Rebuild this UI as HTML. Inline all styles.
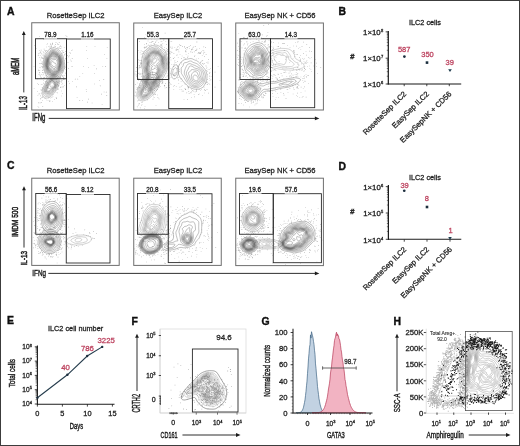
<!DOCTYPE html><html><head><meta charset="utf-8"><style>html,body{margin:0;padding:0;background:#fff;overflow:hidden;width:520px;height:446px;}svg{display:block;}</style></head><body><svg width="520" height="446" viewBox="0 0 520 446" font-family='"Liberation Sans", sans-serif'>
<rect x="0" y="0" width="520" height="446" fill="#fff"/>
<defs><filter id="soft" x="0" y="0" width="100%" height="100%"><feGaussianBlur stdDeviation="0.35"/></filter></defs>
<g filter="url(#soft)">
<text x="7.10" y="15.10" font-size="10.4" text-anchor="start" fill="#111" font-weight="bold" stroke="#111" stroke-width="0.4">A</text>
<line x1="23.80" y1="34.50" x2="23.80" y2="92.40" stroke="#1a1a1a" stroke-width="0.9"/>
<path d="M23.80,31.00 L21.90,35.00 L25.70,35.00Z" fill="#1a1a1a"/>
<text x="18.80" y="66.40" font-size="10.2" text-anchor="middle" fill="#1a1a1a" textLength="17.2" lengthAdjust="spacingAndGlyphs" transform="rotate(-90 18.80 66.40)" stroke="#1a1a1a" stroke-width="0.5">aMEM</text>
<text x="26.90" y="103.15" font-size="10.2" text-anchor="middle" fill="#1a1a1a" textLength="13.9" lengthAdjust="spacingAndGlyphs" transform="rotate(-90 26.90 103.15)" stroke="#1a1a1a" stroke-width="0.5">IL-13</text>
<text x="32.30" y="120.70" font-size="10.4" text-anchor="start" fill="#1a1a1a" textLength="13.0" lengthAdjust="spacingAndGlyphs" stroke="#1a1a1a" stroke-width="0.5">IFNg</text>
<line x1="48.75" y1="118.40" x2="315.40" y2="118.40" stroke="#1a1a1a" stroke-width="0.9"/>
<path d="M319.40,118.40 L314.90,116.50 L314.90,120.30Z" fill="#1a1a1a"/>
<rect x="31.75" y="22.75" width="87.55" height="87.25" stroke="#6e6e6e" stroke-width="1.0" fill="none"/>
<text x="75.60" y="17.70" font-size="7.6" text-anchor="middle" fill="#222" stroke="#222" stroke-width="0.28">RosetteSep ILC2</text>
<defs><clipPath id="cA1"><rect x="32.35" y="23.35" width="86.35" height="86.05000000000001"/></clipPath></defs>
<g fill="none" stroke="#444" stroke-width="0.45" stroke-opacity="0.75" stroke-linejoin="round" clip-path="url(#cA1)"><path d="M56.0,79.2 54.0,79.2 52.4,78.9 48.8,77.5 48.0,77.0 47.2,76.3 46.2,75.0 45.2,72.8 43.7,67.6 43.4,66.0 43.3,63.2 43.4,61.2 44.3,56.8 44.7,55.4 45.2,54.4 45.8,53.5 48.2,50.6 49.5,49.1 50.4,48.6 51.2,48.3 53.4,47.8 54.2,47.8 55.0,47.9 56.5,48.5 57.8,49.1 58.9,50.0 60.9,52.4 62.9,55.8 63.3,56.8 64.7,64.6 64.7,66.0 64.4,67.8 63.2,71.6 62.6,72.8 61.4,74.4 60.4,76.2 59.7,77.0 57.5,78.5 56.8,78.9 56.0,79.2Z"/><path d="M56.0,77.8 53.5,77.7 52.2,77.5 49.4,76.4 48.5,75.9 47.9,75.3 47.0,74.0 46.1,72.2 44.6,67.3 44.3,65.8 44.3,63.8 44.4,62.0 45.2,57.1 45.8,55.4 46.5,54.3 50.0,50.6 51.4,49.8 52.4,49.4 53.2,49.3 54.0,49.3 54.8,49.5 56.2,49.9 57.0,50.3 59.8,53.0 60.6,54.0 61.9,56.1 62.4,57.4 63.5,63.8 63.6,65.8 63.4,67.3 62.7,70.0 62.0,71.8 60.2,74.0 59.2,75.6 58.6,76.3 57.2,77.4 56.0,77.8Z"/><path d="M56.2,76.6 53.8,76.7 52.4,76.5 50.0,75.6 48.5,74.7 47.6,73.6 46.8,71.8 45.3,67.3 45.0,66.0 44.9,64.2 45.0,62.6 45.5,60.0 45.8,57.6 46.3,56.1 47.0,55.2 48.4,53.8 50.2,51.7 51.5,50.8 53.0,50.4 54.4,50.5 56.0,51.2 59.0,53.4 60.0,54.4 61.0,56.0 61.7,57.6 62.6,62.4 62.6,64.0 62.5,67.3 62.1,69.2 61.6,70.8 61.0,71.8 59.4,73.5 58.0,75.5 57.2,76.2 56.2,76.6Z"/><path d="M55.8,75.8 53.8,75.9 52.2,75.7 50.2,75.0 49.0,74.1 48.1,73.0 47.0,70.8 45.9,67.3 45.5,65.8 45.4,64.2 45.5,62.8 46.4,58.0 46.8,56.8 47.3,56.0 48.8,54.4 50.5,52.3 51.8,51.5 53.0,51.2 54.2,51.3 55.4,51.8 58.4,53.7 59.5,54.8 60.3,56.0 61.1,57.8 61.4,59.0 61.9,62.0 62.0,63.8 61.6,67.8 61.4,69.2 61.0,70.3 60.4,71.4 58.7,73.2 57.4,74.9 56.5,75.5 55.8,75.8Z"/><path d="M55.4,75.2 53.5,75.3 52.2,75.1 50.5,74.5 49.3,73.6 48.5,72.5 47.2,69.8 46.2,67.2 45.9,65.6 45.9,64.2 46.0,62.8 46.8,58.4 47.3,57.1 47.8,56.4 50.8,52.9 51.8,52.2 53.0,51.9 54.0,51.9 55.0,52.3 58.2,54.2 59.2,55.0 59.9,56.1 60.7,58.0 61.0,59.4 61.4,62.0 61.5,63.2 61.4,64.6 60.8,69.0 60.3,70.3 59.7,71.3 58.2,72.9 56.9,74.3 56.2,74.9 55.4,75.2Z"/><path d="M54.8,74.8 53.2,74.8 52.0,74.6 50.8,74.0 49.8,73.2 49.1,72.3 47.4,69.3 46.6,67.2 46.3,65.6 46.2,64.2 46.4,62.8 47.2,58.8 47.5,57.6 48.1,56.8 51.0,53.4 52.0,52.7 53.0,52.4 53.8,52.4 54.8,52.8 58.0,54.5 58.9,55.4 59.6,56.6 60.4,58.4 60.7,59.8 61.1,62.2 61.1,63.4 60.9,64.8 60.2,69.2 59.8,70.3 59.3,71.2 57.8,72.6 56.5,74.0 55.8,74.5 54.8,74.8Z"/><path d="M54.4,74.4 53.2,74.4 52.0,74.2 51.2,73.7 50.2,73.0 48.3,70.2 47.7,69.2 46.8,67.0 46.6,65.3 46.6,64.0 46.7,62.6 47.4,59.1 47.8,58.0 48.4,57.1 51.2,53.8 52.2,53.1 53.2,52.9 54.0,53.0 54.8,53.3 57.8,54.9 58.7,55.8 59.5,57.0 60.1,58.6 60.5,60.1 60.8,62.4 60.8,63.6 60.6,65.0 59.8,69.3 59.4,70.3 58.8,71.2 56.2,73.7 55.4,74.2 54.4,74.4Z"/><path d="M54.4,74.0 53.2,74.0 52.2,73.8 51.4,73.4 50.7,72.8 48.0,69.0 47.2,67.2 46.8,65.6 46.9,64.2 47.0,62.6 47.6,59.4 48.1,58.1 48.6,57.4 51.2,54.3 52.2,53.6 53.2,53.4 54.0,53.5 54.8,53.8 57.5,55.2 58.5,56.0 59.2,57.1 59.8,58.8 60.3,60.6 60.5,62.4 60.5,63.6 60.3,65.0 59.4,69.3 59.1,70.2 58.5,71.0 56.0,73.3 55.2,73.8 54.4,74.0Z"/><path d="M53.8,73.6 52.5,73.4 51.6,73.0 51.0,72.3 50.0,71.0 48.8,69.6 48.1,68.8 47.6,67.6 47.2,66.3 47.1,65.3 47.2,63.6 47.4,61.8 47.9,59.6 48.3,58.4 49.0,57.4 51.2,54.9 52.2,54.2 53.2,53.9 54.4,54.1 57.0,55.3 57.8,55.8 58.4,56.4 59.1,57.6 59.6,59.0 60.0,61.0 60.2,62.8 60.0,65.2 59.3,67.8 59.0,69.3 58.7,70.2 58.1,71.0 55.5,73.1 54.8,73.4 53.8,73.6Z"/><path d="M54.5,73.0 53.8,73.1 53.0,73.0 52.2,72.8 51.7,72.3 50.5,70.9 49.2,69.5 48.5,68.8 47.8,67.2 47.4,65.8 47.7,61.8 48.1,59.8 48.5,58.6 49.2,57.6 51.2,55.4 52.2,54.7 53.2,54.5 54.2,54.6 56.8,55.7 57.5,56.1 58.0,56.6 58.7,57.6 59.2,58.8 59.7,60.8 59.9,62.4 60.0,63.8 59.8,65.2 58.5,70.0 58.1,70.6 57.4,71.2 55.5,72.5 54.5,73.0Z"/><path d="M54.5,72.4 53.8,72.5 53.2,72.4 52.5,72.2 52.1,72.0 51.0,70.5 49.4,69.2 48.8,68.6 48.2,67.3 47.8,66.0 48.0,61.8 48.3,60.1 48.7,59.0 49.5,57.8 51.2,56.0 52.0,55.5 53.0,55.2 54.0,55.3 56.4,56.1 57.2,56.4 57.8,56.9 58.4,57.7 58.8,58.8 59.4,60.8 59.6,62.4 59.7,64.0 59.5,65.3 58.1,69.8 57.7,70.3 57.0,71.0 55.5,71.9 54.5,72.4Z"/><path d="M54.4,71.8 53.5,71.8 52.7,71.6 51.2,69.9 49.5,68.6 48.7,67.3 48.3,66.0 48.4,61.8 48.6,60.4 48.9,59.4 49.5,58.3 50.8,57.0 51.8,56.3 52.5,56.0 53.4,56.1 56.2,56.6 57.0,56.9 57.5,57.4 58.0,58.0 58.5,59.0 59.0,61.0 59.3,62.4 59.3,64.0 59.2,65.3 57.5,69.7 57.0,70.3 56.4,70.9 55.4,71.4 54.4,71.8Z"/><path d="M54.8,71.0 54.2,71.1 53.5,71.1 52.8,70.6 51.5,69.3 49.8,67.8 49.2,67.0 48.9,66.2 48.8,62.2 48.9,61.0 49.2,60.0 49.6,59.0 50.4,58.1 51.4,57.3 52.2,56.9 52.8,56.9 55.8,57.2 56.4,57.4 57.0,57.6 57.5,58.1 57.8,58.8 58.7,61.8 58.9,64.3 58.8,65.3 58.5,66.2 56.8,69.8 56.0,70.5 54.8,71.0Z"/><path d="M55.0,70.0 54.4,70.1 54.0,70.1 53.2,69.7 52.0,68.3 50.4,66.8 50.0,66.2 49.7,65.6 49.4,62.6 49.4,61.6 49.6,60.8 50.0,59.9 50.5,59.1 51.2,58.6 52.0,58.3 55.5,58.2 56.4,58.4 56.9,58.8 57.2,59.1 58.0,61.4 58.2,62.6 58.3,64.2 58.3,65.0 58.1,65.8 56.0,69.2 55.5,69.7 55.0,70.0Z"/><path d="M54.8,68.6 54.2,68.7 53.5,68.4 50.9,65.8 50.6,65.2 50.3,64.3 50.1,63.4 50.1,62.4 50.3,61.6 50.5,61.0 51.0,60.5 51.4,60.2 52.5,59.8 55.5,59.5 56.0,59.6 56.4,59.9 57.0,61.1 57.3,62.6 57.5,64.8 57.3,65.6 57.0,66.2 55.4,68.1 54.8,68.6Z"/><path d="M54.5,66.8 54.0,66.8 53.4,66.5 52.0,65.4 51.4,64.7 51.0,64.0 50.9,63.0 51.2,62.2 51.5,61.8 52.2,61.6 53.0,61.7 54.2,62.8 55.5,63.4 56.0,63.8 56.2,64.6 56.2,65.4 55.5,66.2 54.5,66.8Z"/></g>
<path fill="#999" d="M61.5 81.4h.60v.60h-.60zM61.9 76.2h.60v.60h-.60zM62.1 80.2h.60v.60h-.60zM39.5 69.9h.60v.60h-.60zM42.0 70.3h.60v.60h-.60zM53.4 90.7h.60v.60h-.60zM37.0 78.7h.60v.60h-.60zM43.9 77.3h.60v.60h-.60zM58.7 80.4h.60v.60h-.60zM67.1 55.3h.60v.60h-.60zM50.2 44.4h.60v.60h-.60zM41.5 63.0h.60v.60h-.60zM46.1 46.7h.60v.60h-.60zM57.1 82.4h.60v.60h-.60zM51.1 78.9h.60v.60h-.60zM61.3 50.4h.60v.60h-.60zM62.5 51.0h.60v.60h-.60zM41.1 74.5h.60v.60h-.60zM50.3 79.3h.60v.60h-.60zM43.7 56.4h.60v.60h-.60zM39.8 75.5h.60v.60h-.60zM40.9 77.6h.60v.60h-.60zM49.8 45.7h.60v.60h-.60zM51.6 85.7h.60v.60h-.60zM50.5 48.0h.60v.60h-.60zM43.2 80.5h.60v.60h-.60zM64.4 68.3h.60v.60h-.60zM72.2 66.0h.60v.60h-.60zM39.9 55.2h.60v.60h-.60zM62.8 52.5h.60v.60h-.60zM45.3 50.4h.60v.60h-.60zM45.9 91.2h.60v.60h-.60zM59.8 77.6h.60v.60h-.60zM65.0 51.1h.60v.60h-.60zM53.9 45.8h.60v.60h-.60zM44.9 81.1h.60v.60h-.60zM39.5 63.3h.60v.60h-.60zM50.7 38.5h.60v.60h-.60zM55.0 46.3h.60v.60h-.60zM54.7 82.1h.60v.60h-.60zM68.5 56.6h.60v.60h-.60zM63.9 54.8h.60v.60h-.60zM72.1 81.4h.60v.60h-.60zM50.3 81.6h.60v.60h-.60zM62.2 93.0h.60v.60h-.60zM49.0 83.9h.60v.60h-.60zM47.4 87.6h.60v.60h-.60zM45.6 52.7h.60v.60h-.60zM42.3 67.7h.60v.60h-.60zM34.4 44.9h.60v.60h-.60zM33.7 66.2h.60v.60h-.60zM43.5 69.4h.60v.60h-.60zM64.2 60.5h.60v.60h-.60zM51.0 44.8h.60v.60h-.60zM42.6 66.8h.60v.60h-.60zM69.3 52.0h.60v.60h-.60zM39.3 72.6h.60v.60h-.60zM38.7 74.1h.60v.60h-.60zM58.5 44.1h.60v.60h-.60zM65.4 58.4h.60v.60h-.60zM57.0 47.0h.60v.60h-.60zM39.1 57.4h.60v.60h-.60zM63.3 77.4h.60v.60h-.60zM43.4 78.2h.60v.60h-.60zM62.4 83.5h.60v.60h-.60zM42.8 51.2h.60v.60h-.60zM47.3 43.4h.60v.60h-.60zM51.7 79.6h.60v.60h-.60zM67.7 62.1h.60v.60h-.60zM40.5 52.6h.60v.60h-.60zM61.5 74.9h.60v.60h-.60zM42.2 57.5h.60v.60h-.60zM68.9 55.2h.60v.60h-.60zM57.0 44.4h.60v.60h-.60zM39.5 72.0h.60v.60h-.60zM42.0 66.6h.60v.60h-.60zM44.3 52.7h.60v.60h-.60zM47.7 77.5h.60v.60h-.60zM51.5 79.8h.60v.60h-.60zM46.2 85.5h.60v.60h-.60zM41.4 56.8h.60v.60h-.60zM40.5 63.2h.60v.60h-.60zM41.9 63.6h.60v.60h-.60zM59.2 46.4h.60v.60h-.60zM55.5 90.4h.60v.60h-.60zM39.3 50.2h.60v.60h-.60zM38.5 53.6h.60v.60h-.60zM62.7 75.9h.60v.60h-.60zM35.4 52.5h.60v.60h-.60zM37.2 83.4h.60v.60h-.60zM46.2 80.6h.60v.60h-.60zM49.0 80.7h.60v.60h-.60zM68.2 81.5h.60v.60h-.60zM72.2 49.7h.60v.60h-.60zM52.3 44.3h.60v.60h-.60zM57.4 84.1h.60v.60h-.60zM43.7 73.4h.60v.60h-.60zM42.6 74.7h.60v.60h-.60zM43.3 58.3h.60v.60h-.60zM45.2 51.3h.60v.60h-.60zM65.7 58.5h.60v.60h-.60zM64.0 66.0h.60v.60h-.60zM61.9 52.8h.60v.60h-.60zM56.5 81.3h.60v.60h-.60zM43.2 52.2h.60v.60h-.60zM40.8 49.8h.60v.60h-.60zM35.9 48.4h.60v.60h-.60zM42.9 72.5h.60v.60h-.60zM59.6 77.0h.60v.60h-.60zM41.8 58.4h.60v.60h-.60zM39.7 67.3h.60v.60h-.60zM68.5 56.7h.60v.60h-.60zM52.1 85.7h.60v.60h-.60zM71.5 66.4h.60v.60h-.60zM55.7 42.3h.60v.60h-.60zM60.4 76.6h.60v.60h-.60zM68.3 68.3h.60v.60h-.60zM66.0 77.2h.60v.60h-.60zM42.8 55.3h.60v.60h-.60zM39.4 36.4h.60v.60h-.60zM63.5 52.3h.60v.60h-.60zM65.9 67.2h.60v.60h-.60zM43.0 74.5h.60v.60h-.60zM39.8 52.5h.60v.60h-.60zM65.3 58.7h.60v.60h-.60zM42.1 72.1h.60v.60h-.60zM46.2 75.0h.60v.60h-.60zM60.9 47.7h.60v.60h-.60zM52.1 43.3h.60v.60h-.60zM45.8 76.8h.60v.60h-.60zM40.5 51.5h.60v.60h-.60zM65.6 34.9h.60v.60h-.60zM51.4 46.9h.60v.60h-.60zM60.1 48.3h.60v.60h-.60zM55.0 87.6h.60v.60h-.60zM51.1 46.3h.60v.60h-.60zM43.6 70.2h.60v.60h-.60zM52.2 42.8h.60v.60h-.60zM41.8 61.8h.60v.60h-.60zM43.8 48.8h.60v.60h-.60zM50.2 78.5h.60v.60h-.60zM62.6 75.3h.60v.60h-.60zM44.9 74.9h.60v.60h-.60zM63.7 79.1h.60v.60h-.60zM55.4 44.3h.60v.60h-.60zM46.7 43.9h.60v.60h-.60zM40.1 76.5h.60v.60h-.60zM60.0 86.8h.60v.60h-.60zM42.2 96.8h.60v.60h-.60zM64.2 53.9h.60v.60h-.60zM43.6 56.7h.60v.60h-.60zM65.6 69.5h.60v.60h-.60zM44.8 91.0h.60v.60h-.60zM45.9 50.0h.60v.60h-.60zM60.0 45.0h.60v.60h-.60zM63.9 47.4h.60v.60h-.60zM38.1 69.8h.60v.60h-.60zM58.7 47.1h.60v.60h-.60zM46.9 86.9h.60v.60h-.60zM65.6 58.0h.60v.60h-.60zM52.1 80.0h.60v.60h-.60zM63.7 78.2h.60v.60h-.60zM41.6 66.1h.60v.60h-.60zM60.6 81.2h.60v.60h-.60zM39.8 74.7h.60v.60h-.60zM60.8 46.5h.60v.60h-.60zM37.9 55.3h.60v.60h-.60zM58.1 85.2h.60v.60h-.60zM40.8 57.7h.60v.60h-.60zM66.3 71.6h.60v.60h-.60zM50.4 46.8h.60v.60h-.60zM65.4 66.8h.60v.60h-.60zM50.3 78.4h.60v.60h-.60zM57.0 43.5h.60v.60h-.60zM66.6 36.3h.60v.60h-.60zM65.1 72.8h.60v.60h-.60zM49.9 31.9h.60v.60h-.60zM48.6 46.3h.60v.60h-.60zM44.0 49.9h.60v.60h-.60zM57.8 48.1h.60v.60h-.60zM60.1 87.3h.60v.60h-.60zM58.4 81.8h.60v.60h-.60zM51.3 46.2h.60v.60h-.60zM59.1 80.9h.60v.60h-.60zM42.8 53.8h.60v.60h-.60zM41.8 61.6h.60v.60h-.60zM46.7 77.3h.60v.60h-.60zM57.7 78.1h.60v.60h-.60zM56.6 79.0h.60v.60h-.60zM40.9 83.9h.60v.60h-.60zM60.3 45.9h.60v.60h-.60zM42.7 69.7h.60v.60h-.60zM40.2 59.7h.60v.60h-.60zM64.9 53.6h.60v.60h-.60zM52.9 47.5h.60v.60h-.60zM60.1 48.2h.60v.60h-.60zM66.0 48.1h.60v.60h-.60zM50.2 43.6h.60v.60h-.60zM63.4 86.6h.60v.60h-.60zM53.3 81.1h.60v.60h-.60zM70.9 60.8h.60v.60h-.60zM44.4 71.8h.60v.60h-.60zM42.4 64.5h.60v.60h-.60zM40.8 63.2h.60v.60h-.60zM46.6 50.5h.60v.60h-.60zM44.6 71.6h.60v.60h-.60zM61.1 79.9h.60v.60h-.60zM44.1 77.0h.60v.60h-.60zM38.6 70.2h.60v.60h-.60zM47.0 81.9h.60v.60h-.60zM58.9 42.3h.60v.60h-.60zM43.5 39.3h.60v.60h-.60zM59.0 48.4h.60v.60h-.60zM49.2 47.7h.60v.60h-.60zM53.8 80.5h.60v.60h-.60zM41.2 53.6h.60v.60h-.60zM38.7 53.3h.60v.60h-.60zM42.4 58.4h.60v.60h-.60zM62.6 50.3h.60v.60h-.60zM40.7 77.3h.60v.60h-.60z"/>
<g fill="none" stroke="#444" stroke-width="0.45" stroke-opacity="0.5625" stroke-linejoin="round" clip-path="url(#cA1)"><path d="M47.4,98.0 46.0,98.1 45.1,98.0 44.5,97.8 44.0,97.4 43.4,97.0 42.7,95.8 42.2,94.0 42.3,90.8 42.5,89.2 43.0,87.5 44.7,84.0 45.9,81.8 47.5,79.8 49.8,77.4 51.5,76.0 53.8,75.0 54.8,74.7 55.5,74.7 56.4,74.8 57.0,75.0 57.9,75.6 58.5,76.3 59.0,77.2 59.2,78.2 59.3,80.3 59.2,83.0 59.0,84.6 58.5,86.2 57.0,89.0 56.2,90.4 54.5,92.5 53.0,94.3 51.5,95.7 50.0,96.9 48.8,97.5 47.4,98.0Z"/><path d="M47.5,96.6 46.1,96.7 45.1,96.4 44.4,95.8 43.7,94.8 43.3,93.4 43.1,90.5 43.2,89.4 43.7,88.0 46.3,82.3 47.5,80.8 49.4,78.9 51.2,77.4 53.2,76.4 54.5,76.0 55.4,76.1 56.0,76.2 56.8,76.7 57.4,77.3 57.8,78.2 58.2,79.3 58.3,81.2 58.3,83.3 58.1,84.8 57.7,86.0 55.8,89.5 52.5,93.5 51.4,94.6 50.2,95.5 48.8,96.2 47.5,96.6Z"/><path d="M47.1,95.4 46.4,95.3 45.8,95.1 45.1,94.6 44.8,94.1 44.2,93.0 43.9,90.5 43.9,89.5 44.2,88.5 46.4,83.6 47.0,82.3 48.0,81.2 49.5,79.6 50.8,78.6 52.0,77.9 53.5,77.3 54.5,77.1 55.4,77.3 56.0,77.8 56.6,78.6 57.1,79.6 57.4,80.8 57.5,82.3 57.5,84.0 57.3,85.2 56.9,86.3 55.3,89.2 51.7,93.4 50.8,94.1 49.8,94.6 48.4,95.1 47.1,95.4Z"/><path d="M48.0,94.2 47.0,94.2 46.1,94.0 45.5,93.5 45.0,92.8 44.7,91.5 44.5,90.2 44.6,89.2 45.0,88.2 47.1,83.2 47.8,82.2 48.8,81.1 50.4,79.6 51.8,78.8 53.5,78.2 54.2,78.1 54.8,78.2 55.4,78.6 55.9,79.3 56.4,80.3 56.6,81.3 56.9,82.8 56.9,84.2 56.8,85.2 56.5,86.2 55.8,87.4 55.0,88.7 53.0,90.8 51.4,92.8 50.8,93.3 50.0,93.7 48.0,94.2Z"/><path d="M48.5,93.4 47.5,93.5 46.8,93.4 46.1,93.1 45.6,92.5 45.2,91.8 45.0,90.5 45.0,89.5 45.3,88.5 47.4,83.6 47.9,82.6 48.8,81.6 50.4,80.1 51.5,79.4 53.2,78.9 53.8,78.9 54.4,79.1 55.0,79.5 55.4,80.0 55.8,80.8 56.1,81.8 56.4,83.2 56.4,84.3 56.3,85.3 56.1,86.2 55.4,87.4 54.7,88.4 52.5,90.5 51.2,92.2 50.2,92.9 48.5,93.4Z"/><path d="M47.8,92.8 46.8,92.6 46.1,92.2 45.7,91.4 45.5,90.2 45.7,89.0 47.8,83.7 48.3,82.8 49.0,81.9 50.0,81.0 51.0,80.2 51.8,79.8 52.5,79.6 53.4,79.7 54.0,79.8 54.5,80.3 55.0,80.8 55.4,81.6 55.7,82.6 55.9,83.8 56.0,84.8 55.9,85.6 55.6,86.3 55.0,87.4 54.4,88.2 52.1,90.2 50.5,91.9 49.5,92.4 47.8,92.8Z"/><path d="M48.5,92.0 47.5,92.1 46.8,91.8 46.2,91.2 46.0,90.4 46.2,89.4 48.0,84.2 49.0,82.5 49.7,81.8 50.5,81.0 51.4,80.5 52.0,80.3 52.8,80.3 53.4,80.4 53.9,80.8 54.4,81.2 54.8,82.0 55.1,82.8 55.5,84.0 55.5,84.8 55.5,85.6 55.3,86.2 54.7,87.2 53.8,88.2 51.6,89.8 50.0,91.4 49.4,91.7 48.5,92.0Z"/><path d="M48.0,91.6 47.4,91.5 46.8,91.2 46.5,90.5 46.5,90.0 48.0,85.2 48.5,83.8 49.5,82.3 51.0,81.1 51.5,80.8 52.2,80.6 53.2,80.8 53.8,81.2 54.2,81.8 55.0,83.3 55.3,85.0 55.2,85.8 54.9,86.3 54.4,87.2 53.8,87.9 53.0,88.5 51.4,89.4 49.8,90.9 49.0,91.3 48.0,91.6Z"/><path d="M48.2,91.0 47.7,91.0 47.3,90.8 47.1,90.4 47.0,90.0 48.0,86.3 48.8,84.0 49.7,82.6 50.8,81.6 51.4,81.2 52.0,81.0 52.5,81.1 53.0,81.2 53.5,81.6 54.0,82.1 54.7,83.8 55.0,85.2 54.7,86.3 54.1,87.2 53.4,87.9 51.0,89.1 49.4,90.5 48.8,90.8 48.2,91.0Z"/><path d="M49.2,88.8 48.8,88.9 48.6,88.5 48.5,87.2 48.9,85.3 49.5,83.8 50.4,82.6 51.2,81.9 52.0,81.6 52.8,81.8 53.6,82.6 54.4,84.0 54.6,85.2 54.4,86.2 53.8,87.0 53.0,87.6 52.2,87.9 50.2,88.3 49.2,88.8Z"/><path d="M52.5,87.2 51.8,87.2 51.1,87.0 50.2,86.3 50.0,85.8 50.1,84.8 50.6,83.6 51.3,82.8 52.0,82.5 52.5,82.6 53.2,83.2 53.8,84.1 54.0,85.0 54.0,85.6 53.8,86.3 53.2,86.9 52.5,87.2Z"/></g>
<path fill="#999" d="M61.2 90.7h.60v.60h-.60zM40.9 90.1h.60v.60h-.60zM47.7 100.5h.60v.60h-.60zM49.1 70.5h.60v.60h-.60zM41.9 87.1h.60v.60h-.60zM61.9 72.0h.60v.60h-.60zM45.9 76.6h.60v.60h-.60zM40.8 89.1h.60v.60h-.60zM49.6 100.2h.60v.60h-.60zM63.4 78.9h.60v.60h-.60zM48.2 97.6h.60v.60h-.60zM64.0 85.0h.60v.60h-.60zM54.1 68.4h.60v.60h-.60zM55.8 97.2h.60v.60h-.60zM44.1 97.7h.60v.60h-.60zM57.1 89.1h.60v.60h-.60zM45.0 72.0h.60v.60h-.60zM61.8 86.6h.60v.60h-.60zM61.5 82.0h.60v.60h-.60zM41.6 97.1h.60v.60h-.60zM58.3 89.5h.60v.60h-.60zM52.5 72.7h.60v.60h-.60zM40.9 92.8h.60v.60h-.60zM49.2 97.5h.60v.60h-.60zM66.1 66.2h.60v.60h-.60zM40.5 98.3h.60v.60h-.60zM61.6 84.0h.60v.60h-.60zM37.9 93.7h.60v.60h-.60zM53.9 73.9h.60v.60h-.60zM40.2 98.7h.60v.60h-.60zM45.9 80.9h.60v.60h-.60zM37.6 94.9h.60v.60h-.60zM38.5 107.4h.60v.60h-.60zM55.5 91.7h.60v.60h-.60zM37.0 90.9h.60v.60h-.60zM59.6 81.7h.60v.60h-.60zM59.6 71.4h.60v.60h-.60zM39.8 102.6h.60v.60h-.60zM37.7 105.9h.60v.60h-.60zM51.6 97.1h.60v.60h-.60zM41.2 102.3h.60v.60h-.60zM54.8 71.4h.60v.60h-.60zM39.0 93.6h.60v.60h-.60zM60.7 63.0h.60v.60h-.60zM40.1 95.6h.60v.60h-.60zM51.9 70.5h.60v.60h-.60zM55.0 74.5h.60v.60h-.60zM45.9 99.7h.60v.60h-.60zM54.4 71.3h.60v.60h-.60zM38.5 102.7h.60v.60h-.60zM50.4 97.7h.60v.60h-.60zM58.5 85.2h.60v.60h-.60zM71.9 58.1h.60v.60h-.60zM49.4 72.0h.60v.60h-.60zM58.3 86.4h.60v.60h-.60zM38.0 84.1h.60v.60h-.60zM55.0 74.3h.60v.60h-.60zM43.1 77.0h.60v.60h-.60zM56.7 92.4h.60v.60h-.60zM57.7 88.3h.60v.60h-.60zM55.1 67.5h.60v.60h-.60zM33.8 88.0h.60v.60h-.60zM51.4 73.3h.60v.60h-.60zM53.1 94.0h.60v.60h-.60zM49.6 100.6h.60v.60h-.60zM42.3 88.6h.60v.60h-.60zM60.8 70.6h.60v.60h-.60zM64.1 75.5h.60v.60h-.60zM47.5 72.6h.60v.60h-.60zM61.7 86.9h.60v.60h-.60zM60.8 79.7h.60v.60h-.60zM52.5 73.8h.60v.60h-.60zM59.3 83.0h.60v.60h-.60zM63.5 77.6h.60v.60h-.60zM52.0 101.2h.60v.60h-.60zM56.0 97.8h.60v.60h-.60zM54.4 68.8h.60v.60h-.60zM38.2 102.4h.60v.60h-.60zM60.3 77.1h.60v.60h-.60zM63.3 78.0h.60v.60h-.60zM54.8 74.3h.60v.60h-.60zM42.8 96.7h.60v.60h-.60zM62.7 67.0h.60v.60h-.60zM54.0 99.0h.60v.60h-.60zM52.6 96.5h.60v.60h-.60zM57.5 92.7h.60v.60h-.60zM45.9 81.0h.60v.60h-.60zM42.5 106.3h.60v.60h-.60zM46.8 78.8h.60v.60h-.60zM45.0 98.2h.60v.60h-.60zM49.5 71.4h.60v.60h-.60zM42.2 100.2h.60v.60h-.60zM60.6 78.4h.60v.60h-.60zM43.3 82.8h.60v.60h-.60zM52.3 94.7h.60v.60h-.60zM56.3 98.5h.60v.60h-.60zM49.5 101.3h.60v.60h-.60zM41.8 84.0h.60v.60h-.60zM53.6 72.7h.60v.60h-.60zM61.0 95.7h.60v.60h-.60z"/>
<rect x="35.50" y="38.75" width="31.00" height="40.00" stroke="#2a2a2a" stroke-width="0.9" fill="none"/>
<rect x="66.50" y="39.00" width="43.75" height="69.60" stroke="#2a2a2a" stroke-width="0.9" fill="none"/>
<rect x="44.00" y="38.05" width="13" height="1.4" fill="#fff" fill-opacity="0.72"/>
<text x="50.50" y="37.20" font-size="6.3" text-anchor="middle" fill="#222" stroke="#222" stroke-width="0.28">78.9</text>
<rect x="81.00" y="38.30" width="13" height="1.4" fill="#fff" fill-opacity="0.72"/>
<text x="87.50" y="37.20" font-size="6.3" text-anchor="middle" fill="#222" stroke="#222" stroke-width="0.28">1.16</text>
<path fill="#8a8a8a" d="M105.4 66.3h.60v.60h-.60zM99.1 80.2h.60v.60h-.60zM79.5 100.1h.60v.60h-.60zM102.5 66.5h.60v.60h-.60zM106.6 58.2h.60v.60h-.60zM99.9 85.6h.60v.60h-.60zM86.5 46.5h.60v.60h-.60zM103.5 79.1h.60v.60h-.60zM83.3 66.0h.60v.60h-.60zM93.8 65.5h.60v.60h-.60zM88.0 67.0h.60v.60h-.60zM69.9 59.7h.60v.60h-.60zM101.3 93.8h.60v.60h-.60zM94.4 72.9h.60v.60h-.60zM106.5 95.1h.60v.60h-.60zM77.5 78.8h.60v.60h-.60zM105.9 91.8h.60v.60h-.60zM82.5 72.9h.60v.60h-.60zM88.4 98.8h.60v.60h-.60zM96.3 68.6h.60v.60h-.60zM86.2 50.2h.60v.60h-.60zM87.4 58.4h.60v.60h-.60zM71.4 50.2h.60v.60h-.60zM76.3 86.6h.60v.60h-.60zM74.9 78.8h.60v.60h-.60zM91.8 102.7h.60v.60h-.60zM86.0 91.2h.60v.60h-.60zM69.1 83.4h.60v.60h-.60zM106.9 47.5h.60v.60h-.60zM104.0 54.0h.60v.60h-.60zM94.7 46.2h.60v.60h-.60zM70.2 52.8h.60v.60h-.60zM103.8 91.7h.60v.60h-.60zM94.2 83.7h.60v.60h-.60zM79.5 76.4h.60v.60h-.60zM87.0 101.8h.60v.60h-.60zM85.9 89.5h.60v.60h-.60zM82.0 100.2h.60v.60h-.60zM101.8 104.2h.60v.60h-.60zM76.8 96.9h.60v.60h-.60z"/>
<rect x="133.75" y="23.00" width="87.50" height="87.00" stroke="#6e6e6e" stroke-width="1.0" fill="none"/>
<text x="178.00" y="17.70" font-size="7.6" text-anchor="middle" fill="#222" stroke="#222" stroke-width="0.28">EasySep ILC2</text>
<defs><clipPath id="cA2"><rect x="134.35" y="23.6" width="86.30000000000001" height="85.80000000000001"/></clipPath></defs>
<g fill="none" stroke="#444" stroke-width="0.45" stroke-opacity="0.675" stroke-linejoin="round" clip-path="url(#cA2)"><path d="M150.3,90.2 149.3,90.3 148.3,90.1 146.3,89.4 145.3,88.9 144.7,88.4 144.2,87.8 143.6,86.8 143.2,85.6 142.8,84.0 142.7,82.4 142.7,79.6 142.4,76.4 142.5,69.6 141.6,66.4 141.4,65.0 141.6,60.6 142.6,55.8 143.0,54.2 144.0,52.2 145.5,50.4 147.8,48.2 149.3,47.1 150.6,46.4 151.9,45.8 153.8,45.3 155.2,45.1 156.3,45.1 157.9,45.5 159.6,46.4 161.2,47.8 163.2,49.2 165.6,51.8 166.2,53.0 166.8,56.2 168.6,61.2 168.9,62.6 168.8,63.8 168.2,66.6 167.2,69.8 166.2,72.4 164.9,74.6 163.6,77.4 161.6,79.8 159.4,83.6 157.1,86.4 155.3,88.1 153.9,88.9 150.3,90.2Z"/><path d="M150.8,88.8 149.8,88.9 148.8,88.8 147.6,88.3 146.6,87.7 145.9,87.0 144.8,85.4 144.3,84.6 144.0,83.6 143.7,82.4 143.6,81.4 143.6,77.0 143.9,74.4 143.7,72.2 143.8,70.0 143.6,69.0 142.9,66.8 142.7,65.8 142.7,64.6 142.9,61.2 143.7,58.2 144.0,55.8 144.3,54.8 144.9,53.8 147.3,50.1 148.6,49.1 151.2,47.8 154.9,46.8 156.3,46.7 157.3,46.9 158.3,47.4 159.9,49.2 162.3,50.6 163.9,52.0 164.6,52.7 165.0,53.6 165.9,56.9 167.5,61.6 167.7,62.8 167.6,64.0 167.2,66.0 166.1,69.6 165.5,71.0 163.6,74.0 162.5,76.6 160.8,78.8 159.2,81.5 156.7,85.0 155.2,86.7 153.6,87.7 150.8,88.8Z"/><path d="M150.6,87.8 149.8,87.8 148.9,87.7 148.2,87.2 147.6,86.8 145.3,84.2 144.9,83.4 144.5,82.4 144.4,81.0 144.6,77.6 145.1,74.8 144.6,72.2 144.5,69.4 143.7,66.2 143.8,61.0 144.1,60.0 145.5,55.4 146.9,53.0 147.8,51.4 148.3,50.6 149.3,49.9 151.3,49.0 153.9,48.6 155.8,48.2 156.6,48.2 157.6,48.5 159.2,49.9 161.2,51.2 163.3,53.4 163.9,54.1 164.9,56.3 166.6,61.6 166.8,62.8 166.7,64.2 166.4,65.8 165.3,69.4 164.9,70.4 164.3,71.4 162.7,73.6 161.5,76.4 160.1,78.2 158.9,80.2 157.5,82.0 156.0,84.4 154.9,85.5 153.9,86.3 152.9,86.9 151.6,87.5 150.6,87.8Z"/><path d="M150.9,86.8 150.2,86.9 149.6,86.8 148.8,86.4 147.9,85.9 146.9,85.0 146.0,83.8 145.3,82.8 145.1,82.0 145.0,81.2 145.0,80.2 145.4,77.6 146.0,75.8 146.0,75.0 145.3,72.2 145.2,69.6 144.6,66.8 144.7,64.4 144.6,61.4 144.7,60.4 145.2,58.4 145.9,56.6 148.5,52.2 149.2,51.4 150.2,50.8 151.9,50.0 155.3,49.4 156.3,49.4 157.3,49.8 160.3,51.6 163.8,55.4 164.5,57.0 165.8,61.8 166.0,63.0 165.9,64.2 165.6,65.4 164.4,69.6 163.6,71.0 161.8,73.6 161.2,75.6 160.8,76.4 159.5,78.0 158.3,79.9 156.8,81.6 155.8,83.3 155.2,84.1 154.2,85.0 152.9,85.9 151.9,86.5 150.9,86.8Z"/><path d="M150.9,86.0 150.3,86.0 149.6,85.9 148.8,85.5 147.8,84.8 146.9,84.1 146.2,83.2 145.8,82.4 145.6,81.8 145.6,80.4 146.8,75.2 146.7,74.4 145.9,72.0 145.7,69.6 145.3,67.4 145.6,64.6 145.6,62.4 145.4,60.6 145.4,59.6 145.7,58.4 146.3,57.2 148.7,53.4 149.8,52.2 151.2,51.3 152.8,50.7 154.8,50.4 156.2,50.4 157.9,51.0 159.6,51.9 160.1,52.4 161.3,54.0 162.8,55.4 163.5,56.2 164.1,57.6 165.0,61.8 165.1,63.2 165.0,64.4 163.8,69.2 162.8,71.0 161.0,73.4 160.8,74.0 160.5,75.6 160.1,76.4 158.0,79.4 156.4,81.2 155.3,82.8 154.8,83.5 152.4,85.4 151.8,85.8 150.9,86.0Z"/><path d="M151.3,85.2 150.8,85.4 149.9,85.3 149.2,85.0 148.2,84.5 147.3,83.8 146.8,83.2 146.2,82.4 146.0,81.8 146.0,80.6 146.7,77.6 147.2,76.0 147.3,75.2 147.2,74.2 146.4,72.0 146.2,69.8 145.8,67.8 145.9,67.0 146.2,65.6 146.3,64.6 146.3,62.0 146.0,60.2 146.0,59.2 146.3,58.2 146.7,57.4 147.8,55.8 148.9,54.0 149.9,52.8 151.2,52.0 152.8,51.4 154.3,51.0 155.8,51.0 157.9,51.6 159.2,52.2 159.8,52.8 160.9,54.4 162.3,55.6 163.0,56.4 163.4,57.2 163.7,58.2 164.4,62.4 164.4,64.2 163.3,68.6 162.0,71.0 160.4,73.2 160.1,74.0 160.0,75.4 159.6,76.4 157.8,79.1 156.1,80.8 154.6,83.0 152.3,84.7 151.3,85.2Z"/><path d="M151.2,84.6 150.6,84.7 149.8,84.6 148.9,84.4 148.2,83.9 147.6,83.4 147.0,82.8 146.6,82.2 146.4,81.6 146.5,80.6 147.2,77.6 147.7,76.0 147.8,75.2 147.6,74.0 146.8,71.8 146.3,68.0 146.3,67.2 146.8,65.4 146.9,62.0 146.9,61.2 146.5,59.8 146.5,59.0 146.7,58.2 147.0,57.6 148.2,56.1 149.3,54.2 150.3,53.2 151.3,52.5 152.9,51.8 154.3,51.5 155.6,51.6 157.8,52.0 158.8,52.4 159.4,53.0 160.6,54.6 162.1,56.0 162.6,56.6 163.0,57.4 163.2,58.2 163.4,60.0 163.9,62.4 163.9,64.0 162.8,68.1 161.5,69.8 160.8,71.4 159.6,73.2 159.4,73.8 159.5,75.4 159.1,76.4 157.6,78.7 155.8,80.6 154.3,82.6 152.3,84.0 151.2,84.6Z"/><path d="M151.2,84.1 150.6,84.2 149.9,84.2 148.6,83.7 147.5,82.8 147.1,82.2 146.9,81.6 146.9,80.8 147.5,78.0 148.1,76.0 148.2,75.2 148.0,73.8 147.2,71.4 146.6,68.0 146.7,67.2 147.2,65.6 147.2,63.4 147.4,61.6 147.4,60.8 147.0,59.4 147.0,58.8 147.4,57.8 148.5,56.2 149.6,54.6 150.2,53.8 151.2,53.1 152.8,52.3 154.2,52.0 155.2,52.0 157.3,52.3 158.3,52.7 158.9,53.1 160.2,54.6 161.9,56.2 162.5,57.0 162.8,58.0 163.0,60.2 163.4,62.4 163.4,64.0 162.3,67.4 161.9,68.0 160.9,68.9 160.6,69.4 160.1,71.2 158.9,73.2 158.8,74.0 159.0,75.6 158.5,76.8 157.3,78.6 155.7,80.2 154.2,82.3 153.2,83.0 151.2,84.1Z"/><path d="M151.2,83.4 149.9,83.6 148.8,83.2 148.2,82.8 147.8,82.4 147.4,81.6 147.4,81.0 147.9,78.0 148.5,76.0 148.6,75.0 148.4,73.6 147.6,71.2 147.0,68.2 147.1,67.4 147.6,65.6 147.6,63.4 147.9,61.2 147.8,60.4 147.5,59.2 147.5,58.6 147.9,57.8 149.9,54.7 150.6,54.0 151.4,53.4 152.9,52.7 154.2,52.4 154.9,52.5 157.6,52.8 158.2,53.0 158.8,53.4 160.1,55.0 161.6,56.4 162.2,57.2 162.5,58.2 162.6,60.2 163.0,62.4 163.0,63.8 161.7,67.0 161.3,67.5 160.2,68.4 159.9,69.0 159.4,71.2 158.2,73.6 158.1,74.2 158.4,75.4 158.4,75.8 158.2,76.6 157.6,77.6 156.9,78.6 155.3,80.2 153.9,82.0 152.9,82.7 151.2,83.4Z"/><path d="M150.9,82.8 149.9,82.9 148.9,82.7 148.3,82.2 148.0,81.4 148.2,78.2 148.9,76.0 149.0,75.0 148.8,73.0 147.9,70.6 147.4,68.2 147.5,67.4 147.9,65.8 147.9,63.4 148.3,61.0 148.3,60.2 148.1,59.0 148.1,58.4 148.5,57.6 150.2,55.0 150.9,54.3 151.9,53.6 153.2,53.1 154.2,52.9 157.6,53.2 158.2,53.4 158.7,53.8 159.8,55.0 161.2,56.4 161.8,57.2 162.1,58.2 162.3,60.2 162.6,62.2 162.6,63.6 162.2,64.6 161.3,66.2 160.9,66.8 159.8,67.8 159.3,68.6 158.9,71.2 157.6,73.8 157.5,74.6 157.8,76.0 157.6,76.8 157.2,77.6 156.6,78.4 155.3,79.8 153.8,81.7 152.8,82.3 150.9,82.8Z"/><path d="M151.3,82.0 150.2,82.0 149.3,81.7 148.9,81.2 148.7,80.2 148.6,78.2 148.9,77.4 149.5,76.0 149.6,75.0 149.4,72.6 148.3,70.2 147.9,68.4 148.0,67.6 148.4,66.0 148.2,63.6 148.8,60.6 148.7,58.4 149.2,57.4 150.3,55.7 151.2,54.9 152.2,54.2 153.2,53.7 154.2,53.5 157.3,53.6 157.9,53.8 158.6,54.2 161.0,56.6 161.5,57.4 161.8,58.4 161.9,60.2 162.2,62.2 162.2,63.2 161.9,64.0 161.3,65.0 160.8,65.7 159.4,67.0 158.9,68.0 158.7,68.8 158.4,71.0 157.1,73.4 156.8,74.4 156.8,75.0 157.1,76.4 157.0,77.0 156.7,77.6 156.3,78.2 154.9,79.6 153.6,81.3 152.8,81.7 151.3,82.0Z"/><path d="M152.2,81.2 150.9,81.2 150.0,80.8 149.4,80.0 149.2,79.0 149.2,78.4 149.3,77.8 150.4,76.2 150.6,75.6 150.4,72.4 149.0,70.0 148.7,69.2 148.5,68.4 149.0,66.2 148.7,64.2 148.7,63.4 149.3,60.6 149.4,58.4 149.8,57.4 150.8,56.2 151.3,55.7 153.2,54.5 153.8,54.2 154.6,54.1 156.6,54.0 157.3,54.1 157.9,54.3 158.3,54.6 160.5,56.6 161.1,57.4 161.3,58.4 161.4,60.0 161.8,62.2 161.7,63.0 161.5,63.6 161.2,64.3 160.6,65.0 159.1,66.2 158.3,67.6 158.1,68.6 157.9,71.0 157.5,71.8 156.2,74.0 155.9,74.8 155.9,75.4 156.3,76.6 156.2,77.5 155.8,78.0 154.6,79.2 153.4,80.6 152.9,81.0 152.2,81.2Z"/><path d="M154.2,75.1 153.8,75.1 153.2,74.9 152.4,74.4 152.2,73.8 152.5,72.2 152.3,71.6 151.9,71.2 150.3,70.3 149.7,69.4 149.5,68.4 149.9,67.0 149.9,66.4 149.2,64.4 149.2,63.2 149.9,60.6 150.3,58.4 150.9,57.4 154.2,55.0 155.3,54.7 156.9,54.6 157.6,54.8 158.2,55.2 159.9,56.8 160.5,57.4 160.7,58.2 160.9,60.0 161.2,61.8 161.2,62.6 161.0,63.4 160.6,64.0 158.8,65.4 158.2,66.2 157.3,68.4 157.2,70.6 156.9,71.5 156.3,72.6 155.3,74.0 154.8,74.6 154.2,75.1Z"/><path d="M152.3,80.3 151.3,80.3 150.8,80.1 150.4,79.8 150.0,79.0 150.0,78.6 150.2,78.1 150.6,77.7 151.2,77.5 154.3,77.4 154.4,77.6 154.3,77.8 153.4,79.4 152.9,79.9 152.3,80.3Z"/><path d="M153.2,69.4 152.8,69.5 152.2,69.5 151.6,69.2 151.3,68.8 151.3,68.4 151.3,68.0 152.2,66.6 152.2,66.2 152.0,65.8 150.8,65.0 150.2,64.4 149.9,63.6 150.0,62.8 151.1,59.6 151.4,59.0 151.9,58.4 153.2,57.3 154.2,56.2 154.8,55.8 155.8,55.5 156.9,55.6 157.8,56.0 158.7,56.8 159.6,57.8 160.4,61.4 160.4,62.6 160.2,63.1 159.8,63.6 158.3,64.5 157.9,64.9 156.8,67.0 156.2,67.7 155.6,68.1 154.3,68.6 153.2,69.4Z"/><path d="M155.3,66.2 154.8,66.1 153.5,64.8 151.7,63.8 151.4,63.4 151.3,62.8 151.7,60.8 152.3,59.6 154.8,57.1 155.3,56.8 155.9,56.7 156.5,56.8 156.9,57.1 158.0,58.2 159.0,60.4 159.3,61.2 159.3,61.8 159.2,62.2 158.9,62.6 157.6,63.3 157.2,63.6 156.2,65.7 155.8,66.1 155.3,66.2Z"/><path d="M154.6,63.2 154.2,63.3 153.8,63.3 153.3,63.1 152.9,62.8 152.6,62.0 152.7,61.0 153.0,60.2 153.8,59.4 154.9,58.5 155.3,58.3 155.8,58.3 156.2,58.5 156.7,59.0 157.0,59.6 157.1,60.2 156.9,60.6 155.8,61.5 154.9,62.8 154.6,63.2Z"/></g>
<path fill="#999" d="M169.6 51.8h.60v.60h-.60zM167.0 53.8h.60v.60h-.60zM165.8 50.1h.60v.60h-.60zM161.5 43.9h.60v.60h-.60zM139.0 66.6h.60v.60h-.60zM140.1 67.3h.60v.60h-.60zM142.7 53.0h.60v.60h-.60zM171.5 64.4h.60v.60h-.60zM164.0 85.6h.60v.60h-.60zM166.3 48.4h.60v.60h-.60zM169.0 58.7h.60v.60h-.60zM179.7 54.2h.60v.60h-.60zM142.0 78.2h.60v.60h-.60zM142.7 89.6h.60v.60h-.60zM162.5 43.4h.60v.60h-.60zM173.5 63.9h.60v.60h-.60zM137.7 62.4h.60v.60h-.60zM153.5 43.0h.60v.60h-.60zM158.2 42.4h.60v.60h-.60zM139.2 67.5h.60v.60h-.60zM173.9 85.1h.60v.60h-.60zM139.8 60.3h.60v.60h-.60zM138.9 65.3h.60v.60h-.60zM162.6 80.8h.60v.60h-.60zM154.1 44.1h.60v.60h-.60zM152.5 90.0h.60v.60h-.60zM138.5 73.3h.60v.60h-.60zM166.6 51.6h.60v.60h-.60zM138.6 68.7h.60v.60h-.60zM167.2 50.8h.60v.60h-.60zM161.9 82.4h.60v.60h-.60zM148.3 91.2h.60v.60h-.60zM143.7 51.9h.60v.60h-.60zM137.2 38.5h.60v.60h-.60zM149.1 46.4h.60v.60h-.60zM162.0 78.9h.60v.60h-.60zM167.9 65.6h.60v.60h-.60zM149.9 44.8h.60v.60h-.60zM147.7 40.7h.60v.60h-.60zM174.2 75.2h.60v.60h-.60zM139.6 65.2h.60v.60h-.60zM148.2 44.8h.60v.60h-.60zM140.5 63.5h.60v.60h-.60zM135.7 71.1h.60v.60h-.60zM164.1 85.1h.60v.60h-.60zM170.7 59.7h.60v.60h-.60zM139.8 52.5h.60v.60h-.60zM162.5 83.0h.60v.60h-.60zM161.1 47.0h.60v.60h-.60zM173.1 86.5h.60v.60h-.60zM151.2 39.2h.60v.60h-.60zM168.1 51.3h.60v.60h-.60zM169.1 62.5h.60v.60h-.60zM139.2 41.1h.60v.60h-.60zM156.6 39.8h.60v.60h-.60zM138.8 67.6h.60v.60h-.60zM166.3 48.3h.60v.60h-.60zM157.9 85.1h.60v.60h-.60zM157.0 86.2h.60v.60h-.60zM167.8 49.2h.60v.60h-.60zM149.7 42.1h.60v.60h-.60zM151.6 41.6h.60v.60h-.60zM140.3 74.2h.60v.60h-.60zM145.5 89.7h.60v.60h-.60zM145.6 34.4h.60v.60h-.60zM159.0 86.7h.60v.60h-.60zM168.0 74.7h.60v.60h-.60zM161.6 83.3h.60v.60h-.60zM142.2 73.2h.60v.60h-.60zM147.8 91.4h.60v.60h-.60zM141.1 63.3h.60v.60h-.60zM170.3 46.8h.60v.60h-.60zM163.6 38.6h.60v.60h-.60zM167.9 67.7h.60v.60h-.60zM166.7 73.5h.60v.60h-.60zM173.7 66.0h.60v.60h-.60zM180.9 63.7h.60v.60h-.60zM142.9 85.4h.60v.60h-.60zM160.2 44.4h.60v.60h-.60zM145.2 47.1h.60v.60h-.60zM147.9 38.9h.60v.60h-.60zM139.8 87.4h.60v.60h-.60zM164.8 32.8h.60v.60h-.60zM164.7 87.7h.60v.60h-.60zM157.2 97.0h.60v.60h-.60zM147.2 45.7h.60v.60h-.60zM175.6 62.1h.60v.60h-.60zM139.1 87.3h.60v.60h-.60zM142.2 51.2h.60v.60h-.60zM136.4 67.3h.60v.60h-.60zM157.6 85.7h.60v.60h-.60zM152.4 92.3h.60v.60h-.60zM151.2 42.5h.60v.60h-.60zM141.7 56.8h.60v.60h-.60zM145.9 46.3h.60v.60h-.60zM160.8 45.7h.60v.60h-.60zM146.1 43.5h.60v.60h-.60zM146.3 43.6h.60v.60h-.60zM154.4 43.4h.60v.60h-.60zM145.4 92.2h.60v.60h-.60zM169.9 57.1h.60v.60h-.60zM157.4 89.3h.60v.60h-.60zM142.3 27.0h.60v.60h-.60zM153.1 95.7h.60v.60h-.60zM138.8 78.6h.60v.60h-.60zM139.6 79.4h.60v.60h-.60zM150.5 38.1h.60v.60h-.60zM174.3 63.8h.60v.60h-.60zM137.1 65.7h.60v.60h-.60zM168.9 53.3h.60v.60h-.60zM154.6 39.2h.60v.60h-.60zM144.4 46.8h.60v.60h-.60zM163.5 39.8h.60v.60h-.60zM171.6 73.8h.60v.60h-.60zM174.1 61.7h.60v.60h-.60zM170.0 51.5h.60v.60h-.60zM172.6 69.3h.60v.60h-.60zM171.7 48.3h.60v.60h-.60zM138.8 72.8h.60v.60h-.60zM139.0 74.0h.60v.60h-.60zM169.9 53.6h.60v.60h-.60zM175.0 73.6h.60v.60h-.60zM140.6 65.9h.60v.60h-.60zM134.6 95.5h.60v.60h-.60zM141.2 60.3h.60v.60h-.60zM161.6 41.2h.60v.60h-.60zM144.5 47.8h.60v.60h-.60zM167.1 49.0h.60v.60h-.60zM140.7 62.8h.60v.60h-.60zM169.0 87.3h.60v.60h-.60zM137.8 59.3h.60v.60h-.60zM136.7 74.4h.60v.60h-.60zM160.3 45.4h.60v.60h-.60zM161.9 46.7h.60v.60h-.60zM168.6 57.9h.60v.60h-.60zM174.5 74.5h.60v.60h-.60zM158.4 97.7h.60v.60h-.60zM141.3 80.1h.60v.60h-.60zM156.7 86.2h.60v.60h-.60zM169.1 82.3h.60v.60h-.60zM170.6 41.0h.60v.60h-.60zM138.7 60.0h.60v.60h-.60zM144.4 44.0h.60v.60h-.60zM165.5 41.4h.60v.60h-.60zM170.5 68.0h.60v.60h-.60zM162.4 79.9h.60v.60h-.60zM140.3 81.5h.60v.60h-.60zM142.3 52.9h.60v.60h-.60zM158.5 87.4h.60v.60h-.60zM136.1 76.0h.60v.60h-.60zM160.3 86.4h.60v.60h-.60zM161.7 45.7h.60v.60h-.60zM164.5 85.6h.60v.60h-.60zM149.1 45.0h.60v.60h-.60zM143.6 53.0h.60v.60h-.60zM141.7 73.6h.60v.60h-.60zM141.9 80.8h.60v.60h-.60zM137.8 50.3h.60v.60h-.60zM135.8 74.8h.60v.60h-.60zM169.0 66.7h.60v.60h-.60zM146.4 43.2h.60v.60h-.60zM152.5 92.8h.60v.60h-.60zM154.6 94.0h.60v.60h-.60zM144.0 37.4h.60v.60h-.60zM134.7 73.7h.60v.60h-.60zM140.8 53.8h.60v.60h-.60zM146.0 95.2h.60v.60h-.60zM166.9 75.4h.60v.60h-.60zM160.4 38.7h.60v.60h-.60zM140.8 85.4h.60v.60h-.60zM140.8 50.6h.60v.60h-.60zM172.9 74.9h.60v.60h-.60zM173.5 89.0h.60v.60h-.60zM164.5 49.1h.60v.60h-.60zM160.7 40.9h.60v.60h-.60zM143.3 90.8h.60v.60h-.60zM161.0 44.8h.60v.60h-.60zM166.2 44.1h.60v.60h-.60zM155.6 41.2h.60v.60h-.60zM155.4 42.3h.60v.60h-.60zM144.7 50.0h.60v.60h-.60zM169.8 82.9h.60v.60h-.60zM160.7 81.1h.60v.60h-.60zM180.7 78.1h.60v.60h-.60zM164.1 47.4h.60v.60h-.60zM146.2 46.8h.60v.60h-.60zM159.1 85.2h.60v.60h-.60zM143.4 51.4h.60v.60h-.60zM171.5 41.5h.60v.60h-.60zM156.5 34.8h.60v.60h-.60zM162.5 82.3h.60v.60h-.60zM151.5 44.8h.60v.60h-.60zM152.5 41.5h.60v.60h-.60zM143.8 46.9h.60v.60h-.60zM154.2 89.9h.60v.60h-.60zM166.1 87.1h.60v.60h-.60zM140.3 64.4h.60v.60h-.60zM165.4 51.8h.60v.60h-.60zM152.7 40.9h.60v.60h-.60zM156.0 90.5h.60v.60h-.60z"/>
<g fill="none" stroke="#444" stroke-width="0.45" stroke-opacity="0.6" stroke-linejoin="round" clip-path="url(#cA2)"><path d="M143.3,100.8 142.2,100.9 140.9,100.7 140.2,100.5 139.3,100.0 138.6,99.3 137.9,98.4 137.4,97.4 137.1,96.2 136.9,95.2 136.9,94.0 137.4,91.0 137.8,89.6 139.8,84.2 142.5,79.6 144.3,77.0 145.3,75.8 146.8,74.7 148.9,73.4 151.6,72.5 152.6,72.4 153.8,72.4 154.8,72.6 155.8,72.9 156.8,73.6 157.7,74.8 158.6,76.8 159.4,79.4 159.5,81.2 159.1,84.4 158.8,85.8 158.2,87.4 157.2,89.4 156.1,91.0 154.0,93.6 150.6,97.2 149.2,98.3 147.2,99.5 144.8,100.5 143.3,100.8Z"/><path d="M142.9,99.6 142.2,99.6 141.3,99.4 140.6,99.0 139.9,98.6 139.3,98.0 138.8,97.2 138.4,96.4 138.2,95.4 138.1,93.4 138.6,90.8 139.0,89.4 140.8,85.2 142.4,82.6 143.6,80.4 144.2,79.6 146.2,77.4 147.6,76.2 149.3,75.1 150.8,74.6 153.8,74.5 154.6,74.6 155.2,74.8 155.9,75.4 156.4,76.2 157.7,79.2 158.0,80.2 158.0,81.6 157.7,84.8 157.4,86.0 157.0,87.0 156.3,88.2 152.8,93.0 149.4,96.6 148.2,97.6 146.8,98.3 144.3,99.3 142.9,99.6Z"/><path d="M142.9,98.6 142.2,98.5 141.6,98.4 140.5,97.6 139.6,96.4 139.2,94.8 139.2,92.8 139.5,90.8 140.0,89.6 141.6,86.0 143.6,83.3 144.6,81.0 145.1,80.2 145.9,79.3 147.6,78.0 149.6,76.7 150.8,76.1 151.6,76.0 153.2,76.0 153.8,76.1 154.3,76.3 154.9,76.8 155.3,77.4 156.3,79.8 156.6,80.8 156.7,82.2 156.6,84.4 156.3,85.6 155.9,86.6 153.9,89.4 151.8,92.8 148.8,96.0 147.8,96.8 146.6,97.4 144.2,98.4 142.9,98.6Z"/><path d="M143.2,97.8 142.2,97.7 141.3,97.3 140.7,96.6 140.2,95.6 140.0,94.2 140.1,92.2 140.4,90.8 140.9,89.6 142.5,86.4 144.3,84.0 145.5,81.4 145.8,80.8 146.3,80.2 148.3,78.7 150.2,77.8 151.6,77.6 152.3,77.7 153.2,78.0 153.8,78.4 154.3,79.1 154.9,80.2 155.3,81.5 155.6,82.8 155.6,84.0 155.4,85.0 155.1,86.0 153.2,88.6 151.4,92.2 150.2,93.6 148.2,95.6 147.2,96.3 144.9,97.3 143.2,97.8Z"/><path d="M143.2,97.2 142.3,97.1 141.7,96.8 141.1,96.2 140.8,95.4 140.7,94.2 140.7,92.2 140.9,91.0 141.4,89.8 143.1,86.8 145.0,84.6 146.1,81.8 146.9,80.8 148.6,79.6 149.9,78.9 151.2,78.8 152.3,79.2 153.0,79.6 153.6,80.3 154.6,82.4 154.8,83.2 154.8,84.0 154.7,84.8 154.4,85.4 154.1,86.0 152.6,87.8 151.2,91.4 150.7,92.2 150.1,93.0 147.9,95.1 146.9,95.8 144.6,96.8 143.2,97.2Z"/><path d="M143.6,96.6 142.8,96.7 142.2,96.5 141.7,96.0 141.3,95.2 141.1,94.0 141.2,92.2 141.4,91.0 141.8,90.0 143.4,87.2 145.1,85.4 145.6,84.8 146.6,82.4 147.3,81.4 148.3,80.6 149.6,80.0 150.6,79.8 151.6,80.0 152.6,80.8 153.8,82.6 154.1,83.8 154.1,84.4 153.9,85.0 153.5,85.6 152.3,86.8 151.9,87.4 150.9,91.0 150.5,91.8 149.9,92.6 147.8,94.7 146.9,95.3 145.8,95.9 143.6,96.6Z"/><path d="M143.8,96.0 143.2,96.1 142.6,96.0 142.1,95.6 141.7,94.8 141.6,93.4 141.6,92.0 141.8,91.0 142.3,89.8 143.8,87.4 146.0,85.2 147.3,82.8 147.9,82.0 148.8,81.4 149.6,81.2 150.3,81.1 151.2,81.4 152.2,82.1 152.9,82.8 153.3,83.6 153.3,84.2 153.0,85.0 151.8,86.3 151.3,87.0 151.1,87.8 150.7,90.0 150.2,91.4 149.3,92.6 146.9,94.8 145.9,95.3 143.8,96.0Z"/><path d="M143.8,95.4 143.0,95.4 142.6,95.1 142.2,94.4 142.1,93.2 142.1,92.0 142.3,91.0 142.7,90.0 143.5,88.6 144.4,87.4 146.6,85.4 147.9,83.5 148.6,82.9 149.2,82.6 149.9,82.5 150.8,82.7 151.6,83.1 152.2,83.8 152.2,84.4 151.0,86.0 150.7,86.6 150.2,89.8 150.0,90.8 149.6,91.7 148.8,92.6 146.8,94.3 145.8,94.9 143.8,95.4Z"/><path d="M144.9,94.4 144.2,94.6 143.6,94.6 143.2,94.3 142.8,93.8 142.7,93.0 142.7,91.8 142.9,90.8 143.2,90.0 144.1,88.4 145.2,87.2 148.2,85.1 148.8,84.8 149.3,84.8 149.6,85.0 149.7,85.4 149.9,88.0 149.7,89.6 149.3,90.9 148.6,92.0 147.2,93.3 146.2,94.0 144.9,94.4Z"/><path d="M145.3,93.0 144.3,93.0 144.1,92.8 143.9,92.4 143.7,91.8 143.7,91.0 144.1,89.6 144.9,88.4 145.9,87.4 147.3,86.6 147.9,86.5 148.3,86.6 148.8,86.9 148.9,87.2 149.2,88.0 149.1,89.2 148.7,90.4 148.2,91.3 147.3,92.1 146.3,92.7 145.3,93.0Z"/><path d="M146.8,91.0 145.9,91.1 145.4,90.8 145.1,90.2 145.1,89.6 145.5,88.8 146.3,88.0 147.2,87.6 147.8,87.6 148.1,87.8 148.3,88.2 148.3,89.2 147.8,90.3 147.3,90.7 146.8,91.0Z"/></g>
<path fill="#999" d="M154.6 92.9h.60v.60h-.60zM139.1 102.9h.60v.60h-.60zM138.1 78.6h.60v.60h-.60zM143.1 75.6h.60v.60h-.60zM141.4 102.4h.60v.60h-.60zM144.2 107.9h.60v.60h-.60zM158.8 98.7h.60v.60h-.60zM158.3 85.9h.60v.60h-.60zM149.8 71.6h.60v.60h-.60zM168.6 78.3h.60v.60h-.60zM161.9 80.8h.60v.60h-.60zM144.5 71.7h.60v.60h-.60zM140.7 79.6h.60v.60h-.60zM137.1 88.6h.60v.60h-.60zM161.6 75.5h.60v.60h-.60zM139.9 107.6h.60v.60h-.60zM159.7 76.6h.60v.60h-.60zM147.0 73.5h.60v.60h-.60zM142.2 101.8h.60v.60h-.60zM156.5 69.3h.60v.60h-.60zM142.9 75.8h.60v.60h-.60zM167.9 72.7h.60v.60h-.60zM159.4 79.6h.60v.60h-.60zM139.3 85.0h.60v.60h-.60zM136.8 87.5h.60v.60h-.60zM159.8 79.5h.60v.60h-.60zM156.9 65.7h.60v.60h-.60zM146.9 67.4h.60v.60h-.60zM136.9 106.6h.60v.60h-.60zM138.8 100.5h.60v.60h-.60zM137.9 99.9h.60v.60h-.60zM137.7 87.1h.60v.60h-.60zM165.0 83.3h.60v.60h-.60zM141.4 76.5h.60v.60h-.60zM147.7 72.7h.60v.60h-.60zM140.1 79.7h.60v.60h-.60zM157.2 94.7h.60v.60h-.60zM144.7 106.5h.60v.60h-.60zM152.2 66.4h.60v.60h-.60zM138.1 79.9h.60v.60h-.60zM145.8 70.5h.60v.60h-.60zM138.3 103.7h.60v.60h-.60zM159.1 84.0h.60v.60h-.60zM137.9 105.5h.60v.60h-.60zM141.7 104.4h.60v.60h-.60zM159.1 76.8h.60v.60h-.60zM138.1 86.4h.60v.60h-.60zM154.0 67.8h.60v.60h-.60zM137.2 89.0h.60v.60h-.60zM155.7 105.4h.60v.60h-.60zM137.0 100.7h.60v.60h-.60zM152.7 98.8h.60v.60h-.60zM137.6 88.2h.60v.60h-.60zM139.5 83.6h.60v.60h-.60zM135.2 84.1h.60v.60h-.60zM162.3 78.5h.60v.60h-.60zM155.2 94.1h.60v.60h-.60zM142.8 76.5h.60v.60h-.60zM153.6 94.3h.60v.60h-.60zM147.3 99.6h.60v.60h-.60zM157.0 67.8h.60v.60h-.60zM135.6 95.8h.60v.60h-.60zM149.3 71.0h.60v.60h-.60zM160.6 75.8h.60v.60h-.60zM149.1 66.3h.60v.60h-.60zM150.9 69.6h.60v.60h-.60zM156.7 89.5h.60v.60h-.60zM135.4 91.8h.60v.60h-.60zM153.8 97.3h.60v.60h-.60zM140.5 62.6h.60v.60h-.60zM144.8 75.5h.60v.60h-.60zM137.5 82.7h.60v.60h-.60zM141.2 105.2h.60v.60h-.60zM140.2 73.2h.60v.60h-.60zM166.7 76.5h.60v.60h-.60zM150.9 68.6h.60v.60h-.60zM136.0 89.4h.60v.60h-.60zM138.9 103.7h.60v.60h-.60zM156.7 73.2h.60v.60h-.60zM162.3 72.7h.60v.60h-.60z"/>
<g fill="none" stroke="#444" stroke-width="0.4" stroke-opacity="0.8" stroke-linejoin="round" clip-path="url(#cA2)"><path d="M197.9,89.2 195.6,89.3 193.3,88.9 190.6,87.7 188.1,86.2 186.8,85.2 185.2,83.4 183.2,81.6 181.8,79.4 180.1,77.4 179.3,76.0 178.6,74.2 178.3,72.8 178.1,68.6 178.4,66.8 179.5,64.4 180.9,62.4 182.3,60.9 184.2,59.8 185.9,59.3 189.9,58.6 190.9,58.5 192.2,58.8 194.2,59.8 196.6,60.7 198.2,61.7 199.6,63.0 204.5,68.8 205.3,69.8 205.8,70.8 206.3,72.0 206.8,74.0 207.0,75.2 207.0,76.4 206.9,78.2 206.7,79.4 205.5,83.0 203.9,86.0 203.4,86.7 202.8,87.3 201.9,87.8 200.6,88.5 199.2,89.0 197.9,89.2Z"/><path d="M197.8,87.6 196.8,87.8 195.6,87.7 194.2,87.4 192.8,87.0 190.9,86.1 188.6,84.2 187.6,83.2 186.5,81.8 184.9,79.2 183.6,76.8 181.8,74.0 181.5,73.4 181.3,72.6 181.3,70.4 181.2,68.2 181.6,67.4 182.8,66.3 183.1,65.8 183.3,65.2 183.5,63.8 183.8,63.3 184.2,63.0 184.8,62.7 186.9,62.4 188.9,61.4 189.8,61.1 190.6,61.0 191.3,61.2 193.2,62.4 196.2,63.4 197.6,64.2 200.8,67.0 203.0,69.6 204.1,71.2 204.8,72.8 205.3,74.6 205.5,75.6 205.2,78.8 204.6,81.0 203.6,83.0 202.5,84.6 201.8,85.4 201.0,86.0 199.6,86.8 197.8,87.6Z"/><path d="M196.9,86.4 195.9,86.5 194.9,86.4 192.9,85.8 191.9,85.2 188.8,82.5 188.1,81.8 187.6,81.0 185.9,77.0 184.6,74.4 184.3,73.2 184.3,72.0 185.3,68.6 186.9,65.2 187.8,64.4 188.9,63.8 189.8,63.6 190.3,63.7 192.6,64.7 194.8,65.4 199.2,67.7 200.2,68.5 201.9,70.4 202.7,71.6 203.2,72.6 203.8,75.0 204.0,76.2 203.9,79.2 203.5,80.8 202.6,82.2 200.1,84.6 198.4,85.9 196.9,86.4Z"/><path d="M196.3,85.2 195.6,85.3 194.8,85.2 193.3,84.7 192.3,83.9 189.8,81.6 189.2,80.8 188.8,80.0 187.4,76.2 186.4,74.2 186.3,73.0 186.6,71.8 187.9,69.6 189.2,66.8 189.6,66.3 189.9,66.0 190.6,65.9 191.6,66.1 192.8,66.7 194.8,68.1 197.6,68.8 198.8,69.3 199.6,69.8 200.5,70.8 201.2,71.6 201.6,72.4 201.8,74.8 202.6,78.6 202.7,79.4 202.5,80.2 202.2,80.8 201.7,81.4 198.2,84.4 197.3,84.9 196.3,85.2Z"/><path d="M195.8,83.8 194.8,83.6 193.3,82.9 192.2,82.1 191.3,81.2 190.7,80.2 189.7,78.0 189.1,75.4 188.5,73.8 188.4,73.0 188.7,72.4 189.2,72.0 190.5,71.2 190.8,70.8 191.3,69.8 191.8,69.5 192.3,69.5 194.3,69.9 196.9,70.2 197.9,70.6 198.8,71.2 199.3,71.8 199.6,72.4 199.9,75.0 201.3,78.4 201.5,79.2 201.4,79.8 201.2,80.3 200.7,80.8 197.3,83.3 196.6,83.7 195.8,83.8Z"/><path d="M196.9,82.1 196.3,82.2 195.6,82.1 193.2,81.1 192.7,80.8 192.3,80.2 191.6,78.4 191.4,77.4 191.3,76.6 191.5,75.0 191.7,74.2 192.2,73.4 192.9,72.5 193.6,72.0 194.2,71.7 195.2,71.6 195.9,71.7 196.6,71.9 197.0,72.4 197.4,73.0 198.1,75.0 199.7,78.0 200.0,78.8 200.0,79.6 199.4,80.4 198.2,81.4 196.9,82.1Z"/><path d="M196.3,80.8 195.3,80.6 194.2,80.0 193.6,79.4 193.2,78.7 193.0,77.6 193.1,76.6 193.7,75.6 194.3,75.1 194.8,75.0 195.3,75.1 196.6,75.7 197.5,76.8 198.1,78.0 198.3,79.0 198.1,79.8 197.3,80.5 196.3,80.8Z"/></g>
<path fill="#999" d="M174.1 57.4h.60v.60h-.60zM187.8 86.8h.60v.60h-.60zM206.4 68.5h.60v.60h-.60zM181.0 58.1h.60v.60h-.60zM203.9 92.7h.60v.60h-.60zM183.6 57.0h.60v.60h-.60zM178.0 79.2h.60v.60h-.60zM191.1 91.6h.60v.60h-.60zM196.0 90.6h.60v.60h-.60zM174.2 73.2h.60v.60h-.60zM196.4 50.2h.60v.60h-.60zM180.9 85.9h.60v.60h-.60zM201.4 88.9h.60v.60h-.60zM206.1 82.1h.60v.60h-.60zM212.5 82.7h.60v.60h-.60zM198.2 94.3h.60v.60h-.60zM207.7 62.8h.60v.60h-.60zM201.5 60.8h.60v.60h-.60zM180.8 81.2h.60v.60h-.60zM199.3 48.5h.60v.60h-.60zM174.4 78.2h.60v.60h-.60zM193.8 94.5h.60v.60h-.60zM180.8 78.8h.60v.60h-.60zM178.3 79.9h.60v.60h-.60zM206.5 62.0h.60v.60h-.60zM170.7 84.1h.60v.60h-.60zM177.2 68.3h.60v.60h-.60zM204.6 90.0h.60v.60h-.60zM181.8 84.9h.60v.60h-.60zM194.8 91.6h.60v.60h-.60zM187.3 85.9h.60v.60h-.60zM198.8 89.3h.60v.60h-.60zM202.5 60.0h.60v.60h-.60zM200.5 61.8h.60v.60h-.60zM209.4 75.8h.60v.60h-.60zM204.2 56.3h.60v.60h-.60zM176.8 77.5h.60v.60h-.60zM182.9 90.8h.60v.60h-.60zM185.1 89.4h.60v.60h-.60zM200.0 62.5h.60v.60h-.60zM204.0 89.1h.60v.60h-.60zM214.7 86.8h.60v.60h-.60zM190.7 92.7h.60v.60h-.60zM173.2 74.3h.60v.60h-.60zM190.2 92.5h.60v.60h-.60zM177.6 49.3h.60v.60h-.60zM174.9 71.9h.60v.60h-.60zM207.2 81.7h.60v.60h-.60zM208.4 59.3h.60v.60h-.60zM177.3 66.6h.60v.60h-.60zM198.9 93.7h.60v.60h-.60zM166.5 59.6h.60v.60h-.60zM188.5 91.3h.60v.60h-.60zM196.0 89.6h.60v.60h-.60zM209.6 72.3h.60v.60h-.60zM185.0 88.9h.60v.60h-.60zM175.9 72.0h.60v.60h-.60zM181.8 90.8h.60v.60h-.60zM210.0 68.5h.60v.60h-.60zM206.9 84.0h.60v.60h-.60zM207.2 71.5h.60v.60h-.60zM209.1 77.9h.60v.60h-.60zM180.6 62.0h.60v.60h-.60zM207.8 68.9h.60v.60h-.60zM187.0 57.1h.60v.60h-.60zM214.7 71.8h.60v.60h-.60zM165.5 77.5h.60v.60h-.60zM198.3 58.4h.60v.60h-.60zM183.7 99.2h.60v.60h-.60zM174.4 75.5h.60v.60h-.60zM217.8 66.5h.60v.60h-.60zM207.4 79.3h.60v.60h-.60zM196.2 91.2h.60v.60h-.60zM184.7 83.6h.60v.60h-.60zM196.6 40.9h.60v.60h-.60zM194.1 96.6h.60v.60h-.60zM192.8 47.3h.60v.60h-.60zM198.2 52.1h.60v.60h-.60zM196.4 58.7h.60v.60h-.60zM210.8 76.4h.60v.60h-.60zM198.9 52.7h.60v.60h-.60zM207.9 83.0h.60v.60h-.60zM196.3 89.4h.60v.60h-.60zM209.5 83.8h.60v.60h-.60zM184.7 88.1h.60v.60h-.60zM170.1 73.4h.60v.60h-.60zM203.7 86.8h.60v.60h-.60zM166.1 63.6h.60v.60h-.60zM208.2 92.8h.60v.60h-.60zM202.3 95.0h.60v.60h-.60zM188.4 87.1h.60v.60h-.60zM203.5 46.6h.60v.60h-.60zM179.6 89.2h.60v.60h-.60zM190.8 88.5h.60v.60h-.60zM219.7 80.2h.60v.60h-.60zM187.8 88.7h.60v.60h-.60zM185.7 84.4h.60v.60h-.60zM188.8 93.3h.60v.60h-.60zM183.8 57.6h.60v.60h-.60zM194.6 55.4h.60v.60h-.60zM185.5 89.0h.60v.60h-.60zM181.5 89.2h.60v.60h-.60zM206.7 89.1h.60v.60h-.60zM212.4 67.1h.60v.60h-.60zM205.7 64.9h.60v.60h-.60zM207.1 74.4h.60v.60h-.60zM167.9 64.2h.60v.60h-.60zM177.9 56.9h.60v.60h-.60zM209.2 73.3h.60v.60h-.60zM172.9 58.2h.60v.60h-.60zM206.3 81.4h.60v.60h-.60zM187.7 55.8h.60v.60h-.60zM205.2 90.1h.60v.60h-.60zM177.8 65.9h.60v.60h-.60zM205.4 83.3h.60v.60h-.60zM174.6 60.2h.60v.60h-.60zM192.9 90.8h.60v.60h-.60zM203.0 64.4h.60v.60h-.60zM206.8 82.2h.60v.60h-.60zM181.8 55.7h.60v.60h-.60zM205.8 65.9h.60v.60h-.60zM209.7 80.4h.60v.60h-.60zM207.7 61.7h.60v.60h-.60zM177.6 65.4h.60v.60h-.60zM206.9 84.3h.60v.60h-.60zM191.2 97.2h.60v.60h-.60zM173.3 58.3h.60v.60h-.60zM206.5 70.3h.60v.60h-.60zM187.0 99.1h.60v.60h-.60zM209.4 69.5h.60v.60h-.60zM178.5 83.2h.60v.60h-.60zM203.9 63.3h.60v.60h-.60zM185.4 58.6h.60v.60h-.60zM179.6 86.8h.60v.60h-.60zM192.2 90.1h.60v.60h-.60zM206.6 67.4h.60v.60h-.60zM188.8 46.1h.60v.60h-.60zM191.4 89.0h.60v.60h-.60zM202.2 62.9h.60v.60h-.60zM186.5 92.6h.60v.60h-.60zM173.3 65.8h.60v.60h-.60zM168.7 84.9h.60v.60h-.60zM175.9 86.2h.60v.60h-.60zM202.6 63.4h.60v.60h-.60zM181.2 61.9h.60v.60h-.60zM175.6 49.7h.60v.60h-.60zM185.1 50.5h.60v.60h-.60zM200.1 90.5h.60v.60h-.60zM188.4 87.6h.60v.60h-.60zM210.6 78.9h.60v.60h-.60z"/>
<g fill="none" stroke="#444" stroke-width="0.4" stroke-opacity="0.7" stroke-linejoin="round" clip-path="url(#cA2)"><path d="M174.3,79.0 173.6,78.9 172.9,78.6 172.4,77.8 171.9,76.8 171.4,75.6 171.2,74.6 171.2,73.4 171.2,72.0 171.5,70.6 171.9,69.2 172.5,68.0 173.2,66.8 173.8,66.0 174.6,65.4 175.3,65.0 176.2,64.9 176.8,65.1 177.3,65.6 177.8,66.2 178.2,67.0 178.7,69.0 178.7,70.4 178.6,71.6 177.9,74.6 177.0,76.8 176.3,77.7 175.8,78.4 175.2,78.8 174.3,79.0Z"/><path d="M174.8,76.0 174.3,76.0 173.9,75.9 173.6,75.6 173.1,75.0 172.7,73.8 172.7,72.2 173.1,70.4 173.8,69.0 174.8,68.0 175.3,67.7 175.8,67.7 176.3,68.1 176.9,69.0 177.2,70.2 177.2,71.6 176.8,73.2 176.3,74.6 175.6,75.6 174.8,76.0Z"/></g>
<path fill="#999" d="M176.2 64.4h.60v.60h-.60zM178.9 69.2h.60v.60h-.60zM177.4 61.3h.60v.60h-.60zM177.4 77.7h.60v.60h-.60zM170.7 77.0h.60v.60h-.60zM178.1 77.2h.60v.60h-.60zM179.0 71.2h.60v.60h-.60zM178.9 71.0h.60v.60h-.60zM179.4 76.7h.60v.60h-.60zM179.4 64.2h.60v.60h-.60z"/>
<rect x="137.50" y="38.75" width="31.25" height="40.75" stroke="#2a2a2a" stroke-width="0.9" fill="none"/>
<rect x="168.75" y="38.75" width="43.75" height="69.85" stroke="#2a2a2a" stroke-width="0.9" fill="none"/>
<rect x="146.50" y="38.05" width="13" height="1.4" fill="#fff" fill-opacity="0.72"/>
<text x="153.00" y="37.20" font-size="6.3" text-anchor="middle" fill="#222" stroke="#222" stroke-width="0.28">55.3</text>
<rect x="183.50" y="38.05" width="13" height="1.4" fill="#fff" fill-opacity="0.72"/>
<text x="190.00" y="37.20" font-size="6.3" text-anchor="middle" fill="#222" stroke="#222" stroke-width="0.28">25.7</text>
<path fill="#999" d="M191.1 49.6h.60v.60h-.60zM195.1 50.1h.60v.60h-.60zM185.8 54.5h.60v.60h-.60zM171.1 51.8h.60v.60h-.60zM200.4 53.2h.60v.60h-.60zM185.3 48.3h.60v.60h-.60zM191.6 51.7h.60v.60h-.60zM177.9 46.5h.60v.60h-.60zM187.4 47.1h.60v.60h-.60zM195.2 46.3h.60v.60h-.60zM191.3 48.9h.60v.60h-.60zM174.5 47.2h.60v.60h-.60zM201.2 51.6h.60v.60h-.60zM188.0 52.9h.60v.60h-.60zM202.7 50.3h.60v.60h-.60zM176.6 55.3h.60v.60h-.60zM203.6 50.7h.60v.60h-.60zM178.5 49.7h.60v.60h-.60zM177.6 46.4h.60v.60h-.60zM186.1 47.0h.60v.60h-.60zM173.6 53.1h.60v.60h-.60zM190.1 45.2h.60v.60h-.60zM194.4 56.1h.60v.60h-.60zM177.4 49.0h.60v.60h-.60zM190.4 51.6h.60v.60h-.60zM203.3 53.6h.60v.60h-.60zM176.8 53.9h.60v.60h-.60zM205.8 54.1h.60v.60h-.60zM185.7 51.6h.60v.60h-.60zM179.5 47.7h.60v.60h-.60zM195.3 50.2h.60v.60h-.60zM175.8 49.7h.60v.60h-.60zM205.3 47.3h.60v.60h-.60zM201.9 55.0h.60v.60h-.60zM199.3 53.1h.60v.60h-.60zM189.1 48.0h.60v.60h-.60zM176.2 48.8h.60v.60h-.60zM179.3 44.6h.60v.60h-.60zM200.2 52.7h.60v.60h-.60zM169.4 55.7h.60v.60h-.60zM171.8 51.9h.60v.60h-.60zM191.9 47.9h.60v.60h-.60zM198.9 52.5h.60v.60h-.60zM193.6 46.4h.60v.60h-.60zM196.1 49.7h.60v.60h-.60zM200.1 53.2h.60v.60h-.60zM185.0 51.2h.60v.60h-.60zM186.5 49.4h.60v.60h-.60zM196.6 48.8h.60v.60h-.60zM187.3 47.7h.60v.60h-.60zM180.2 45.1h.60v.60h-.60zM180.7 45.0h.60v.60h-.60zM202.0 59.9h.60v.60h-.60zM182.4 46.1h.60v.60h-.60zM200.0 52.2h.60v.60h-.60zM192.5 49.1h.60v.60h-.60zM184.4 46.8h.60v.60h-.60zM204.5 52.4h.60v.60h-.60zM184.2 45.9h.60v.60h-.60zM193.9 51.6h.60v.60h-.60zM171.8 46.8h.60v.60h-.60zM178.6 51.6h.60v.60h-.60zM176.5 50.0h.60v.60h-.60zM177.2 47.2h.60v.60h-.60zM196.6 42.5h.60v.60h-.60zM185.6 50.7h.60v.60h-.60zM192.2 51.9h.60v.60h-.60zM190.3 45.2h.60v.60h-.60zM203.6 51.9h.60v.60h-.60zM197.8 53.1h.60v.60h-.60z"/>
<rect x="235.75" y="23.00" width="87.65" height="87.00" stroke="#6e6e6e" stroke-width="1.0" fill="none"/>
<text x="280.00" y="17.70" font-size="7.6" text-anchor="middle" fill="#222" stroke="#222" stroke-width="0.28">EasySep NK + CD56</text>
<defs><clipPath id="cA3"><rect x="236.35" y="23.6" width="86.44999999999996" height="85.80000000000001"/></clipPath></defs>
<g fill="none" stroke="#444" stroke-width="0.45" stroke-opacity="0.75" stroke-linejoin="round" clip-path="url(#cA3)"><path d="M258.6,78.0 255.6,78.1 253.8,77.7 251.1,76.6 249.9,75.8 249.0,75.0 247.7,73.4 246.2,71.6 245.0,69.6 244.7,68.4 244.4,66.2 243.5,63.2 243.3,61.8 243.4,60.4 244.7,53.2 245.6,51.2 247.0,48.8 249.3,46.1 250.3,45.1 251.2,44.6 255.8,42.9 257.6,42.6 258.6,42.6 259.8,42.9 261.1,43.3 262.1,43.8 263.1,44.5 266.3,47.6 267.5,50.0 269.1,52.6 269.6,53.6 269.8,54.6 270.1,57.6 270.7,60.4 270.8,61.4 270.6,63.0 269.5,67.2 269.0,68.2 267.6,70.2 266.7,72.8 266.1,73.8 264.5,75.6 263.1,76.6 262.1,77.1 260.6,77.6 258.6,78.0Z"/><path d="M257.6,75.8 256.4,76.0 255.3,75.9 253.9,75.5 252.8,75.0 251.8,74.2 249.6,71.6 247.6,70.3 246.9,69.8 246.6,69.2 246.3,68.4 246.1,65.2 245.2,62.4 245.1,61.2 245.2,59.8 245.9,56.8 246.2,53.8 246.7,52.6 247.9,50.6 250.4,48.0 251.3,47.2 254.8,45.3 256.6,44.7 257.8,44.6 260.4,45.1 261.1,45.3 261.8,45.7 262.5,46.4 265.9,50.8 266.9,52.6 268.0,55.6 268.5,57.4 269.1,62.0 268.9,63.4 267.9,66.6 267.5,67.4 266.2,69.2 265.5,71.6 264.8,72.8 263.1,74.4 262.1,75.1 261.4,75.3 259.4,75.5 257.6,75.8Z"/><path d="M258.4,74.2 257.1,74.4 256.1,74.3 255.2,74.0 253.9,73.4 252.9,72.7 252.2,72.0 250.3,69.7 249.8,69.3 248.6,68.8 247.9,68.3 247.7,67.8 247.5,67.2 247.2,63.4 246.6,60.6 246.7,59.4 247.3,57.0 247.3,54.6 247.5,54.0 247.8,53.5 248.2,53.0 249.6,51.8 251.3,49.4 252.7,48.2 253.9,47.2 254.8,46.8 255.6,46.5 256.8,46.4 257.8,46.4 259.4,46.6 260.4,46.9 260.9,47.2 261.6,47.7 265.0,51.4 265.6,52.6 266.3,55.2 267.2,57.4 267.8,61.8 267.6,63.0 266.6,66.2 265.1,68.6 264.5,70.8 264.1,71.4 263.4,72.2 261.4,73.6 260.6,73.9 258.4,74.2Z"/><path d="M257.9,73.2 256.9,73.3 255.9,73.1 254.9,72.7 253.9,72.1 252.7,71.0 250.9,68.8 249.2,67.6 248.8,67.2 248.5,66.6 248.3,65.6 248.2,62.4 247.9,60.2 247.9,59.4 248.3,57.2 248.4,55.0 248.7,54.2 250.6,52.7 252.3,50.2 254.1,48.4 255.3,47.6 256.6,47.3 258.1,47.5 260.1,48.3 260.9,48.8 263.1,50.6 264.2,51.6 264.8,52.8 265.1,55.6 266.2,57.8 266.4,58.6 266.5,59.6 266.5,62.0 265.8,65.6 265.5,66.4 264.4,68.1 263.5,70.2 262.9,70.8 260.4,72.5 259.4,72.9 257.9,73.2Z"/><path d="M258.6,72.0 257.4,72.2 256.4,72.0 255.3,71.6 253.9,70.8 253.2,70.0 251.6,68.2 249.8,66.5 249.3,65.8 249.1,64.8 249.1,62.2 248.9,59.4 249.3,55.8 249.5,55.2 249.9,54.6 251.4,53.4 252.8,51.3 253.5,50.4 255.6,48.7 256.1,48.4 256.8,48.3 257.9,48.4 259.6,49.1 262.6,51.0 263.6,52.0 263.9,52.6 264.1,53.2 264.0,55.4 264.1,56.2 264.4,56.8 265.4,58.2 265.7,59.4 265.7,60.8 265.1,63.0 264.9,65.4 264.7,66.0 263.6,67.6 262.9,69.1 262.6,69.6 262.1,69.9 259.5,71.6 258.6,72.0Z"/><path d="M258.1,71.2 257.6,71.3 256.8,71.3 255.9,71.0 255.3,70.6 254.3,69.8 253.0,68.4 251.2,66.8 250.6,66.0 250.1,65.2 249.9,64.4 249.6,59.8 249.6,58.8 249.9,57.0 250.1,56.2 250.4,55.6 252.0,54.0 253.4,52.0 254.1,51.2 256.1,49.7 257.1,49.3 257.9,49.4 259.0,49.8 261.9,51.4 262.9,52.2 263.2,52.6 263.4,53.2 263.3,55.6 263.5,56.6 263.8,57.2 264.8,58.6 265.1,59.6 265.0,60.6 264.4,62.8 264.2,65.2 263.9,65.8 263.1,67.0 262.4,68.4 262.1,68.8 261.6,69.3 259.1,70.8 258.1,71.2Z"/><path d="M258.1,70.4 257.6,70.5 256.9,70.5 255.9,70.1 255.3,69.4 254.2,67.7 252.3,66.7 251.4,65.8 250.9,64.8 250.6,63.7 250.2,59.8 250.2,58.8 250.4,57.6 250.7,56.6 251.1,56.0 252.9,54.2 254.4,52.2 254.9,51.6 256.1,50.8 257.4,50.5 258.4,50.7 261.1,51.8 261.9,52.2 262.3,52.6 262.6,53.0 262.7,53.6 262.8,55.8 263.0,56.8 263.3,57.6 264.3,59.0 264.5,59.8 264.4,60.6 263.9,62.4 263.7,64.6 263.4,65.4 261.3,68.4 259.1,69.9 258.1,70.4Z"/><path d="M257.9,69.6 257.1,69.7 256.4,69.4 255.9,68.9 255.2,67.4 254.8,66.8 254.2,66.4 252.8,66.0 251.9,65.3 251.4,64.4 251.0,63.2 250.8,62.2 250.7,60.4 250.8,58.4 251.0,57.4 251.4,56.6 253.8,54.2 255.3,52.3 256.1,51.8 256.9,51.6 257.6,51.7 258.9,52.2 260.8,52.4 261.4,52.7 261.8,53.0 262.0,53.4 262.2,54.0 262.4,56.2 262.6,57.2 262.9,57.9 263.7,59.2 263.9,60.0 263.5,62.2 263.3,64.2 262.9,65.1 260.6,68.0 258.9,69.1 257.9,69.6Z"/><path d="M257.8,68.6 257.1,68.5 256.8,68.2 255.7,66.6 255.1,66.0 254.6,65.7 253.2,65.3 252.4,64.8 251.9,64.2 251.5,63.2 251.1,61.4 251.2,58.8 251.5,57.8 251.8,57.0 252.5,56.2 254.2,54.6 255.8,53.0 256.1,52.8 256.8,52.6 258.6,53.0 260.6,53.1 260.9,53.2 261.4,53.5 261.6,54.0 261.8,54.6 262.2,57.4 263.2,59.4 263.4,60.0 263.0,62.2 262.9,64.0 262.6,64.9 261.9,65.5 259.9,67.3 258.6,68.3 257.8,68.6Z"/><path d="M258.6,67.1 257.9,67.2 257.4,67.1 255.5,65.4 254.8,65.1 253.6,64.7 252.9,64.4 252.5,64.0 252.0,63.2 251.6,61.8 251.6,60.6 251.7,59.4 252.1,58.0 252.5,57.2 253.2,56.4 255.8,54.1 256.4,53.7 256.8,53.6 258.4,53.9 260.1,53.7 260.6,53.8 260.9,54.1 261.4,55.0 261.8,57.8 262.7,60.0 262.5,63.6 262.2,64.4 261.8,65.0 260.9,65.7 259.8,66.5 258.6,67.1Z"/><path d="M258.1,66.2 257.4,66.0 255.7,64.8 253.8,64.2 252.9,63.6 252.4,63.0 252.1,62.2 252.0,61.4 252.0,60.6 252.3,59.5 253.3,57.4 253.9,56.8 255.9,55.2 256.8,54.8 258.1,54.9 259.9,54.6 260.4,54.7 260.8,55.2 261.2,58.0 262.0,60.0 262.0,63.4 261.7,64.2 260.9,65.0 259.4,65.9 258.1,66.2Z"/><path d="M259.1,65.2 258.4,65.3 257.8,65.2 256.1,64.2 253.8,63.5 253.2,63.1 252.8,62.6 252.5,61.6 252.5,61.0 252.7,60.4 253.0,59.8 253.9,58.6 254.8,57.9 255.6,57.6 257.6,57.7 259.4,57.1 259.8,57.3 261.1,60.2 261.4,63.0 261.2,63.6 260.9,64.2 260.1,64.8 259.1,65.2Z"/><path d="M259.1,64.4 258.4,64.4 256.6,63.4 254.6,63.2 253.8,62.9 253.3,62.4 253.0,61.8 253.0,61.2 253.3,60.5 254.6,59.3 255.6,58.8 258.6,58.9 259.4,59.2 259.8,59.6 260.2,60.4 260.5,61.6 260.6,62.8 260.5,63.4 260.2,63.8 259.8,64.2 259.1,64.4Z"/><path d="M258.8,63.2 258.4,63.1 257.4,62.3 256.9,62.1 255.2,62.6 254.3,62.5 254.0,62.2 253.8,61.9 253.7,61.6 253.8,61.1 254.3,60.4 255.3,59.9 255.9,59.9 257.1,60.2 258.1,60.2 258.8,60.4 259.3,61.0 259.5,62.2 259.4,62.9 259.1,63.1 258.8,63.2Z"/></g>
<path fill="#999" d="M271.0 41.5h.60v.60h-.60zM253.8 88.6h.60v.60h-.60zM244.2 48.0h.60v.60h-.60zM270.9 50.0h.60v.60h-.60zM270.2 52.1h.60v.60h-.60zM240.2 73.8h.60v.60h-.60zM243.2 37.1h.60v.60h-.60zM268.7 46.1h.60v.60h-.60zM266.9 47.2h.60v.60h-.60zM237.0 50.3h.60v.60h-.60zM241.8 68.8h.60v.60h-.60zM268.7 40.5h.60v.60h-.60zM238.3 55.0h.60v.60h-.60zM240.5 87.1h.60v.60h-.60zM252.8 41.0h.60v.60h-.60zM240.3 76.9h.60v.60h-.60zM268.9 46.9h.60v.60h-.60zM245.0 48.4h.60v.60h-.60zM240.9 41.0h.60v.60h-.60zM274.2 73.9h.60v.60h-.60zM274.8 75.1h.60v.60h-.60zM260.3 77.6h.60v.60h-.60zM244.1 37.2h.60v.60h-.60zM244.3 82.1h.60v.60h-.60zM242.5 75.9h.60v.60h-.60zM266.1 35.8h.60v.60h-.60zM267.7 72.4h.60v.60h-.60zM250.7 80.9h.60v.60h-.60zM274.2 59.5h.60v.60h-.60zM236.8 54.7h.60v.60h-.60zM262.2 43.2h.60v.60h-.60zM250.0 78.5h.60v.60h-.60zM271.0 62.7h.60v.60h-.60zM238.1 65.1h.60v.60h-.60zM255.6 90.2h.60v.60h-.60zM271.8 78.4h.60v.60h-.60zM237.2 64.2h.60v.60h-.60zM244.1 43.6h.60v.60h-.60zM241.2 63.4h.60v.60h-.60zM272.9 53.4h.60v.60h-.60zM245.2 72.1h.60v.60h-.60zM246.7 41.6h.60v.60h-.60zM256.8 41.9h.60v.60h-.60zM241.7 47.6h.60v.60h-.60zM275.4 64.6h.60v.60h-.60zM260.9 80.7h.60v.60h-.60zM244.0 66.3h.60v.60h-.60zM265.4 39.8h.60v.60h-.60zM238.9 77.0h.60v.60h-.60zM255.7 79.4h.60v.60h-.60zM274.7 69.0h.60v.60h-.60zM252.6 82.2h.60v.60h-.60zM253.1 36.4h.60v.60h-.60zM265.8 74.5h.60v.60h-.60zM257.7 78.2h.60v.60h-.60zM238.5 61.9h.60v.60h-.60zM240.2 56.8h.60v.60h-.60zM249.7 94.3h.60v.60h-.60zM248.0 95.7h.60v.60h-.60zM276.6 53.3h.60v.60h-.60zM267.5 76.0h.60v.60h-.60zM243.9 73.6h.60v.60h-.60zM277.0 79.1h.60v.60h-.60zM259.9 80.1h.60v.60h-.60zM273.5 52.7h.60v.60h-.60zM241.5 66.0h.60v.60h-.60zM257.7 78.4h.60v.60h-.60zM268.0 86.2h.60v.60h-.60zM249.8 83.3h.60v.60h-.60zM261.9 34.6h.60v.60h-.60zM271.1 58.0h.60v.60h-.60zM263.8 42.3h.60v.60h-.60zM261.2 42.7h.60v.60h-.60zM252.3 80.7h.60v.60h-.60zM267.0 80.7h.60v.60h-.60zM266.8 48.1h.60v.60h-.60zM237.1 42.8h.60v.60h-.60zM243.5 53.7h.60v.60h-.60zM258.5 40.0h.60v.60h-.60zM247.6 43.4h.60v.60h-.60zM270.3 67.8h.60v.60h-.60zM265.6 73.9h.60v.60h-.60zM246.2 73.2h.60v.60h-.60zM253.3 78.5h.60v.60h-.60zM272.0 59.9h.60v.60h-.60zM272.2 49.0h.60v.60h-.60zM270.5 60.1h.60v.60h-.60zM247.2 44.6h.60v.60h-.60zM271.0 70.8h.60v.60h-.60zM270.6 43.2h.60v.60h-.60zM246.2 73.3h.60v.60h-.60zM273.2 64.0h.60v.60h-.60zM273.6 56.5h.60v.60h-.60zM255.7 32.8h.60v.60h-.60zM270.1 52.0h.60v.60h-.60zM242.8 72.1h.60v.60h-.60zM237.9 59.3h.60v.60h-.60zM256.8 80.4h.60v.60h-.60zM268.8 77.6h.60v.60h-.60zM258.2 90.7h.60v.60h-.60zM239.9 61.4h.60v.60h-.60zM280.8 73.3h.60v.60h-.60zM264.8 40.7h.60v.60h-.60zM238.5 33.4h.60v.60h-.60zM268.0 24.3h.60v.60h-.60zM261.8 41.3h.60v.60h-.60zM267.3 35.5h.60v.60h-.60zM270.2 76.2h.60v.60h-.60zM267.9 44.1h.60v.60h-.60zM258.3 83.9h.60v.60h-.60zM242.5 65.1h.60v.60h-.60zM249.8 39.0h.60v.60h-.60zM263.1 78.8h.60v.60h-.60zM241.8 56.9h.60v.60h-.60zM247.3 37.3h.60v.60h-.60zM243.6 73.9h.60v.60h-.60zM266.6 76.3h.60v.60h-.60zM250.6 38.7h.60v.60h-.60zM262.1 78.6h.60v.60h-.60zM267.7 45.0h.60v.60h-.60zM256.3 39.3h.60v.60h-.60zM244.8 47.7h.60v.60h-.60zM241.5 59.4h.60v.60h-.60zM271.0 42.5h.60v.60h-.60zM260.0 82.7h.60v.60h-.60zM283.9 50.1h.60v.60h-.60zM264.8 44.3h.60v.60h-.60zM241.8 74.4h.60v.60h-.60zM270.2 65.4h.60v.60h-.60zM269.7 52.7h.60v.60h-.60zM275.8 63.2h.60v.60h-.60zM270.0 63.6h.60v.60h-.60zM263.5 25.1h.60v.60h-.60zM273.3 50.4h.60v.60h-.60zM263.0 38.4h.60v.60h-.60zM268.0 77.3h.60v.60h-.60zM264.1 41.1h.60v.60h-.60zM270.0 43.4h.60v.60h-.60zM260.7 87.8h.60v.60h-.60zM248.0 74.5h.60v.60h-.60zM273.9 59.9h.60v.60h-.60zM257.2 80.5h.60v.60h-.60zM246.4 41.6h.60v.60h-.60zM271.0 67.3h.60v.60h-.60zM271.7 69.8h.60v.60h-.60zM239.5 48.7h.60v.60h-.60zM243.7 50.5h.60v.60h-.60zM252.9 35.7h.60v.60h-.60zM245.0 47.6h.60v.60h-.60zM255.5 78.5h.60v.60h-.60zM262.4 76.7h.60v.60h-.60zM239.3 51.5h.60v.60h-.60zM242.3 69.6h.60v.60h-.60zM257.0 81.1h.60v.60h-.60zM237.1 57.0h.60v.60h-.60zM243.5 70.1h.60v.60h-.60zM267.9 83.2h.60v.60h-.60zM267.6 31.9h.60v.60h-.60zM248.9 87.1h.60v.60h-.60zM243.4 44.7h.60v.60h-.60zM258.8 40.8h.60v.60h-.60zM273.3 64.2h.60v.60h-.60zM271.9 52.6h.60v.60h-.60zM250.0 41.9h.60v.60h-.60zM272.8 55.4h.60v.60h-.60zM238.0 46.2h.60v.60h-.60zM270.2 81.0h.60v.60h-.60zM261.0 37.5h.60v.60h-.60zM280.7 55.0h.60v.60h-.60zM270.6 71.4h.60v.60h-.60zM249.5 92.9h.60v.60h-.60zM270.8 45.9h.60v.60h-.60zM265.1 41.6h.60v.60h-.60zM270.2 46.9h.60v.60h-.60zM268.6 46.9h.60v.60h-.60zM270.8 75.1h.60v.60h-.60zM254.0 36.1h.60v.60h-.60zM241.0 66.1h.60v.60h-.60zM271.6 55.3h.60v.60h-.60zM270.1 98.3h.60v.60h-.60z"/>
<g fill="none" stroke="#444" stroke-width="0.45" stroke-opacity="0.75" stroke-linejoin="round" clip-path="url(#cA3)"><path d="M251.9,99.8 247.6,100.0 246.3,99.8 245.2,99.3 243.3,98.2 241.7,96.8 239.5,94.4 238.6,93.0 238.4,91.8 238.5,90.2 238.9,88.4 239.5,87.0 240.7,85.0 241.7,83.8 243.2,82.6 244.6,81.8 246.6,81.2 249.3,80.8 250.9,80.8 254.6,81.1 256.1,81.6 259.8,83.5 260.8,83.8 261.8,83.8 262.8,83.7 264.8,83.1 267.4,82.5 270.1,81.8 271.4,81.6 274.4,81.6 275.8,81.5 279.1,80.4 281.8,79.7 291.9,77.9 293.9,77.7 295.6,77.8 299.4,78.5 299.9,78.8 300.3,79.2 300.4,79.8 300.1,80.6 299.5,81.4 297.8,83.0 296.8,83.7 291.9,85.9 290.1,86.6 288.6,87.1 284.6,87.7 278.6,88.9 274.4,90.1 271.1,90.6 266.4,91.1 264.8,91.5 263.4,92.1 262.1,93.0 261.4,93.9 259.2,96.8 258.6,97.5 257.8,98.1 256.4,98.8 254.9,99.3 253.6,99.6 251.9,99.8Z"/><path d="M251.9,98.6 247.6,98.7 246.3,98.4 245.2,98.0 243.9,97.2 242.8,96.2 240.7,93.8 240.0,92.6 239.8,91.6 239.8,90.2 240.1,89.0 240.6,87.8 242.4,85.4 243.1,84.6 244.3,83.6 245.9,82.8 247.8,82.3 249.8,82.0 254.8,82.6 256.1,83.1 260.4,85.6 261.6,85.9 262.9,86.0 263.9,85.8 266.1,84.6 269.9,83.6 271.1,83.4 273.8,83.3 276.6,82.9 279.8,81.8 284.4,80.6 287.9,80.0 290.8,79.4 292.8,79.3 294.1,79.5 295.2,80.0 295.8,80.8 295.9,81.2 295.7,81.8 295.3,82.4 294.8,82.8 290.5,85.2 289.1,85.7 287.6,86.0 284.4,86.3 280.6,87.1 276.9,87.4 272.8,88.4 269.8,88.7 267.4,89.3 264.6,89.3 263.4,89.6 262.4,90.2 260.8,92.0 259.9,93.0 258.5,95.4 257.1,96.8 256.1,97.4 254.9,97.9 253.6,98.3 251.9,98.6Z"/><path d="M280.6,85.2 279.9,85.2 279.4,85.1 279.0,84.8 279.0,84.4 279.3,84.0 279.9,83.7 280.8,83.5 282.6,83.5 284.2,82.6 285.4,82.2 290.8,81.2 291.8,81.1 292.1,81.2 292.4,81.4 292.4,81.6 292.2,81.8 290.9,82.5 289.6,83.9 288.8,84.3 287.6,84.5 285.4,84.1 283.8,84.2 282.8,84.3 281.3,85.0 280.6,85.2Z"/><path d="M252.2,97.6 250.8,97.8 247.8,97.6 246.3,97.3 245.2,96.9 244.2,96.2 243.0,95.0 241.7,93.4 241.1,92.2 240.9,91.2 240.9,90.0 241.2,89.0 241.8,88.0 243.4,86.0 244.2,85.3 246.2,84.0 247.8,83.3 248.9,83.1 250.2,83.0 253.6,83.6 254.6,83.9 256.9,85.1 258.1,85.9 260.0,87.4 260.5,88.2 260.6,89.0 260.3,90.0 258.6,92.4 257.5,94.4 256.9,95.2 256.1,95.9 255.2,96.5 253.3,97.3 252.2,97.6Z"/><path d="M250.9,97.0 249.2,96.9 247.8,96.7 245.9,96.2 244.9,95.8 243.9,94.9 242.7,93.4 242.1,92.4 241.8,91.4 241.8,90.2 242.2,89.2 242.6,88.4 244.1,86.6 244.9,85.9 247.2,84.5 247.9,84.1 248.9,83.9 249.9,83.8 250.9,83.9 252.8,84.3 253.9,84.8 256.8,86.2 257.6,86.8 258.7,87.8 259.0,88.4 259.1,88.8 259.1,89.4 258.8,90.0 257.6,91.8 256.5,94.0 255.9,94.8 254.9,95.5 253.2,96.4 251.9,96.9 250.9,97.0Z"/><path d="M251.2,96.4 249.9,96.4 248.5,96.2 246.3,95.5 245.3,95.1 244.6,94.5 243.5,93.4 242.9,92.4 242.6,91.6 242.5,90.6 242.8,89.6 243.2,88.8 244.3,87.3 245.3,86.5 247.6,85.0 248.9,84.5 249.8,84.4 250.8,84.5 252.3,84.9 253.3,85.2 256.8,87.2 257.6,88.0 258.0,88.8 257.9,89.4 257.7,90.0 256.2,93.2 255.6,94.1 254.7,94.8 253.2,95.7 252.2,96.2 251.2,96.4Z"/><path d="M251.6,95.8 250.3,96.0 249.2,95.8 248.2,95.5 245.8,94.5 244.9,94.0 244.2,93.2 243.5,92.4 243.2,91.6 243.1,90.8 243.3,89.8 243.7,89.0 244.7,87.8 245.8,86.8 248.0,85.4 248.9,85.0 249.8,84.9 250.8,85.0 251.9,85.2 252.9,85.6 256.1,87.5 256.8,88.0 257.1,88.8 257.1,89.6 256.8,90.4 255.9,92.6 255.2,93.6 254.6,94.2 253.8,94.8 252.6,95.5 251.6,95.8Z"/><path d="M251.2,95.4 250.2,95.5 249.2,95.3 245.9,93.8 245.2,93.2 244.5,92.6 244.1,92.0 243.8,91.2 243.8,90.4 244.1,89.6 244.6,88.8 245.2,88.0 245.9,87.4 248.2,85.9 249.3,85.4 250.9,85.5 252.1,85.8 252.9,86.2 255.6,87.8 256.2,88.4 256.4,89.0 256.4,89.8 256.1,90.8 255.5,92.2 254.9,93.2 254.3,93.8 253.3,94.5 252.2,95.1 251.2,95.4Z"/><path d="M250.6,95.0 249.8,94.9 248.9,94.7 246.3,93.2 245.0,92.0 244.7,91.4 244.6,90.8 244.6,90.2 244.8,89.6 245.2,89.0 245.8,88.3 248.6,86.3 249.6,86.0 250.3,86.0 251.3,86.2 253.2,86.8 255.2,88.1 255.6,88.6 255.8,89.2 255.8,90.0 255.5,91.0 254.9,92.2 254.3,93.0 253.6,93.7 252.3,94.5 251.3,94.9 250.6,95.0Z"/><path d="M250.8,94.4 250.2,94.4 249.3,94.2 247.4,93.0 246.1,91.8 245.7,91.2 245.5,90.6 245.7,89.6 246.3,88.7 248.8,87.1 249.8,86.7 251.6,86.9 253.2,87.5 254.6,88.4 254.9,88.8 255.1,89.4 255.1,90.2 254.8,91.0 254.3,92.0 253.8,92.8 253.2,93.3 252.3,93.9 251.6,94.2 250.8,94.4Z"/><path d="M251.3,93.4 250.3,93.6 249.8,93.5 249.2,93.2 247.9,92.2 247.1,91.0 246.9,90.2 247.3,89.4 248.2,88.6 249.3,88.0 250.6,87.8 252.3,88.0 253.5,88.6 253.9,89.0 254.1,89.4 254.2,89.8 254.1,90.4 253.5,91.8 252.6,92.8 251.3,93.4Z"/><path d="M251.2,92.4 250.6,92.5 249.8,92.4 249.2,92.0 248.6,91.4 248.3,90.8 248.3,90.4 248.6,89.8 248.9,89.4 249.8,89.1 250.9,89.0 252.2,89.1 252.8,89.6 252.9,90.2 252.6,91.2 251.9,92.0 251.2,92.4Z"/></g>
<path fill="#999" d="M263.1 95.7h.60v.60h-.60zM277.2 79.5h.60v.60h-.60zM272.7 96.4h.60v.60h-.60zM246.3 75.6h.60v.60h-.60zM240.3 82.6h.60v.60h-.60zM298.6 85.3h.60v.60h-.60zM297.2 84.1h.60v.60h-.60zM265.9 80.6h.60v.60h-.60zM263.1 94.1h.60v.60h-.60zM253.3 80.6h.60v.60h-.60zM241.2 103.4h.60v.60h-.60zM247.3 101.3h.60v.60h-.60zM237.8 91.9h.60v.60h-.60zM259.1 96.1h.60v.60h-.60zM240.5 82.4h.60v.60h-.60zM263.4 97.5h.60v.60h-.60zM261.1 95.7h.60v.60h-.60zM253.1 101.8h.60v.60h-.60zM244.9 75.8h.60v.60h-.60zM261.9 81.4h.60v.60h-.60zM270.0 91.1h.60v.60h-.60zM253.3 101.6h.60v.60h-.60zM245.0 102.1h.60v.60h-.60zM305.9 76.5h.60v.60h-.60zM262.7 80.3h.60v.60h-.60zM261.7 96.6h.60v.60h-.60zM250.9 103.5h.60v.60h-.60zM297.9 88.2h.60v.60h-.60zM260.5 82.6h.60v.60h-.60zM254.8 99.6h.60v.60h-.60zM261.5 96.9h.60v.60h-.60zM239.4 98.0h.60v.60h-.60zM296.8 74.6h.60v.60h-.60zM266.4 81.7h.60v.60h-.60zM265.8 92.9h.60v.60h-.60zM268.6 90.8h.60v.60h-.60zM258.5 99.4h.60v.60h-.60zM273.3 80.8h.60v.60h-.60zM245.7 80.1h.60v.60h-.60zM308.2 75.1h.60v.60h-.60zM261.1 93.9h.60v.60h-.60zM237.6 91.8h.60v.60h-.60zM275.5 91.4h.60v.60h-.60zM294.8 74.4h.60v.60h-.60zM252.5 78.5h.60v.60h-.60zM254.5 74.3h.60v.60h-.60zM263.8 95.5h.60v.60h-.60zM252.7 101.9h.60v.60h-.60zM241.3 81.4h.60v.60h-.60zM270.4 90.5h.60v.60h-.60zM255.7 103.6h.60v.60h-.60zM259.6 99.9h.60v.60h-.60zM304.4 86.6h.60v.60h-.60zM254.6 104.7h.60v.60h-.60zM244.8 100.0h.60v.60h-.60zM255.9 76.7h.60v.60h-.60zM257.3 100.6h.60v.60h-.60zM265.1 93.1h.60v.60h-.60zM262.7 97.6h.60v.60h-.60zM243.2 75.4h.60v.60h-.60zM261.6 83.0h.60v.60h-.60zM255.6 99.2h.60v.60h-.60zM237.3 91.5h.60v.60h-.60zM297.9 84.4h.60v.60h-.60zM246.1 100.1h.60v.60h-.60zM257.0 99.6h.60v.60h-.60zM293.0 85.0h.60v.60h-.60zM286.5 76.5h.60v.60h-.60zM293.4 87.6h.60v.60h-.60zM259.8 76.9h.60v.60h-.60zM240.3 83.7h.60v.60h-.60zM258.8 97.4h.60v.60h-.60zM238.2 79.7h.60v.60h-.60zM280.6 91.9h.60v.60h-.60zM264.8 92.5h.60v.60h-.60zM305.7 74.4h.60v.60h-.60zM267.4 90.7h.60v.60h-.60zM287.5 89.1h.60v.60h-.60zM293.8 89.1h.60v.60h-.60zM272.6 75.8h.60v.60h-.60zM243.2 104.7h.60v.60h-.60zM290.5 75.6h.60v.60h-.60zM275.9 78.6h.60v.60h-.60zM256.8 102.8h.60v.60h-.60zM317.4 73.5h.60v.60h-.60zM264.8 80.0h.60v.60h-.60zM257.9 79.9h.60v.60h-.60zM239.7 95.5h.60v.60h-.60zM279.3 77.3h.60v.60h-.60zM249.2 79.1h.60v.60h-.60zM255.0 100.7h.60v.60h-.60zM303.6 76.3h.60v.60h-.60zM240.7 83.9h.60v.60h-.60zM266.9 78.5h.60v.60h-.60zM240.9 99.0h.60v.60h-.60zM293.2 77.1h.60v.60h-.60zM264.6 95.1h.60v.60h-.60zM251.8 76.2h.60v.60h-.60zM240.0 95.5h.60v.60h-.60zM251.0 100.6h.60v.60h-.60zM302.0 78.2h.60v.60h-.60zM246.1 100.1h.60v.60h-.60zM300.6 76.7h.60v.60h-.60zM245.4 79.7h.60v.60h-.60zM243.6 71.8h.60v.60h-.60zM244.4 100.5h.60v.60h-.60zM241.8 81.4h.60v.60h-.60zM295.5 84.6h.60v.60h-.60zM257.8 79.3h.60v.60h-.60zM238.8 79.6h.60v.60h-.60zM251.0 102.5h.60v.60h-.60zM249.3 106.7h.60v.60h-.60zM272.5 90.7h.60v.60h-.60zM237.3 90.8h.60v.60h-.60zM243.1 76.5h.60v.60h-.60zM238.4 92.6h.60v.60h-.60zM303.1 78.2h.60v.60h-.60zM281.8 75.6h.60v.60h-.60zM237.8 86.9h.60v.60h-.60zM247.3 76.9h.60v.60h-.60zM252.8 76.3h.60v.60h-.60zM267.3 80.3h.60v.60h-.60zM263.6 81.4h.60v.60h-.60zM304.6 80.8h.60v.60h-.60zM239.6 98.2h.60v.60h-.60zM239.4 79.7h.60v.60h-.60zM269.1 91.1h.60v.60h-.60zM243.3 75.9h.60v.60h-.60zM250.7 101.2h.60v.60h-.60zM249.4 75.8h.60v.60h-.60zM239.8 84.6h.60v.60h-.60zM238.6 103.1h.60v.60h-.60zM252.5 74.2h.60v.60h-.60zM292.4 85.2h.60v.60h-.60zM302.5 80.2h.60v.60h-.60zM289.6 88.3h.60v.60h-.60zM269.7 80.6h.60v.60h-.60zM256.9 81.7h.60v.60h-.60zM239.6 96.0h.60v.60h-.60zM248.4 101.1h.60v.60h-.60z"/>
<g fill="none" stroke="#444" stroke-width="0.4" stroke-opacity="0.55" stroke-linejoin="round" clip-path="url(#cA3)"><path d="M293.4,70.0 290.9,70.2 284.9,69.8 282.9,69.6 279.1,69.1 275.9,68.4 272.6,67.8 271.6,67.5 268.6,66.1 267.1,65.3 266.2,64.4 265.5,63.2 264.5,61.0 264.3,60.0 264.3,59.2 264.7,57.8 265.2,56.4 266.4,54.8 268.1,53.2 271.9,50.7 273.1,50.1 274.4,49.7 279.8,48.5 281.4,48.4 285.8,48.5 288.4,49.0 290.0,49.6 291.4,50.6 293.1,52.2 293.8,53.0 294.3,54.2 294.7,57.0 295.1,57.8 295.5,58.4 296.6,59.3 299.1,60.6 300.9,61.8 303.5,64.2 303.9,64.8 304.1,65.4 304.1,66.2 303.8,67.0 303.1,67.6 302.4,68.0 298.8,69.3 295.8,69.6 293.4,70.0Z"/><path d="M291.9,68.4 290.6,68.5 288.6,68.2 285.4,68.1 281.1,67.6 279.1,67.3 276.8,66.6 274.1,66.2 273.1,65.8 272.1,65.3 270.5,64.0 269.5,63.0 267.8,59.8 267.7,59.0 268.0,58.0 269.1,56.2 270.9,53.9 272.4,52.8 274.4,51.9 275.6,51.5 278.6,51.0 280.6,50.7 284.8,50.5 285.9,50.7 286.9,51.0 287.6,51.4 288.1,52.0 290.1,55.0 290.6,56.0 290.9,57.8 291.4,58.6 293.1,60.0 295.0,61.8 297.8,63.2 298.3,63.8 298.7,64.6 298.8,65.2 298.7,65.8 298.3,66.4 297.8,66.8 296.9,67.1 294.8,67.4 291.9,68.4Z"/><path d="M291.4,66.6 288.8,66.5 285.9,66.7 283.9,66.5 281.6,66.1 277.6,64.9 274.9,64.5 274.1,64.2 273.3,63.6 272.7,62.8 272.0,60.2 271.1,58.4 271.1,57.6 271.4,56.6 271.8,56.0 272.4,55.4 274.1,54.1 275.4,53.5 277.1,52.9 278.9,52.6 279.8,52.6 281.9,53.1 282.6,53.1 284.4,52.6 284.9,52.6 285.6,52.8 286.4,53.4 288.0,55.8 288.4,56.8 288.7,59.0 289.2,60.0 289.9,60.7 291.6,61.6 292.4,62.2 293.4,63.2 294.0,64.0 294.1,64.6 293.6,65.2 292.4,66.2 291.4,66.6Z"/><path d="M284.4,64.4 283.8,64.6 283.1,64.5 280.9,63.9 278.6,63.5 277.3,63.0 276.4,62.4 276.1,62.0 275.6,60.8 274.6,59.6 274.1,58.7 274.1,58.2 274.2,57.6 274.6,56.8 275.1,56.2 275.8,55.6 276.8,55.0 278.1,54.4 278.9,54.2 279.9,54.4 282.1,55.4 284.6,55.6 285.1,55.9 285.6,56.1 285.9,56.6 286.2,57.4 286.3,61.0 285.1,63.8 284.8,64.2 284.4,64.4Z"/></g>
<path fill="#999" d="M280.2 47.5h.60v.60h-.60zM299.8 59.8h.60v.60h-.60zM262.0 56.0h.60v.60h-.60zM272.8 46.8h.60v.60h-.60zM309.1 65.7h.60v.60h-.60zM266.4 70.6h.60v.60h-.60zM270.6 66.9h.60v.60h-.60zM258.0 50.5h.60v.60h-.60zM269.0 51.8h.60v.60h-.60zM260.1 60.0h.60v.60h-.60zM273.3 42.1h.60v.60h-.60zM257.6 55.4h.60v.60h-.60zM278.3 42.7h.60v.60h-.60zM261.8 49.8h.60v.60h-.60zM303.9 70.6h.60v.60h-.60zM309.5 68.5h.60v.60h-.60zM261.2 58.5h.60v.60h-.60zM313.0 65.7h.60v.60h-.60zM310.8 62.6h.60v.60h-.60zM265.9 66.3h.60v.60h-.60zM292.6 70.5h.60v.60h-.60zM262.0 54.9h.60v.60h-.60zM305.7 62.0h.60v.60h-.60zM297.0 54.3h.60v.60h-.60zM316.0 65.9h.60v.60h-.60zM294.7 54.4h.60v.60h-.60zM258.5 60.9h.60v.60h-.60zM293.8 51.6h.60v.60h-.60zM299.3 69.7h.60v.60h-.60zM320.5 67.1h.60v.60h-.60zM303.5 58.9h.60v.60h-.60zM293.2 51.0h.60v.60h-.60zM261.3 63.0h.60v.60h-.60zM303.5 71.0h.60v.60h-.60zM283.9 72.3h.60v.60h-.60zM299.2 57.1h.60v.60h-.60zM299.6 60.9h.60v.60h-.60zM272.1 49.7h.60v.60h-.60zM309.6 58.5h.60v.60h-.60zM296.4 54.5h.60v.60h-.60zM271.5 67.3h.60v.60h-.60zM265.9 54.5h.60v.60h-.60zM305.1 69.1h.60v.60h-.60zM271.4 67.4h.60v.60h-.60zM306.6 60.4h.60v.60h-.60zM295.9 72.2h.60v.60h-.60zM308.5 57.1h.60v.60h-.60zM283.8 70.4h.60v.60h-.60zM303.4 53.1h.60v.60h-.60zM263.5 72.1h.60v.60h-.60zM300.9 70.0h.60v.60h-.60zM289.8 71.6h.60v.60h-.60zM315.2 59.5h.60v.60h-.60zM303.6 63.2h.60v.60h-.60zM289.7 46.9h.60v.60h-.60zM299.1 69.6h.60v.60h-.60zM302.0 58.5h.60v.60h-.60zM283.2 43.1h.60v.60h-.60zM305.9 61.0h.60v.60h-.60zM295.6 76.1h.60v.60h-.60zM258.4 61.6h.60v.60h-.60zM266.6 53.2h.60v.60h-.60zM296.3 69.8h.60v.60h-.60zM265.3 67.3h.60v.60h-.60zM275.6 70.1h.60v.60h-.60zM300.7 69.2h.60v.60h-.60zM305.3 63.2h.60v.60h-.60zM316.1 62.8h.60v.60h-.60zM268.6 48.7h.60v.60h-.60zM265.8 70.9h.60v.60h-.60zM270.4 46.8h.60v.60h-.60zM274.6 69.1h.60v.60h-.60zM268.3 68.7h.60v.60h-.60zM273.6 69.4h.60v.60h-.60zM300.2 60.6h.60v.60h-.60zM285.3 70.7h.60v.60h-.60zM276.9 46.0h.60v.60h-.60zM294.0 52.5h.60v.60h-.60zM293.9 50.4h.60v.60h-.60zM304.0 68.1h.60v.60h-.60zM284.1 43.3h.60v.60h-.60zM261.3 68.1h.60v.60h-.60zM299.6 47.5h.60v.60h-.60zM269.1 46.7h.60v.60h-.60zM311.0 56.9h.60v.60h-.60zM311.2 70.9h.60v.60h-.60zM300.4 58.8h.60v.60h-.60zM262.3 66.0h.60v.60h-.60zM303.7 60.9h.60v.60h-.60zM298.5 69.3h.60v.60h-.60zM267.5 72.8h.60v.60h-.60zM263.4 62.5h.60v.60h-.60zM296.0 74.5h.60v.60h-.60zM269.2 46.5h.60v.60h-.60zM306.0 54.8h.60v.60h-.60zM306.4 63.4h.60v.60h-.60zM297.7 41.1h.60v.60h-.60zM296.8 70.5h.60v.60h-.60zM272.0 67.6h.60v.60h-.60zM278.0 46.1h.60v.60h-.60z"/>
<rect x="240.00" y="38.75" width="30.50" height="40.75" stroke="#2a2a2a" stroke-width="0.9" fill="none"/>
<rect x="270.50" y="38.75" width="44.20" height="68.95" stroke="#2a2a2a" stroke-width="0.9" fill="none"/>
<rect x="248.00" y="38.05" width="13" height="1.4" fill="#fff" fill-opacity="0.72"/>
<text x="254.50" y="37.20" font-size="6.3" text-anchor="middle" fill="#222" stroke="#222" stroke-width="0.28">63.0</text>
<rect x="284.50" y="38.05" width="13" height="1.4" fill="#fff" fill-opacity="0.72"/>
<text x="291.00" y="37.20" font-size="6.3" text-anchor="middle" fill="#222" stroke="#222" stroke-width="0.28">14.3</text>
<path fill="#9a9a9a" d="M297.6 76.6h.60v.60h-.60zM293.0 50.3h.60v.60h-.60zM275.0 98.9h.60v.60h-.60zM307.4 75.2h.60v.60h-.60zM297.1 92.8h.60v.60h-.60zM303.2 82.2h.60v.60h-.60zM300.5 49.2h.60v.60h-.60zM296.1 45.8h.60v.60h-.60zM309.3 47.3h.60v.60h-.60zM289.3 62.4h.60v.60h-.60zM282.0 43.1h.60v.60h-.60zM297.2 87.4h.60v.60h-.60zM305.1 62.4h.60v.60h-.60zM304.3 77.8h.60v.60h-.60zM302.9 88.0h.60v.60h-.60zM275.7 77.3h.60v.60h-.60zM297.8 82.6h.60v.60h-.60zM272.2 93.1h.60v.60h-.60zM277.1 78.2h.60v.60h-.60zM286.8 56.3h.60v.60h-.60zM300.7 92.5h.60v.60h-.60zM291.2 73.6h.60v.60h-.60zM282.7 54.4h.60v.60h-.60zM277.7 73.8h.60v.60h-.60zM273.1 74.4h.60v.60h-.60zM278.7 64.0h.60v.60h-.60zM289.4 75.8h.60v.60h-.60zM293.2 69.5h.60v.60h-.60zM283.6 78.2h.60v.60h-.60zM278.4 74.0h.60v.60h-.60zM280.3 80.0h.60v.60h-.60zM297.6 62.5h.60v.60h-.60zM301.8 97.4h.60v.60h-.60zM299.5 97.4h.60v.60h-.60zM304.3 62.7h.60v.60h-.60zM295.0 42.2h.60v.60h-.60zM278.8 61.3h.60v.60h-.60zM286.7 89.2h.60v.60h-.60zM285.9 85.9h.60v.60h-.60zM282.7 82.1h.60v.60h-.60zM300.4 55.0h.60v.60h-.60zM303.2 41.8h.60v.60h-.60zM296.8 86.6h.60v.60h-.60zM275.8 97.4h.60v.60h-.60zM288.7 56.6h.60v.60h-.60zM297.5 64.0h.60v.60h-.60zM297.2 96.2h.60v.60h-.60zM286.1 55.7h.60v.60h-.60zM304.6 65.9h.60v.60h-.60zM302.7 96.1h.60v.60h-.60zM303.9 66.8h.60v.60h-.60zM306.5 44.1h.60v.60h-.60zM304.3 68.3h.60v.60h-.60zM302.3 69.6h.60v.60h-.60zM304.8 90.7h.60v.60h-.60zM285.6 72.0h.60v.60h-.60zM283.7 94.8h.60v.60h-.60zM278.2 97.2h.60v.60h-.60zM306.3 76.8h.60v.60h-.60zM296.8 88.2h.60v.60h-.60zM304.4 74.9h.60v.60h-.60zM292.7 74.8h.60v.60h-.60zM280.5 89.1h.60v.60h-.60zM297.5 42.5h.60v.60h-.60zM296.6 87.3h.60v.60h-.60zM273.4 48.3h.60v.60h-.60zM274.9 88.4h.60v.60h-.60zM289.9 60.5h.60v.60h-.60zM311.4 51.1h.60v.60h-.60zM305.8 96.8h.60v.60h-.60zM285.7 98.1h.60v.60h-.60zM288.7 72.8h.60v.60h-.60zM283.4 93.3h.60v.60h-.60zM287.7 92.0h.60v.60h-.60zM277.4 93.2h.60v.60h-.60zM301.7 46.1h.60v.60h-.60zM301.2 63.6h.60v.60h-.60zM282.5 54.2h.60v.60h-.60zM291.3 76.6h.60v.60h-.60zM296.0 76.6h.60v.60h-.60zM307.5 62.4h.60v.60h-.60zM292.7 58.0h.60v.60h-.60zM275.7 57.0h.60v.60h-.60zM290.4 82.2h.60v.60h-.60zM273.6 70.0h.60v.60h-.60zM293.2 53.5h.60v.60h-.60zM309.4 50.8h.60v.60h-.60zM283.5 86.5h.60v.60h-.60zM294.6 56.3h.60v.60h-.60zM293.2 45.7h.60v.60h-.60zM278.0 46.5h.60v.60h-.60zM308.3 83.5h.60v.60h-.60zM297.5 73.1h.60v.60h-.60zM307.4 66.2h.60v.60h-.60zM297.6 67.3h.60v.60h-.60zM285.8 67.5h.60v.60h-.60zM310.6 69.4h.60v.60h-.60zM300.8 86.8h.60v.60h-.60zM287.2 45.2h.60v.60h-.60zM297.4 86.4h.60v.60h-.60zM305.7 51.0h.60v.60h-.60zM303.9 58.4h.60v.60h-.60zM292.8 81.3h.60v.60h-.60zM286.2 57.2h.60v.60h-.60zM282.6 68.0h.60v.60h-.60zM292.8 93.7h.60v.60h-.60zM292.9 67.9h.60v.60h-.60zM292.0 85.7h.60v.60h-.60zM287.2 86.4h.60v.60h-.60zM283.6 72.5h.60v.60h-.60zM275.1 80.9h.60v.60h-.60zM296.2 81.4h.60v.60h-.60zM287.1 57.5h.60v.60h-.60zM285.0 59.0h.60v.60h-.60zM304.8 81.0h.60v.60h-.60zM297.4 67.3h.60v.60h-.60zM296.0 95.0h.60v.60h-.60zM298.2 48.2h.60v.60h-.60zM277.9 80.5h.60v.60h-.60zM286.0 81.4h.60v.60h-.60z"/>
<text x="338.40" y="14.90" font-size="10.4" text-anchor="start" fill="#111" font-weight="bold" stroke="#111" stroke-width="0.4">B</text>
<text x="425.00" y="25.00" font-size="7.3" text-anchor="middle" fill="#222" stroke="#222" stroke-width="0.28">ILC2 cells</text>
<line x1="388.30" y1="31.00" x2="388.30" y2="84.50" stroke="#1a1a1a" stroke-width="1.2"/>
<line x1="387.80" y1="84.00" x2="461.20" y2="84.00" stroke="#1a1a1a" stroke-width="1.1"/>
<line x1="385.70" y1="31.85" x2="388.30" y2="31.85" stroke="#1a1a1a" stroke-width="0.8"/>
<text x="380.70" y="35.05" font-size="7.1" text-anchor="end" fill="#222" stroke="#222" stroke-width="0.28" textLength="17.6" lengthAdjust="spacingAndGlyphs">1×10</text>
<text x="380.90" y="32.05" font-size="4.1" text-anchor="start" fill="#222" stroke="#222" stroke-width="0.28">8</text>
<line x1="385.70" y1="58.20" x2="388.30" y2="58.20" stroke="#1a1a1a" stroke-width="0.8"/>
<text x="380.70" y="61.40" font-size="7.1" text-anchor="end" fill="#222" stroke="#222" stroke-width="0.28" textLength="17.6" lengthAdjust="spacingAndGlyphs">1×10</text>
<text x="380.90" y="58.40" font-size="4.1" text-anchor="start" fill="#222" stroke="#222" stroke-width="0.28">7</text>
<line x1="385.70" y1="84.00" x2="388.30" y2="84.00" stroke="#1a1a1a" stroke-width="0.8"/>
<text x="380.70" y="87.20" font-size="7.1" text-anchor="end" fill="#222" stroke="#222" stroke-width="0.28" textLength="17.6" lengthAdjust="spacingAndGlyphs">1×10</text>
<text x="380.90" y="84.20" font-size="4.1" text-anchor="start" fill="#222" stroke="#222" stroke-width="0.28">6</text>
<line x1="386.80" y1="50.27" x2="388.30" y2="50.27" stroke="#222" stroke-width="0.6"/>
<line x1="386.80" y1="45.63" x2="388.30" y2="45.63" stroke="#222" stroke-width="0.6"/>
<line x1="386.80" y1="42.34" x2="388.30" y2="42.34" stroke="#222" stroke-width="0.6"/>
<line x1="386.80" y1="39.78" x2="388.30" y2="39.78" stroke="#222" stroke-width="0.6"/>
<line x1="386.80" y1="37.70" x2="388.30" y2="37.70" stroke="#222" stroke-width="0.6"/>
<line x1="386.80" y1="35.93" x2="388.30" y2="35.93" stroke="#222" stroke-width="0.6"/>
<line x1="386.80" y1="34.40" x2="388.30" y2="34.40" stroke="#222" stroke-width="0.6"/>
<line x1="386.80" y1="33.06" x2="388.30" y2="33.06" stroke="#222" stroke-width="0.6"/>
<line x1="386.80" y1="76.23" x2="388.30" y2="76.23" stroke="#222" stroke-width="0.6"/>
<line x1="386.80" y1="71.69" x2="388.30" y2="71.69" stroke="#222" stroke-width="0.6"/>
<line x1="386.80" y1="68.47" x2="388.30" y2="68.47" stroke="#222" stroke-width="0.6"/>
<line x1="386.80" y1="65.97" x2="388.30" y2="65.97" stroke="#222" stroke-width="0.6"/>
<line x1="386.80" y1="63.92" x2="388.30" y2="63.92" stroke="#222" stroke-width="0.6"/>
<line x1="386.80" y1="62.20" x2="388.30" y2="62.20" stroke="#222" stroke-width="0.6"/>
<line x1="386.80" y1="60.70" x2="388.30" y2="60.70" stroke="#222" stroke-width="0.6"/>
<line x1="386.80" y1="59.38" x2="388.30" y2="59.38" stroke="#222" stroke-width="0.6"/>
<text x="352.30" y="59.30" font-size="7.6" text-anchor="middle" fill="#222" font-weight="bold" stroke="#222" stroke-width="0.35">#</text>
<line x1="404.20" y1="84.00" x2="404.20" y2="86.20" stroke="#1a1a1a" stroke-width="0.8"/>
<text x="406.80" y="94.40" font-size="7.6" text-anchor="end" fill="#222" stroke="#222" stroke-width="0.28" transform="rotate(-45 406.80 94.40)">RosetteSep ILC2</text>
<line x1="426.80" y1="84.00" x2="426.80" y2="86.20" stroke="#1a1a1a" stroke-width="0.8"/>
<text x="429.40" y="94.40" font-size="7.6" text-anchor="end" fill="#222" stroke="#222" stroke-width="0.28" transform="rotate(-45 429.40 94.40)">EasySep ILC2</text>
<line x1="449.30" y1="84.00" x2="449.30" y2="86.20" stroke="#1a1a1a" stroke-width="0.8"/>
<text x="451.90" y="94.40" font-size="7.6" text-anchor="end" fill="#222" stroke="#222" stroke-width="0.28" transform="rotate(-45 451.90 94.40)">EasySepNK + CD56</text>
<circle cx="404.4" cy="56.6" r="1.35" fill="#1b2d3e"/>
<rect x="425.7" y="61.300000000000004" width="2.6" height="2.6" fill="#1b2d3e"/>
<path d="M448.2,69.2 L451.8,69.2 L450.0,72.1Z" fill="#1c3a4c"/>
<text x="404.20" y="51.60" font-size="7.5" text-anchor="middle" fill="#bd4460" stroke="#bd4460" stroke-width="0.28">587</text>
<text x="427.50" y="57.00" font-size="7.5" text-anchor="middle" fill="#bd4460" stroke="#bd4460" stroke-width="0.28">350</text>
<text x="449.75" y="65.00" font-size="7.5" text-anchor="middle" fill="#bd4460" stroke="#bd4460" stroke-width="0.28">39</text>
<text x="7.10" y="169.35" font-size="10.4" text-anchor="start" fill="#111" font-weight="bold" stroke="#111" stroke-width="0.4">C</text>
<line x1="24.00" y1="189.75" x2="24.00" y2="247.50" stroke="#1a1a1a" stroke-width="0.9"/>
<path d="M24.00,186.25 L22.10,190.25 L25.90,190.25Z" fill="#1a1a1a"/>
<text x="18.40" y="222.00" font-size="9.0" text-anchor="middle" fill="#1a1a1a" textLength="30.1" lengthAdjust="spacingAndGlyphs" transform="rotate(-90 18.40 222.00)" stroke="#1a1a1a" stroke-width="0.5">IMDM 500</text>
<text x="26.70" y="258.10" font-size="9.8" text-anchor="middle" fill="#1a1a1a" textLength="14.6" lengthAdjust="spacingAndGlyphs" transform="rotate(-90 26.70 258.10)" stroke="#1a1a1a" stroke-width="0.5">IL-13</text>
<text x="32.30" y="275.80" font-size="8.8" text-anchor="start" fill="#1a1a1a" textLength="13.7" lengthAdjust="spacingAndGlyphs" stroke="#1a1a1a" stroke-width="0.4">IFNg</text>
<line x1="48.30" y1="273.40" x2="315.40" y2="273.40" stroke="#1a1a1a" stroke-width="0.9"/>
<path d="M319.40,273.40 L314.90,271.50 L314.90,275.30Z" fill="#1a1a1a"/>
<rect x="31.75" y="178.20" width="87.45" height="87.20" stroke="#6e6e6e" stroke-width="1.0" fill="none"/>
<text x="75.60" y="172.60" font-size="7.6" text-anchor="middle" fill="#222" stroke="#222" stroke-width="0.28">RosetteSep ILC2</text>
<defs><clipPath id="cC1"><rect x="32.35" y="178.79999999999998" width="86.25" height="85.99999999999997"/></clipPath></defs>
<g fill="none" stroke="#444" stroke-width="0.45" stroke-opacity="0.75" stroke-linejoin="round" clip-path="url(#cC1)"><path d="M51.4,233.6 50.2,233.5 49.2,233.3 48.2,232.9 47.1,232.3 46.4,231.6 45.4,230.6 43.2,227.6 42.4,226.2 42.0,225.0 41.6,221.4 41.0,218.8 40.9,217.4 41.2,213.8 41.8,211.2 42.6,208.8 43.3,207.4 43.9,206.4 46.8,203.3 48.0,202.4 49.0,202.0 50.4,201.6 51.5,201.5 52.8,201.4 54.0,201.6 55.0,201.9 56.0,202.3 56.8,202.8 57.5,203.5 58.2,204.2 59.8,206.6 61.4,209.4 62.1,211.2 62.9,215.8 63.0,218.8 62.5,222.4 62.0,224.0 60.6,227.4 58.3,231.0 57.4,232.0 56.0,232.7 53.5,233.3 51.4,233.6Z"/><path d="M53.2,231.6 52.2,231.7 51.0,231.5 49.0,231.0 48.0,230.6 46.8,229.6 44.5,226.8 43.7,225.6 43.3,224.4 42.3,218.8 42.2,217.6 42.4,214.8 43.3,210.8 43.9,209.2 45.1,207.2 46.1,206.2 48.4,204.7 51.4,203.7 52.8,203.4 53.5,203.5 54.4,203.7 56.0,204.7 57.8,206.4 59.3,208.4 60.4,210.6 61.0,212.2 61.6,215.8 61.7,218.2 61.6,220.2 61.2,222.6 60.7,223.8 59.4,226.7 57.2,229.5 56.4,230.3 55.0,231.1 53.2,231.6Z"/><path d="M52.5,229.6 51.8,229.7 50.8,229.6 49.8,229.3 48.8,228.9 47.5,227.8 45.2,225.0 44.4,223.6 44.0,222.0 43.7,220.0 43.6,216.8 43.7,215.4 44.4,213.0 44.8,210.8 45.3,209.8 46.0,208.8 47.1,207.7 49.0,206.7 51.8,205.7 53.2,205.5 54.0,205.7 54.5,205.9 56.4,207.1 57.5,208.2 58.5,209.8 59.5,212.0 60.0,213.8 60.3,215.8 60.3,219.0 60.2,220.6 59.8,222.2 59.0,224.0 58.1,225.6 56.5,227.4 55.5,228.3 54.2,229.0 52.5,229.6Z"/><path d="M51.8,228.2 51.2,228.3 50.4,228.1 49.5,227.8 48.8,227.3 47.7,226.2 45.5,223.4 45.0,222.2 44.8,221.0 44.8,216.6 45.0,215.4 45.8,213.2 46.3,211.2 46.7,210.4 47.1,209.8 48.4,208.7 49.8,207.9 51.5,207.3 53.2,207.1 54.4,207.3 55.6,208.0 56.6,209.0 57.5,210.4 58.6,213.0 59.1,214.6 59.2,216.0 59.1,218.8 58.9,220.4 58.3,222.4 57.7,223.8 56.9,225.0 55.8,226.2 55.0,226.9 52.8,227.9 51.8,228.2Z"/><path d="M51.4,226.6 50.8,226.7 50.2,226.6 49.1,226.0 48.3,225.2 46.2,222.4 45.9,221.6 45.7,220.6 45.9,216.6 46.2,215.2 47.4,212.3 47.9,211.2 48.5,210.4 49.5,209.5 50.8,208.9 52.0,208.6 53.4,208.5 54.4,208.8 55.2,209.3 56.0,210.2 56.6,211.4 57.7,214.0 58.1,215.0 58.2,216.4 58.0,218.8 57.7,220.2 56.9,222.4 56.4,223.6 55.8,224.4 55.2,225.0 54.4,225.5 51.4,226.6Z"/><path d="M50.5,225.4 49.8,225.2 49.2,224.7 47.2,222.2 46.8,221.4 46.6,220.6 46.5,219.8 46.8,216.2 47.2,214.8 48.0,213.0 48.8,211.9 49.8,210.8 50.5,210.2 51.4,209.9 52.4,209.7 53.4,209.8 54.4,210.1 55.2,210.9 55.7,211.8 57.0,214.5 57.3,215.4 57.4,216.2 57.2,219.0 56.9,220.0 56.5,221.0 55.5,222.8 55.0,223.5 54.0,224.2 51.4,225.2 50.5,225.4Z"/><path d="M51.0,224.4 50.2,224.4 49.5,224.0 48.0,222.0 47.5,221.2 47.2,220.4 47.2,219.6 47.4,216.4 47.7,215.2 48.1,214.2 48.6,213.2 49.4,212.4 50.4,211.4 51.2,210.9 52.0,210.6 53.0,210.6 53.8,210.9 54.5,211.5 56.4,214.8 56.7,215.6 56.8,216.4 56.7,218.6 56.5,219.6 56.1,220.4 55.4,221.6 54.5,222.5 53.5,223.2 51.0,224.4Z"/><path d="M51.4,223.7 50.5,223.8 50.0,223.6 49.4,223.0 48.0,221.0 47.7,220.4 47.6,219.6 47.7,216.6 48.2,214.8 48.6,214.0 49.2,213.2 50.2,212.3 51.2,211.5 52.0,211.2 52.8,211.2 53.5,211.5 54.2,212.0 56.0,214.9 56.2,215.6 56.4,216.4 56.4,218.2 56.2,219.0 55.9,219.8 54.8,221.4 53.4,222.6 51.4,223.7Z"/><path d="M51.2,223.2 50.5,223.2 50.0,222.9 49.2,221.9 48.3,220.6 48.1,220.0 48.0,219.2 48.1,216.4 48.5,214.8 49.4,213.5 50.2,212.7 51.2,212.0 52.0,211.7 52.5,211.7 53.2,211.8 53.8,212.3 55.7,215.2 56.1,216.4 56.1,218.2 55.7,219.6 54.8,220.8 52.9,222.4 52.0,222.9 51.2,223.2Z"/><path d="M51.0,222.8 50.4,222.6 50.0,222.3 49.0,221.0 48.5,220.2 48.3,219.0 48.3,216.2 48.7,214.8 49.6,213.6 50.4,213.0 51.4,212.3 52.0,212.1 52.5,212.1 53.2,212.4 53.5,212.7 55.5,215.4 55.9,216.6 55.8,218.2 55.4,219.4 54.8,220.3 52.5,222.2 51.8,222.6 51.0,222.8Z"/><path d="M51.8,222.2 51.0,222.4 50.4,222.2 50.0,221.7 49.0,220.4 48.7,219.8 48.6,219.0 48.5,216.6 48.8,215.2 49.5,214.0 50.4,213.3 51.2,212.8 51.8,212.5 52.4,212.5 53.0,212.7 53.4,213.0 55.2,215.3 55.6,216.4 55.7,217.6 55.4,218.8 55.0,219.6 52.5,221.7 51.8,222.2Z"/><path d="M51.8,221.8 51.2,222.0 50.5,221.8 50.0,221.2 49.3,220.2 48.9,219.0 48.8,216.6 49.0,215.2 49.6,214.2 50.2,213.7 51.0,213.2 51.5,212.9 52.2,212.8 52.8,213.0 53.2,213.3 54.8,215.2 55.3,216.2 55.5,217.4 55.2,218.6 54.8,219.4 51.8,221.8Z"/><path d="M51.5,221.4 51.0,221.4 50.6,221.2 49.5,219.8 49.1,218.6 49.0,216.4 49.3,215.2 49.9,214.2 51.2,213.4 52.2,213.2 52.5,213.3 53.0,213.6 54.8,215.6 55.2,216.4 55.2,217.6 55.0,218.6 54.5,219.2 53.1,220.2 52.0,221.2 51.5,221.4Z"/><path d="M51.5,220.7 51.2,220.7 50.8,220.5 50.2,219.9 49.8,219.2 49.4,218.0 49.2,216.4 49.5,215.2 50.1,214.4 51.0,213.8 52.0,213.5 52.8,213.8 54.4,215.6 54.9,216.4 55.0,217.4 54.8,218.2 54.4,218.9 51.5,220.7Z"/><path d="M51.8,219.4 51.4,219.5 51.0,219.4 50.3,218.8 49.8,217.8 49.6,216.4 49.8,215.6 50.2,214.8 51.0,214.2 51.8,214.0 52.5,214.3 53.9,215.6 54.4,216.4 54.6,217.2 54.4,218.0 54.0,218.5 53.4,218.9 51.8,219.4Z"/></g>
<path fill="#999" d="M53.2 238.1h.60v.60h-.60zM64.5 222.2h.60v.60h-.60zM48.7 199.5h.60v.60h-.60zM57.2 232.2h.60v.60h-.60zM44.0 236.3h.60v.60h-.60zM40.9 227.5h.60v.60h-.60zM40.8 227.1h.60v.60h-.60zM43.1 228.3h.60v.60h-.60zM59.3 202.5h.60v.60h-.60zM62.2 204.3h.60v.60h-.60zM47.8 236.2h.60v.60h-.60zM37.5 210.7h.60v.60h-.60zM51.6 237.0h.60v.60h-.60zM64.1 219.5h.60v.60h-.60zM33.0 220.9h.60v.60h-.60zM58.5 236.9h.60v.60h-.60zM53.7 198.4h.60v.60h-.60zM62.8 223.8h.60v.60h-.60zM46.3 235.2h.60v.60h-.60zM61.6 236.8h.60v.60h-.60zM40.7 223.3h.60v.60h-.60zM45.3 234.6h.60v.60h-.60zM39.5 215.8h.60v.60h-.60zM55.3 200.2h.60v.60h-.60zM37.3 218.8h.60v.60h-.60zM48.5 196.0h.60v.60h-.60zM53.6 198.4h.60v.60h-.60zM58.4 233.5h.60v.60h-.60zM44.2 229.3h.60v.60h-.60zM54.4 201.2h.60v.60h-.60zM63.9 220.2h.60v.60h-.60zM56.0 236.3h.60v.60h-.60zM36.8 220.9h.60v.60h-.60zM47.2 200.4h.60v.60h-.60zM62.0 231.9h.60v.60h-.60zM42.1 226.9h.60v.60h-.60zM60.8 228.5h.60v.60h-.60zM37.2 208.5h.60v.60h-.60zM68.2 207.2h.60v.60h-.60zM57.1 234.0h.60v.60h-.60zM42.4 202.4h.60v.60h-.60zM43.3 229.3h.60v.60h-.60zM53.0 235.2h.60v.60h-.60zM54.1 234.3h.60v.60h-.60zM44.8 233.0h.60v.60h-.60zM50.4 235.0h.60v.60h-.60zM57.1 198.5h.60v.60h-.60zM64.4 219.9h.60v.60h-.60zM42.4 204.8h.60v.60h-.60zM40.7 223.3h.60v.60h-.60zM39.9 220.4h.60v.60h-.60zM50.1 192.2h.60v.60h-.60zM44.5 204.5h.60v.60h-.60zM64.1 226.2h.60v.60h-.60zM49.4 233.5h.60v.60h-.60zM44.5 235.4h.60v.60h-.60zM37.6 212.1h.60v.60h-.60zM62.2 198.2h.60v.60h-.60zM43.3 204.6h.60v.60h-.60zM50.8 234.7h.60v.60h-.60zM59.7 229.4h.60v.60h-.60zM41.6 197.8h.60v.60h-.60zM40.7 193.6h.60v.60h-.60zM47.7 236.4h.60v.60h-.60zM42.2 204.2h.60v.60h-.60zM52.8 238.4h.60v.60h-.60zM39.7 220.4h.60v.60h-.60zM66.1 240.5h.60v.60h-.60zM40.1 223.9h.60v.60h-.60zM45.2 239.5h.60v.60h-.60zM60.2 205.5h.60v.60h-.60zM60.2 203.9h.60v.60h-.60zM66.1 211.0h.60v.60h-.60zM59.9 229.1h.60v.60h-.60zM38.8 213.3h.60v.60h-.60zM49.0 236.7h.60v.60h-.60zM43.4 229.8h.60v.60h-.60zM61.4 226.1h.60v.60h-.60zM56.0 232.1h.60v.60h-.60zM61.1 205.6h.60v.60h-.60zM59.8 201.2h.60v.60h-.60zM40.1 203.4h.60v.60h-.60zM62.2 208.5h.60v.60h-.60zM38.8 218.1h.60v.60h-.60zM39.9 236.5h.60v.60h-.60zM56.4 233.4h.60v.60h-.60zM43.3 237.5h.60v.60h-.60zM62.2 211.8h.60v.60h-.60zM43.0 195.2h.60v.60h-.60zM47.3 192.9h.60v.60h-.60zM46.2 199.7h.60v.60h-.60zM61.5 227.5h.60v.60h-.60zM37.2 226.0h.60v.60h-.60zM55.6 232.3h.60v.60h-.60zM62.6 219.6h.60v.60h-.60zM46.8 235.3h.60v.60h-.60zM53.6 200.9h.60v.60h-.60zM41.7 209.9h.60v.60h-.60zM53.7 241.0h.60v.60h-.60zM42.0 239.5h.60v.60h-.60zM40.3 208.0h.60v.60h-.60zM62.8 221.9h.60v.60h-.60zM54.2 238.5h.60v.60h-.60zM55.6 237.5h.60v.60h-.60zM62.3 205.5h.60v.60h-.60zM61.6 233.6h.60v.60h-.60zM57.0 199.6h.60v.60h-.60zM38.7 202.2h.60v.60h-.60zM39.4 229.1h.60v.60h-.60zM62.3 225.8h.60v.60h-.60zM62.2 207.5h.60v.60h-.60zM62.6 223.3h.60v.60h-.60zM64.9 224.5h.60v.60h-.60zM42.8 231.9h.60v.60h-.60zM34.8 219.9h.60v.60h-.60zM48.7 201.7h.60v.60h-.60zM63.9 219.6h.60v.60h-.60zM37.8 203.6h.60v.60h-.60zM48.3 197.2h.60v.60h-.60zM52.2 233.4h.60v.60h-.60zM56.8 232.8h.60v.60h-.60zM64.2 212.3h.60v.60h-.60zM62.7 202.0h.60v.60h-.60zM38.2 208.2h.60v.60h-.60zM44.8 232.9h.60v.60h-.60zM45.8 196.6h.60v.60h-.60zM51.9 191.0h.60v.60h-.60zM47.6 201.7h.60v.60h-.60zM60.3 196.9h.60v.60h-.60zM59.3 245.8h.60v.60h-.60zM50.0 199.2h.60v.60h-.60zM34.3 217.2h.60v.60h-.60zM62.8 213.3h.60v.60h-.60zM40.6 215.5h.60v.60h-.60zM45.6 202.3h.60v.60h-.60zM49.1 200.8h.60v.60h-.60zM64.3 203.6h.60v.60h-.60zM54.7 200.7h.60v.60h-.60zM39.8 215.3h.60v.60h-.60zM38.2 220.1h.60v.60h-.60zM60.4 228.8h.60v.60h-.60zM45.7 201.1h.60v.60h-.60zM37.3 215.4h.60v.60h-.60zM55.0 192.2h.60v.60h-.60zM62.4 209.2h.60v.60h-.60zM38.9 218.3h.60v.60h-.60zM59.0 194.6h.60v.60h-.60zM45.1 199.7h.60v.60h-.60zM57.2 193.7h.60v.60h-.60zM37.6 220.5h.60v.60h-.60zM66.7 197.9h.60v.60h-.60zM62.5 220.7h.60v.60h-.60zM66.5 224.0h.60v.60h-.60zM39.9 229.5h.60v.60h-.60zM34.3 225.1h.60v.60h-.60zM63.8 224.3h.60v.60h-.60zM50.7 193.6h.60v.60h-.60zM36.7 217.3h.60v.60h-.60zM67.9 219.5h.60v.60h-.60zM39.4 215.2h.60v.60h-.60zM64.9 215.6h.60v.60h-.60zM61.7 230.4h.60v.60h-.60zM63.3 220.0h.60v.60h-.60zM46.1 202.2h.60v.60h-.60zM43.6 202.8h.60v.60h-.60zM68.0 226.8h.60v.60h-.60zM62.8 209.7h.60v.60h-.60zM43.8 204.8h.60v.60h-.60zM50.4 198.9h.60v.60h-.60zM65.2 220.4h.60v.60h-.60zM49.6 233.2h.60v.60h-.60zM41.2 210.3h.60v.60h-.60zM48.5 201.2h.60v.60h-.60zM37.7 210.2h.60v.60h-.60zM44.3 229.7h.60v.60h-.60zM36.7 212.9h.60v.60h-.60zM39.6 209.1h.60v.60h-.60zM55.9 236.6h.60v.60h-.60zM58.9 204.9h.60v.60h-.60zM61.6 233.2h.60v.60h-.60z"/>
<g fill="none" stroke="#444" stroke-width="0.45" stroke-opacity="0.75" stroke-linejoin="round" clip-path="url(#cC1)"><path d="M51.2,253.4 49.2,253.5 47.5,253.3 46.4,253.1 44.5,252.3 42.8,251.1 40.8,249.0 39.7,247.4 38.4,244.6 38.1,243.6 38.0,242.4 38.0,241.2 38.2,240.0 39.3,236.4 40.2,235.0 42.4,232.2 43.4,231.4 44.5,230.8 48.5,229.7 50.0,229.5 51.5,229.6 53.4,230.3 56.0,231.7 57.5,233.0 59.0,235.0 60.0,236.8 60.7,239.2 61.0,241.2 60.9,243.0 60.1,245.8 59.2,247.6 58.0,249.4 56.8,250.7 55.5,251.7 52.5,253.0 51.2,253.4Z"/><path d="M51.0,252.0 48.2,252.0 46.8,251.8 45.1,251.2 43.5,250.1 41.9,248.2 40.6,246.2 39.6,244.0 39.4,243.0 39.3,242.0 39.4,240.8 39.6,239.8 40.6,236.8 41.4,235.4 43.4,233.2 44.1,232.5 45.1,232.1 50.5,231.0 51.8,231.1 53.5,231.9 55.5,233.0 56.8,234.1 58.1,235.8 58.8,237.2 59.5,239.4 59.7,241.2 59.6,242.8 59.0,245.0 58.3,246.6 57.1,248.4 56.0,249.6 54.8,250.5 52.4,251.6 51.0,252.0Z"/><path d="M49.0,250.6 47.4,250.5 46.1,250.1 44.5,249.2 43.4,248.0 42.2,246.4 41.0,243.8 40.6,242.4 40.6,240.8 41.1,239.0 42.0,236.8 43.0,235.4 44.4,234.1 45.4,233.5 46.5,233.1 50.0,232.5 51.2,232.5 52.5,232.9 54.5,234.0 55.8,234.9 56.8,236.0 57.5,237.4 58.1,239.2 58.3,240.8 58.3,242.6 57.9,244.4 57.5,245.6 56.7,246.8 55.5,248.0 53.8,249.4 52.4,250.1 51.0,250.5 49.0,250.6Z"/><path d="M48.8,249.4 47.5,249.3 46.4,248.8 44.8,247.9 43.8,246.9 43.1,245.8 41.8,243.0 41.6,241.8 41.6,240.6 42.0,239.2 43.0,237.2 43.8,236.0 44.8,235.2 46.0,234.5 47.5,234.0 50.0,233.6 51.4,233.6 52.5,234.1 54.2,235.1 55.4,236.1 56.2,237.2 56.8,238.6 57.1,240.2 57.2,241.6 57.0,243.6 56.6,245.0 56.0,246.0 55.2,246.8 53.2,248.2 52.4,248.7 51.4,249.1 50.2,249.3 48.8,249.4Z"/><path d="M50.0,248.2 48.8,248.2 47.5,248.0 45.8,247.1 44.8,246.4 44.0,245.4 43.0,243.0 42.6,242.0 42.6,241.2 42.7,240.2 43.2,239.0 44.1,237.3 45.0,236.4 46.0,235.7 47.5,235.0 49.0,234.7 50.4,234.6 51.4,234.8 52.3,235.2 53.8,236.4 54.7,237.4 55.2,238.2 55.7,239.4 56.0,240.8 56.0,242.0 55.9,243.2 55.7,244.2 55.4,244.8 54.9,245.4 52.0,247.6 51.0,248.0 50.0,248.2Z"/><path d="M50.5,247.2 49.4,247.3 48.2,247.1 46.9,246.6 45.8,245.9 45.1,245.4 44.5,244.4 43.7,242.6 43.4,241.6 43.5,240.8 43.8,239.8 44.7,238.2 45.4,237.3 46.1,236.7 47.1,236.2 48.4,235.8 49.5,235.6 50.5,235.6 51.5,235.9 52.4,236.5 53.4,237.4 54.1,238.2 54.6,239.2 55.0,240.4 55.2,241.4 55.0,243.2 54.8,244.0 54.4,244.7 53.5,245.5 52.2,246.5 51.4,247.0 50.5,247.2Z"/><path d="M51.0,246.5 50.0,246.6 49.0,246.5 47.8,246.1 46.5,245.5 45.9,245.0 45.4,244.4 44.6,243.2 44.2,242.2 44.1,241.4 44.2,240.6 44.5,239.7 45.4,238.5 46.0,237.8 46.5,237.4 48.4,236.7 49.4,236.5 50.4,236.5 51.2,236.7 52.0,237.1 52.8,237.8 53.5,238.6 54.1,239.6 54.4,240.6 54.6,241.6 54.6,242.4 54.4,243.2 54.1,244.0 53.5,244.7 52.8,245.4 51.8,246.1 51.0,246.5Z"/><path d="M51.0,246.0 50.2,246.1 49.4,246.0 48.2,245.7 47.1,245.2 46.4,244.7 45.8,244.1 44.8,242.6 44.5,241.4 44.6,240.8 44.8,240.2 45.4,239.3 46.0,238.6 46.5,238.1 47.1,237.7 48.2,237.4 49.4,237.2 50.4,237.1 51.2,237.3 52.0,237.7 52.8,238.3 53.3,239.0 53.8,239.8 54.1,240.8 54.3,241.8 54.2,242.8 53.9,243.6 53.4,244.4 52.8,245.0 51.8,245.7 51.0,246.0Z"/><path d="M51.2,245.6 50.5,245.7 49.8,245.7 47.8,245.0 46.4,244.2 45.4,243.0 44.9,241.8 44.9,241.2 45.0,240.6 45.8,239.4 47.0,238.4 47.8,238.1 48.8,237.8 50.0,237.7 51.0,237.7 51.8,238.0 52.4,238.4 52.9,239.0 53.3,239.6 53.7,240.4 53.9,241.4 54.0,242.4 53.8,243.2 53.3,244.0 52.8,244.7 52.0,245.3 51.2,245.6Z"/><path d="M50.8,245.4 49.5,245.3 47.5,244.5 46.4,243.7 45.6,242.8 45.2,241.8 45.3,240.8 45.9,239.8 47.0,239.0 47.8,238.6 48.5,238.4 50.0,238.2 51.0,238.2 51.5,238.3 52.2,238.7 52.7,239.2 53.2,239.8 53.5,240.7 53.7,241.6 53.7,242.4 53.5,243.2 53.1,244.0 52.4,244.7 51.5,245.2 50.8,245.4Z"/><path d="M51.4,245.0 50.4,245.2 49.4,245.0 47.8,244.3 46.5,243.6 45.8,242.6 45.4,241.8 45.5,241.0 46.0,240.2 46.5,239.6 47.4,239.2 49.2,238.7 50.4,238.5 51.2,238.5 51.8,238.7 52.4,239.2 53.0,239.9 53.4,240.8 53.6,241.8 53.5,242.6 53.2,243.4 52.8,244.1 52.2,244.6 51.4,245.0Z"/><path d="M51.4,244.8 50.5,244.9 49.5,244.8 48.0,244.1 46.8,243.4 46.0,242.6 45.7,241.8 45.8,241.0 46.1,240.4 46.6,240.0 47.4,239.5 49.2,239.0 51.0,238.9 51.5,239.0 52.2,239.3 52.8,240.0 53.2,240.8 53.4,241.6 53.4,242.4 53.1,243.2 52.7,243.8 52.2,244.4 51.4,244.8Z"/><path d="M51.2,244.6 50.4,244.7 49.4,244.4 48.0,243.9 46.9,243.2 46.3,242.6 46.0,241.8 46.0,241.2 46.3,240.6 46.8,240.2 47.5,239.8 49.8,239.3 51.2,239.2 51.8,239.4 52.2,239.7 52.6,240.2 53.0,241.0 53.2,241.8 53.1,242.6 52.8,243.4 52.4,244.0 51.8,244.4 51.2,244.6Z"/><path d="M51.0,244.4 50.2,244.4 49.2,244.1 48.0,243.6 47.1,243.1 46.7,242.6 46.3,242.0 46.3,241.4 46.5,240.9 47.0,240.5 47.5,240.2 49.2,239.8 51.0,239.6 51.5,239.7 52.0,239.9 52.5,240.6 52.8,241.2 53.0,242.0 52.9,242.6 52.7,243.2 52.2,243.8 51.5,244.2 51.0,244.4Z"/><path d="M51.2,244.0 50.5,244.1 49.8,243.9 48.5,243.5 47.7,243.0 47.1,242.5 46.8,242.0 46.8,241.6 46.9,241.2 47.5,240.7 48.8,240.3 50.8,240.0 51.4,240.1 51.8,240.3 52.2,240.6 52.5,241.2 52.7,241.8 52.7,242.4 52.5,243.0 52.2,243.4 51.7,243.8 51.2,244.0Z"/></g>
<path fill="#999" d="M55.5 226.8h.60v.60h-.60zM35.0 245.6h.60v.60h-.60zM55.5 226.8h.60v.60h-.60zM49.2 228.0h.60v.60h-.60zM45.7 227.8h.60v.60h-.60zM52.4 256.8h.60v.60h-.60zM60.8 241.6h.60v.60h-.60zM37.1 243.7h.60v.60h-.60zM60.5 232.2h.60v.60h-.60zM41.9 232.0h.60v.60h-.60zM38.5 253.3h.60v.60h-.60zM49.0 254.7h.60v.60h-.60zM61.4 244.9h.60v.60h-.60zM60.5 249.5h.60v.60h-.60zM57.6 250.1h.60v.60h-.60zM34.2 243.7h.60v.60h-.60zM39.8 248.2h.60v.60h-.60zM48.2 253.6h.60v.60h-.60zM35.6 244.8h.60v.60h-.60zM63.3 236.3h.60v.60h-.60zM40.1 252.1h.60v.60h-.60zM33.1 247.6h.60v.60h-.60zM36.6 235.1h.60v.60h-.60zM39.7 252.8h.60v.60h-.60zM45.5 227.6h.60v.60h-.60zM57.9 252.5h.60v.60h-.60zM57.0 230.6h.60v.60h-.60zM50.2 228.1h.60v.60h-.60zM56.8 225.2h.60v.60h-.60zM55.8 254.0h.60v.60h-.60zM36.5 239.7h.60v.60h-.60zM33.9 243.1h.60v.60h-.60zM40.0 248.2h.60v.60h-.60zM34.3 239.9h.60v.60h-.60zM63.9 236.9h.60v.60h-.60zM58.9 249.3h.60v.60h-.60zM37.6 246.1h.60v.60h-.60zM35.7 243.9h.60v.60h-.60zM55.9 254.4h.60v.60h-.60zM65.7 233.8h.60v.60h-.60zM44.3 252.4h.60v.60h-.60zM42.0 251.9h.60v.60h-.60zM44.8 257.6h.60v.60h-.60zM42.9 253.9h.60v.60h-.60zM51.5 254.1h.60v.60h-.60zM53.2 253.5h.60v.60h-.60zM47.4 227.5h.60v.60h-.60zM36.9 237.3h.60v.60h-.60zM41.4 250.2h.60v.60h-.60zM37.6 237.8h.60v.60h-.60zM61.3 241.5h.60v.60h-.60zM56.8 262.7h.60v.60h-.60zM64.6 241.4h.60v.60h-.60zM58.7 254.0h.60v.60h-.60zM56.3 253.7h.60v.60h-.60zM54.5 252.3h.60v.60h-.60zM39.1 235.7h.60v.60h-.60zM60.9 241.6h.60v.60h-.60zM46.3 226.7h.60v.60h-.60zM39.4 230.1h.60v.60h-.60zM51.7 253.3h.60v.60h-.60zM45.4 228.7h.60v.60h-.60zM50.8 256.7h.60v.60h-.60zM50.1 229.0h.60v.60h-.60zM46.2 258.7h.60v.60h-.60zM40.2 232.0h.60v.60h-.60zM44.6 230.1h.60v.60h-.60zM54.1 226.6h.60v.60h-.60zM58.9 248.7h.60v.60h-.60zM33.8 232.3h.60v.60h-.60zM59.6 247.9h.60v.60h-.60zM61.3 240.4h.60v.60h-.60zM54.4 227.3h.60v.60h-.60zM37.4 237.4h.60v.60h-.60zM42.4 227.7h.60v.60h-.60zM48.9 253.5h.60v.60h-.60zM60.1 232.9h.60v.60h-.60zM42.6 253.6h.60v.60h-.60zM46.3 254.3h.60v.60h-.60zM56.1 252.4h.60v.60h-.60zM60.5 236.2h.60v.60h-.60zM41.8 226.8h.60v.60h-.60zM57.4 232.6h.60v.60h-.60zM61.7 251.7h.60v.60h-.60zM40.0 233.2h.60v.60h-.60zM52.8 256.2h.60v.60h-.60zM48.4 229.3h.60v.60h-.60zM42.8 230.3h.60v.60h-.60zM61.5 233.3h.60v.60h-.60zM56.3 255.1h.60v.60h-.60zM37.0 228.3h.60v.60h-.60zM59.9 247.1h.60v.60h-.60zM43.0 228.1h.60v.60h-.60zM61.4 248.8h.60v.60h-.60zM32.9 236.9h.60v.60h-.60zM40.9 251.4h.60v.60h-.60zM41.9 231.6h.60v.60h-.60zM41.9 254.8h.60v.60h-.60zM60.5 233.0h.60v.60h-.60zM61.2 241.5h.60v.60h-.60zM57.8 227.5h.60v.60h-.60zM59.7 234.8h.60v.60h-.60zM41.3 250.0h.60v.60h-.60zM49.1 254.1h.60v.60h-.60zM48.8 229.1h.60v.60h-.60zM44.7 256.5h.60v.60h-.60zM61.1 248.4h.60v.60h-.60zM39.1 247.3h.60v.60h-.60zM58.0 250.3h.60v.60h-.60zM38.6 253.2h.60v.60h-.60zM39.3 230.0h.60v.60h-.60zM48.3 255.8h.60v.60h-.60zM52.3 221.4h.60v.60h-.60zM61.9 247.6h.60v.60h-.60zM37.0 244.0h.60v.60h-.60zM60.1 253.0h.60v.60h-.60zM53.5 227.7h.60v.60h-.60zM66.5 243.7h.60v.60h-.60zM35.4 246.9h.60v.60h-.60zM36.6 232.2h.60v.60h-.60zM32.8 242.9h.60v.60h-.60zM42.3 252.5h.60v.60h-.60zM54.8 228.1h.60v.60h-.60zM50.4 256.6h.60v.60h-.60zM60.5 244.3h.60v.60h-.60zM50.7 256.1h.60v.60h-.60zM39.4 233.7h.60v.60h-.60zM49.2 254.4h.60v.60h-.60zM57.4 250.3h.60v.60h-.60zM38.2 235.9h.60v.60h-.60zM38.4 251.4h.60v.60h-.60zM47.7 254.5h.60v.60h-.60zM51.7 229.3h.60v.60h-.60zM57.7 256.8h.60v.60h-.60zM34.3 233.1h.60v.60h-.60zM53.0 227.3h.60v.60h-.60zM52.7 229.4h.60v.60h-.60zM50.8 253.2h.60v.60h-.60zM38.7 233.9h.60v.60h-.60zM37.6 248.1h.60v.60h-.60z"/>
<g fill="none" stroke="#444" stroke-width="0.4" stroke-opacity="0.6" stroke-linejoin="round" clip-path="url(#cC1)"><path d="M78.0,245.0 76.2,245.1 74.0,244.9 69.6,243.9 68.3,243.5 67.2,242.8 66.6,242.0 66.3,241.0 66.5,240.0 67.0,239.3 67.8,238.6 69.2,237.7 70.8,237.0 72.6,236.3 75.2,235.7 78.8,235.1 82.6,235.0 84.3,235.1 85.8,235.4 90.0,236.7 90.7,237.2 91.2,237.8 91.4,238.4 91.4,239.0 91.0,240.4 90.2,241.5 89.0,242.4 87.3,243.1 82.6,244.5 81.3,244.7 78.0,245.0Z"/><path d="M77.2,243.4 76.2,243.4 75.2,243.2 74.2,242.9 73.2,242.4 71.8,241.6 71.2,241.1 70.9,240.6 71.0,240.0 71.5,239.4 72.2,238.9 74.8,237.7 77.0,236.9 79.0,236.6 81.3,236.7 85.2,237.2 86.2,237.8 86.8,238.4 87.1,239.0 87.3,239.8 87.2,240.6 86.7,241.2 85.8,241.8 82.6,242.8 77.2,243.4Z"/><path d="M78.3,241.8 76.8,241.9 76.2,241.7 75.6,241.4 75.2,241.0 75.1,240.4 75.2,239.8 75.5,239.4 76.0,239.0 76.8,238.5 77.6,238.3 78.6,238.2 79.6,238.2 80.3,238.3 81.0,238.6 81.5,239.0 81.7,239.4 81.7,239.8 81.6,240.2 81.3,240.6 79.9,241.4 78.3,241.8Z"/></g>
<path fill="#999" d="M66.8 245.0h.60v.60h-.60zM96.4 233.3h.60v.60h-.60zM64.6 237.6h.60v.60h-.60zM83.5 234.4h.60v.60h-.60zM64.8 241.6h.60v.60h-.60zM66.7 239.4h.60v.60h-.60zM93.4 231.3h.60v.60h-.60zM94.3 238.1h.60v.60h-.60zM70.4 244.2h.60v.60h-.60zM91.1 239.5h.60v.60h-.60zM71.1 246.6h.60v.60h-.60zM87.8 235.3h.60v.60h-.60zM67.4 246.3h.60v.60h-.60zM75.6 232.4h.60v.60h-.60zM77.9 246.4h.60v.60h-.60zM63.8 244.5h.60v.60h-.60zM65.6 241.6h.60v.60h-.60zM66.1 240.9h.60v.60h-.60zM63.1 238.6h.60v.60h-.60zM84.5 229.6h.60v.60h-.60zM76.7 234.3h.60v.60h-.60zM73.9 246.3h.60v.60h-.60zM89.6 233.3h.60v.60h-.60zM70.8 248.7h.60v.60h-.60zM68.5 247.6h.60v.60h-.60zM93.0 238.0h.60v.60h-.60zM71.1 247.2h.60v.60h-.60zM90.3 236.1h.60v.60h-.60zM71.6 245.1h.60v.60h-.60zM86.4 235.1h.60v.60h-.60zM82.4 245.0h.60v.60h-.60zM72.7 233.1h.60v.60h-.60zM65.8 242.8h.60v.60h-.60zM65.0 242.7h.60v.60h-.60zM89.4 232.3h.60v.60h-.60zM92.0 237.8h.60v.60h-.60zM76.2 245.1h.60v.60h-.60zM74.4 228.6h.60v.60h-.60zM71.4 235.9h.60v.60h-.60zM67.6 243.9h.60v.60h-.60z"/>
<rect x="35.75" y="193.50" width="30.50" height="40.75" stroke="#2a2a2a" stroke-width="0.9" fill="none"/>
<rect x="66.25" y="194.50" width="43.75" height="68.50" stroke="#2a2a2a" stroke-width="0.9" fill="none"/>
<rect x="44.75" y="192.80" width="13" height="1.4" fill="#fff" fill-opacity="0.72"/>
<text x="51.25" y="191.80" font-size="6.3" text-anchor="middle" fill="#222" stroke="#222" stroke-width="0.28">56.6</text>
<rect x="81.00" y="193.80" width="13" height="1.4" fill="#fff" fill-opacity="0.72"/>
<text x="87.50" y="191.80" font-size="6.3" text-anchor="middle" fill="#222" stroke="#222" stroke-width="0.28">8.12</text>
<rect x="133.75" y="178.20" width="87.50" height="87.20" stroke="#6e6e6e" stroke-width="1.0" fill="none"/>
<text x="178.00" y="172.60" font-size="7.6" text-anchor="middle" fill="#222" stroke="#222" stroke-width="0.28">EasySep ILC2</text>
<defs><clipPath id="cC2"><rect x="134.35" y="178.79999999999998" width="86.30000000000001" height="85.99999999999997"/></clipPath></defs>
<g fill="none" stroke="#444" stroke-width="0.4" stroke-opacity="0.6" stroke-linejoin="round" clip-path="url(#cC2)"><path d="M149.9,238.8 148.8,238.9 147.6,238.7 145.9,238.3 144.8,237.8 143.6,237.1 142.6,236.3 140.1,233.8 138.8,232.2 138.3,231.0 138.4,229.8 139.1,226.8 141.3,220.3 142.1,217.2 143.4,212.8 144.1,211.6 147.3,207.1 148.3,206.2 149.9,205.2 150.9,204.7 151.9,204.3 153.2,204.3 158.2,204.8 159.6,205.4 160.8,206.4 162.6,209.0 164.7,211.4 165.5,212.8 165.7,214.2 165.8,216.6 166.0,219.2 166.1,221.4 166.0,223.4 165.5,226.4 164.9,228.2 163.7,231.2 163.2,232.2 161.8,234.0 159.7,236.2 157.9,237.3 155.3,238.3 154.2,238.5 151.6,238.6 149.9,238.8Z"/><path d="M149.6,237.4 148.2,237.5 146.8,237.1 145.2,236.4 143.8,235.4 142.1,233.6 140.5,231.6 140.1,230.6 140.3,229.2 141.1,226.4 142.8,221.8 143.5,217.8 144.6,214.2 145.2,213.0 146.8,210.4 147.9,209.1 148.9,208.2 150.2,207.4 151.3,206.8 152.3,206.5 154.8,206.3 155.9,206.3 156.9,206.5 158.3,207.0 159.6,208.0 162.8,211.6 163.5,212.6 163.9,213.4 164.1,214.4 164.2,216.8 164.5,219.0 164.6,220.0 164.4,222.4 163.7,227.0 162.9,229.2 161.9,231.2 160.0,233.8 159.2,234.7 158.3,235.3 156.6,236.4 154.8,237.0 153.8,237.2 151.2,237.2 149.6,237.4Z"/><path d="M149.6,236.2 148.3,236.2 146.9,235.9 145.6,235.3 144.6,234.6 143.3,233.2 142.2,231.6 141.8,230.6 141.9,229.4 143.3,225.4 144.1,222.2 144.8,218.0 145.9,214.4 146.8,212.9 147.6,211.8 148.4,210.8 149.8,209.5 150.8,208.8 151.8,208.4 154.3,207.9 155.2,207.8 155.9,207.9 156.8,208.2 157.8,208.7 160.6,211.2 161.8,212.6 162.2,213.4 162.6,214.2 162.8,215.4 163.3,219.6 162.0,227.4 161.4,229.2 160.4,230.8 158.6,233.2 156.9,234.6 155.6,235.5 154.3,235.9 151.3,236.0 149.6,236.2Z"/><path d="M149.3,235.2 148.2,235.2 146.9,234.8 145.8,234.2 144.8,233.4 143.8,232.3 143.1,231.2 142.9,230.2 143.0,229.2 144.3,226.0 145.2,221.6 145.6,219.2 146.5,216.8 147.0,214.8 147.3,214.0 147.9,213.2 150.2,210.9 151.2,210.1 151.9,209.7 154.2,209.1 154.9,209.0 155.8,209.1 156.3,209.3 157.2,209.8 160.0,212.4 161.1,213.8 161.7,215.2 162.1,217.8 162.2,219.2 161.7,221.6 161.4,223.8 160.7,227.6 160.1,229.2 158.6,231.4 157.3,232.8 155.6,234.2 154.8,234.6 153.9,234.8 151.6,234.9 149.3,235.2Z"/><path d="M150.6,234.2 149.2,234.4 148.2,234.3 146.9,233.9 145.8,233.3 144.8,232.4 144.0,231.4 143.7,230.4 143.7,229.4 144.0,228.6 145.1,226.2 145.4,223.8 146.3,219.8 147.3,217.4 147.7,215.4 148.0,214.6 148.4,214.0 150.8,211.6 151.6,211.0 152.3,210.6 153.9,210.1 154.8,209.9 155.6,210.0 156.2,210.2 156.8,210.6 159.4,213.0 160.2,214.0 160.9,215.4 161.3,217.0 161.4,218.6 161.3,219.4 160.8,221.4 160.5,224.6 159.9,227.2 159.5,228.4 158.3,230.4 157.2,231.8 155.3,233.3 154.3,233.8 153.6,234.0 150.6,234.2Z"/><path d="M149.8,233.6 148.8,233.7 147.8,233.5 146.8,233.1 145.7,232.4 144.9,231.6 144.4,230.8 144.2,230.0 144.3,229.2 145.6,226.6 145.9,223.8 146.8,220.4 147.9,217.6 148.4,215.6 148.6,215.0 151.0,212.4 151.9,211.6 152.9,211.1 154.2,210.7 154.9,210.6 155.6,210.7 156.6,211.2 159.1,213.6 159.8,214.6 160.4,216.0 160.7,217.4 160.7,218.6 160.2,221.2 160.1,223.6 159.8,225.2 159.2,227.3 158.3,229.2 157.4,230.6 156.2,231.8 154.9,232.8 153.9,233.2 153.2,233.4 149.8,233.6Z"/><path d="M150.8,232.8 148.3,232.8 147.3,232.6 146.6,232.2 145.8,231.6 145.2,230.9 144.9,230.2 144.9,229.4 145.2,228.7 146.2,226.8 146.5,223.6 147.1,222.0 147.5,220.2 149.2,215.4 151.5,212.8 152.3,212.1 153.9,211.4 155.2,211.3 156.2,211.7 158.3,213.7 159.2,214.7 159.7,216.0 160.0,217.2 160.1,218.2 159.6,221.2 159.4,224.2 158.9,225.6 157.4,229.2 157.0,230.0 156.3,230.8 155.2,231.8 153.9,232.5 152.8,232.8 150.8,232.8Z"/><path d="M153.2,232.0 151.9,232.2 148.9,232.0 147.3,231.8 146.6,231.4 145.9,230.9 145.6,230.2 145.5,229.6 145.7,229.0 146.6,227.7 146.8,227.0 147.1,224.0 148.1,222.0 148.5,219.6 149.2,217.0 149.6,216.0 150.2,215.3 152.6,212.8 153.8,212.1 154.8,211.9 155.3,212.1 156.2,212.5 157.7,213.8 158.4,214.6 158.8,215.4 159.2,216.4 159.4,217.6 159.4,218.6 158.9,221.4 158.9,223.4 158.7,224.2 158.3,225.1 157.1,226.8 156.7,228.8 156.5,229.4 156.0,230.2 155.1,231.0 154.2,231.7 153.2,232.0Z"/><path d="M151.9,231.4 150.8,231.3 147.6,230.8 147.1,230.6 146.8,230.2 146.6,229.6 147.6,227.4 148.0,224.6 148.4,224.0 149.6,223.0 150.0,222.4 150.0,221.6 149.5,220.2 149.4,219.4 149.6,218.0 150.0,216.8 150.6,215.9 153.0,213.4 153.9,212.8 154.8,212.8 155.8,213.1 157.2,214.2 157.9,215.2 158.4,216.2 158.7,217.4 158.7,218.6 158.3,221.4 158.1,223.2 157.8,224.2 156.4,225.4 156.0,226.0 155.8,226.8 155.7,228.8 155.2,229.8 154.6,230.4 153.8,231.0 152.9,231.3 151.9,231.4Z"/><path d="M152.6,230.2 151.8,230.3 150.8,230.3 149.9,230.0 149.2,229.5 148.8,229.0 148.6,228.6 148.7,227.0 148.9,226.0 149.2,225.4 149.7,224.8 151.2,223.8 151.5,223.4 151.7,222.8 151.7,222.0 151.5,221.4 150.6,219.6 150.4,219.0 150.4,218.2 150.6,217.4 151.2,216.6 152.8,215.6 153.9,214.4 154.3,214.2 154.9,214.1 155.6,214.3 156.2,214.7 156.7,215.2 157.1,215.8 157.8,217.8 157.9,218.6 157.9,219.4 157.2,222.3 156.9,223.0 156.3,223.6 155.2,224.4 154.7,225.0 154.6,225.6 154.6,227.8 154.4,228.8 153.8,229.6 152.6,230.2Z"/><path d="M154.9,222.4 154.2,222.5 153.8,222.3 153.6,222.0 153.0,220.4 151.9,219.3 151.7,218.8 151.6,218.2 151.9,217.7 152.3,217.6 152.8,217.7 154.2,218.6 154.6,218.6 155.9,218.2 156.3,218.3 156.6,218.6 156.8,219.4 156.6,220.4 155.8,221.9 154.9,222.4Z"/><path d="M151.8,229.2 150.9,229.1 150.3,228.8 150.0,228.4 149.8,227.8 149.8,227.0 150.2,226.3 150.8,225.9 151.3,225.7 152.2,225.7 152.8,226.0 153.3,226.6 153.5,227.2 153.4,227.8 153.2,228.4 152.6,228.9 151.8,229.2Z"/></g>
<path fill="#999" d="M163.3 230.8h.60v.60h-.60zM163.4 194.7h.60v.60h-.60zM143.3 207.0h.60v.60h-.60zM167.3 228.9h.60v.60h-.60zM169.4 237.1h.60v.60h-.60zM163.3 237.0h.60v.60h-.60zM163.4 207.8h.60v.60h-.60zM166.6 216.6h.60v.60h-.60zM147.1 206.0h.60v.60h-.60zM165.5 210.1h.60v.60h-.60zM159.1 203.4h.60v.60h-.60zM167.6 213.8h.60v.60h-.60zM170.2 227.0h.60v.60h-.60zM160.2 237.4h.60v.60h-.60zM152.5 245.9h.60v.60h-.60zM135.2 218.7h.60v.60h-.60zM165.7 206.1h.60v.60h-.60zM141.0 237.4h.60v.60h-.60zM154.8 239.3h.60v.60h-.60zM170.2 225.3h.60v.60h-.60zM167.3 213.5h.60v.60h-.60zM168.6 232.8h.60v.60h-.60zM158.8 237.3h.60v.60h-.60zM169.1 215.3h.60v.60h-.60zM163.2 233.2h.60v.60h-.60zM165.9 231.8h.60v.60h-.60zM145.2 204.5h.60v.60h-.60zM153.4 194.9h.60v.60h-.60zM143.5 240.8h.60v.60h-.60zM149.4 203.8h.60v.60h-.60zM144.7 241.1h.60v.60h-.60zM167.8 206.9h.60v.60h-.60zM138.7 232.6h.60v.60h-.60zM162.0 206.0h.60v.60h-.60zM162.2 233.3h.60v.60h-.60zM139.0 218.0h.60v.60h-.60zM165.0 227.5h.60v.60h-.60zM137.8 218.6h.60v.60h-.60zM155.7 247.7h.60v.60h-.60zM160.3 202.8h.60v.60h-.60zM153.6 203.1h.60v.60h-.60zM162.5 201.5h.60v.60h-.60zM161.4 198.8h.60v.60h-.60zM142.4 207.6h.60v.60h-.60zM146.4 203.8h.60v.60h-.60zM161.8 238.2h.60v.60h-.60zM138.9 237.4h.60v.60h-.60zM166.9 221.5h.60v.60h-.60zM163.4 231.0h.60v.60h-.60zM145.1 238.0h.60v.60h-.60zM160.3 241.1h.60v.60h-.60zM138.1 232.6h.60v.60h-.60zM168.2 237.9h.60v.60h-.60zM151.0 201.0h.60v.60h-.60zM153.6 202.8h.60v.60h-.60zM166.5 230.4h.60v.60h-.60zM151.9 238.9h.60v.60h-.60zM142.4 205.8h.60v.60h-.60zM165.5 214.4h.60v.60h-.60zM139.1 211.4h.60v.60h-.60zM147.7 241.4h.60v.60h-.60zM141.6 208.1h.60v.60h-.60zM140.0 221.9h.60v.60h-.60zM162.8 238.1h.60v.60h-.60zM147.1 198.0h.60v.60h-.60zM165.2 211.0h.60v.60h-.60zM155.1 200.7h.60v.60h-.60zM160.5 189.7h.60v.60h-.60zM139.0 213.1h.60v.60h-.60zM153.2 239.3h.60v.60h-.60zM150.4 199.9h.60v.60h-.60zM170.3 189.1h.60v.60h-.60zM136.8 209.4h.60v.60h-.60zM142.7 210.6h.60v.60h-.60zM141.0 220.3h.60v.60h-.60zM167.5 240.3h.60v.60h-.60zM158.9 204.7h.60v.60h-.60zM148.5 246.2h.60v.60h-.60zM159.6 205.1h.60v.60h-.60zM147.6 203.1h.60v.60h-.60zM152.3 246.1h.60v.60h-.60zM149.4 241.7h.60v.60h-.60zM159.3 245.2h.60v.60h-.60zM141.0 207.8h.60v.60h-.60zM149.3 238.6h.60v.60h-.60zM156.4 237.3h.60v.60h-.60zM170.6 206.6h.60v.60h-.60zM139.8 239.8h.60v.60h-.60zM150.6 241.7h.60v.60h-.60zM171.6 212.5h.60v.60h-.60zM165.9 237.4h.60v.60h-.60zM141.5 202.2h.60v.60h-.60zM147.6 244.8h.60v.60h-.60zM154.5 240.7h.60v.60h-.60zM139.9 237.3h.60v.60h-.60zM139.7 221.9h.60v.60h-.60zM142.5 247.4h.60v.60h-.60zM159.9 235.8h.60v.60h-.60zM165.8 229.8h.60v.60h-.60zM166.6 224.7h.60v.60h-.60z"/>
<g fill="none" stroke="#444" stroke-width="0.45" stroke-opacity="0.75" stroke-linejoin="round" clip-path="url(#cC2)"><path d="M150.9,254.2 149.6,254.4 148.6,254.3 145.9,253.6 144.9,253.3 143.9,252.7 142.1,251.2 141.5,250.4 140.8,249.4 139.4,246.2 139.2,244.6 139.5,242.6 140.3,241.0 142.5,237.8 143.9,236.5 145.6,235.6 149.6,234.3 150.9,234.0 154.9,234.2 157.2,234.7 158.3,235.2 159.3,236.0 161.2,238.2 161.6,239.0 161.9,239.8 162.1,241.6 162.5,243.6 162.5,244.4 162.2,245.4 161.7,246.8 161.0,248.0 159.5,250.0 158.3,251.1 156.3,252.4 154.6,253.3 152.9,253.8 150.9,254.2Z"/><path d="M150.2,253.8 149.2,253.8 148.2,253.7 145.6,253.0 144.2,252.2 142.7,250.8 141.2,248.8 139.9,246.0 139.7,245.2 139.7,244.2 139.9,243.2 140.1,242.4 140.9,241.0 142.9,238.0 144.2,236.9 145.9,236.0 149.6,234.7 150.9,234.5 155.6,234.9 157.3,235.3 158.3,235.8 159.0,236.4 160.8,238.8 161.2,239.6 161.9,243.8 161.8,244.8 161.3,246.4 160.7,247.6 159.5,249.2 158.6,250.3 157.6,251.1 155.8,252.2 153.9,253.0 152.3,253.5 150.2,253.8Z"/><path d="M150.2,253.4 148.3,253.3 146.2,252.7 144.8,252.1 143.5,251.0 141.6,248.6 140.6,246.6 140.3,245.6 140.2,244.6 140.3,243.6 140.6,242.6 141.5,240.8 143.2,238.2 144.6,237.1 146.2,236.3 149.2,235.2 150.8,234.9 155.6,235.3 157.2,235.7 157.9,236.1 158.7,236.8 160.4,239.0 160.9,240.0 161.4,243.8 161.3,245.0 160.9,246.4 160.2,247.6 159.0,249.2 158.2,250.1 157.2,250.9 155.3,251.9 153.8,252.6 152.2,253.1 150.2,253.4Z"/><path d="M150.6,253.0 148.8,253.0 146.8,252.5 145.2,251.8 144.0,250.8 141.9,248.5 141.1,246.8 140.8,245.6 140.6,244.6 140.7,243.6 141.0,242.6 142.5,239.8 143.6,238.3 144.8,237.4 146.8,236.5 149.2,235.5 150.8,235.2 155.6,235.6 156.9,236.0 157.7,236.4 158.4,237.0 159.9,239.0 160.5,240.0 160.8,241.4 161.0,243.6 160.9,244.8 160.4,246.4 159.9,247.4 158.9,248.8 158.2,249.7 157.2,250.4 155.3,251.5 153.9,252.2 152.3,252.7 150.6,253.0Z"/><path d="M150.6,252.6 149.3,252.7 148.3,252.5 146.9,252.2 145.8,251.7 144.8,251.0 142.6,248.6 142.1,248.0 141.7,247.2 141.2,245.4 141.1,244.0 141.6,242.4 142.9,239.8 143.9,238.4 145.2,237.5 148.2,236.2 149.8,235.7 150.9,235.6 155.3,236.0 156.8,236.3 157.6,236.8 158.4,237.6 159.6,239.2 160.2,240.4 160.5,242.0 160.6,243.6 160.4,245.0 160.0,246.4 159.5,247.4 158.6,248.7 157.8,249.5 156.8,250.3 155.2,251.3 153.8,251.9 152.3,252.3 150.6,252.6Z"/><path d="M151.2,252.2 149.9,252.3 148.9,252.3 147.8,252.0 146.3,251.5 145.1,250.8 143.0,248.6 142.1,247.4 141.6,245.8 141.5,244.2 141.9,242.6 143.1,240.0 144.1,238.6 145.2,237.9 148.2,236.5 149.6,236.1 150.9,235.9 154.9,236.2 156.3,236.5 157.2,236.9 158.0,237.6 159.2,239.0 159.8,240.2 160.1,241.4 160.3,243.2 160.2,244.4 159.8,246.0 159.4,247.0 158.6,248.2 157.8,249.1 156.8,249.9 155.2,250.9 153.9,251.5 152.8,251.9 151.2,252.2Z"/><path d="M151.6,251.8 149.8,252.0 148.2,251.8 146.2,251.0 144.9,250.1 142.9,248.0 142.2,246.8 142.0,245.8 141.9,244.8 141.9,243.8 142.2,242.6 143.3,240.2 144.3,238.8 145.3,238.1 148.3,236.8 149.8,236.3 150.9,236.2 154.6,236.5 155.9,236.8 156.9,237.2 157.8,237.8 158.8,239.0 159.5,240.2 159.8,241.4 159.9,243.0 159.8,244.2 159.5,245.8 159.1,246.8 158.5,247.8 157.6,248.8 156.7,249.6 155.3,250.5 154.2,251.1 152.9,251.5 151.6,251.8Z"/><path d="M150.6,251.6 149.6,251.6 148.6,251.5 147.3,251.2 146.3,250.7 145.3,250.0 143.2,247.8 142.5,246.6 142.3,245.0 142.4,243.4 142.8,241.8 143.9,239.8 144.7,238.8 145.6,238.3 148.9,236.8 150.2,236.5 151.3,236.5 154.6,236.8 156.2,237.2 157.2,237.8 158.1,238.6 158.9,239.6 159.3,240.6 159.6,241.8 159.6,243.2 159.4,244.6 159.0,246.2 158.5,247.2 157.6,248.4 156.7,249.2 155.6,250.1 154.3,250.7 153.3,251.1 150.6,251.6Z"/><path d="M150.9,251.0 149.2,251.0 147.9,250.8 146.9,250.4 145.8,249.6 143.9,247.8 143.3,246.8 142.9,245.4 142.9,243.8 143.2,242.2 144.0,240.4 144.9,239.3 145.8,238.8 148.9,237.4 150.2,237.1 151.3,237.0 153.8,237.2 155.3,237.6 156.6,238.1 157.5,238.8 158.2,239.6 158.8,240.6 159.0,241.6 159.1,242.8 158.8,244.2 158.4,246.0 157.9,247.0 157.2,248.0 156.5,248.8 155.3,249.7 154.6,250.1 153.6,250.6 150.9,251.0Z"/><path d="M150.9,250.2 149.6,250.3 148.2,250.0 146.9,249.5 145.8,248.6 144.7,247.2 144.1,246.0 143.7,244.2 143.8,242.6 144.2,241.6 144.9,240.4 145.6,239.8 146.3,239.3 149.2,238.1 150.2,237.9 151.9,237.8 153.9,238.0 155.2,238.5 156.4,239.2 157.3,240.0 157.8,240.8 158.1,241.6 158.1,242.4 157.6,245.8 157.3,246.6 156.6,247.6 155.9,248.4 154.9,249.2 154.2,249.6 153.3,249.9 150.9,250.2Z"/><path d="M150.6,249.0 149.6,249.1 148.6,249.0 147.8,248.7 147.2,248.2 146.5,247.2 145.4,244.4 145.2,243.6 145.2,242.8 145.4,242.2 145.8,241.6 146.3,241.0 146.9,240.6 149.9,239.2 150.9,239.1 151.9,239.1 152.9,239.4 153.9,239.8 154.8,240.4 155.3,241.0 155.7,242.0 156.2,245.8 155.9,246.6 155.6,247.2 155.0,247.8 154.3,248.3 153.3,248.6 150.6,249.0Z"/><path d="M150.6,247.6 149.3,247.7 148.9,247.6 148.5,247.2 148.1,246.6 147.3,244.8 146.9,243.4 147.2,242.6 147.9,241.8 149.6,240.9 150.8,240.7 151.3,240.8 152.2,241.1 153.2,241.8 153.8,242.4 154.2,243.4 154.4,245.2 154.2,246.0 153.7,246.6 152.9,246.9 150.6,247.6Z"/></g>
<path fill="#999" d="M154.2 232.0h.60v.60h-.60zM152.2 232.3h.60v.60h-.60zM154.7 253.0h.60v.60h-.60zM148.2 223.2h.60v.60h-.60zM164.6 254.2h.60v.60h-.60zM162.6 242.1h.60v.60h-.60zM152.7 255.3h.60v.60h-.60zM156.4 232.8h.60v.60h-.60zM146.2 254.8h.60v.60h-.60zM157.6 254.4h.60v.60h-.60zM165.2 250.6h.60v.60h-.60zM137.8 246.8h.60v.60h-.60zM157.2 231.9h.60v.60h-.60zM149.8 229.6h.60v.60h-.60zM168.5 255.0h.60v.60h-.60zM136.5 246.2h.60v.60h-.60zM155.7 232.2h.60v.60h-.60zM156.1 225.1h.60v.60h-.60zM149.4 228.2h.60v.60h-.60zM165.8 244.0h.60v.60h-.60zM148.4 233.5h.60v.60h-.60zM138.8 254.8h.60v.60h-.60zM140.8 250.8h.60v.60h-.60zM160.6 236.5h.60v.60h-.60zM167.8 240.5h.60v.60h-.60zM159.2 249.9h.60v.60h-.60zM141.4 256.6h.60v.60h-.60zM166.7 245.8h.60v.60h-.60zM160.6 231.9h.60v.60h-.60zM145.9 230.8h.60v.60h-.60zM140.2 250.1h.60v.60h-.60zM144.0 233.4h.60v.60h-.60zM150.7 229.1h.60v.60h-.60zM153.4 224.1h.60v.60h-.60zM160.7 255.8h.60v.60h-.60zM145.1 253.7h.60v.60h-.60zM160.7 228.9h.60v.60h-.60zM149.8 256.8h.60v.60h-.60zM161.3 256.4h.60v.60h-.60zM163.2 250.0h.60v.60h-.60zM163.5 258.5h.60v.60h-.60zM155.9 233.6h.60v.60h-.60zM164.2 247.1h.60v.60h-.60zM134.5 248.6h.60v.60h-.60zM135.8 230.3h.60v.60h-.60zM153.3 233.0h.60v.60h-.60zM135.8 250.1h.60v.60h-.60zM152.0 255.8h.60v.60h-.60zM149.2 255.5h.60v.60h-.60zM151.6 232.9h.60v.60h-.60zM143.6 236.2h.60v.60h-.60zM146.1 253.6h.60v.60h-.60zM160.9 250.3h.60v.60h-.60zM137.7 236.7h.60v.60h-.60zM162.5 229.1h.60v.60h-.60zM170.5 230.7h.60v.60h-.60zM148.8 255.1h.60v.60h-.60zM161.2 247.5h.60v.60h-.60zM137.3 230.9h.60v.60h-.60zM137.2 239.7h.60v.60h-.60zM140.6 234.9h.60v.60h-.60zM135.6 252.6h.60v.60h-.60zM167.3 234.1h.60v.60h-.60zM164.6 251.7h.60v.60h-.60zM151.4 259.7h.60v.60h-.60zM137.2 253.6h.60v.60h-.60zM164.3 244.4h.60v.60h-.60zM138.4 244.2h.60v.60h-.60zM164.2 237.8h.60v.60h-.60zM137.7 245.0h.60v.60h-.60zM143.0 255.4h.60v.60h-.60zM146.0 261.7h.60v.60h-.60zM162.7 242.0h.60v.60h-.60zM161.1 254.4h.60v.60h-.60zM140.2 252.2h.60v.60h-.60zM138.1 246.6h.60v.60h-.60zM150.5 227.7h.60v.60h-.60zM158.1 232.9h.60v.60h-.60zM154.8 255.4h.60v.60h-.60zM163.8 238.8h.60v.60h-.60zM138.8 245.6h.60v.60h-.60zM161.2 229.5h.60v.60h-.60zM156.8 230.6h.60v.60h-.60zM149.3 255.4h.60v.60h-.60zM163.5 250.2h.60v.60h-.60zM165.6 230.7h.60v.60h-.60zM160.8 235.3h.60v.60h-.60zM147.6 233.9h.60v.60h-.60zM154.4 253.8h.60v.60h-.60zM138.9 246.5h.60v.60h-.60zM166.8 248.3h.60v.60h-.60zM135.2 239.1h.60v.60h-.60zM165.3 235.6h.60v.60h-.60zM135.9 244.5h.60v.60h-.60zM155.6 232.9h.60v.60h-.60zM152.7 253.6h.60v.60h-.60zM135.2 251.8h.60v.60h-.60zM164.4 232.9h.60v.60h-.60zM138.9 242.4h.60v.60h-.60zM135.5 253.8h.60v.60h-.60zM138.4 245.4h.60v.60h-.60zM162.4 244.0h.60v.60h-.60zM173.1 251.1h.60v.60h-.60zM153.6 254.4h.60v.60h-.60zM147.9 232.1h.60v.60h-.60zM148.9 230.7h.60v.60h-.60zM169.5 235.9h.60v.60h-.60zM140.0 249.7h.60v.60h-.60zM152.4 232.5h.60v.60h-.60zM139.1 236.8h.60v.60h-.60zM152.2 228.3h.60v.60h-.60zM161.9 246.2h.60v.60h-.60zM162.5 249.5h.60v.60h-.60zM153.9 259.6h.60v.60h-.60zM138.1 233.7h.60v.60h-.60zM145.0 230.3h.60v.60h-.60zM154.0 231.8h.60v.60h-.60zM138.5 245.4h.60v.60h-.60zM139.1 244.2h.60v.60h-.60zM139.4 248.6h.60v.60h-.60z"/>
<g fill="none" stroke="#444" stroke-width="0.45" stroke-opacity="0.75" stroke-linejoin="round" clip-path="url(#cC2)"><path d="M170.9,250.0 166.9,250.2 165.8,250.0 164.8,249.7 163.6,249.1 162.7,248.4 162.3,247.6 162.3,246.6 162.6,245.8 162.9,245.2 163.4,244.6 164.2,244.0 165.3,243.3 167.6,242.3 171.3,240.9 172.1,240.4 172.8,239.6 173.3,238.4 173.6,237.0 173.5,235.6 173.0,232.8 173.1,231.6 174.5,227.6 175.1,224.4 175.8,223.0 176.6,221.4 177.3,220.6 181.8,215.9 182.8,215.3 187.3,213.4 189.6,212.0 190.8,211.9 192.3,212.1 193.3,212.5 195.8,213.8 197.3,215.2 199.2,216.6 199.9,217.5 200.5,218.4 200.9,219.4 201.4,221.2 201.7,222.4 201.7,226.2 201.6,231.4 201.0,233.6 200.0,235.8 199.3,237.8 198.9,238.5 198.5,239.0 196.5,240.8 196.0,241.6 195.1,243.4 194.4,244.2 193.2,245.1 189.9,246.9 187.9,247.4 185.3,247.8 183.6,247.8 181.2,247.4 179.9,247.5 178.6,247.9 175.8,248.9 172.6,249.8 170.9,250.0Z"/><path d="M170.9,248.8 168.2,248.8 167.2,248.7 166.3,248.4 165.4,247.8 164.9,247.2 164.7,246.6 164.8,245.8 165.2,245.2 165.8,244.6 166.9,243.9 168.2,243.4 169.6,242.9 172.8,242.5 175.8,241.1 176.3,241.0 177.3,241.1 177.6,241.0 177.7,240.6 177.6,240.2 176.3,235.5 175.9,233.2 175.9,232.2 176.2,231.4 177.4,229.0 178.1,226.6 179.2,224.6 179.7,222.2 180.3,221.2 182.2,219.7 183.8,218.6 187.4,217.4 188.9,216.6 189.6,216.4 190.3,216.5 191.9,217.6 195.9,219.1 196.9,219.7 198.4,221.3 198.7,221.8 198.8,222.4 198.7,228.8 198.9,230.8 198.8,231.8 198.6,232.8 198.1,233.8 196.9,235.9 195.6,238.0 193.6,242.0 193.0,243.0 191.8,244.0 189.6,245.3 188.2,245.8 186.9,246.1 185.2,246.0 181.8,244.8 179.3,244.3 178.6,244.4 177.9,244.8 176.6,246.2 175.3,247.1 172.9,248.3 171.9,248.6 170.9,248.8Z"/><path d="M187.2,245.0 185.8,245.0 184.3,244.5 181.6,242.8 181.2,242.4 180.9,241.8 180.6,241.0 180.3,238.6 179.7,234.8 179.0,232.2 179.0,231.2 179.7,228.4 180.2,227.2 181.5,225.4 182.0,223.0 182.3,222.6 182.9,222.2 183.6,222.0 185.3,221.9 186.8,221.4 187.3,221.3 187.9,221.4 189.3,222.0 190.2,222.2 190.9,222.1 192.8,221.8 193.3,221.8 193.9,222.2 194.3,222.6 194.9,224.0 195.2,225.2 195.5,229.2 195.4,230.0 195.2,230.4 193.6,231.5 193.1,232.4 193.0,233.6 193.4,236.4 193.3,238.0 193.0,239.4 192.2,241.8 191.9,242.4 191.4,243.0 190.6,243.7 189.3,244.3 188.2,244.8 187.2,245.0Z"/><path d="M171.2,247.6 169.3,247.6 168.6,247.5 167.9,247.3 167.5,247.0 167.2,246.5 167.0,246.0 167.1,245.6 167.4,245.2 167.9,244.7 168.6,244.4 169.3,244.2 172.2,244.2 173.9,244.0 174.6,244.2 174.8,244.6 174.8,245.0 174.3,245.8 172.6,247.1 171.2,247.6Z"/><path d="M187.8,244.2 186.9,244.3 186.2,244.2 184.8,243.6 182.8,242.0 182.3,241.4 181.9,240.6 181.6,238.8 181.7,236.0 181.9,234.8 182.9,232.6 183.2,231.4 183.0,230.4 182.3,229.3 182.2,228.8 182.5,228.4 184.6,226.5 186.6,226.1 188.3,225.0 189.6,224.9 190.6,225.2 191.4,225.6 192.1,226.2 192.4,227.0 192.3,227.8 191.4,229.6 191.2,230.8 191.7,234.0 192.3,236.4 192.4,238.2 192.2,239.2 191.7,241.0 191.4,241.8 191.0,242.4 190.4,243.0 189.6,243.5 188.8,243.9 187.8,244.2Z"/><path d="M188.2,243.6 186.9,243.7 185.9,243.5 185.1,243.0 183.9,242.0 183.0,241.0 182.6,240.2 182.4,239.2 182.3,238.0 182.6,236.4 183.0,235.2 185.3,232.2 186.5,229.8 187.2,229.1 188.9,227.7 189.3,227.5 189.6,227.6 189.8,228.0 189.7,230.2 189.8,231.6 191.6,236.6 191.8,238.2 191.7,239.2 191.3,240.6 190.6,242.0 190.2,242.6 189.6,243.0 188.2,243.6Z"/><path d="M188.2,243.2 187.3,243.3 186.6,243.2 185.9,242.9 185.2,242.4 184.1,241.4 183.4,240.6 183.1,239.8 182.9,238.8 182.9,237.8 183.1,236.8 183.4,236.0 183.9,235.1 184.8,234.3 185.8,233.5 186.8,233.0 187.6,232.8 188.2,232.9 188.6,233.1 189.6,234.0 190.9,236.3 191.2,237.0 191.4,237.8 191.2,239.4 190.4,241.6 190.0,242.2 189.6,242.6 188.9,243.0 188.2,243.2Z"/><path d="M188.2,242.8 187.3,242.9 186.8,242.8 185.6,242.1 184.1,240.6 183.7,240.0 183.4,239.2 183.4,238.4 183.6,237.4 183.8,236.6 184.2,235.8 184.8,235.2 185.3,234.7 185.9,234.3 186.8,234.1 187.9,234.2 188.6,234.4 189.2,234.8 189.8,235.4 190.4,236.4 190.8,237.1 190.9,237.8 190.9,239.2 190.1,241.4 189.3,242.3 188.8,242.7 188.2,242.8Z"/><path d="M188.2,242.4 187.6,242.5 186.9,242.4 185.8,241.7 184.5,240.4 184.1,239.8 183.9,239.2 183.9,238.6 184.0,237.8 184.5,236.4 185.3,235.4 185.9,235.0 186.6,234.8 187.8,234.8 188.8,235.3 189.8,236.4 190.3,237.2 190.5,237.8 190.6,238.4 190.5,239.2 189.8,241.2 189.1,242.0 188.2,242.4Z"/><path d="M187.8,242.0 186.8,241.8 185.7,241.0 184.8,240.0 184.4,239.0 184.5,237.8 185.0,236.6 185.8,235.8 186.8,235.4 187.8,235.5 188.8,236.0 189.6,237.0 189.9,237.6 190.1,238.2 190.0,239.4 189.3,241.1 188.9,241.5 188.6,241.8 187.8,242.0Z"/><path d="M187.9,241.2 187.2,241.2 186.2,240.6 185.4,239.8 185.1,239.0 185.1,238.0 185.5,237.2 186.0,236.6 186.8,236.2 187.6,236.3 188.3,236.6 189.1,237.4 189.4,238.2 189.4,239.2 189.0,240.2 188.6,240.9 187.9,241.2Z"/><path d="M187.8,240.2 187.2,240.2 186.7,240.0 186.2,239.5 185.9,239.0 185.8,238.4 185.9,238.0 186.3,237.4 186.8,237.2 187.3,237.1 187.8,237.3 188.2,237.6 188.5,238.2 188.6,238.8 188.5,239.4 188.2,240.0 187.8,240.2Z"/></g>
<path fill="#999" d="M202.4 223.0h.60v.60h-.60zM184.5 213.5h.60v.60h-.60zM169.4 233.1h.60v.60h-.60zM213.6 203.3h.60v.60h-.60zM199.5 242.0h.60v.60h-.60zM208.7 237.8h.60v.60h-.60zM176.2 218.0h.60v.60h-.60zM191.6 210.8h.60v.60h-.60zM201.5 228.9h.60v.60h-.60zM195.0 250.2h.60v.60h-.60zM182.0 259.0h.60v.60h-.60zM166.0 233.8h.60v.60h-.60zM202.4 223.2h.60v.60h-.60zM175.0 221.5h.60v.60h-.60zM182.4 206.1h.60v.60h-.60zM167.7 240.8h.60v.60h-.60zM179.1 217.3h.60v.60h-.60zM183.4 210.8h.60v.60h-.60zM173.9 250.7h.60v.60h-.60zM175.5 221.4h.60v.60h-.60zM181.9 251.8h.60v.60h-.60zM178.6 209.9h.60v.60h-.60zM187.8 208.3h.60v.60h-.60zM180.9 215.5h.60v.60h-.60zM186.4 210.4h.60v.60h-.60zM187.0 208.9h.60v.60h-.60zM170.3 251.1h.60v.60h-.60zM166.0 234.4h.60v.60h-.60zM203.4 242.5h.60v.60h-.60zM178.0 249.2h.60v.60h-.60zM192.7 206.9h.60v.60h-.60zM174.4 250.9h.60v.60h-.60zM195.9 247.1h.60v.60h-.60zM208.1 218.4h.60v.60h-.60zM202.3 224.7h.60v.60h-.60zM195.8 248.6h.60v.60h-.60zM170.4 227.9h.60v.60h-.60zM200.3 234.5h.60v.60h-.60zM191.7 209.6h.60v.60h-.60zM208.1 228.5h.60v.60h-.60zM159.7 247.7h.60v.60h-.60zM193.4 212.6h.60v.60h-.60zM202.4 197.5h.60v.60h-.60zM201.6 232.0h.60v.60h-.60zM192.0 252.2h.60v.60h-.60zM187.0 257.2h.60v.60h-.60zM178.8 260.8h.60v.60h-.60zM185.4 254.5h.60v.60h-.60zM176.8 210.9h.60v.60h-.60zM207.0 232.8h.60v.60h-.60zM182.1 209.6h.60v.60h-.60zM192.1 248.2h.60v.60h-.60zM172.9 233.1h.60v.60h-.60zM157.6 244.8h.60v.60h-.60zM170.0 228.1h.60v.60h-.60zM179.8 209.5h.60v.60h-.60zM176.8 253.0h.60v.60h-.60zM164.0 262.8h.60v.60h-.60zM209.3 211.2h.60v.60h-.60zM177.2 248.4h.60v.60h-.60zM202.7 221.4h.60v.60h-.60zM162.0 241.5h.60v.60h-.60zM194.5 209.9h.60v.60h-.60zM180.5 250.4h.60v.60h-.60zM209.3 225.2h.60v.60h-.60zM191.0 255.8h.60v.60h-.60zM207.9 224.7h.60v.60h-.60zM193.6 210.3h.60v.60h-.60zM203.8 235.3h.60v.60h-.60zM178.4 213.7h.60v.60h-.60zM189.0 248.6h.60v.60h-.60zM203.4 220.5h.60v.60h-.60zM206.5 215.6h.60v.60h-.60zM207.7 234.7h.60v.60h-.60zM172.9 235.6h.60v.60h-.60zM211.7 205.0h.60v.60h-.60zM195.8 208.7h.60v.60h-.60zM170.9 234.6h.60v.60h-.60zM189.0 199.4h.60v.60h-.60zM197.7 214.9h.60v.60h-.60zM171.1 254.0h.60v.60h-.60zM165.4 263.1h.60v.60h-.60zM196.6 209.4h.60v.60h-.60zM197.6 207.1h.60v.60h-.60zM187.1 248.2h.60v.60h-.60zM166.5 253.3h.60v.60h-.60zM172.2 239.6h.60v.60h-.60zM162.4 236.5h.60v.60h-.60zM208.4 236.1h.60v.60h-.60zM176.7 213.4h.60v.60h-.60zM207.7 234.3h.60v.60h-.60zM217.4 232.5h.60v.60h-.60zM173.6 221.9h.60v.60h-.60zM200.8 250.9h.60v.60h-.60zM170.2 228.5h.60v.60h-.60zM168.8 250.9h.60v.60h-.60zM159.2 241.2h.60v.60h-.60zM200.2 214.3h.60v.60h-.60zM203.0 216.3h.60v.60h-.60zM195.9 256.7h.60v.60h-.60zM201.6 211.8h.60v.60h-.60zM186.8 212.7h.60v.60h-.60zM194.7 244.5h.60v.60h-.60zM184.6 210.0h.60v.60h-.60zM168.5 252.2h.60v.60h-.60zM206.4 248.5h.60v.60h-.60zM161.9 250.0h.60v.60h-.60zM194.1 209.7h.60v.60h-.60zM166.5 224.6h.60v.60h-.60zM157.1 245.3h.60v.60h-.60zM205.4 236.0h.60v.60h-.60zM207.3 221.9h.60v.60h-.60zM168.6 214.4h.60v.60h-.60zM178.4 256.7h.60v.60h-.60zM161.8 248.9h.60v.60h-.60zM185.2 248.4h.60v.60h-.60zM205.1 220.0h.60v.60h-.60zM177.2 206.9h.60v.60h-.60zM179.9 213.4h.60v.60h-.60zM202.8 223.2h.60v.60h-.60zM177.6 248.9h.60v.60h-.60zM208.1 216.1h.60v.60h-.60zM169.0 229.2h.60v.60h-.60zM157.7 252.3h.60v.60h-.60zM202.8 221.9h.60v.60h-.60zM183.9 211.0h.60v.60h-.60zM164.2 243.2h.60v.60h-.60zM188.2 251.5h.60v.60h-.60zM211.7 224.7h.60v.60h-.60zM175.1 223.6h.60v.60h-.60zM175.4 217.7h.60v.60h-.60zM180.8 249.6h.60v.60h-.60zM175.6 249.7h.60v.60h-.60zM210.9 224.5h.60v.60h-.60zM177.0 213.4h.60v.60h-.60zM163.2 252.5h.60v.60h-.60zM161.4 246.3h.60v.60h-.60zM166.3 250.1h.60v.60h-.60zM155.2 214.0h.60v.60h-.60zM159.7 237.6h.60v.60h-.60zM211.2 236.9h.60v.60h-.60zM196.6 253.9h.60v.60h-.60zM202.0 248.0h.60v.60h-.60zM166.4 241.2h.60v.60h-.60zM199.2 242.8h.60v.60h-.60zM183.5 251.8h.60v.60h-.60zM192.9 211.4h.60v.60h-.60zM200.0 194.9h.60v.60h-.60zM203.0 219.8h.60v.60h-.60zM172.5 210.2h.60v.60h-.60zM215.5 247.1h.60v.60h-.60zM174.5 258.0h.60v.60h-.60zM178.8 252.2h.60v.60h-.60zM178.5 218.0h.60v.60h-.60zM196.6 250.2h.60v.60h-.60zM195.0 250.3h.60v.60h-.60zM181.1 253.5h.60v.60h-.60zM206.1 217.0h.60v.60h-.60zM175.7 209.3h.60v.60h-.60zM196.3 211.9h.60v.60h-.60zM207.9 226.5h.60v.60h-.60zM184.3 208.0h.60v.60h-.60zM204.6 216.0h.60v.60h-.60zM163.0 252.4h.60v.60h-.60zM189.3 251.5h.60v.60h-.60zM172.6 231.8h.60v.60h-.60zM206.8 230.5h.60v.60h-.60zM203.7 235.7h.60v.60h-.60zM199.8 246.9h.60v.60h-.60zM200.7 242.4h.60v.60h-.60zM207.2 239.0h.60v.60h-.60zM205.6 208.7h.60v.60h-.60zM163.6 253.9h.60v.60h-.60zM184.2 208.7h.60v.60h-.60zM193.9 245.0h.60v.60h-.60zM191.6 187.0h.60v.60h-.60zM183.6 210.8h.60v.60h-.60zM169.0 234.8h.60v.60h-.60zM209.9 218.1h.60v.60h-.60zM208.0 240.4h.60v.60h-.60z"/>
<rect x="137.50" y="193.50" width="30.75" height="40.75" stroke="#2a2a2a" stroke-width="0.9" fill="none"/>
<rect x="168.25" y="193.75" width="43.75" height="68.85" stroke="#2a2a2a" stroke-width="0.9" fill="none"/>
<rect x="146.00" y="192.80" width="13" height="1.4" fill="#fff" fill-opacity="0.72"/>
<text x="152.50" y="191.80" font-size="6.3" text-anchor="middle" fill="#222" stroke="#222" stroke-width="0.28">20.8</text>
<rect x="183.50" y="193.05" width="13" height="1.4" fill="#fff" fill-opacity="0.72"/>
<text x="190.00" y="191.80" font-size="6.3" text-anchor="middle" fill="#222" stroke="#222" stroke-width="0.28">33.5</text>
<rect x="235.75" y="178.20" width="87.65" height="87.40" stroke="#6e6e6e" stroke-width="1.0" fill="none"/>
<text x="280.00" y="172.60" font-size="7.6" text-anchor="middle" fill="#222" stroke="#222" stroke-width="0.28">EasySep NK + CD56</text>
<defs><clipPath id="cC3"><rect x="236.35" y="178.79999999999998" width="86.44999999999996" height="86.20000000000002"/></clipPath></defs>
<g fill="none" stroke="#444" stroke-width="0.45" stroke-opacity="0.6375" stroke-linejoin="round" clip-path="url(#cC3)"><path d="M253.8,231.6 251.9,231.5 250.2,231.1 246.9,229.5 245.6,228.5 244.5,227.2 242.9,224.0 242.2,222.2 241.9,220.8 242.2,218.5 242.1,215.8 242.3,214.6 242.9,213.4 245.8,209.3 246.9,208.2 248.3,207.4 250.8,206.7 253.3,206.3 254.9,206.5 256.4,207.1 259.6,209.2 260.9,210.3 261.8,211.1 262.3,212.0 262.7,213.0 263.1,215.2 263.8,217.4 263.9,219.2 263.8,221.2 263.0,223.6 261.9,225.8 260.3,228.0 259.0,229.4 257.6,230.4 255.6,231.3 253.8,231.6Z"/><path d="M254.6,230.0 252.9,230.2 251.3,229.9 250.6,229.6 246.6,227.3 245.6,226.2 244.4,224.2 243.8,222.6 243.5,221.2 243.5,216.6 243.7,215.6 244.3,214.2 246.2,211.1 247.2,209.9 248.3,209.1 250.9,208.1 252.8,207.8 253.8,207.8 254.6,207.9 256.4,208.6 258.0,209.8 260.0,211.8 260.6,212.6 261.0,213.4 262.3,217.4 262.6,218.6 262.5,220.4 262.3,222.0 261.7,223.4 260.9,224.7 260.1,225.7 257.4,228.6 256.1,229.4 254.6,230.0Z"/><path d="M253.8,228.8 252.6,228.8 251.3,228.5 247.9,226.5 246.9,225.8 246.0,224.8 245.3,223.6 244.8,222.4 244.7,221.2 244.7,217.2 244.8,216.0 245.4,214.6 246.7,212.2 247.6,211.3 248.6,210.6 251.2,209.5 252.8,209.1 254.3,209.3 256.1,209.9 257.4,210.8 258.7,212.2 259.5,213.2 260.0,214.2 261.2,217.4 261.5,218.8 261.4,220.6 261.2,221.8 260.8,222.8 260.1,224.0 259.1,225.0 255.9,227.9 254.9,228.5 253.8,228.8Z"/><path d="M254.2,227.4 252.9,227.5 251.8,227.2 250.2,226.5 248.3,225.5 247.2,224.6 246.4,223.8 245.8,222.8 245.6,221.8 245.6,216.8 246.0,215.4 246.8,213.8 247.7,212.6 248.6,211.9 250.9,210.8 252.3,210.4 253.8,210.5 255.6,211.0 256.8,211.6 257.9,212.6 258.7,213.6 259.3,214.6 260.2,217.0 260.5,218.4 260.5,220.0 260.4,221.4 260.1,222.4 259.5,223.4 258.4,224.6 256.4,226.3 255.2,227.1 254.2,227.4Z"/><path d="M254.2,226.4 253.2,226.4 251.3,226.1 250.2,225.7 249.2,225.2 247.8,224.2 246.9,223.5 246.4,222.6 246.2,221.8 246.2,217.4 246.4,216.2 246.9,215.0 247.9,213.6 248.8,212.8 250.8,211.7 252.2,211.3 253.3,211.3 254.9,211.6 256.4,212.3 257.4,213.0 258.1,213.8 258.6,214.6 259.5,216.8 259.8,218.0 259.7,221.2 259.5,222.2 259.0,223.0 258.0,224.2 256.6,225.4 255.3,226.1 254.2,226.4Z"/><path d="M255.2,225.6 254.6,225.7 253.8,225.7 250.9,225.3 249.9,225.0 248.9,224.4 247.7,223.4 247.1,222.6 246.8,221.8 246.6,217.8 246.8,216.6 247.2,215.6 248.0,214.4 248.9,213.4 250.6,212.4 251.9,211.9 253.2,211.8 254.3,212.0 255.8,212.6 256.9,213.2 257.6,213.8 258.1,214.6 259.1,217.2 259.2,218.2 259.2,220.8 259.1,221.6 258.9,222.4 258.2,223.4 257.4,224.3 256.1,225.1 255.2,225.6Z"/><path d="M255.3,225.0 254.2,225.2 250.9,224.7 249.9,224.4 249.2,223.9 248.4,223.2 247.7,222.4 247.4,221.6 247.2,220.0 247.1,218.0 247.3,217.0 247.6,216.0 248.3,214.9 249.2,214.0 250.8,212.9 251.9,212.4 252.9,212.3 253.9,212.4 255.3,212.9 256.6,213.6 257.1,214.1 257.6,214.6 257.9,215.4 258.4,216.8 258.6,217.8 258.7,220.8 258.6,221.6 258.4,222.2 258.0,223.0 257.1,223.9 256.1,224.7 255.3,225.0Z"/><path d="M255.2,224.6 254.2,224.6 252.6,224.2 250.8,224.1 250.0,223.8 249.3,223.4 248.7,222.6 248.2,221.8 248.0,221.0 247.7,219.6 247.6,218.2 247.8,217.2 248.2,216.2 248.8,215.2 249.8,214.3 251.2,213.3 252.2,212.9 252.9,212.8 253.9,212.9 255.1,213.4 256.2,214.0 256.8,214.5 257.1,215.0 257.8,216.6 258.0,217.6 258.1,221.0 258.0,222.0 257.6,222.8 256.9,223.6 255.9,224.3 255.2,224.6Z"/><path d="M255.3,224.0 254.3,224.0 252.6,223.4 250.9,223.2 250.3,223.1 249.9,222.8 249.4,222.2 248.8,220.7 248.3,218.4 248.4,217.4 248.7,216.6 249.3,215.6 250.0,214.8 251.2,213.9 252.2,213.5 252.8,213.3 253.6,213.4 255.1,214.2 256.4,215.2 256.8,215.8 257.1,216.6 257.3,217.8 257.5,221.0 257.5,221.8 257.1,222.6 256.7,223.2 255.9,223.8 255.3,224.0Z"/><path d="M255.6,223.1 254.8,223.2 254.0,222.8 252.6,221.2 250.8,220.2 250.2,219.6 249.8,218.8 249.6,217.6 249.8,216.4 250.2,215.8 250.7,215.2 251.9,214.4 252.9,214.2 253.9,214.6 255.5,216.2 256.1,217.2 256.3,218.4 256.6,221.4 256.3,222.4 256.0,222.8 255.6,223.1Z"/><path d="M253.9,219.0 253.2,219.0 252.3,218.9 251.8,218.6 251.1,218.0 250.9,217.4 250.9,216.6 251.2,216.0 251.8,215.5 252.3,215.2 252.9,215.3 253.6,215.7 254.0,216.4 254.5,217.4 254.6,218.2 254.4,218.8 253.9,219.0Z"/></g>
<path fill="#999" d="M268.6 223.4h.60v.60h-.60zM241.9 214.7h.60v.60h-.60zM257.3 205.9h.60v.60h-.60zM264.5 209.6h.60v.60h-.60zM240.5 220.1h.60v.60h-.60zM267.3 227.4h.60v.60h-.60zM273.2 221.4h.60v.60h-.60zM273.4 208.0h.60v.60h-.60zM257.5 206.9h.60v.60h-.60zM260.9 201.3h.60v.60h-.60zM254.5 232.0h.60v.60h-.60zM257.8 232.7h.60v.60h-.60zM263.2 210.5h.60v.60h-.60zM241.6 205.1h.60v.60h-.60zM241.1 221.7h.60v.60h-.60zM260.0 200.6h.60v.60h-.60zM241.8 229.4h.60v.60h-.60zM258.1 204.0h.60v.60h-.60zM262.0 227.0h.60v.60h-.60zM264.4 224.6h.60v.60h-.60zM242.9 203.4h.60v.60h-.60zM262.9 230.7h.60v.60h-.60zM258.5 231.2h.60v.60h-.60zM242.2 223.6h.60v.60h-.60zM241.9 207.4h.60v.60h-.60zM259.5 230.8h.60v.60h-.60zM242.9 227.3h.60v.60h-.60zM257.4 230.8h.60v.60h-.60zM257.7 203.7h.60v.60h-.60zM250.8 202.7h.60v.60h-.60zM264.7 217.8h.60v.60h-.60zM240.5 210.6h.60v.60h-.60zM267.9 227.1h.60v.60h-.60zM269.0 218.8h.60v.60h-.60zM242.8 212.3h.60v.60h-.60zM264.0 214.4h.60v.60h-.60zM247.4 204.3h.60v.60h-.60zM266.3 221.5h.60v.60h-.60zM261.7 205.9h.60v.60h-.60zM249.1 203.0h.60v.60h-.60zM263.7 212.0h.60v.60h-.60zM242.0 195.4h.60v.60h-.60zM245.3 229.3h.60v.60h-.60zM264.3 220.8h.60v.60h-.60zM263.6 227.5h.60v.60h-.60zM251.0 206.0h.60v.60h-.60zM263.7 210.8h.60v.60h-.60zM263.2 204.3h.60v.60h-.60zM239.2 227.6h.60v.60h-.60zM257.6 242.2h.60v.60h-.60zM252.0 231.8h.60v.60h-.60zM259.7 230.4h.60v.60h-.60zM253.5 233.1h.60v.60h-.60zM243.8 227.6h.60v.60h-.60zM251.1 232.8h.60v.60h-.60zM248.2 241.6h.60v.60h-.60zM263.1 213.9h.60v.60h-.60zM261.7 226.2h.60v.60h-.60zM248.5 206.0h.60v.60h-.60zM242.4 208.7h.60v.60h-.60zM263.8 228.4h.60v.60h-.60zM263.5 224.6h.60v.60h-.60zM240.9 216.3h.60v.60h-.60zM254.7 202.3h.60v.60h-.60zM262.7 212.6h.60v.60h-.60zM263.8 230.2h.60v.60h-.60zM241.0 229.2h.60v.60h-.60zM265.0 211.2h.60v.60h-.60zM266.6 209.9h.60v.60h-.60zM246.7 230.4h.60v.60h-.60zM257.5 204.2h.60v.60h-.60zM244.0 232.4h.60v.60h-.60zM268.4 227.4h.60v.60h-.60zM262.3 211.7h.60v.60h-.60zM252.6 204.5h.60v.60h-.60zM267.5 225.0h.60v.60h-.60zM262.5 228.3h.60v.60h-.60zM262.2 203.2h.60v.60h-.60zM237.0 217.6h.60v.60h-.60zM261.3 230.9h.60v.60h-.60zM258.8 201.5h.60v.60h-.60zM241.3 220.0h.60v.60h-.60zM251.0 205.3h.60v.60h-.60zM239.5 220.4h.60v.60h-.60zM260.2 227.9h.60v.60h-.60zM241.6 225.0h.60v.60h-.60zM271.9 209.2h.60v.60h-.60zM260.3 202.5h.60v.60h-.60zM264.2 218.5h.60v.60h-.60zM240.8 227.4h.60v.60h-.60zM248.9 206.7h.60v.60h-.60zM245.8 207.7h.60v.60h-.60zM262.9 227.7h.60v.60h-.60zM252.9 203.5h.60v.60h-.60zM263.7 220.1h.60v.60h-.60zM241.7 216.6h.60v.60h-.60zM259.8 207.2h.60v.60h-.60zM261.0 228.8h.60v.60h-.60zM263.0 225.2h.60v.60h-.60zM244.8 229.0h.60v.60h-.60zM241.5 207.6h.60v.60h-.60zM264.8 226.6h.60v.60h-.60zM244.1 205.2h.60v.60h-.60zM251.9 204.4h.60v.60h-.60zM262.9 231.1h.60v.60h-.60zM269.5 217.5h.60v.60h-.60zM265.9 218.3h.60v.60h-.60zM247.0 204.6h.60v.60h-.60zM250.6 202.2h.60v.60h-.60zM264.4 212.0h.60v.60h-.60zM247.1 230.5h.60v.60h-.60zM267.9 227.1h.60v.60h-.60zM263.4 227.7h.60v.60h-.60zM244.9 237.2h.60v.60h-.60zM269.6 231.0h.60v.60h-.60zM240.8 216.2h.60v.60h-.60zM260.9 227.9h.60v.60h-.60zM248.3 231.0h.60v.60h-.60zM262.4 226.1h.60v.60h-.60zM254.9 233.5h.60v.60h-.60z"/>
<g fill="none" stroke="#444" stroke-width="0.45" stroke-opacity="0.75" stroke-linejoin="round" clip-path="url(#cC3)"><path d="M249.8,253.2 248.3,253.2 246.8,252.9 244.8,252.1 243.2,251.2 242.5,250.6 241.9,249.8 240.5,246.6 240.3,245.4 240.3,244.2 240.5,242.8 241.0,241.6 241.7,240.4 243.2,238.7 243.9,238.1 244.9,237.6 247.8,237.1 249.8,236.9 251.2,237.2 253.3,237.9 254.8,238.6 256.0,239.8 257.0,241.2 257.8,243.0 258.1,244.6 258.0,246.2 257.2,248.0 256.1,249.8 255.2,250.8 253.9,251.5 251.3,252.8 249.8,253.2Z"/><path d="M249.9,252.2 248.6,252.4 247.2,252.1 245.3,251.4 243.9,250.6 243.0,249.6 242.1,248.0 241.3,246.4 241.1,245.0 241.2,243.4 241.7,242.0 242.5,240.8 243.9,239.3 244.8,238.7 245.6,238.4 249.3,237.7 250.8,237.8 252.3,238.3 253.8,238.9 254.8,239.6 255.7,240.6 256.4,241.8 257.0,243.4 257.2,244.6 257.1,245.6 256.8,246.8 256.0,248.4 255.2,249.6 254.3,250.3 253.6,250.8 251.2,251.9 249.9,252.2Z"/><path d="M249.8,251.6 248.6,251.7 247.2,251.5 245.6,250.8 244.3,250.0 243.3,248.8 242.2,247.0 241.8,245.8 241.6,244.6 241.8,243.4 242.3,242.2 243.2,241.0 244.4,239.8 245.2,239.3 246.2,238.9 248.3,238.4 249.6,238.3 250.8,238.4 252.6,239.0 253.8,239.5 254.6,240.1 255.3,241.0 255.9,242.0 256.3,243.4 256.5,244.8 256.3,246.0 255.9,247.2 255.3,248.4 254.6,249.4 253.8,250.0 252.9,250.4 250.8,251.3 249.8,251.6Z"/><path d="M249.9,251.0 248.8,251.2 247.6,251.0 246.2,250.5 244.8,249.6 243.8,248.6 242.9,247.2 242.3,246.0 242.1,244.8 242.2,243.6 242.6,242.6 243.3,241.6 244.6,240.3 245.3,239.8 246.2,239.4 248.2,238.9 249.3,238.8 250.6,238.9 252.2,239.3 253.3,239.8 254.2,240.3 254.8,241.0 255.3,242.0 255.7,243.2 255.9,244.4 255.9,245.4 255.6,246.6 255.1,247.8 254.4,248.8 253.8,249.4 252.9,249.9 249.9,251.0Z"/><path d="M249.8,250.6 248.6,250.7 247.3,250.5 246.2,250.0 244.9,249.3 244.1,248.4 243.3,247.2 242.7,246.0 242.5,244.8 242.6,243.8 243.0,242.8 243.9,241.6 244.9,240.5 245.8,240.0 246.6,239.7 248.2,239.3 249.3,239.2 250.6,239.2 251.9,239.6 253.2,240.1 253.9,240.6 254.6,241.4 255.0,242.2 255.2,243.2 255.4,244.4 255.3,245.6 255.1,246.8 254.6,247.8 254.1,248.6 253.6,249.1 252.8,249.5 249.8,250.6Z"/><path d="M249.9,250.2 248.8,250.4 247.8,250.3 246.6,249.9 245.3,249.2 244.5,248.4 243.7,247.4 243.1,246.0 242.8,245.0 242.9,244.0 243.2,243.2 243.8,242.2 244.9,241.0 245.6,240.5 246.3,240.1 247.6,239.7 248.9,239.5 250.2,239.5 251.3,239.7 252.6,240.1 253.4,240.6 254.0,241.2 254.5,242.0 254.8,243.0 255.0,244.0 255.0,245.2 254.8,246.4 254.4,247.4 253.9,248.2 253.3,248.8 252.7,249.2 249.9,250.2Z"/><path d="M249.3,250.0 248.3,250.1 247.3,249.9 246.2,249.4 245.2,248.7 244.3,247.8 243.6,246.6 243.2,245.6 243.1,244.6 243.2,243.8 243.6,243.0 244.7,241.6 245.6,240.8 246.3,240.4 247.3,240.0 248.8,239.7 249.8,239.7 250.9,239.9 252.1,240.2 252.9,240.6 253.6,241.1 254.0,241.8 254.4,242.6 254.6,243.8 254.7,245.0 254.5,246.0 254.3,247.0 253.8,247.8 253.3,248.4 252.8,248.8 251.8,249.3 249.3,250.0Z"/><path d="M249.9,249.6 248.9,249.8 247.9,249.7 246.9,249.4 245.9,249.0 245.2,248.4 244.6,247.7 244.0,246.8 243.5,245.8 243.4,245.0 243.4,244.4 243.6,243.6 243.9,243.0 245.4,241.2 246.2,240.7 247.2,240.3 248.3,240.0 249.6,239.9 250.8,240.0 251.8,240.3 252.6,240.7 253.3,241.2 253.7,241.8 254.1,242.6 254.3,243.8 254.4,245.2 254.2,246.4 253.8,247.4 253.3,248.0 252.6,248.6 251.3,249.2 249.9,249.6Z"/><path d="M249.6,249.4 248.6,249.5 247.6,249.4 246.6,249.0 245.6,248.4 244.8,247.6 244.2,246.8 243.8,245.8 243.6,244.8 243.7,244.0 244.1,243.2 244.8,242.2 245.6,241.4 246.2,240.9 246.9,240.6 247.9,240.3 249.2,240.1 250.2,240.2 251.3,240.4 252.2,240.7 252.9,241.2 253.4,241.8 253.7,242.4 253.9,243.4 254.1,244.6 254.0,245.6 253.9,246.4 253.5,247.2 253.1,247.8 252.6,248.3 251.8,248.7 249.6,249.4Z"/><path d="M248.8,249.2 247.8,249.1 246.8,248.8 245.9,248.4 245.2,247.7 244.5,246.8 244.0,245.8 243.9,244.8 244.0,244.0 244.4,243.2 245.3,242.0 245.9,241.3 246.8,240.8 247.8,240.5 248.9,240.3 249.9,240.3 251.2,240.6 251.9,240.9 252.5,241.2 252.9,241.6 253.3,242.2 253.6,243.2 253.8,244.4 253.8,245.4 253.6,246.2 253.1,247.4 252.2,248.2 250.6,248.9 248.8,249.2Z"/><path d="M249.3,248.8 248.3,248.8 247.3,248.6 246.6,248.3 245.8,247.8 245.1,247.2 244.6,246.4 244.3,245.6 244.2,244.8 244.3,244.2 244.6,243.4 245.3,242.4 246.0,241.6 246.6,241.2 247.3,240.9 249.2,240.6 250.2,240.6 251.2,240.8 251.9,241.2 252.5,241.6 252.9,242.2 253.1,242.8 253.5,244.8 253.4,245.6 253.2,246.4 252.9,247.0 252.4,247.6 251.9,248.0 251.2,248.4 249.3,248.8Z"/><path d="M249.6,248.4 247.8,248.3 246.9,248.0 246.2,247.6 245.6,247.2 245.2,246.7 244.6,245.4 244.6,244.6 244.7,244.0 245.6,242.4 246.2,241.8 246.7,241.4 248.2,240.9 249.2,240.8 250.2,240.9 250.9,241.0 251.7,241.4 252.5,242.2 253.0,243.8 253.1,244.8 253.1,245.6 252.8,246.4 252.5,247.0 251.9,247.5 251.3,247.9 250.6,248.2 249.6,248.4Z"/><path d="M250.3,247.8 248.9,247.9 246.9,247.4 245.9,246.8 245.3,246.0 245.1,245.0 245.3,243.8 246.1,242.4 246.6,241.9 247.2,241.5 248.6,241.2 250.3,241.2 250.9,241.4 251.6,241.8 252.2,242.6 252.5,243.4 252.7,244.4 252.7,245.2 252.5,246.0 252.2,246.7 251.7,247.2 251.0,247.6 250.3,247.8Z"/><path d="M249.9,247.2 248.8,247.1 247.2,246.6 246.3,246.1 245.9,245.5 245.8,244.6 246.1,243.4 246.8,242.4 247.6,241.9 248.8,241.6 250.2,241.7 251.1,242.2 251.7,243.0 252.0,243.8 252.1,244.6 251.9,245.8 251.6,246.4 251.2,246.8 250.6,247.1 249.9,247.2Z"/><path d="M250.3,246.3 249.6,246.4 248.8,246.3 247.6,245.8 246.9,245.2 246.7,244.6 246.7,243.8 247.0,243.2 247.5,242.6 248.3,242.3 249.3,242.2 250.2,242.5 250.8,243.0 251.2,244.0 251.3,245.0 250.9,245.8 250.3,246.3Z"/><path d="M249.8,245.4 249.3,245.5 248.8,245.4 248.3,245.2 247.8,244.8 247.6,244.4 247.6,244.0 247.8,243.6 248.1,243.2 248.6,243.0 249.2,243.0 249.7,243.2 250.1,243.6 250.4,244.2 250.4,244.8 250.1,245.2 249.8,245.4Z"/></g>
<path fill="#999" d="M265.6 245.5h.60v.60h-.60zM247.9 253.6h.60v.60h-.60zM239.6 252.5h.60v.60h-.60zM251.8 254.2h.60v.60h-.60zM237.6 244.7h.60v.60h-.60zM241.7 239.5h.60v.60h-.60zM244.2 253.2h.60v.60h-.60zM250.1 253.4h.60v.60h-.60zM249.4 235.9h.60v.60h-.60zM246.6 235.9h.60v.60h-.60zM246.3 233.2h.60v.60h-.60zM242.7 254.7h.60v.60h-.60zM244.1 254.0h.60v.60h-.60zM258.9 250.5h.60v.60h-.60zM247.1 255.3h.60v.60h-.60zM251.0 252.7h.60v.60h-.60zM262.0 247.6h.60v.60h-.60zM251.4 253.8h.60v.60h-.60zM241.3 252.7h.60v.60h-.60zM247.2 255.6h.60v.60h-.60zM256.7 240.8h.60v.60h-.60zM248.7 256.7h.60v.60h-.60zM250.5 254.7h.60v.60h-.60zM236.7 245.1h.60v.60h-.60zM258.0 242.7h.60v.60h-.60zM237.6 247.1h.60v.60h-.60zM241.4 238.6h.60v.60h-.60zM239.7 244.6h.60v.60h-.60zM249.1 254.2h.60v.60h-.60zM256.9 249.9h.60v.60h-.60zM241.0 255.5h.60v.60h-.60zM251.5 256.5h.60v.60h-.60zM254.5 251.5h.60v.60h-.60zM242.9 253.0h.60v.60h-.60zM238.8 258.6h.60v.60h-.60zM251.9 232.3h.60v.60h-.60zM255.1 236.2h.60v.60h-.60zM253.3 236.9h.60v.60h-.60zM244.1 254.9h.60v.60h-.60zM249.5 253.3h.60v.60h-.60zM260.1 240.6h.60v.60h-.60zM255.9 236.5h.60v.60h-.60zM257.5 254.3h.60v.60h-.60zM248.3 253.8h.60v.60h-.60zM259.8 251.4h.60v.60h-.60zM250.3 254.8h.60v.60h-.60zM239.7 255.8h.60v.60h-.60zM241.8 233.8h.60v.60h-.60zM259.5 246.5h.60v.60h-.60zM260.2 250.0h.60v.60h-.60zM241.8 237.9h.60v.60h-.60zM245.8 253.8h.60v.60h-.60zM239.7 250.1h.60v.60h-.60zM255.3 254.6h.60v.60h-.60zM247.7 234.9h.60v.60h-.60zM244.9 259.5h.60v.60h-.60zM240.3 252.1h.60v.60h-.60zM239.2 249.8h.60v.60h-.60zM236.6 244.6h.60v.60h-.60zM255.2 254.2h.60v.60h-.60zM239.1 241.4h.60v.60h-.60zM259.5 247.4h.60v.60h-.60zM262.3 237.1h.60v.60h-.60zM257.4 235.9h.60v.60h-.60zM245.5 255.5h.60v.60h-.60zM249.8 232.1h.60v.60h-.60zM251.5 252.8h.60v.60h-.60zM247.8 233.3h.60v.60h-.60zM241.2 236.4h.60v.60h-.60zM258.6 246.9h.60v.60h-.60zM252.0 257.1h.60v.60h-.60zM243.0 236.4h.60v.60h-.60zM240.4 247.9h.60v.60h-.60zM242.0 250.8h.60v.60h-.60zM258.9 240.7h.60v.60h-.60zM239.5 244.3h.60v.60h-.60zM238.2 248.0h.60v.60h-.60zM253.8 237.0h.60v.60h-.60zM251.6 253.0h.60v.60h-.60zM257.3 242.0h.60v.60h-.60zM259.3 241.7h.60v.60h-.60zM246.3 236.6h.60v.60h-.60zM251.2 254.3h.60v.60h-.60zM239.2 251.2h.60v.60h-.60zM249.3 235.7h.60v.60h-.60zM237.2 242.9h.60v.60h-.60zM257.1 248.5h.60v.60h-.60zM259.3 250.6h.60v.60h-.60zM250.1 235.1h.60v.60h-.60zM238.0 247.2h.60v.60h-.60zM240.0 254.4h.60v.60h-.60zM248.9 256.8h.60v.60h-.60zM242.1 254.1h.60v.60h-.60zM264.0 238.9h.60v.60h-.60zM257.0 251.6h.60v.60h-.60zM259.3 242.8h.60v.60h-.60zM258.2 232.1h.60v.60h-.60zM246.0 253.4h.60v.60h-.60zM244.6 236.8h.60v.60h-.60zM245.2 257.9h.60v.60h-.60zM246.8 232.7h.60v.60h-.60zM250.2 230.9h.60v.60h-.60zM238.4 250.3h.60v.60h-.60zM244.4 237.3h.60v.60h-.60zM259.3 244.3h.60v.60h-.60zM242.1 239.0h.60v.60h-.60zM250.3 236.5h.60v.60h-.60zM248.6 258.9h.60v.60h-.60zM241.6 238.8h.60v.60h-.60zM239.2 247.5h.60v.60h-.60zM236.6 250.5h.60v.60h-.60zM239.3 242.9h.60v.60h-.60zM252.8 233.3h.60v.60h-.60zM249.6 256.7h.60v.60h-.60zM253.6 255.2h.60v.60h-.60zM238.2 249.6h.60v.60h-.60zM254.7 236.5h.60v.60h-.60zM238.9 241.8h.60v.60h-.60zM247.6 259.3h.60v.60h-.60zM252.2 257.7h.60v.60h-.60z"/>
<g fill="none" stroke="#444" stroke-width="0.4" stroke-opacity="0.6" stroke-linejoin="round" clip-path="url(#cC3)"><path d="M266.9,249.0 263.8,249.0 261.8,248.9 257.8,248.1 256.4,247.7 253.8,246.5 252.6,245.7 252.0,245.0 251.5,244.2 251.3,243.6 251.4,243.0 251.8,242.4 252.3,242.0 253.8,241.1 254.9,240.7 259.1,239.5 260.6,239.3 262.8,239.0 264.9,238.9 267.8,238.9 274.6,239.9 279.6,241.3 280.6,241.7 281.3,242.2 282.0,243.0 282.5,243.8 282.6,244.6 282.5,245.0 282.1,245.4 279.9,246.9 278.4,247.7 276.4,248.1 271.8,248.8 266.9,249.0Z"/><path d="M267.9,247.8 265.6,248.0 263.8,247.9 257.8,246.7 256.4,246.1 255.2,245.2 254.6,244.4 254.5,243.8 254.5,243.4 254.9,242.7 255.8,242.1 257.9,241.3 259.9,240.7 261.8,240.2 263.4,240.0 267.8,240.0 269.1,240.1 272.9,240.8 273.9,241.1 278.1,243.2 278.7,243.6 279.0,244.0 279.1,244.4 279.0,244.8 278.5,245.4 277.6,246.0 276.4,246.5 274.8,246.9 271.4,247.6 267.9,247.8Z"/><path d="M266.9,246.8 265.6,246.9 264.1,246.8 259.8,245.6 258.8,245.2 258.4,244.9 258.0,244.4 258.0,244.0 258.2,243.6 258.7,243.2 261.4,241.7 262.8,241.2 264.4,241.0 268.1,241.0 269.9,241.3 272.8,242.1 273.5,242.6 274.0,243.4 274.2,244.2 273.9,244.8 273.4,245.3 272.5,245.8 271.6,246.2 270.6,246.5 266.9,246.8Z"/><path d="M266.1,245.8 264.4,245.6 262.4,244.9 262.0,244.6 261.7,244.2 261.7,243.8 261.9,243.4 262.6,242.7 263.6,242.3 268.1,241.9 269.1,242.0 270.4,242.4 271.1,242.8 271.6,243.4 271.6,243.8 271.4,244.4 270.9,244.9 270.4,245.2 269.1,245.6 266.1,245.8Z"/><path d="M268.9,244.6 267.9,244.7 266.5,244.6 265.8,244.4 265.6,244.2 265.5,244.0 265.6,243.8 265.8,243.6 266.9,243.2 268.1,242.9 268.9,242.9 269.6,243.2 269.8,243.4 269.9,243.8 269.7,244.2 268.9,244.6Z"/></g>
<path fill="#999" d="M245.3 244.7h.60v.60h-.60zM291.4 244.5h.60v.60h-.60zM259.7 252.2h.60v.60h-.60zM267.0 233.7h.60v.60h-.60zM280.4 237.8h.60v.60h-.60zM279.5 236.7h.60v.60h-.60zM285.5 239.3h.60v.60h-.60zM243.3 239.9h.60v.60h-.60zM257.9 250.8h.60v.60h-.60zM250.9 243.4h.60v.60h-.60zM259.8 236.9h.60v.60h-.60zM283.8 242.7h.60v.60h-.60zM255.7 239.0h.60v.60h-.60zM237.1 238.2h.60v.60h-.60zM268.7 238.4h.60v.60h-.60zM277.1 250.5h.60v.60h-.60zM278.0 252.1h.60v.60h-.60zM256.3 236.9h.60v.60h-.60zM250.3 245.8h.60v.60h-.60zM283.2 243.2h.60v.60h-.60zM278.8 251.8h.60v.60h-.60zM261.7 249.5h.60v.60h-.60zM255.6 247.6h.60v.60h-.60zM250.9 245.1h.60v.60h-.60zM279.0 235.0h.60v.60h-.60zM269.5 238.2h.60v.60h-.60zM282.3 242.1h.60v.60h-.60zM259.6 248.6h.60v.60h-.60zM267.1 237.2h.60v.60h-.60zM239.1 243.8h.60v.60h-.60z"/>
<g fill="none" stroke="#444" stroke-width="0.45" stroke-opacity="0.75" stroke-linejoin="round" clip-path="url(#cC3)"><path d="M295.6,252.8 294.6,252.9 293.4,252.8 288.6,251.7 284.9,251.1 282.9,250.3 281.8,249.7 280.9,249.1 280.1,248.3 278.9,246.2 278.6,245.4 278.5,244.6 278.7,243.4 280.1,238.4 280.4,235.2 280.7,234.2 281.0,233.4 282.1,231.6 283.0,230.0 283.6,229.2 288.6,224.9 289.9,224.0 292.4,223.2 294.9,222.6 297.4,221.9 299.4,221.5 304.1,221.3 305.1,221.4 306.4,221.7 308.1,222.6 309.9,223.9 311.9,225.2 312.6,225.8 313.1,226.6 314.4,229.8 315.1,232.8 315.1,234.2 314.6,236.8 314.6,239.0 314.4,240.0 314.1,240.6 313.6,241.3 311.8,243.1 310.1,245.0 306.8,248.1 303.9,250.3 302.6,251.0 299.9,251.9 295.6,252.8Z"/><path d="M295.9,251.4 294.1,251.5 290.9,251.2 285.8,250.2 283.9,249.5 282.6,248.9 281.8,248.4 281.0,247.6 279.9,245.8 279.6,245.0 279.6,244.2 280.1,242.4 281.6,238.0 282.2,234.8 284.4,230.6 285.1,229.6 286.1,228.6 288.6,226.6 290.8,225.2 293.1,224.3 295.7,223.8 299.9,222.8 303.6,222.7 304.6,222.8 305.6,223.1 306.9,223.8 308.4,225.0 309.9,225.9 310.6,226.4 311.1,227.2 312.9,230.6 313.5,232.4 313.7,233.8 313.6,234.8 312.9,237.0 312.9,238.8 312.8,239.6 312.3,240.6 309.4,243.8 306.4,246.8 304.1,248.6 302.4,249.7 300.1,250.6 298.6,251.0 295.9,251.4Z"/><path d="M296.1,250.4 293.9,250.5 291.1,250.5 289.9,250.3 285.9,249.5 284.4,248.9 282.9,248.3 282.1,247.7 281.6,247.0 281.0,246.0 280.6,245.2 280.5,244.6 280.5,243.8 281.0,241.8 282.6,238.2 283.4,234.8 284.9,231.6 285.9,230.2 288.8,227.6 289.9,226.9 293.4,225.3 298.4,224.2 299.9,223.9 301.1,223.8 303.6,224.0 304.8,224.2 305.9,224.8 307.5,226.2 309.6,227.6 310.7,229.2 311.9,231.6 312.5,233.0 312.6,234.0 312.5,234.8 311.8,236.8 311.5,239.4 310.9,240.4 307.8,243.8 306.4,245.5 303.8,247.6 301.9,248.7 298.9,249.9 297.8,250.2 296.1,250.4Z"/><path d="M293.1,249.8 291.1,249.9 289.9,249.9 286.8,249.2 285.4,248.7 283.9,248.2 282.9,247.6 282.2,246.8 281.6,245.8 281.3,245.0 281.2,244.2 281.4,242.4 282.0,240.8 283.6,237.8 284.2,234.8 285.0,232.8 285.6,231.9 286.1,231.2 289.4,228.2 290.4,227.6 293.9,226.0 297.6,225.2 299.1,224.9 300.4,225.0 302.4,225.3 304.1,225.3 305.1,225.6 309.0,228.4 309.7,229.4 310.5,231.0 311.3,233.4 311.4,234.4 310.7,238.0 310.2,239.4 309.4,240.6 307.4,242.8 305.9,244.8 302.5,247.4 301.6,247.9 299.6,248.6 297.6,249.4 293.1,249.8Z"/><path d="M292.4,249.4 290.9,249.5 289.8,249.4 286.8,248.8 285.1,248.3 283.9,247.7 283.1,247.1 282.5,246.4 282.1,245.4 281.8,244.6 281.8,243.8 282.0,242.2 282.8,240.4 284.6,237.6 284.8,237.0 284.8,235.4 285.0,234.4 285.4,233.3 285.9,232.3 286.8,231.5 288.2,230.4 289.6,229.0 290.4,228.4 294.1,226.7 297.6,225.9 298.6,225.8 299.4,225.8 302.6,226.7 304.4,226.6 304.9,226.7 305.8,227.1 307.9,228.4 308.8,229.2 309.3,230.2 309.8,232.6 310.3,234.4 310.4,235.2 310.3,236.4 310.0,237.6 309.2,239.2 308.4,240.4 306.9,242.2 305.5,244.2 301.8,247.0 300.9,247.4 299.1,247.9 297.1,248.8 295.1,248.9 292.4,249.4Z"/><path d="M291.1,249.2 289.9,249.2 288.8,248.9 286.4,248.3 284.8,247.8 283.8,247.2 283.2,246.6 282.6,245.8 282.3,245.0 282.1,243.6 282.4,242.0 283.2,240.4 285.0,238.2 285.4,237.6 285.5,237.0 285.3,235.4 285.4,234.6 285.7,233.6 286.2,232.8 286.9,232.1 289.1,230.8 290.5,229.2 291.6,228.5 294.1,227.3 297.4,226.6 298.4,226.5 299.4,226.6 302.9,227.7 305.1,227.7 306.6,228.2 307.8,229.0 308.3,229.6 308.5,230.2 308.6,232.4 309.6,235.0 309.7,235.6 309.7,236.4 309.3,237.6 308.0,239.8 306.4,241.9 305.3,243.4 302.1,246.2 301.1,246.8 298.9,247.4 296.9,248.1 295.4,248.3 292.9,249.0 291.1,249.2Z"/><path d="M292.1,248.8 290.9,248.9 289.8,248.9 287.1,248.3 285.6,247.8 284.6,247.4 283.8,246.8 283.1,246.1 282.7,245.2 282.5,243.8 282.6,242.2 283.1,241.2 283.6,240.4 285.5,238.4 285.9,237.8 286.1,237.0 285.8,234.8 286.0,234.0 286.5,233.2 287.4,232.4 289.3,231.6 289.9,231.2 291.1,229.6 292.1,228.8 293.6,228.0 294.9,227.6 297.6,227.4 299.9,227.5 302.9,228.3 305.6,228.4 306.4,228.7 307.1,229.2 307.5,229.6 307.7,230.0 307.8,230.6 307.7,231.8 307.8,232.6 308.1,233.4 309.0,235.2 309.2,235.8 309.2,236.4 308.8,237.4 307.5,239.6 305.9,241.5 305.0,243.0 301.9,245.8 301.1,246.3 300.4,246.6 298.6,246.9 296.9,247.4 295.4,247.8 293.4,248.5 292.1,248.8Z"/><path d="M291.9,248.6 290.8,248.7 289.8,248.7 287.4,248.1 285.8,247.7 284.7,247.2 283.9,246.6 283.4,246.0 283.0,245.2 282.7,243.6 282.9,242.2 283.2,241.4 283.8,240.6 284.4,239.9 285.8,238.6 286.4,237.8 286.5,237.0 286.2,234.8 286.4,234.2 286.8,233.5 287.1,233.1 287.8,232.7 290.2,231.8 290.8,231.2 291.7,229.8 292.3,229.2 293.4,228.5 294.6,228.1 295.9,228.0 298.4,228.1 300.4,228.0 303.1,228.7 305.4,228.9 306.6,229.4 306.9,229.8 307.1,230.2 307.3,233.0 307.6,233.8 308.5,235.4 308.7,236.4 308.5,237.0 308.2,237.6 306.9,239.6 305.6,241.2 304.6,242.8 301.8,245.4 300.9,246.0 300.1,246.2 298.4,246.5 295.8,247.2 293.4,248.2 291.9,248.6Z"/><path d="M291.6,248.4 290.6,248.5 289.4,248.4 286.9,247.8 285.6,247.4 284.8,246.9 284.1,246.4 283.5,245.6 283.2,244.8 283.0,244.0 283.0,243.0 283.2,242.2 283.5,241.4 284.4,240.3 286.3,238.6 286.8,237.8 286.9,236.8 286.6,234.8 286.8,234.2 287.0,233.8 287.4,233.4 287.9,233.1 289.9,232.5 290.8,232.1 291.4,231.5 292.2,230.0 292.7,229.4 293.6,228.8 294.6,228.5 295.9,228.4 298.4,228.7 299.9,228.5 300.8,228.5 302.9,229.1 305.1,229.4 306.1,229.8 306.5,230.2 306.6,230.6 307.0,233.4 307.3,234.2 308.0,235.6 308.2,236.2 308.2,236.6 307.7,237.6 306.6,239.2 305.3,240.8 304.2,242.6 301.8,245.0 300.9,245.5 300.1,245.8 298.4,246.0 296.1,246.6 295.1,247.0 293.1,248.0 291.6,248.4Z"/><path d="M291.4,248.2 290.4,248.2 289.1,248.1 286.8,247.5 285.6,247.1 284.8,246.7 284.1,246.1 283.6,245.4 283.4,244.6 283.2,243.8 283.2,243.0 283.4,242.2 283.8,241.4 284.6,240.4 286.5,238.8 287.2,237.8 287.3,236.8 287.1,235.0 287.2,234.4 287.5,234.0 288.4,233.4 290.1,232.9 291.1,232.4 291.8,231.8 292.6,230.2 293.1,229.6 293.9,229.1 294.8,228.8 295.9,228.8 298.4,229.2 300.1,228.9 300.9,228.9 304.8,229.7 305.8,230.1 306.1,230.6 306.3,231.0 306.7,234.0 307.5,235.8 307.6,236.6 307.2,237.6 304.9,240.5 303.7,242.6 301.8,244.5 300.9,245.1 300.4,245.3 298.8,245.4 297.8,245.6 295.4,246.5 292.9,247.8 291.4,248.2Z"/><path d="M291.9,247.8 290.9,248.0 289.8,247.9 287.4,247.4 285.9,247.0 285.1,246.6 284.4,246.0 284.0,245.4 283.6,244.6 283.5,243.8 283.5,243.0 283.7,242.2 284.0,241.6 284.8,240.6 286.8,239.0 287.6,237.8 287.8,236.8 287.7,235.0 287.9,234.4 288.6,233.9 290.6,233.3 291.6,232.8 292.3,232.0 293.4,230.0 293.9,229.6 294.8,229.2 295.9,229.2 298.4,229.7 300.4,229.4 301.1,229.4 304.4,230.0 305.3,230.4 305.7,230.8 306.0,231.4 306.3,234.4 306.9,236.0 306.9,236.6 306.5,237.6 304.6,240.2 303.4,242.3 301.9,243.8 300.9,244.5 300.4,244.7 298.9,244.8 297.9,245.1 295.4,246.1 293.1,247.4 291.9,247.8Z"/><path d="M291.1,247.6 290.1,247.6 288.9,247.5 286.9,247.1 285.8,246.6 285.0,246.2 284.4,245.6 284.1,245.0 283.9,244.2 283.9,242.8 284.3,241.6 285.1,240.8 287.1,239.2 288.0,238.0 288.4,237.0 288.5,235.4 288.7,234.8 289.2,234.4 291.4,233.5 292.4,232.8 292.9,232.1 293.8,230.4 294.4,229.9 294.9,229.7 296.1,229.7 297.9,230.2 298.6,230.3 300.6,229.9 301.6,229.9 304.1,230.3 305.1,230.8 305.5,231.4 305.7,232.0 305.6,234.8 306.0,236.2 306.0,236.8 305.6,237.8 304.2,239.8 303.3,241.6 302.8,242.4 301.8,243.3 300.9,243.9 300.4,244.1 298.9,244.2 298.1,244.5 294.9,245.9 292.8,247.2 291.1,247.6Z"/><path d="M291.9,247.0 290.9,247.2 289.8,247.1 287.6,246.8 286.4,246.5 285.6,246.1 284.9,245.6 284.5,245.0 284.2,244.2 284.2,243.0 284.6,242.0 285.2,241.2 287.2,239.8 288.1,238.8 289.0,237.4 289.6,235.6 289.8,235.2 290.4,234.7 292.4,233.6 293.1,233.0 293.6,232.4 294.4,230.9 294.8,230.5 295.1,230.3 296.1,230.2 298.1,230.8 298.8,230.9 300.8,230.5 302.1,230.5 303.8,230.7 304.6,231.0 305.0,231.6 305.2,232.4 305.2,233.2 304.8,234.8 305.0,236.6 304.9,237.2 304.6,238.0 302.4,242.0 301.7,242.6 300.9,243.2 300.4,243.4 298.9,243.6 298.1,243.9 294.7,245.6 292.8,246.7 291.9,247.0Z"/><path d="M290.9,246.4 289.6,246.4 287.4,246.2 286.4,246.0 285.7,245.6 285.0,244.8 284.8,243.9 284.8,242.8 285.3,242.0 285.9,241.4 287.8,240.0 288.7,239.2 290.3,237.4 291.3,235.4 291.9,234.8 294.0,233.6 294.4,233.0 295.1,231.6 295.6,231.2 296.1,231.1 296.8,231.2 298.8,232.2 299.4,232.3 299.8,232.3 301.1,231.7 302.1,231.4 303.1,231.4 303.9,231.7 304.2,232.0 304.3,232.4 304.2,233.0 303.7,234.4 303.9,236.4 303.8,237.2 303.6,238.0 302.0,241.0 301.6,241.6 300.6,242.4 298.1,243.1 295.9,244.4 292.8,245.9 291.9,246.2 290.9,246.4Z"/><path d="M290.8,245.4 287.8,245.5 286.6,245.3 285.9,244.9 285.6,244.4 285.5,243.8 285.5,243.2 285.9,242.4 286.5,241.8 291.6,238.6 291.9,238.0 292.4,236.2 292.8,235.7 294.8,234.7 295.2,234.2 295.9,233.0 296.1,232.8 296.6,232.6 297.1,232.8 297.6,233.2 298.6,234.8 299.1,235.3 299.8,235.4 301.1,234.9 301.6,234.8 301.9,234.9 302.4,235.2 302.8,236.2 302.8,237.2 301.1,240.5 300.6,241.2 299.8,241.7 297.4,242.4 295.6,243.6 294.8,244.1 292.1,245.1 290.8,245.4Z"/><path d="M294.6,240.6 294.9,240.3 295.1,239.8 294.9,239.2 294.6,238.8 294.1,238.6 293.8,238.7 293.1,238.9 292.8,239.2 292.7,239.8 293.0,240.4 293.8,240.7 294.1,240.7 294.6,240.6Z"/><path d="M298.9,240.8 298.4,240.8 297.8,240.6 297.4,240.2 297.1,239.7 296.7,238.6 296.6,237.6 296.7,236.8 296.9,236.5 298.6,237.0 300.6,237.2 300.8,237.4 300.7,238.4 300.2,240.0 299.6,240.6 298.9,240.8Z"/><path d="M288.9,244.4 287.8,244.6 287.1,244.5 286.6,244.2 286.4,243.6 286.5,243.0 286.9,242.5 287.9,241.8 288.9,241.3 289.9,241.1 290.8,241.3 292.3,242.2 292.8,242.8 292.8,243.0 292.6,243.4 291.7,244.0 290.8,244.3 288.9,244.4Z"/></g>
<path fill="#999" d="M317.2 241.4h.60v.60h-.60zM288.1 219.8h.60v.60h-.60zM271.5 241.5h.60v.60h-.60zM296.4 255.1h.60v.60h-.60zM275.3 246.4h.60v.60h-.60zM305.3 219.7h.60v.60h-.60zM305.5 254.9h.60v.60h-.60zM300.0 257.1h.60v.60h-.60zM300.1 252.8h.60v.60h-.60zM282.7 224.5h.60v.60h-.60zM292.5 253.9h.60v.60h-.60zM278.0 239.9h.60v.60h-.60zM273.9 248.6h.60v.60h-.60zM277.0 235.4h.60v.60h-.60zM314.6 250.6h.60v.60h-.60zM272.2 245.5h.60v.60h-.60zM312.8 223.5h.60v.60h-.60zM270.9 253.4h.60v.60h-.60zM280.2 228.5h.60v.60h-.60zM301.4 220.5h.60v.60h-.60zM296.0 218.1h.60v.60h-.60zM283.8 223.0h.60v.60h-.60zM278.9 234.2h.60v.60h-.60zM308.2 219.6h.60v.60h-.60zM321.4 223.5h.60v.60h-.60zM294.8 257.6h.60v.60h-.60zM289.7 255.1h.60v.60h-.60zM304.3 214.6h.60v.60h-.60zM310.1 222.1h.60v.60h-.60zM274.7 241.5h.60v.60h-.60zM289.5 223.0h.60v.60h-.60zM318.7 229.9h.60v.60h-.60zM273.0 253.6h.60v.60h-.60zM274.9 247.6h.60v.60h-.60zM278.5 233.0h.60v.60h-.60zM266.6 240.0h.60v.60h-.60zM284.3 252.3h.60v.60h-.60zM320.9 226.4h.60v.60h-.60zM281.4 224.9h.60v.60h-.60zM319.9 236.9h.60v.60h-.60zM305.7 220.9h.60v.60h-.60zM309.9 250.1h.60v.60h-.60zM291.0 222.7h.60v.60h-.60zM305.5 249.8h.60v.60h-.60zM308.1 257.4h.60v.60h-.60zM290.0 217.5h.60v.60h-.60zM281.7 249.6h.60v.60h-.60zM314.8 238.6h.60v.60h-.60zM314.6 239.7h.60v.60h-.60zM311.4 220.5h.60v.60h-.60zM309.5 249.1h.60v.60h-.60zM291.1 220.7h.60v.60h-.60zM278.5 245.9h.60v.60h-.60zM300.3 263.4h.60v.60h-.60zM307.3 214.6h.60v.60h-.60zM304.1 252.4h.60v.60h-.60zM266.9 249.6h.60v.60h-.60zM308.9 221.1h.60v.60h-.60zM286.8 223.2h.60v.60h-.60zM315.4 238.1h.60v.60h-.60zM317.8 208.4h.60v.60h-.60zM280.9 230.1h.60v.60h-.60zM283.8 220.8h.60v.60h-.60zM267.5 238.9h.60v.60h-.60zM313.6 215.5h.60v.60h-.60zM317.9 249.0h.60v.60h-.60zM274.4 247.5h.60v.60h-.60zM287.4 254.7h.60v.60h-.60zM313.4 213.6h.60v.60h-.60zM279.8 228.0h.60v.60h-.60zM286.0 252.9h.60v.60h-.60zM319.8 231.3h.60v.60h-.60zM291.6 211.8h.60v.60h-.60zM285.0 226.7h.60v.60h-.60zM298.6 256.5h.60v.60h-.60zM299.5 221.0h.60v.60h-.60zM258.6 238.0h.60v.60h-.60zM283.7 227.3h.60v.60h-.60zM315.5 229.8h.60v.60h-.60zM300.8 220.7h.60v.60h-.60zM316.1 220.0h.60v.60h-.60zM306.3 257.4h.60v.60h-.60zM315.4 246.2h.60v.60h-.60zM309.3 252.1h.60v.60h-.60zM297.7 256.1h.60v.60h-.60zM314.2 218.3h.60v.60h-.60zM278.1 249.8h.60v.60h-.60zM318.1 213.9h.60v.60h-.60zM308.0 222.0h.60v.60h-.60zM276.9 243.6h.60v.60h-.60zM316.5 214.7h.60v.60h-.60zM316.2 236.4h.60v.60h-.60zM290.9 221.8h.60v.60h-.60zM277.9 241.3h.60v.60h-.60zM272.0 231.8h.60v.60h-.60zM311.4 209.6h.60v.60h-.60zM315.6 240.3h.60v.60h-.60zM316.6 261.7h.60v.60h-.60zM304.1 252.3h.60v.60h-.60zM290.4 218.0h.60v.60h-.60zM277.0 229.9h.60v.60h-.60zM291.2 222.0h.60v.60h-.60zM307.6 210.0h.60v.60h-.60zM300.3 219.1h.60v.60h-.60zM313.6 219.5h.60v.60h-.60zM319.9 229.6h.60v.60h-.60zM282.3 253.2h.60v.60h-.60zM299.2 259.1h.60v.60h-.60zM278.7 226.0h.60v.60h-.60zM313.1 221.6h.60v.60h-.60zM272.1 255.4h.60v.60h-.60zM293.6 256.3h.60v.60h-.60zM283.2 253.5h.60v.60h-.60zM314.1 240.9h.60v.60h-.60zM281.3 251.7h.60v.60h-.60zM280.3 224.2h.60v.60h-.60zM280.0 251.6h.60v.60h-.60zM272.0 227.5h.60v.60h-.60zM317.0 250.6h.60v.60h-.60zM308.1 212.4h.60v.60h-.60zM285.5 222.9h.60v.60h-.60zM287.8 221.0h.60v.60h-.60zM321.7 239.8h.60v.60h-.60zM294.1 219.0h.60v.60h-.60zM318.3 245.3h.60v.60h-.60zM298.5 219.1h.60v.60h-.60zM297.2 258.3h.60v.60h-.60zM279.7 233.3h.60v.60h-.60zM307.2 219.1h.60v.60h-.60zM311.4 224.7h.60v.60h-.60zM274.6 249.8h.60v.60h-.60zM315.8 233.2h.60v.60h-.60zM315.1 237.6h.60v.60h-.60zM286.9 257.3h.60v.60h-.60zM295.6 252.6h.60v.60h-.60zM314.1 245.8h.60v.60h-.60zM319.5 235.6h.60v.60h-.60zM285.4 264.2h.60v.60h-.60zM307.2 215.8h.60v.60h-.60zM278.1 237.8h.60v.60h-.60zM296.9 215.7h.60v.60h-.60zM291.1 214.5h.60v.60h-.60zM304.1 220.4h.60v.60h-.60zM297.2 220.3h.60v.60h-.60zM316.4 227.8h.60v.60h-.60zM280.8 231.4h.60v.60h-.60zM278.0 235.3h.60v.60h-.60zM315.5 239.0h.60v.60h-.60zM317.3 235.8h.60v.60h-.60zM285.2 255.5h.60v.60h-.60zM291.3 259.5h.60v.60h-.60zM279.0 233.0h.60v.60h-.60zM301.5 256.6h.60v.60h-.60zM294.4 254.7h.60v.60h-.60zM293.7 216.7h.60v.60h-.60zM272.3 262.7h.60v.60h-.60zM305.8 220.9h.60v.60h-.60zM293.5 258.2h.60v.60h-.60zM315.7 238.1h.60v.60h-.60zM274.3 239.6h.60v.60h-.60zM274.7 227.2h.60v.60h-.60zM277.9 235.3h.60v.60h-.60zM298.4 210.4h.60v.60h-.60zM277.7 248.8h.60v.60h-.60zM316.7 241.1h.60v.60h-.60zM320.2 224.1h.60v.60h-.60zM309.6 249.8h.60v.60h-.60zM319.8 237.2h.60v.60h-.60zM315.4 251.7h.60v.60h-.60zM310.6 221.1h.60v.60h-.60zM315.8 225.5h.60v.60h-.60zM279.1 229.9h.60v.60h-.60zM305.4 207.0h.60v.60h-.60zM292.9 253.2h.60v.60h-.60zM278.3 248.2h.60v.60h-.60zM274.0 246.1h.60v.60h-.60zM307.2 211.6h.60v.60h-.60zM309.6 212.2h.60v.60h-.60zM274.0 217.6h.60v.60h-.60zM278.0 244.9h.60v.60h-.60z"/>
<rect x="239.50" y="193.50" width="33.75" height="40.75" stroke="#2a2a2a" stroke-width="0.9" fill="none"/>
<rect x="273.25" y="193.70" width="48.15" height="69.00" stroke="#2a2a2a" stroke-width="0.9" fill="none"/>
<rect x="248.50" y="192.80" width="13" height="1.4" fill="#fff" fill-opacity="0.72"/>
<text x="255.00" y="191.80" font-size="6.3" text-anchor="middle" fill="#222" stroke="#222" stroke-width="0.28">19.6</text>
<rect x="284.75" y="193.00" width="13" height="1.4" fill="#fff" fill-opacity="0.72"/>
<text x="291.25" y="191.80" font-size="6.3" text-anchor="middle" fill="#222" stroke="#222" stroke-width="0.28">57.6</text>
<text x="338.40" y="169.90" font-size="10.4" text-anchor="start" fill="#111" font-weight="bold" stroke="#111" stroke-width="0.4">D</text>
<text x="425.00" y="180.00" font-size="7.3" text-anchor="middle" fill="#222" stroke="#222" stroke-width="0.28">ILC2 cells</text>
<line x1="388.40" y1="185.00" x2="388.40" y2="239.80" stroke="#1a1a1a" stroke-width="1.2"/>
<line x1="387.90" y1="239.30" x2="461.25" y2="239.30" stroke="#1a1a1a" stroke-width="1.1"/>
<line x1="385.80" y1="186.60" x2="388.40" y2="186.60" stroke="#1a1a1a" stroke-width="0.8"/>
<text x="380.80" y="189.80" font-size="7.1" text-anchor="end" fill="#222" stroke="#222" stroke-width="0.28" textLength="17.6" lengthAdjust="spacingAndGlyphs">1×10</text>
<text x="381.00" y="186.80" font-size="4.1" text-anchor="start" fill="#222" stroke="#222" stroke-width="0.28">6</text>
<line x1="385.80" y1="213.00" x2="388.40" y2="213.00" stroke="#1a1a1a" stroke-width="0.8"/>
<text x="380.80" y="216.20" font-size="7.1" text-anchor="end" fill="#222" stroke="#222" stroke-width="0.28" textLength="17.6" lengthAdjust="spacingAndGlyphs">1×10</text>
<text x="381.00" y="213.20" font-size="4.1" text-anchor="start" fill="#222" stroke="#222" stroke-width="0.28">5</text>
<line x1="385.80" y1="239.30" x2="388.40" y2="239.30" stroke="#1a1a1a" stroke-width="0.8"/>
<text x="380.80" y="242.50" font-size="7.1" text-anchor="end" fill="#222" stroke="#222" stroke-width="0.28" textLength="17.6" lengthAdjust="spacingAndGlyphs">1×10</text>
<text x="381.00" y="239.50" font-size="4.1" text-anchor="start" fill="#222" stroke="#222" stroke-width="0.28">4</text>
<line x1="386.90" y1="205.05" x2="388.40" y2="205.05" stroke="#222" stroke-width="0.6"/>
<line x1="386.90" y1="200.40" x2="388.40" y2="200.40" stroke="#222" stroke-width="0.6"/>
<line x1="386.90" y1="197.11" x2="388.40" y2="197.11" stroke="#222" stroke-width="0.6"/>
<line x1="386.90" y1="194.55" x2="388.40" y2="194.55" stroke="#222" stroke-width="0.6"/>
<line x1="386.90" y1="192.46" x2="388.40" y2="192.46" stroke="#222" stroke-width="0.6"/>
<line x1="386.90" y1="190.69" x2="388.40" y2="190.69" stroke="#222" stroke-width="0.6"/>
<line x1="386.90" y1="189.16" x2="388.40" y2="189.16" stroke="#222" stroke-width="0.6"/>
<line x1="386.90" y1="187.81" x2="388.40" y2="187.81" stroke="#222" stroke-width="0.6"/>
<line x1="386.90" y1="231.38" x2="388.40" y2="231.38" stroke="#222" stroke-width="0.6"/>
<line x1="386.90" y1="226.75" x2="388.40" y2="226.75" stroke="#222" stroke-width="0.6"/>
<line x1="386.90" y1="223.47" x2="388.40" y2="223.47" stroke="#222" stroke-width="0.6"/>
<line x1="386.90" y1="220.92" x2="388.40" y2="220.92" stroke="#222" stroke-width="0.6"/>
<line x1="386.90" y1="218.83" x2="388.40" y2="218.83" stroke="#222" stroke-width="0.6"/>
<line x1="386.90" y1="217.07" x2="388.40" y2="217.07" stroke="#222" stroke-width="0.6"/>
<line x1="386.90" y1="215.55" x2="388.40" y2="215.55" stroke="#222" stroke-width="0.6"/>
<line x1="386.90" y1="214.20" x2="388.40" y2="214.20" stroke="#222" stroke-width="0.6"/>
<text x="352.30" y="214.30" font-size="7.6" text-anchor="middle" fill="#222" font-weight="bold" stroke="#222" stroke-width="0.35">#</text>
<line x1="404.25" y1="239.50" x2="404.25" y2="241.70" stroke="#1a1a1a" stroke-width="0.8"/>
<text x="406.85" y="249.90" font-size="7.6" text-anchor="end" fill="#222" stroke="#222" stroke-width="0.28" transform="rotate(-45 406.85 249.90)">RosetteSep ILC2</text>
<line x1="427.00" y1="239.50" x2="427.00" y2="241.70" stroke="#1a1a1a" stroke-width="0.8"/>
<text x="429.60" y="249.90" font-size="7.6" text-anchor="end" fill="#222" stroke="#222" stroke-width="0.28" transform="rotate(-45 429.60 249.90)">EasySep ILC2</text>
<line x1="450.00" y1="239.50" x2="450.00" y2="241.70" stroke="#1a1a1a" stroke-width="0.8"/>
<text x="452.60" y="249.90" font-size="7.6" text-anchor="end" fill="#222" stroke="#222" stroke-width="0.28" transform="rotate(-45 452.60 249.90)">EasySepNK + CD56</text>
<circle cx="404.25" cy="190.75" r="1.35" fill="#1b2d3e"/>
<rect x="425.7" y="205.7" width="2.6" height="2.6" fill="#1b2d3e"/>
<path d="M448.2,236.95 L451.8,236.95 L450.0,239.85Z" fill="#1c3a4c"/>
<text x="404.60" y="187.50" font-size="7.5" text-anchor="middle" fill="#bd4460" stroke="#bd4460" stroke-width="0.28">39</text>
<text x="426.90" y="201.25" font-size="7.5" text-anchor="middle" fill="#bd4460" stroke="#bd4460" stroke-width="0.28">8</text>
<text x="450.50" y="232.50" font-size="7.5" text-anchor="middle" fill="#bd4460" stroke="#bd4460" stroke-width="0.28">1</text>
<text x="7.10" y="324.35" font-size="10.4" text-anchor="start" fill="#111" font-weight="bold" stroke="#111" stroke-width="0.4">E</text>
<text x="75.60" y="330.50" font-size="7.3" text-anchor="middle" fill="#222" stroke="#222" stroke-width="0.28">ILC2 cell number</text>
<line x1="37.40" y1="345.40" x2="37.40" y2="404.70" stroke="#1a1a1a" stroke-width="1.1"/>
<line x1="36.90" y1="404.20" x2="114.50" y2="404.20" stroke="#1a1a1a" stroke-width="1.1"/>
<line x1="34.80" y1="404.00" x2="37.40" y2="404.00" stroke="#1a1a1a" stroke-width="0.8"/>
<text x="31.90" y="406.30" font-size="6.6" text-anchor="end" fill="#222" stroke="#222" stroke-width="0.28">10<tspan font-size="4.0" dy="-2.51">4</tspan></text>
<line x1="35.60" y1="399.70" x2="37.40" y2="399.70" stroke="#222" stroke-width="0.6"/>
<line x1="35.60" y1="397.18" x2="37.40" y2="397.18" stroke="#222" stroke-width="0.6"/>
<line x1="35.60" y1="395.39" x2="37.40" y2="395.39" stroke="#222" stroke-width="0.6"/>
<line x1="35.60" y1="394.00" x2="37.40" y2="394.00" stroke="#222" stroke-width="0.6"/>
<line x1="35.60" y1="392.87" x2="37.40" y2="392.87" stroke="#222" stroke-width="0.6"/>
<line x1="35.60" y1="391.92" x2="37.40" y2="391.92" stroke="#222" stroke-width="0.6"/>
<line x1="35.60" y1="391.09" x2="37.40" y2="391.09" stroke="#222" stroke-width="0.6"/>
<line x1="35.60" y1="390.35" x2="37.40" y2="390.35" stroke="#222" stroke-width="0.6"/>
<line x1="34.80" y1="389.70" x2="37.40" y2="389.70" stroke="#1a1a1a" stroke-width="0.8"/>
<text x="31.90" y="392.00" font-size="6.6" text-anchor="end" fill="#222" stroke="#222" stroke-width="0.28">10<tspan font-size="4.0" dy="-2.51">5</tspan></text>
<line x1="35.60" y1="385.40" x2="37.40" y2="385.40" stroke="#222" stroke-width="0.6"/>
<line x1="35.60" y1="382.88" x2="37.40" y2="382.88" stroke="#222" stroke-width="0.6"/>
<line x1="35.60" y1="381.09" x2="37.40" y2="381.09" stroke="#222" stroke-width="0.6"/>
<line x1="35.60" y1="379.70" x2="37.40" y2="379.70" stroke="#222" stroke-width="0.6"/>
<line x1="35.60" y1="378.57" x2="37.40" y2="378.57" stroke="#222" stroke-width="0.6"/>
<line x1="35.60" y1="377.62" x2="37.40" y2="377.62" stroke="#222" stroke-width="0.6"/>
<line x1="35.60" y1="376.79" x2="37.40" y2="376.79" stroke="#222" stroke-width="0.6"/>
<line x1="35.60" y1="376.05" x2="37.40" y2="376.05" stroke="#222" stroke-width="0.6"/>
<line x1="34.80" y1="375.40" x2="37.40" y2="375.40" stroke="#1a1a1a" stroke-width="0.8"/>
<text x="31.90" y="377.70" font-size="6.6" text-anchor="end" fill="#222" stroke="#222" stroke-width="0.28">10<tspan font-size="4.0" dy="-2.51">6</tspan></text>
<line x1="35.60" y1="371.10" x2="37.40" y2="371.10" stroke="#222" stroke-width="0.6"/>
<line x1="35.60" y1="368.58" x2="37.40" y2="368.58" stroke="#222" stroke-width="0.6"/>
<line x1="35.60" y1="366.79" x2="37.40" y2="366.79" stroke="#222" stroke-width="0.6"/>
<line x1="35.60" y1="365.40" x2="37.40" y2="365.40" stroke="#222" stroke-width="0.6"/>
<line x1="35.60" y1="364.27" x2="37.40" y2="364.27" stroke="#222" stroke-width="0.6"/>
<line x1="35.60" y1="363.32" x2="37.40" y2="363.32" stroke="#222" stroke-width="0.6"/>
<line x1="35.60" y1="362.49" x2="37.40" y2="362.49" stroke="#222" stroke-width="0.6"/>
<line x1="35.60" y1="361.75" x2="37.40" y2="361.75" stroke="#222" stroke-width="0.6"/>
<line x1="34.80" y1="361.10" x2="37.40" y2="361.10" stroke="#1a1a1a" stroke-width="0.8"/>
<text x="31.90" y="363.40" font-size="6.6" text-anchor="end" fill="#222" stroke="#222" stroke-width="0.28">10<tspan font-size="4.0" dy="-2.51">7</tspan></text>
<line x1="35.60" y1="356.80" x2="37.40" y2="356.80" stroke="#222" stroke-width="0.6"/>
<line x1="35.60" y1="354.28" x2="37.40" y2="354.28" stroke="#222" stroke-width="0.6"/>
<line x1="35.60" y1="352.49" x2="37.40" y2="352.49" stroke="#222" stroke-width="0.6"/>
<line x1="35.60" y1="351.10" x2="37.40" y2="351.10" stroke="#222" stroke-width="0.6"/>
<line x1="35.60" y1="349.97" x2="37.40" y2="349.97" stroke="#222" stroke-width="0.6"/>
<line x1="35.60" y1="349.02" x2="37.40" y2="349.02" stroke="#222" stroke-width="0.6"/>
<line x1="35.60" y1="348.19" x2="37.40" y2="348.19" stroke="#222" stroke-width="0.6"/>
<line x1="35.60" y1="347.45" x2="37.40" y2="347.45" stroke="#222" stroke-width="0.6"/>
<line x1="34.80" y1="346.80" x2="37.40" y2="346.80" stroke="#1a1a1a" stroke-width="0.8"/>
<text x="31.90" y="349.10" font-size="6.6" text-anchor="end" fill="#222" stroke="#222" stroke-width="0.28">10<tspan font-size="4.0" dy="-2.51">8</tspan></text>
<line x1="37.40" y1="404.20" x2="37.40" y2="406.60" stroke="#1a1a1a" stroke-width="0.8"/>
<text x="37.40" y="416.20" font-size="7.4" text-anchor="middle" fill="#222" stroke="#222" stroke-width="0.28">0</text>
<line x1="62.40" y1="404.20" x2="62.40" y2="406.60" stroke="#1a1a1a" stroke-width="0.8"/>
<text x="62.40" y="416.20" font-size="7.4" text-anchor="middle" fill="#222" stroke="#222" stroke-width="0.28">5</text>
<line x1="87.40" y1="404.20" x2="87.40" y2="406.60" stroke="#1a1a1a" stroke-width="0.8"/>
<text x="87.40" y="416.20" font-size="7.4" text-anchor="middle" fill="#222" stroke="#222" stroke-width="0.28">10</text>
<line x1="112.40" y1="404.20" x2="112.40" y2="406.60" stroke="#1a1a1a" stroke-width="0.8"/>
<text x="112.40" y="416.20" font-size="7.4" text-anchor="middle" fill="#222" stroke="#222" stroke-width="0.28">15</text>
<text x="69.80" y="429.30" font-size="9.0" text-anchor="start" fill="#1a1a1a" textLength="13.3" lengthAdjust="spacingAndGlyphs" stroke="#1a1a1a" stroke-width="0.4">Days</text>
<text x="15.10" y="373.20" font-size="9.4" text-anchor="middle" fill="#1a1a1a" textLength="28.3" lengthAdjust="spacingAndGlyphs" transform="rotate(-90 15.10 373.20)" stroke="#1a1a1a" stroke-width="0.4">Total cells</text>
<polyline points="37.4,397.8 67.4,374.8 87.2,356.0 102.2,346.9" fill="none" stroke="#263d4d" stroke-width="1.1"/>
<circle cx="37.4" cy="397.8" r="1.2" fill="#1b2d3e"/>
<circle cx="67.4" cy="374.8" r="1.2" fill="#1b2d3e"/>
<circle cx="87.2" cy="356.0" r="1.2" fill="#1b2d3e"/>
<circle cx="102.2" cy="346.9" r="1.2" fill="#1b2d3e"/>
<text x="65.50" y="369.60" font-size="7.8" text-anchor="middle" fill="#bd4460" stroke="#bd4460" stroke-width="0.28">40</text>
<text x="87.40" y="351.10" font-size="7.8" text-anchor="middle" fill="#bd4460" stroke="#bd4460" stroke-width="0.28">786</text>
<text x="106.20" y="342.80" font-size="7.8" text-anchor="middle" fill="#bd4460" stroke="#bd4460" stroke-width="0.28">3225</text>
<text x="131.60" y="324.85" font-size="10.4" text-anchor="start" fill="#111" font-weight="bold" stroke="#111" stroke-width="0.4">F</text>
<line x1="137.00" y1="337.25" x2="137.00" y2="391.00" stroke="#1a1a1a" stroke-width="0.9"/>
<path d="M137.00,333.75 L135.10,337.75 L138.90,337.75Z" fill="#1a1a1a"/>
<text x="139.80" y="403.30" font-size="10.4" text-anchor="middle" fill="#1a1a1a" textLength="18.6" lengthAdjust="spacingAndGlyphs" transform="rotate(-90 139.80 403.30)" stroke="#1a1a1a" stroke-width="0.4">CRTH2</text>
<text x="160.60" y="437.80" font-size="9.6" text-anchor="start" fill="#1a1a1a" textLength="17.0" lengthAdjust="spacingAndGlyphs" stroke="#1a1a1a" stroke-width="0.4">CD161</text>
<line x1="182.50" y1="435.00" x2="236.50" y2="435.00" stroke="#1a1a1a" stroke-width="0.9"/>
<path d="M240.50,435.00 L236.00,433.10 L236.00,436.90Z" fill="#1a1a1a"/>
<rect x="160.00" y="329.00" width="86.00" height="84.00" stroke="#dcdcdc" stroke-width="0.8" fill="none"/>
<line x1="160.00" y1="329.00" x2="160.00" y2="413.00" stroke="#cfcfcf" stroke-width="0.6"/>
<line x1="158.80" y1="335.50" x2="161.00" y2="335.50" stroke="#1a1a1a" stroke-width="0.8"/>
<text x="155.60" y="337.70" font-size="6.4" text-anchor="end" fill="#222" stroke="#222" stroke-width="0.28">10<tspan font-size="4.0" dy="-2.43">5</tspan></text>
<line x1="158.80" y1="355.75" x2="161.00" y2="355.75" stroke="#1a1a1a" stroke-width="0.8"/>
<text x="155.60" y="357.95" font-size="6.4" text-anchor="end" fill="#222" stroke="#222" stroke-width="0.28">10<tspan font-size="4.0" dy="-2.43">4</tspan></text>
<line x1="158.80" y1="375.50" x2="161.00" y2="375.50" stroke="#1a1a1a" stroke-width="0.8"/>
<text x="155.60" y="377.70" font-size="6.4" text-anchor="end" fill="#222" stroke="#222" stroke-width="0.28">10<tspan font-size="4.0" dy="-2.43">3</tspan></text>
<line x1="158.80" y1="396.00" x2="161.00" y2="396.00" stroke="#1a1a1a" stroke-width="0.8"/>
<line x1="160.30" y1="396.00" x2="160.30" y2="405.00" stroke="#1a1a1a" stroke-width="0.8"/>
<text x="153.60" y="402.40" font-size="7.0" text-anchor="middle" fill="#222" stroke="#222" stroke-width="0.28">0</text>
<line x1="159.30" y1="398.50" x2="161.00" y2="398.50" stroke="#333" stroke-width="0.5"/>
<line x1="159.30" y1="401.00" x2="161.00" y2="401.00" stroke="#333" stroke-width="0.5"/>
<line x1="159.30" y1="403.50" x2="161.00" y2="403.50" stroke="#333" stroke-width="0.5"/>
<line x1="173.25" y1="412.50" x2="173.25" y2="414.50" stroke="#1a1a1a" stroke-width="0.8"/>
<text x="173.25" y="425.20" font-size="7.0" text-anchor="middle" fill="#222" stroke="#222" stroke-width="0.28">0</text>
<line x1="196.25" y1="412.50" x2="196.25" y2="414.50" stroke="#1a1a1a" stroke-width="0.8"/>
<text x="196.45" y="425.20" font-size="6.4" text-anchor="middle" fill="#222" stroke="#222" stroke-width="0.28">10<tspan font-size="4.0" dy="-2.43">3</tspan></text>
<line x1="217.50" y1="412.50" x2="217.50" y2="414.50" stroke="#1a1a1a" stroke-width="0.8"/>
<text x="217.70" y="425.20" font-size="6.4" text-anchor="middle" fill="#222" stroke="#222" stroke-width="0.28">10<tspan font-size="4.0" dy="-2.43">4</tspan></text>
<line x1="237.00" y1="412.50" x2="237.00" y2="414.50" stroke="#1a1a1a" stroke-width="0.8"/>
<text x="237.20" y="425.20" font-size="6.4" text-anchor="middle" fill="#222" stroke="#222" stroke-width="0.28">10<tspan font-size="4.0" dy="-2.43">5</tspan></text>
<line x1="160.00" y1="413.00" x2="246.00" y2="413.00" stroke="#d0d0d0" stroke-width="0.6"/>
<line x1="169.50" y1="413.20" x2="178.00" y2="413.20" stroke="#222" stroke-width="0.8"/>
<line x1="170.00" y1="412.00" x2="170.00" y2="414.20" stroke="#333" stroke-width="0.5"/>
<line x1="171.50" y1="412.00" x2="171.50" y2="414.20" stroke="#333" stroke-width="0.5"/>
<line x1="173.00" y1="412.00" x2="173.00" y2="414.20" stroke="#333" stroke-width="0.5"/>
<line x1="175.00" y1="412.00" x2="175.00" y2="414.20" stroke="#333" stroke-width="0.5"/>
<line x1="176.50" y1="412.00" x2="176.50" y2="414.20" stroke="#333" stroke-width="0.5"/>
<path fill="#b0b0b0" d="M213.3 389.1h.80v.80h-.80zM214.6 392.9h.80v.80h-.80zM199.9 398.8h.80v.80h-.80zM209.9 396.4h.80v.80h-.80zM223.1 394.3h.80v.80h-.80zM203.3 388.4h.80v.80h-.80zM217.5 383.6h.80v.80h-.80zM212.4 394.9h.80v.80h-.80zM202.8 393.6h.80v.80h-.80zM214.4 387.8h.80v.80h-.80zM207.3 396.0h.80v.80h-.80zM201.8 387.1h.80v.80h-.80zM217.1 393.1h.80v.80h-.80zM201.0 392.7h.80v.80h-.80zM223.8 383.2h.80v.80h-.80zM216.1 397.3h.80v.80h-.80zM209.4 396.4h.80v.80h-.80zM206.0 402.2h.80v.80h-.80zM222.3 387.1h.80v.80h-.80zM209.1 393.4h.80v.80h-.80zM206.3 394.8h.80v.80h-.80zM203.5 396.2h.80v.80h-.80zM208.6 392.3h.80v.80h-.80zM213.8 398.3h.80v.80h-.80zM203.9 397.5h.80v.80h-.80zM216.6 391.9h.80v.80h-.80zM221.1 387.9h.80v.80h-.80zM206.9 395.0h.80v.80h-.80zM206.0 401.2h.80v.80h-.80zM211.9 403.3h.80v.80h-.80zM203.4 386.7h.80v.80h-.80zM219.7 386.1h.80v.80h-.80zM217.9 387.6h.80v.80h-.80zM212.4 399.8h.80v.80h-.80zM210.2 385.5h.80v.80h-.80zM207.3 399.7h.80v.80h-.80zM211.9 397.0h.80v.80h-.80zM211.2 394.4h.80v.80h-.80zM209.3 386.3h.80v.80h-.80zM214.3 393.8h.80v.80h-.80zM197.1 392.7h.80v.80h-.80zM217.2 404.6h.80v.80h-.80zM201.4 393.3h.80v.80h-.80zM214.4 397.3h.80v.80h-.80zM205.9 395.8h.80v.80h-.80zM207.8 392.3h.80v.80h-.80zM207.0 394.5h.80v.80h-.80zM208.0 394.5h.80v.80h-.80zM210.0 398.3h.80v.80h-.80zM222.1 392.1h.80v.80h-.80zM205.6 391.2h.80v.80h-.80zM207.0 382.3h.80v.80h-.80zM210.8 389.6h.80v.80h-.80zM216.8 391.8h.80v.80h-.80zM216.9 397.4h.80v.80h-.80zM207.2 390.6h.80v.80h-.80zM207.0 389.8h.80v.80h-.80zM216.2 389.4h.80v.80h-.80zM207.7 387.6h.80v.80h-.80zM220.1 390.4h.80v.80h-.80zM209.5 387.2h.80v.80h-.80zM212.1 387.7h.80v.80h-.80zM206.0 379.9h.80v.80h-.80zM199.3 393.7h.80v.80h-.80zM215.6 382.2h.80v.80h-.80zM211.6 393.6h.80v.80h-.80zM231.1 386.3h.80v.80h-.80zM205.9 385.9h.80v.80h-.80zM216.0 398.9h.80v.80h-.80zM208.6 401.9h.80v.80h-.80zM224.7 389.6h.80v.80h-.80zM214.2 391.3h.80v.80h-.80zM206.2 389.6h.80v.80h-.80zM208.9 384.5h.80v.80h-.80zM209.9 397.5h.80v.80h-.80zM204.1 389.3h.80v.80h-.80zM204.3 394.9h.80v.80h-.80zM209.8 398.3h.80v.80h-.80zM208.4 383.4h.80v.80h-.80zM214.4 390.7h.80v.80h-.80zM218.3 397.0h.80v.80h-.80zM192.7 380.3h.80v.80h-.80zM210.8 387.9h.80v.80h-.80zM195.3 389.2h.80v.80h-.80zM219.3 396.5h.80v.80h-.80zM204.5 394.3h.80v.80h-.80zM217.4 391.4h.80v.80h-.80zM222.6 388.2h.80v.80h-.80zM224.9 402.1h.80v.80h-.80zM214.1 394.0h.80v.80h-.80zM210.8 386.8h.80v.80h-.80zM217.2 400.5h.80v.80h-.80zM215.9 394.3h.80v.80h-.80zM211.3 386.8h.80v.80h-.80zM206.1 383.6h.80v.80h-.80zM213.9 387.0h.80v.80h-.80zM216.3 388.5h.80v.80h-.80zM220.2 402.3h.80v.80h-.80zM221.0 399.7h.80v.80h-.80zM208.5 390.6h.80v.80h-.80zM205.6 394.6h.80v.80h-.80zM222.0 385.8h.80v.80h-.80zM227.0 389.0h.80v.80h-.80zM202.6 394.7h.80v.80h-.80zM217.9 390.3h.80v.80h-.80zM203.6 403.4h.80v.80h-.80zM203.1 398.7h.80v.80h-.80zM211.6 390.3h.80v.80h-.80zM210.9 385.8h.80v.80h-.80zM203.0 394.5h.80v.80h-.80zM203.5 387.8h.80v.80h-.80zM220.4 403.7h.80v.80h-.80zM218.1 398.1h.80v.80h-.80zM208.9 393.1h.80v.80h-.80zM205.5 375.2h.80v.80h-.80zM211.9 393.9h.80v.80h-.80zM217.3 385.1h.80v.80h-.80zM218.4 389.2h.80v.80h-.80zM202.1 390.9h.80v.80h-.80zM216.8 392.5h.80v.80h-.80zM213.5 387.1h.80v.80h-.80zM213.8 398.6h.80v.80h-.80zM204.5 395.1h.80v.80h-.80zM201.4 393.9h.80v.80h-.80zM200.3 395.0h.80v.80h-.80zM210.5 385.6h.80v.80h-.80zM213.0 386.4h.80v.80h-.80zM211.1 386.9h.80v.80h-.80zM214.2 389.1h.80v.80h-.80zM220.3 395.4h.80v.80h-.80zM214.2 384.3h.80v.80h-.80zM196.4 387.6h.80v.80h-.80zM222.9 386.7h.80v.80h-.80zM218.9 400.4h.80v.80h-.80zM206.6 391.3h.80v.80h-.80zM219.5 391.0h.80v.80h-.80zM207.8 389.0h.80v.80h-.80zM211.1 391.9h.80v.80h-.80zM219.0 394.1h.80v.80h-.80zM218.6 391.9h.80v.80h-.80zM227.6 391.9h.80v.80h-.80zM209.6 387.7h.80v.80h-.80zM199.1 387.2h.80v.80h-.80zM212.1 386.5h.80v.80h-.80zM216.2 382.5h.80v.80h-.80zM199.3 394.5h.80v.80h-.80zM213.2 385.6h.80v.80h-.80zM218.0 401.2h.80v.80h-.80zM213.1 384.7h.80v.80h-.80zM219.1 390.9h.80v.80h-.80zM209.5 395.6h.80v.80h-.80zM205.9 402.0h.80v.80h-.80zM206.4 399.2h.80v.80h-.80zM215.9 403.6h.80v.80h-.80zM214.1 398.0h.80v.80h-.80zM208.1 391.3h.80v.80h-.80zM206.6 397.4h.80v.80h-.80zM206.3 402.1h.80v.80h-.80zM210.0 385.5h.80v.80h-.80zM206.3 400.0h.80v.80h-.80zM207.6 396.5h.80v.80h-.80zM200.2 395.6h.80v.80h-.80zM216.1 396.0h.80v.80h-.80zM216.2 386.8h.80v.80h-.80zM199.8 384.9h.80v.80h-.80zM216.7 395.5h.80v.80h-.80zM216.5 389.6h.80v.80h-.80zM216.5 383.5h.80v.80h-.80zM213.9 386.7h.80v.80h-.80zM208.2 397.1h.80v.80h-.80zM217.1 392.1h.80v.80h-.80zM208.8 401.5h.80v.80h-.80zM218.2 389.0h.80v.80h-.80zM213.2 391.9h.80v.80h-.80zM217.8 396.0h.80v.80h-.80zM214.2 393.8h.80v.80h-.80zM207.7 400.0h.80v.80h-.80zM214.1 379.1h.80v.80h-.80zM208.8 394.9h.80v.80h-.80zM206.4 387.6h.80v.80h-.80zM207.1 395.5h.80v.80h-.80zM204.9 395.5h.80v.80h-.80zM220.5 399.1h.80v.80h-.80zM218.0 392.0h.80v.80h-.80zM219.4 393.4h.80v.80h-.80zM217.3 386.4h.80v.80h-.80zM219.8 389.7h.80v.80h-.80zM211.6 399.8h.80v.80h-.80zM211.4 390.4h.80v.80h-.80zM210.2 400.0h.80v.80h-.80zM218.8 397.3h.80v.80h-.80zM207.0 390.7h.80v.80h-.80zM215.7 397.8h.80v.80h-.80zM206.4 388.9h.80v.80h-.80zM215.9 399.9h.80v.80h-.80zM211.8 385.8h.80v.80h-.80zM221.9 393.4h.80v.80h-.80zM214.3 379.9h.80v.80h-.80zM206.2 391.9h.80v.80h-.80zM213.1 387.5h.80v.80h-.80zM200.6 382.8h.80v.80h-.80zM208.3 394.6h.80v.80h-.80zM212.5 382.1h.80v.80h-.80zM205.9 392.1h.80v.80h-.80zM217.3 396.0h.80v.80h-.80zM212.4 382.3h.80v.80h-.80zM217.9 392.0h.80v.80h-.80zM212.0 388.4h.80v.80h-.80zM209.2 390.5h.80v.80h-.80zM207.8 387.1h.80v.80h-.80zM215.1 398.1h.80v.80h-.80zM206.9 387.4h.80v.80h-.80zM205.0 390.7h.80v.80h-.80zM220.1 391.7h.80v.80h-.80zM222.8 384.8h.80v.80h-.80zM203.2 387.7h.80v.80h-.80zM204.7 394.5h.80v.80h-.80zM222.2 388.0h.80v.80h-.80zM212.8 400.7h.80v.80h-.80zM226.7 393.8h.80v.80h-.80zM217.2 400.7h.80v.80h-.80zM211.3 396.1h.80v.80h-.80zM208.3 387.2h.80v.80h-.80zM206.7 399.7h.80v.80h-.80zM219.6 394.2h.80v.80h-.80zM202.5 400.2h.80v.80h-.80zM210.7 401.9h.80v.80h-.80zM211.4 385.7h.80v.80h-.80zM208.8 388.7h.80v.80h-.80zM221.4 378.9h.80v.80h-.80zM206.8 390.8h.80v.80h-.80zM197.1 395.4h.80v.80h-.80zM214.9 398.0h.80v.80h-.80zM216.4 392.2h.80v.80h-.80zM217.1 390.0h.80v.80h-.80zM211.0 394.1h.80v.80h-.80zM211.3 395.9h.80v.80h-.80zM206.4 392.0h.80v.80h-.80zM206.8 393.2h.80v.80h-.80zM212.9 388.2h.80v.80h-.80zM220.5 404.6h.80v.80h-.80zM214.6 393.4h.80v.80h-.80zM206.7 391.8h.80v.80h-.80zM209.4 397.1h.80v.80h-.80zM210.8 397.2h.80v.80h-.80zM214.7 389.9h.80v.80h-.80zM202.0 385.7h.80v.80h-.80zM203.8 392.7h.80v.80h-.80zM218.8 387.2h.80v.80h-.80zM215.3 391.8h.80v.80h-.80zM219.4 406.6h.80v.80h-.80zM218.1 395.0h.80v.80h-.80zM214.4 401.0h.80v.80h-.80zM209.1 388.2h.80v.80h-.80zM212.2 402.8h.80v.80h-.80zM206.3 399.8h.80v.80h-.80zM216.9 391.7h.80v.80h-.80zM205.8 383.0h.80v.80h-.80zM203.3 394.0h.80v.80h-.80zM215.9 389.1h.80v.80h-.80zM207.1 388.2h.80v.80h-.80zM227.3 384.5h.80v.80h-.80zM201.0 399.3h.80v.80h-.80zM203.5 398.9h.80v.80h-.80zM205.2 399.1h.80v.80h-.80zM220.0 389.9h.80v.80h-.80zM210.6 386.6h.80v.80h-.80zM216.6 390.8h.80v.80h-.80zM204.3 395.4h.80v.80h-.80zM213.2 392.4h.80v.80h-.80zM207.7 398.5h.80v.80h-.80zM206.2 387.3h.80v.80h-.80zM209.0 395.8h.80v.80h-.80zM208.0 388.7h.80v.80h-.80zM203.7 387.7h.80v.80h-.80zM206.0 404.8h.80v.80h-.80zM198.5 389.7h.80v.80h-.80zM211.0 387.1h.80v.80h-.80zM202.5 395.9h.80v.80h-.80zM219.8 399.3h.80v.80h-.80zM210.6 389.8h.80v.80h-.80zM215.0 382.4h.80v.80h-.80zM204.8 401.6h.80v.80h-.80zM213.4 393.5h.80v.80h-.80zM209.3 390.2h.80v.80h-.80zM204.8 396.1h.80v.80h-.80zM214.0 395.8h.80v.80h-.80zM194.0 400.5h.80v.80h-.80zM216.4 402.3h.80v.80h-.80zM206.8 379.1h.80v.80h-.80zM201.7 387.1h.80v.80h-.80zM224.2 387.9h.80v.80h-.80zM207.4 398.8h.80v.80h-.80zM216.7 398.6h.80v.80h-.80zM207.4 404.2h.80v.80h-.80zM213.3 387.3h.80v.80h-.80zM213.4 383.8h.80v.80h-.80zM202.1 388.4h.80v.80h-.80zM202.5 389.5h.80v.80h-.80zM206.2 389.7h.80v.80h-.80zM204.7 399.5h.80v.80h-.80zM203.8 389.3h.80v.80h-.80zM204.4 388.9h.80v.80h-.80zM201.8 405.6h.80v.80h-.80zM208.7 397.7h.80v.80h-.80zM208.1 384.5h.80v.80h-.80zM207.1 388.4h.80v.80h-.80zM202.2 393.3h.80v.80h-.80zM221.6 393.8h.80v.80h-.80zM217.7 400.7h.80v.80h-.80zM197.5 404.4h.80v.80h-.80zM201.7 404.0h.80v.80h-.80zM212.2 396.4h.80v.80h-.80zM225.7 399.2h.80v.80h-.80zM199.8 381.6h.80v.80h-.80zM202.6 399.0h.80v.80h-.80zM212.9 398.3h.80v.80h-.80zM213.6 400.2h.80v.80h-.80zM203.6 381.3h.80v.80h-.80zM206.1 397.6h.80v.80h-.80zM203.7 378.1h.80v.80h-.80zM206.9 396.8h.80v.80h-.80zM213.4 390.5h.80v.80h-.80zM207.1 379.5h.80v.80h-.80zM210.3 404.2h.80v.80h-.80zM207.0 402.5h.80v.80h-.80zM201.9 389.7h.80v.80h-.80zM206.9 392.0h.80v.80h-.80zM197.9 399.4h.80v.80h-.80zM207.7 378.5h.80v.80h-.80zM214.2 392.7h.80v.80h-.80zM201.1 391.1h.80v.80h-.80zM215.3 396.2h.80v.80h-.80zM212.2 387.9h.80v.80h-.80zM212.0 400.1h.80v.80h-.80zM225.0 396.2h.80v.80h-.80zM215.9 398.5h.80v.80h-.80zM208.8 381.7h.80v.80h-.80zM206.6 391.2h.80v.80h-.80zM211.7 392.0h.80v.80h-.80zM204.7 388.1h.80v.80h-.80zM207.5 385.6h.80v.80h-.80zM203.0 380.0h.80v.80h-.80zM205.8 390.9h.80v.80h-.80zM203.4 388.3h.80v.80h-.80zM208.2 383.0h.80v.80h-.80zM203.1 384.0h.80v.80h-.80zM210.5 382.8h.80v.80h-.80zM207.6 377.2h.80v.80h-.80zM219.3 393.3h.80v.80h-.80zM202.2 389.7h.80v.80h-.80zM220.8 390.9h.80v.80h-.80zM198.2 390.3h.80v.80h-.80zM205.2 394.0h.80v.80h-.80zM210.0 381.2h.80v.80h-.80zM210.8 397.4h.80v.80h-.80zM219.0 393.8h.80v.80h-.80zM222.4 400.8h.80v.80h-.80zM215.1 401.6h.80v.80h-.80zM192.9 399.9h.80v.80h-.80zM219.9 391.5h.80v.80h-.80zM215.7 388.1h.80v.80h-.80zM209.0 391.1h.80v.80h-.80zM203.0 390.8h.80v.80h-.80zM198.1 391.3h.80v.80h-.80zM221.6 403.9h.80v.80h-.80zM210.0 403.0h.80v.80h-.80zM212.9 384.3h.80v.80h-.80zM205.9 391.9h.80v.80h-.80zM210.1 396.3h.80v.80h-.80zM205.4 389.7h.80v.80h-.80zM217.3 393.2h.80v.80h-.80zM213.1 392.0h.80v.80h-.80zM215.2 397.1h.80v.80h-.80zM205.2 399.5h.80v.80h-.80zM206.1 394.7h.80v.80h-.80zM208.5 396.7h.80v.80h-.80zM212.5 396.1h.80v.80h-.80zM211.5 391.9h.80v.80h-.80zM212.0 392.5h.80v.80h-.80zM205.0 383.0h.80v.80h-.80zM214.2 400.5h.80v.80h-.80zM204.0 395.7h.80v.80h-.80zM206.4 393.7h.80v.80h-.80zM216.5 394.8h.80v.80h-.80zM209.0 380.6h.80v.80h-.80zM209.1 392.4h.80v.80h-.80zM218.9 388.2h.80v.80h-.80zM209.8 393.7h.80v.80h-.80zM219.0 385.1h.80v.80h-.80zM216.1 391.9h.80v.80h-.80zM205.9 384.0h.80v.80h-.80zM203.9 397.6h.80v.80h-.80zM206.9 386.6h.80v.80h-.80zM207.7 400.7h.80v.80h-.80zM217.1 397.5h.80v.80h-.80zM217.1 397.3h.80v.80h-.80zM207.7 385.7h.80v.80h-.80zM218.8 391.8h.80v.80h-.80zM211.4 389.7h.80v.80h-.80zM213.9 400.8h.80v.80h-.80zM207.8 393.5h.80v.80h-.80zM211.0 396.6h.80v.80h-.80zM210.5 392.8h.80v.80h-.80zM206.6 392.8h.80v.80h-.80zM205.7 397.2h.80v.80h-.80zM209.7 402.8h.80v.80h-.80zM206.1 386.3h.80v.80h-.80zM216.8 396.5h.80v.80h-.80zM201.4 408.7h.80v.80h-.80zM209.5 399.5h.80v.80h-.80zM208.0 396.9h.80v.80h-.80zM218.1 389.7h.80v.80h-.80zM213.0 398.0h.80v.80h-.80zM224.5 398.8h.80v.80h-.80zM220.2 396.4h.80v.80h-.80zM215.5 396.3h.80v.80h-.80zM209.5 381.6h.80v.80h-.80zM199.5 395.0h.80v.80h-.80zM214.1 393.2h.80v.80h-.80zM206.8 389.6h.80v.80h-.80zM202.1 399.9h.80v.80h-.80zM199.4 402.6h.80v.80h-.80zM207.6 408.2h.80v.80h-.80zM213.8 390.6h.80v.80h-.80zM211.4 389.6h.80v.80h-.80zM220.8 392.3h.80v.80h-.80zM212.1 387.1h.80v.80h-.80zM214.4 383.2h.80v.80h-.80zM205.9 400.1h.80v.80h-.80zM196.4 394.2h.80v.80h-.80zM218.3 393.1h.80v.80h-.80zM220.3 400.1h.80v.80h-.80zM213.7 382.5h.80v.80h-.80zM207.1 390.3h.80v.80h-.80zM217.0 391.7h.80v.80h-.80zM208.2 384.2h.80v.80h-.80zM208.7 393.5h.80v.80h-.80zM193.5 391.6h.80v.80h-.80zM212.4 390.3h.80v.80h-.80zM208.8 388.4h.80v.80h-.80zM215.8 388.4h.80v.80h-.80zM217.8 394.0h.80v.80h-.80zM196.9 390.0h.80v.80h-.80zM211.6 397.0h.80v.80h-.80zM210.5 391.0h.80v.80h-.80zM215.2 401.6h.80v.80h-.80zM197.6 388.0h.80v.80h-.80zM221.1 393.6h.80v.80h-.80zM203.2 402.4h.80v.80h-.80zM223.1 390.5h.80v.80h-.80zM214.9 392.1h.80v.80h-.80zM212.3 398.0h.80v.80h-.80zM208.1 391.5h.80v.80h-.80zM207.8 381.4h.80v.80h-.80zM212.9 397.0h.80v.80h-.80zM210.9 392.2h.80v.80h-.80zM215.3 387.6h.80v.80h-.80zM202.7 394.7h.80v.80h-.80zM210.8 402.6h.80v.80h-.80zM200.2 391.6h.80v.80h-.80zM201.5 404.9h.80v.80h-.80zM207.1 396.6h.80v.80h-.80zM194.9 386.0h.80v.80h-.80zM215.0 389.4h.80v.80h-.80zM205.7 396.1h.80v.80h-.80zM210.7 392.7h.80v.80h-.80zM211.7 389.0h.80v.80h-.80zM220.3 398.3h.80v.80h-.80zM209.1 389.8h.80v.80h-.80zM197.5 385.1h.80v.80h-.80zM218.9 384.8h.80v.80h-.80zM207.2 402.3h.80v.80h-.80zM217.2 394.2h.80v.80h-.80zM212.8 390.1h.80v.80h-.80zM211.3 392.4h.80v.80h-.80zM219.0 396.8h.80v.80h-.80zM205.2 400.9h.80v.80h-.80zM215.9 399.1h.80v.80h-.80zM218.8 397.2h.80v.80h-.80zM211.8 400.5h.80v.80h-.80zM218.3 391.1h.80v.80h-.80zM209.5 394.2h.80v.80h-.80zM214.1 392.4h.80v.80h-.80zM201.3 399.9h.80v.80h-.80zM206.1 385.6h.80v.80h-.80zM204.9 392.9h.80v.80h-.80zM209.0 378.4h.80v.80h-.80zM200.0 382.7h.80v.80h-.80zM205.2 393.1h.80v.80h-.80zM205.9 404.2h.80v.80h-.80zM216.1 401.2h.80v.80h-.80zM215.2 384.7h.80v.80h-.80zM213.6 383.5h.80v.80h-.80zM203.8 393.9h.80v.80h-.80zM210.8 396.4h.80v.80h-.80zM208.9 399.3h.80v.80h-.80zM216.1 394.9h.80v.80h-.80zM206.0 389.2h.80v.80h-.80zM217.9 410.4h.80v.80h-.80zM207.9 394.1h.80v.80h-.80zM205.2 378.0h.80v.80h-.80zM215.1 394.0h.80v.80h-.80zM215.6 389.1h.80v.80h-.80zM205.4 402.0h.80v.80h-.80zM204.8 397.2h.80v.80h-.80zM217.3 392.8h.80v.80h-.80zM207.1 394.3h.80v.80h-.80zM199.0 391.1h.80v.80h-.80zM208.3 384.2h.80v.80h-.80zM208.8 398.2h.80v.80h-.80zM226.2 386.1h.80v.80h-.80zM213.7 395.4h.80v.80h-.80zM208.9 389.3h.80v.80h-.80zM214.2 397.3h.80v.80h-.80zM201.3 402.1h.80v.80h-.80zM209.9 393.5h.80v.80h-.80zM207.1 400.3h.80v.80h-.80zM202.0 389.9h.80v.80h-.80zM211.7 387.2h.80v.80h-.80zM209.2 395.9h.80v.80h-.80zM218.6 391.7h.80v.80h-.80zM207.6 395.6h.80v.80h-.80zM211.5 386.4h.80v.80h-.80zM216.5 391.0h.80v.80h-.80zM204.8 398.6h.80v.80h-.80zM214.6 388.0h.80v.80h-.80zM215.3 388.5h.80v.80h-.80zM207.0 386.6h.80v.80h-.80zM216.3 391.8h.80v.80h-.80zM214.6 384.7h.80v.80h-.80zM207.7 382.3h.80v.80h-.80zM206.1 390.0h.80v.80h-.80zM209.1 383.0h.80v.80h-.80zM217.3 382.4h.80v.80h-.80zM218.2 391.5h.80v.80h-.80zM217.3 386.1h.80v.80h-.80zM211.0 395.8h.80v.80h-.80zM224.9 395.0h.80v.80h-.80zM222.3 394.8h.80v.80h-.80zM220.2 392.9h.80v.80h-.80zM211.7 398.8h.80v.80h-.80zM202.9 383.4h.80v.80h-.80zM212.6 406.4h.80v.80h-.80zM221.3 394.1h.80v.80h-.80zM215.8 394.9h.80v.80h-.80zM214.4 402.3h.80v.80h-.80zM204.1 386.4h.80v.80h-.80zM198.8 388.3h.80v.80h-.80zM218.6 393.2h.80v.80h-.80zM203.6 378.3h.80v.80h-.80zM187.9 393.1h.80v.80h-.80zM198.6 387.5h.80v.80h-.80zM187.7 389.2h.80v.80h-.80zM184.9 392.1h.80v.80h-.80zM205.7 374.5h.80v.80h-.80zM205.5 378.0h.80v.80h-.80zM208.9 376.3h.80v.80h-.80zM193.6 384.0h.80v.80h-.80zM183.7 391.1h.80v.80h-.80zM192.6 393.4h.80v.80h-.80zM195.8 384.5h.80v.80h-.80zM186.9 391.6h.80v.80h-.80zM196.6 383.7h.80v.80h-.80zM201.1 377.6h.80v.80h-.80zM196.6 386.2h.80v.80h-.80zM206.9 376.7h.80v.80h-.80zM197.9 382.5h.80v.80h-.80zM188.9 392.6h.80v.80h-.80zM194.1 386.6h.80v.80h-.80zM200.3 385.7h.80v.80h-.80zM191.6 392.2h.80v.80h-.80zM189.7 392.7h.80v.80h-.80zM204.2 378.0h.80v.80h-.80zM204.6 382.3h.80v.80h-.80zM201.3 385.0h.80v.80h-.80zM191.0 393.2h.80v.80h-.80zM188.7 388.2h.80v.80h-.80zM195.4 386.1h.80v.80h-.80zM201.0 384.2h.80v.80h-.80zM193.0 389.6h.80v.80h-.80zM207.8 378.7h.80v.80h-.80zM201.8 378.3h.80v.80h-.80zM184.9 389.2h.80v.80h-.80zM199.7 382.4h.80v.80h-.80zM201.4 378.9h.80v.80h-.80zM206.8 378.7h.80v.80h-.80zM197.6 379.6h.80v.80h-.80zM187.3 392.5h.80v.80h-.80zM182.8 395.1h.80v.80h-.80zM194.3 385.6h.80v.80h-.80zM206.8 373.8h.80v.80h-.80zM181.8 396.1h.80v.80h-.80zM189.2 392.5h.80v.80h-.80zM203.7 377.7h.80v.80h-.80zM188.1 391.0h.80v.80h-.80zM178.8 396.9h.80v.80h-.80zM186.4 390.2h.80v.80h-.80zM198.2 385.4h.80v.80h-.80zM207.6 372.3h.80v.80h-.80zM205.5 376.1h.80v.80h-.80zM206.5 381.5h.80v.80h-.80zM207.4 376.1h.80v.80h-.80zM189.8 387.9h.80v.80h-.80zM203.4 380.6h.80v.80h-.80zM205.1 378.7h.80v.80h-.80zM184.4 391.0h.80v.80h-.80zM190.6 392.2h.80v.80h-.80zM208.3 373.4h.80v.80h-.80zM196.9 381.2h.80v.80h-.80zM196.7 381.6h.80v.80h-.80zM192.8 387.6h.80v.80h-.80zM182.7 393.5h.80v.80h-.80zM182.1 397.3h.80v.80h-.80zM200.4 385.2h.80v.80h-.80zM201.3 382.2h.80v.80h-.80zM182.4 394.3h.80v.80h-.80zM197.5 381.3h.80v.80h-.80zM189.5 387.8h.80v.80h-.80zM204.0 377.4h.80v.80h-.80zM201.4 387.7h.80v.80h-.80zM194.5 386.7h.80v.80h-.80zM208.2 377.2h.80v.80h-.80zM203.3 375.7h.80v.80h-.80zM179.3 394.8h.80v.80h-.80zM187.5 386.9h.80v.80h-.80zM199.7 384.7h.80v.80h-.80zM192.2 386.1h.80v.80h-.80zM189.2 392.4h.80v.80h-.80zM202.2 376.6h.80v.80h-.80zM205.1 381.3h.80v.80h-.80zM204.1 376.2h.80v.80h-.80zM187.4 393.0h.80v.80h-.80zM205.5 381.3h.80v.80h-.80zM196.9 377.2h.80v.80h-.80zM181.0 393.2h.80v.80h-.80zM200.6 380.9h.80v.80h-.80zM182.8 395.3h.80v.80h-.80zM196.9 379.5h.80v.80h-.80zM196.8 382.1h.80v.80h-.80zM186.5 394.3h.80v.80h-.80zM200.9 384.8h.80v.80h-.80zM187.5 386.6h.80v.80h-.80zM194.7 391.1h.80v.80h-.80zM203.4 384.0h.80v.80h-.80zM180.2 393.8h.80v.80h-.80zM197.4 380.2h.80v.80h-.80zM194.5 389.7h.80v.80h-.80zM206.5 373.1h.80v.80h-.80zM183.0 395.8h.80v.80h-.80zM180.8 396.6h.80v.80h-.80zM205.3 376.4h.80v.80h-.80zM197.1 387.1h.80v.80h-.80zM188.1 386.9h.80v.80h-.80zM191.2 386.4h.80v.80h-.80zM208.1 382.5h.80v.80h-.80zM189.9 391.4h.80v.80h-.80zM189.0 390.5h.80v.80h-.80zM191.8 387.6h.80v.80h-.80zM189.9 385.3h.80v.80h-.80zM192.6 386.3h.80v.80h-.80zM204.5 380.5h.80v.80h-.80zM190.6 386.9h.80v.80h-.80zM199.0 382.8h.80v.80h-.80zM199.8 380.3h.80v.80h-.80zM206.2 375.5h.80v.80h-.80zM185.9 393.1h.80v.80h-.80zM204.4 378.7h.80v.80h-.80zM189.3 384.0h.80v.80h-.80zM197.4 383.0h.80v.80h-.80zM190.0 386.5h.80v.80h-.80zM187.2 392.1h.80v.80h-.80zM187.4 395.7h.80v.80h-.80zM187.4 393.5h.80v.80h-.80zM202.1 379.9h.80v.80h-.80zM197.0 385.7h.80v.80h-.80zM193.5 384.8h.80v.80h-.80zM201.4 381.7h.80v.80h-.80zM200.3 380.9h.80v.80h-.80zM206.4 377.8h.80v.80h-.80zM208.1 379.0h.80v.80h-.80zM208.9 375.5h.80v.80h-.80zM193.0 386.0h.80v.80h-.80zM196.9 384.6h.80v.80h-.80zM187.3 389.3h.80v.80h-.80zM199.1 386.6h.80v.80h-.80zM196.5 382.2h.80v.80h-.80zM192.4 381.8h.80v.80h-.80zM196.3 386.5h.80v.80h-.80zM208.6 379.6h.80v.80h-.80zM171.3 405.5h.80v.80h-.80zM230.0 371.1h.80v.80h-.80zM174.6 384.8h.80v.80h-.80zM218.4 386.1h.80v.80h-.80zM209.5 405.4h.80v.80h-.80zM198.7 396.7h.80v.80h-.80zM195.2 409.1h.80v.80h-.80zM230.2 369.1h.80v.80h-.80zM194.0 409.4h.80v.80h-.80zM181.4 396.0h.80v.80h-.80zM176.8 377.2h.80v.80h-.80zM217.0 378.9h.80v.80h-.80zM224.5 397.6h.80v.80h-.80zM187.4 399.2h.80v.80h-.80zM188.6 388.6h.80v.80h-.80zM190.2 377.4h.80v.80h-.80zM227.3 370.6h.80v.80h-.80zM190.8 398.2h.80v.80h-.80zM217.1 393.4h.80v.80h-.80zM173.6 366.7h.80v.80h-.80zM188.2 369.0h.80v.80h-.80zM179.8 391.4h.80v.80h-.80zM194.3 402.0h.80v.80h-.80zM229.9 369.0h.80v.80h-.80zM214.0 388.2h.80v.80h-.80zM197.1 374.4h.80v.80h-.80zM168.5 408.2h.80v.80h-.80zM189.9 387.6h.80v.80h-.80zM208.9 382.3h.80v.80h-.80zM195.0 376.3h.80v.80h-.80zM170.6 389.7h.80v.80h-.80zM230.9 374.0h.80v.80h-.80zM180.4 365.2h.80v.80h-.80zM222.7 404.6h.80v.80h-.80zM206.5 394.0h.80v.80h-.80zM204.3 395.6h.80v.80h-.80zM183.0 408.6h.80v.80h-.80zM208.4 404.9h.80v.80h-.80zM228.2 366.9h.80v.80h-.80zM230.8 405.7h.80v.80h-.80zM180.2 402.5h.80v.80h-.80zM177.5 363.5h.80v.80h-.80zM210.1 373.4h.80v.80h-.80zM210.0 386.3h.80v.80h-.80zM190.6 363.9h.80v.80h-.80zM218.2 391.3h.80v.80h-.80zM171.1 398.3h.80v.80h-.80zM186.2 409.0h.80v.80h-.80zM208.4 396.5h.80v.80h-.80zM229.4 406.9h.80v.80h-.80z"/>
<defs><clipPath id="cF"><rect x="160.5" y="329.5" width="85.0" height="83.0"/></clipPath></defs>
<g fill="none" stroke="#555" stroke-width="0.4" stroke-opacity="0.6" stroke-linejoin="round" clip-path="url(#cF)"><path d="M214.4,406.3 213.4,406.4 209.6,406.0 207.6,405.7 205.6,405.5 204.2,405.0 203.5,404.4 202.4,403.0 200.7,401.4 199.8,400.4 199.0,399.0 198.4,396.8 198.2,396.2 197.3,395.2 196.2,394.6 195.4,394.5 194.4,394.6 193.4,395.1 190.6,396.6 189.2,397.1 188.2,397.3 187.0,397.2 185.8,396.7 185.2,396.2 184.7,395.4 184.7,394.6 184.8,393.6 185.3,392.4 185.9,391.2 186.6,390.2 191.4,384.6 194.4,382.0 196.7,379.6 199.0,377.0 200.6,375.5 202.0,374.5 203.8,373.5 205.0,372.9 206.2,372.5 207.8,372.3 211.6,372.5 212.6,372.6 213.4,372.9 214.2,373.3 215.6,374.5 216.4,375.6 218.5,379.0 219.2,381.4 219.6,382.2 221.5,384.6 222.5,386.2 222.9,387.2 223.4,389.6 224.1,392.0 224.3,393.6 224.0,395.8 223.3,398.0 222.4,399.6 221.0,401.4 219.0,403.5 214.4,406.3Z"/><path d="M214.0,404.7 212.6,404.8 210.6,404.6 208.2,403.9 206.2,403.5 205.4,403.1 204.3,402.0 202.3,400.4 201.0,398.2 200.2,396.0 199.7,395.2 198.7,394.2 197.4,393.4 196.0,393.1 194.2,393.4 192.6,394.1 190.4,395.5 189.6,395.8 189.0,395.8 188.2,395.7 187.6,395.4 187.0,394.8 186.6,394.0 186.5,393.4 186.6,392.6 186.9,391.8 187.3,391.0 190.3,387.4 192.1,385.0 197.4,380.1 199.5,377.6 200.8,376.4 202.2,375.3 203.8,374.3 205.0,373.7 206.0,373.3 207.6,373.2 211.8,373.5 213.0,373.9 214.0,374.6 215.4,376.3 216.9,378.8 217.4,379.8 218.3,382.4 220.9,386.4 221.4,387.4 221.8,388.6 222.3,390.8 222.8,392.6 222.8,393.8 222.3,396.2 221.1,399.2 220.0,400.8 218.6,402.1 215.2,404.2 214.0,404.7Z"/><path d="M213.8,403.4 212.6,403.6 211.4,403.5 207.8,402.4 206.9,402.0 205.6,401.0 203.6,399.8 202.8,398.9 202.1,397.8 201.8,397.0 201.4,395.0 200.8,393.7 200.1,392.8 199.2,392.2 198.4,392.0 197.4,391.9 195.2,392.2 191.6,393.0 190.0,393.8 189.4,394.0 188.8,393.7 188.4,393.1 188.4,392.2 188.9,391.0 192.7,385.4 195.8,382.4 198.2,380.4 200.1,378.0 201.3,376.8 203.8,375.0 205.6,374.2 206.4,374.0 207.4,374.0 211.2,374.4 212.4,374.7 213.2,375.3 214.6,377.1 215.5,378.6 217.1,382.2 219.9,387.6 220.3,388.6 221.1,393.0 221.1,394.2 220.7,395.8 219.7,398.0 219.1,399.8 218.6,400.6 217.6,401.4 215.0,403.0 213.8,403.4Z"/><path d="M213.0,402.8 212.2,402.8 211.4,402.7 208.4,401.6 207.6,401.2 206.3,400.2 204.6,399.4 203.8,398.8 203.1,398.0 202.7,397.2 202.2,394.6 201.6,393.0 201.0,392.0 200.2,391.3 199.2,391.0 197.8,391.0 194.2,391.6 192.8,391.7 192.2,391.6 191.6,391.3 191.2,391.0 191.0,390.6 191.0,389.8 191.3,389.0 192.6,386.6 193.5,385.4 196.2,382.8 198.8,380.6 200.8,378.0 201.8,377.0 204.0,375.4 205.6,374.7 207.2,374.6 210.4,375.0 211.6,375.4 212.6,376.2 214.0,377.9 214.7,379.0 215.7,381.4 217.2,384.2 218.1,386.8 219.0,388.4 219.3,389.2 219.7,393.4 219.7,394.6 219.4,395.6 217.9,398.0 217.4,399.8 217.0,400.4 216.1,401.2 214.7,402.2 213.8,402.6 213.0,402.8Z"/><path d="M212.8,402.2 211.6,402.1 210.2,401.6 208.6,400.8 206.9,399.6 205.0,398.8 204.1,398.2 203.6,397.6 203.3,397.0 203.0,394.6 202.6,393.4 201.6,391.3 200.8,390.5 200.0,390.2 198.6,390.2 193.8,390.9 192.8,390.7 192.5,390.4 192.2,390.0 192.2,389.2 192.6,388.2 193.4,386.6 194.3,385.4 196.6,383.0 199.2,380.8 201.1,378.2 202.0,377.3 203.8,376.0 205.4,375.3 206.2,375.1 207.0,375.1 209.8,375.6 211.0,376.0 212.0,376.8 213.7,379.0 214.0,379.8 214.6,381.8 216.4,384.3 216.8,385.4 217.2,387.4 218.1,389.0 218.4,389.8 218.6,391.2 218.6,392.8 218.3,394.2 217.9,395.4 215.7,399.8 215.2,400.6 214.7,401.2 214.0,401.8 213.4,402.1 212.8,402.2Z"/><path d="M212.6,401.6 211.8,401.6 210.8,401.2 207.6,399.2 205.2,398.2 204.4,397.6 203.9,396.8 203.6,394.2 202.5,391.2 202.0,390.2 201.4,389.6 200.8,389.4 200.2,389.3 194.6,390.2 193.8,390.0 193.5,389.8 193.2,389.4 193.3,388.6 193.7,387.4 194.1,386.4 194.8,385.5 196.9,383.4 199.6,381.0 201.5,378.4 202.2,377.6 203.6,376.5 205.2,375.8 206.6,375.6 209.6,376.1 210.8,376.7 211.8,377.6 212.6,378.8 213.1,379.8 213.2,380.6 213.2,382.0 213.3,382.4 213.7,383.0 215.2,384.2 215.7,384.8 216.0,385.8 216.4,388.0 217.6,390.2 217.7,391.4 217.6,392.6 216.6,395.2 216.0,397.2 214.0,400.8 213.4,401.4 212.6,401.6Z"/><path d="M212.4,401.0 211.8,400.9 211.2,400.7 208.6,398.9 205.8,397.8 204.9,397.2 204.6,396.8 204.4,396.2 204.2,394.4 203.8,392.2 203.7,390.2 203.4,389.8 202.7,389.2 201.6,388.7 200.8,388.5 200.0,388.6 198.0,389.2 195.6,389.5 194.6,389.3 194.4,389.2 194.2,388.8 194.1,388.2 194.4,387.2 194.7,386.4 195.3,385.6 199.9,381.2 201.7,378.6 202.4,377.8 203.6,376.9 205.0,376.2 205.6,376.1 206.4,376.1 209.2,376.6 210.4,377.1 211.3,378.0 212.0,379.0 212.3,380.0 212.3,380.8 212.0,382.2 212.1,383.0 212.6,383.7 214.2,384.8 214.8,385.4 215.1,386.2 215.6,388.4 216.6,390.0 216.9,390.6 217.0,391.4 216.9,392.4 216.0,394.8 215.3,397.0 213.4,400.4 213.0,400.8 212.4,401.0Z"/><path d="M212.4,400.1 212.0,400.1 211.4,399.9 209.8,398.6 209.2,398.2 206.0,397.2 205.5,396.8 205.2,396.4 205.0,395.6 204.7,393.6 204.7,392.8 204.7,392.2 205.0,391.7 205.4,391.2 206.8,390.4 206.9,390.2 206.9,389.8 206.0,388.2 205.6,387.8 205.0,387.7 203.8,388.1 203.2,388.2 201.2,387.8 200.4,387.8 198.1,388.6 196.6,388.8 195.6,388.8 195.2,388.5 195.0,388.2 194.9,387.6 195.1,387.0 195.4,386.4 195.8,385.8 200.2,381.4 202.0,378.8 202.6,378.0 203.6,377.2 204.8,376.7 206.0,376.5 209.0,377.1 210.0,377.5 210.8,378.2 211.3,379.0 211.6,380.0 211.5,380.8 211.1,382.8 211.2,383.8 211.6,384.4 212.9,385.6 213.6,386.4 214.8,388.9 215.9,390.4 216.2,391.0 216.4,391.8 216.2,392.6 215.4,394.6 214.8,396.6 213.0,399.6 212.4,400.1Z"/><path d="M212.2,398.5 211.6,398.5 209.4,397.3 206.8,396.8 206.2,396.4 205.7,395.8 205.5,395.0 205.3,393.8 205.4,393.0 205.6,392.5 206.0,392.1 206.4,391.9 208.0,391.9 208.5,391.8 209.0,391.2 209.3,390.2 209.3,389.8 209.2,389.4 208.8,389.1 207.8,388.5 207.4,388.1 207.0,386.8 206.7,386.4 206.2,386.3 205.4,386.4 203.8,387.2 203.0,387.4 201.0,387.0 200.2,387.1 199.4,387.3 198.0,388.0 197.2,388.2 196.2,388.1 196.0,388.0 195.8,387.6 195.8,387.0 196.2,386.2 197.9,384.6 200.6,381.5 202.8,378.3 203.6,377.6 204.4,377.2 205.2,377.0 205.8,377.0 208.6,377.5 209.6,377.8 210.4,378.5 210.8,379.4 210.9,380.4 210.6,381.6 209.7,384.4 209.7,385.0 211.2,386.1 213.0,387.6 215.5,391.2 215.7,391.8 215.6,392.6 214.3,396.2 213.6,397.3 212.8,398.0 212.2,398.5Z"/><path d="M203.2,386.4 202.4,386.5 200.6,386.0 199.2,385.9 199.0,385.8 198.9,385.6 199.1,384.8 199.7,383.6 201.4,381.3 202.9,378.8 203.4,378.2 204.0,377.8 205.2,377.5 208.4,378.0 209.4,378.4 210.0,379.2 210.2,380.2 209.9,381.6 209.2,383.0 208.4,383.8 207.2,384.6 205.0,385.5 203.2,386.4Z"/><path d="M212.4,396.6 211.4,396.7 209.8,396.3 207.2,395.9 206.8,395.6 206.4,395.2 206.1,394.2 206.2,393.6 206.6,393.1 207.2,393.0 208.6,393.2 209.0,393.1 209.4,392.8 211.0,389.4 211.4,388.8 211.8,388.7 212.4,388.9 213.0,389.4 214.1,391.4 214.4,392.2 214.2,393.8 213.8,395.3 213.2,396.2 212.4,396.6Z"/><path d="M203.0,385.0 202.4,384.9 202.0,384.6 201.6,384.0 201.6,383.4 202.9,380.0 203.6,378.8 204.4,378.3 205.4,378.2 208.0,378.6 208.6,378.8 209.0,379.1 209.4,379.8 209.4,380.6 209.0,381.6 208.4,382.5 207.4,383.3 206.2,384.0 203.0,385.0Z"/><path d="M205.8,383.1 205.2,383.1 204.8,383.1 204.2,382.7 203.8,382.2 203.6,381.8 203.5,381.2 203.6,380.4 203.8,379.8 204.4,379.2 205.0,379.0 207.0,379.1 208.0,379.4 208.4,379.8 208.6,380.2 208.5,380.6 208.3,381.2 208.0,381.7 207.4,382.2 205.8,383.1Z"/></g>
<g fill="none" stroke="#333" stroke-width="0.5" stroke-opacity="0.85" stroke-linejoin="round" clip-path="url(#cF)"><path d="M214.8,409.0 213.0,409.2 207.6,409.0 205.8,408.5 203.4,407.4 201.6,406.2 200.0,404.6 197.3,401.4 195.5,398.2 195.1,397.8 194.6,397.5 193.8,397.4 192.8,397.6 187.6,399.3 185.8,399.8 184.4,400.0 183.4,399.9 182.4,399.6 181.7,399.0 181.3,398.2 181.3,397.2 181.5,396.0 182.1,394.4 182.9,392.8 184.8,390.0 188.2,386.2 190.3,384.0 193.6,381.0 197.3,376.6 199.6,374.3 201.0,373.3 202.4,372.5 204.4,371.7 206.2,371.1 209.2,370.7 211.6,370.7 213.0,370.8 214.0,370.9 215.0,371.3 215.8,371.7 216.6,372.3 217.8,373.8 224.5,384.8 225.7,387.2 226.4,389.4 226.7,392.2 226.6,395.4 225.9,398.2 225.5,399.4 224.9,400.6 222.9,403.2 221.8,404.4 220.6,405.5 216.8,408.1 215.8,408.7 214.8,409.0Z"/></g>
<rect x="192.40" y="349.00" width="45.60" height="63.00" stroke="#2a2a2a" stroke-width="0.9" fill="none"/>
<text x="224.00" y="340.20" font-size="8.0" text-anchor="middle" fill="#222" stroke="#222" stroke-width="0.28">94.6</text>
<text x="261.60" y="324.85" font-size="10.4" text-anchor="start" fill="#111" font-weight="bold" stroke="#111" stroke-width="0.4">G</text>
<line x1="290.60" y1="332.50" x2="293.00" y2="332.50" stroke="#1a1a1a" stroke-width="0.8"/>
<text x="287.50" y="335.20" font-size="7.7" text-anchor="end" fill="#222" stroke="#222" stroke-width="0.28">100</text>
<line x1="290.60" y1="348.60" x2="293.00" y2="348.60" stroke="#1a1a1a" stroke-width="0.8"/>
<text x="287.50" y="351.30" font-size="7.7" text-anchor="end" fill="#222" stroke="#222" stroke-width="0.28">80</text>
<line x1="290.60" y1="364.70" x2="293.00" y2="364.70" stroke="#1a1a1a" stroke-width="0.8"/>
<text x="287.50" y="367.40" font-size="7.7" text-anchor="end" fill="#222" stroke="#222" stroke-width="0.28">60</text>
<line x1="290.60" y1="380.80" x2="293.00" y2="380.80" stroke="#1a1a1a" stroke-width="0.8"/>
<text x="287.50" y="383.50" font-size="7.7" text-anchor="end" fill="#222" stroke="#222" stroke-width="0.28">40</text>
<line x1="290.60" y1="396.90" x2="293.00" y2="396.90" stroke="#1a1a1a" stroke-width="0.8"/>
<text x="287.50" y="399.60" font-size="7.7" text-anchor="end" fill="#222" stroke="#222" stroke-width="0.28">20</text>
<line x1="290.60" y1="413.00" x2="293.00" y2="413.00" stroke="#1a1a1a" stroke-width="0.8"/>
<text x="287.50" y="415.70" font-size="7.7" text-anchor="end" fill="#222" stroke="#222" stroke-width="0.28">0</text>
<line x1="291.80" y1="332.50" x2="293.00" y2="332.50" stroke="#333" stroke-width="0.4"/>
<line x1="291.80" y1="335.72" x2="293.00" y2="335.72" stroke="#333" stroke-width="0.4"/>
<line x1="291.80" y1="338.94" x2="293.00" y2="338.94" stroke="#333" stroke-width="0.4"/>
<line x1="291.80" y1="342.16" x2="293.00" y2="342.16" stroke="#333" stroke-width="0.4"/>
<line x1="291.80" y1="345.38" x2="293.00" y2="345.38" stroke="#333" stroke-width="0.4"/>
<line x1="291.80" y1="348.60" x2="293.00" y2="348.60" stroke="#333" stroke-width="0.4"/>
<line x1="291.80" y1="351.82" x2="293.00" y2="351.82" stroke="#333" stroke-width="0.4"/>
<line x1="291.80" y1="355.04" x2="293.00" y2="355.04" stroke="#333" stroke-width="0.4"/>
<line x1="291.80" y1="358.26" x2="293.00" y2="358.26" stroke="#333" stroke-width="0.4"/>
<line x1="291.80" y1="361.48" x2="293.00" y2="361.48" stroke="#333" stroke-width="0.4"/>
<line x1="291.80" y1="364.70" x2="293.00" y2="364.70" stroke="#333" stroke-width="0.4"/>
<line x1="291.80" y1="367.92" x2="293.00" y2="367.92" stroke="#333" stroke-width="0.4"/>
<line x1="291.80" y1="371.14" x2="293.00" y2="371.14" stroke="#333" stroke-width="0.4"/>
<line x1="291.80" y1="374.36" x2="293.00" y2="374.36" stroke="#333" stroke-width="0.4"/>
<line x1="291.80" y1="377.58" x2="293.00" y2="377.58" stroke="#333" stroke-width="0.4"/>
<line x1="291.80" y1="380.80" x2="293.00" y2="380.80" stroke="#333" stroke-width="0.4"/>
<line x1="291.80" y1="384.02" x2="293.00" y2="384.02" stroke="#333" stroke-width="0.4"/>
<line x1="291.80" y1="387.24" x2="293.00" y2="387.24" stroke="#333" stroke-width="0.4"/>
<line x1="291.80" y1="390.46" x2="293.00" y2="390.46" stroke="#333" stroke-width="0.4"/>
<line x1="291.80" y1="393.68" x2="293.00" y2="393.68" stroke="#333" stroke-width="0.4"/>
<line x1="291.80" y1="396.90" x2="293.00" y2="396.90" stroke="#333" stroke-width="0.4"/>
<line x1="291.80" y1="400.12" x2="293.00" y2="400.12" stroke="#333" stroke-width="0.4"/>
<line x1="291.80" y1="403.34" x2="293.00" y2="403.34" stroke="#333" stroke-width="0.4"/>
<line x1="291.80" y1="406.56" x2="293.00" y2="406.56" stroke="#333" stroke-width="0.4"/>
<line x1="291.80" y1="409.78" x2="293.00" y2="409.78" stroke="#333" stroke-width="0.4"/>
<text x="269.90" y="370.80" font-size="9.6" text-anchor="middle" fill="#1a1a1a" textLength="51.8" lengthAdjust="spacingAndGlyphs" transform="rotate(-90 269.90 370.80)" stroke="#1a1a1a" stroke-width="0.4">Normalized counts</text>
<text x="326.90" y="437.60" font-size="8.3" text-anchor="start" fill="#1a1a1a" textLength="17.9" lengthAdjust="spacingAndGlyphs" stroke="#1a1a1a" stroke-width="0.4">GATA3</text>
<path d="M296.00,412.80 L296.00,412.79 L296.50,412.79 L297.00,412.78 L297.50,412.77 L298.00,412.75 L298.50,412.71 L299.00,412.66 L299.50,412.57 L300.00,412.43 L300.50,412.22 L301.00,411.92 L301.50,411.47 L302.00,410.84 L302.50,409.97 L303.00,408.84 L303.50,407.24 L304.00,404.93 L304.50,402.48 L305.00,399.87 L305.50,395.59 L306.00,391.33 L306.50,385.79 L307.00,381.13 L307.50,373.61 L308.00,366.98 L308.50,358.86 L309.00,353.60 L309.50,347.23 L310.00,344.65 L310.50,334.86 L311.00,338.12 L311.50,331.73 L312.00,333.83 L312.50,335.85 L313.00,337.88 L313.50,341.39 L314.00,344.39 L314.50,350.30 L315.00,354.27 L315.50,363.90 L316.00,368.23 L316.50,374.98 L317.00,379.57 L317.50,386.60 L318.00,390.46 L318.50,394.52 L319.00,398.75 L319.50,401.24 L320.00,404.04 L320.50,406.06 L321.00,407.78 L321.50,409.19 L322.00,410.20 L322.50,410.95 L323.00,411.51 L323.50,411.92 L324.00,412.20 L324.50,412.40 L325.00,412.54 L325.50,412.63 L326.00,412.69 L326.50,412.73 L327.00,412.76 L327.00,412.80Z" fill="#c2d2e2" stroke="#3f6484" stroke-width="0.7"/>
<path d="M312.00,412.80 L312.00,412.80 L312.50,412.80 L313.00,412.80 L313.50,412.79 L314.00,412.79 L314.50,412.79 L315.00,412.78 L315.50,412.77 L316.00,412.76 L316.50,412.74 L317.00,412.72 L317.50,412.68 L318.00,412.64 L318.50,412.57 L319.00,412.49 L319.50,412.38 L320.00,412.24 L320.50,412.05 L321.00,411.81 L321.50,411.51 L322.00,411.12 L322.50,410.64 L323.00,410.04 L323.50,409.30 L324.00,408.48 L324.50,407.48 L325.00,406.09 L325.50,404.49 L326.00,402.58 L326.50,400.75 L327.00,398.63 L327.50,396.13 L328.00,392.65 L328.50,388.98 L329.00,386.09 L329.50,383.21 L330.00,379.10 L330.50,372.99 L331.00,369.69 L331.50,367.06 L332.00,361.04 L332.50,357.86 L333.00,353.06 L333.50,348.91 L334.00,345.56 L334.50,340.50 L335.00,338.57 L335.50,337.12 L336.00,333.91 L336.50,332.23 L337.00,335.82 L337.50,333.87 L338.00,335.77 L338.50,335.76 L339.00,339.18 L339.50,339.38 L340.00,342.05 L340.50,345.34 L341.00,349.51 L341.50,352.12 L342.00,356.55 L342.50,360.55 L343.00,362.74 L343.50,367.87 L344.00,369.73 L344.50,373.95 L345.00,379.56 L345.50,381.53 L346.00,385.66 L346.50,388.17 L347.00,391.10 L347.50,394.58 L348.00,396.38 L348.50,398.62 L349.00,400.33 L349.50,402.62 L350.00,403.83 L350.50,405.53 L351.00,406.62 L351.50,407.72 L352.00,408.41 L352.50,409.30 L353.00,409.95 L353.50,410.49 L354.00,410.94 L354.50,411.32 L355.00,411.62 L355.50,411.87 L356.00,412.07 L356.50,412.23 L357.00,412.36 L357.50,412.46 L358.00,412.54 L358.50,412.61 L359.00,412.65 L359.50,412.69 L360.00,412.72 L360.50,412.74 L361.00,412.76 L361.50,412.77 L362.00,412.78 L362.50,412.78 L363.00,412.79 L363.50,412.79 L364.00,412.79 L364.50,412.80 L365.00,412.80 L365.50,412.80 L366.00,412.80 L366.00,412.80Z" fill="#f2b3c2" stroke="#b83a58" stroke-width="0.7"/>
<line x1="293.00" y1="328.75" x2="293.00" y2="413.40" stroke="#1a1a1a" stroke-width="1.0"/>
<line x1="292.60" y1="413.00" x2="372.50" y2="413.00" stroke="#1a1a1a" stroke-width="1.0"/>
<line x1="307.50" y1="413.00" x2="307.50" y2="415.00" stroke="#1a1a1a" stroke-width="0.8"/>
<text x="307.50" y="425.60" font-size="7.2" text-anchor="middle" fill="#222" stroke="#222" stroke-width="0.28">0</text>
<line x1="330.50" y1="413.00" x2="330.50" y2="415.00" stroke="#1a1a1a" stroke-width="0.8"/>
<text x="330.70" y="425.60" font-size="6.6" text-anchor="middle" fill="#222" stroke="#222" stroke-width="0.28">10<tspan font-size="4.0" dy="-2.51">3</tspan></text>
<line x1="350.00" y1="413.00" x2="350.00" y2="415.00" stroke="#1a1a1a" stroke-width="0.8"/>
<text x="350.20" y="425.60" font-size="6.6" text-anchor="middle" fill="#222" stroke="#222" stroke-width="0.28">10<tspan font-size="4.0" dy="-2.51">4</tspan></text>
<line x1="370.00" y1="413.00" x2="370.00" y2="415.00" stroke="#1a1a1a" stroke-width="0.8"/>
<text x="370.20" y="425.60" font-size="6.6" text-anchor="middle" fill="#222" stroke="#222" stroke-width="0.28">10<tspan font-size="4.0" dy="-2.51">5</tspan></text>
<line x1="295.00" y1="413.00" x2="295.00" y2="414.10" stroke="#333" stroke-width="0.4"/>
<line x1="297.60" y1="413.00" x2="297.60" y2="414.10" stroke="#333" stroke-width="0.4"/>
<line x1="300.20" y1="413.00" x2="300.20" y2="414.10" stroke="#333" stroke-width="0.4"/>
<line x1="302.80" y1="413.00" x2="302.80" y2="414.10" stroke="#333" stroke-width="0.4"/>
<line x1="305.40" y1="413.00" x2="305.40" y2="414.10" stroke="#333" stroke-width="0.4"/>
<line x1="308.00" y1="413.00" x2="308.00" y2="414.10" stroke="#333" stroke-width="0.4"/>
<line x1="310.60" y1="413.00" x2="310.60" y2="414.10" stroke="#333" stroke-width="0.4"/>
<line x1="313.20" y1="413.00" x2="313.20" y2="414.10" stroke="#333" stroke-width="0.4"/>
<line x1="315.80" y1="413.00" x2="315.80" y2="414.10" stroke="#333" stroke-width="0.4"/>
<line x1="318.40" y1="413.00" x2="318.40" y2="414.10" stroke="#333" stroke-width="0.4"/>
<line x1="321.00" y1="413.00" x2="321.00" y2="414.10" stroke="#333" stroke-width="0.4"/>
<line x1="323.60" y1="413.00" x2="323.60" y2="414.10" stroke="#333" stroke-width="0.4"/>
<line x1="326.20" y1="413.00" x2="326.20" y2="414.10" stroke="#333" stroke-width="0.4"/>
<line x1="328.80" y1="413.00" x2="328.80" y2="414.10" stroke="#333" stroke-width="0.4"/>
<line x1="331.40" y1="413.00" x2="331.40" y2="414.10" stroke="#333" stroke-width="0.4"/>
<line x1="334.00" y1="413.00" x2="334.00" y2="414.10" stroke="#333" stroke-width="0.4"/>
<line x1="336.60" y1="413.00" x2="336.60" y2="414.10" stroke="#333" stroke-width="0.4"/>
<line x1="339.20" y1="413.00" x2="339.20" y2="414.10" stroke="#333" stroke-width="0.4"/>
<line x1="341.80" y1="413.00" x2="341.80" y2="414.10" stroke="#333" stroke-width="0.4"/>
<line x1="344.40" y1="413.00" x2="344.40" y2="414.10" stroke="#333" stroke-width="0.4"/>
<line x1="347.00" y1="413.00" x2="347.00" y2="414.10" stroke="#333" stroke-width="0.4"/>
<line x1="349.60" y1="413.00" x2="349.60" y2="414.10" stroke="#333" stroke-width="0.4"/>
<line x1="352.20" y1="413.00" x2="352.20" y2="414.10" stroke="#333" stroke-width="0.4"/>
<line x1="354.80" y1="413.00" x2="354.80" y2="414.10" stroke="#333" stroke-width="0.4"/>
<line x1="357.40" y1="413.00" x2="357.40" y2="414.10" stroke="#333" stroke-width="0.4"/>
<line x1="360.00" y1="413.00" x2="360.00" y2="414.10" stroke="#333" stroke-width="0.4"/>
<line x1="362.60" y1="413.00" x2="362.60" y2="414.10" stroke="#333" stroke-width="0.4"/>
<line x1="365.20" y1="413.00" x2="365.20" y2="414.10" stroke="#333" stroke-width="0.4"/>
<line x1="367.80" y1="413.00" x2="367.80" y2="414.10" stroke="#333" stroke-width="0.4"/>
<line x1="370.40" y1="413.00" x2="370.40" y2="414.10" stroke="#333" stroke-width="0.4"/>
<line x1="322.60" y1="368.00" x2="356.20" y2="368.00" stroke="#444" stroke-width="0.8"/>
<line x1="322.60" y1="366.30" x2="322.60" y2="369.70" stroke="#444" stroke-width="0.8"/>
<line x1="356.20" y1="366.30" x2="356.20" y2="369.70" stroke="#444" stroke-width="0.8"/>
<text x="350.30" y="364.40" font-size="6.3" text-anchor="middle" fill="#333" stroke="#333" stroke-width="0.28">98.7</text>
<text x="393.40" y="324.85" font-size="10.4" text-anchor="start" fill="#111" font-weight="bold" stroke="#111" stroke-width="0.4">H</text>
<line x1="397.00" y1="337.25" x2="397.00" y2="391.25" stroke="#1a1a1a" stroke-width="0.9"/>
<path d="M397.00,333.75 L395.10,337.75 L398.90,337.75Z" fill="#1a1a1a"/>
<text x="399.80" y="402.90" font-size="9.1" text-anchor="middle" fill="#1a1a1a" textLength="18.9" lengthAdjust="spacingAndGlyphs" transform="rotate(-90 399.80 402.90)" stroke="#1a1a1a" stroke-width="0.4">SSC-A</text>
<text x="426.60" y="437.60" font-size="9.1" text-anchor="start" fill="#1a1a1a" textLength="37.1" lengthAdjust="spacingAndGlyphs" stroke="#1a1a1a" stroke-width="0.4">Amphiregulin</text>
<line x1="468.75" y1="435.00" x2="506.50" y2="435.00" stroke="#1a1a1a" stroke-width="0.9"/>
<path d="M510.50,435.00 L506.00,433.10 L506.00,436.90Z" fill="#1a1a1a"/>
<line x1="423.85" y1="332.50" x2="426.25" y2="332.50" stroke="#1a1a1a" stroke-width="0.8"/>
<text x="423.35" y="335.20" font-size="7.7" text-anchor="end" fill="#222" stroke="#222" stroke-width="0.28">250K</text>
<line x1="423.85" y1="348.70" x2="426.25" y2="348.70" stroke="#1a1a1a" stroke-width="0.8"/>
<text x="423.35" y="351.40" font-size="7.7" text-anchor="end" fill="#222" stroke="#222" stroke-width="0.28">200K</text>
<line x1="423.85" y1="364.70" x2="426.25" y2="364.70" stroke="#1a1a1a" stroke-width="0.8"/>
<text x="423.35" y="367.40" font-size="7.7" text-anchor="end" fill="#222" stroke="#222" stroke-width="0.28">150K</text>
<line x1="423.85" y1="380.80" x2="426.25" y2="380.80" stroke="#1a1a1a" stroke-width="0.8"/>
<text x="423.35" y="383.50" font-size="7.7" text-anchor="end" fill="#222" stroke="#222" stroke-width="0.28">100K</text>
<line x1="423.85" y1="396.90" x2="426.25" y2="396.90" stroke="#1a1a1a" stroke-width="0.8"/>
<text x="423.35" y="399.60" font-size="7.7" text-anchor="end" fill="#222" stroke="#222" stroke-width="0.28">50K</text>
<line x1="423.85" y1="413.00" x2="426.25" y2="413.00" stroke="#1a1a1a" stroke-width="0.8"/>
<text x="423.35" y="415.70" font-size="7.7" text-anchor="end" fill="#222" stroke="#222" stroke-width="0.28">0</text>
<line x1="426.25" y1="328.75" x2="426.25" y2="413.00" stroke="#cfcfcf" stroke-width="0.6"/>
<line x1="426.25" y1="413.30" x2="513.75" y2="413.30" stroke="#cfcfcf" stroke-width="0.6"/>
<line x1="437.00" y1="412.50" x2="437.00" y2="414.80" stroke="#1a1a1a" stroke-width="0.8"/>
<text x="436.20" y="425.60" font-size="6.6" text-anchor="middle" fill="#222" stroke="#222" stroke-width="0.28">10<tspan font-size="4.0" dy="-2.51">1</tspan></text>
<line x1="453.75" y1="412.50" x2="453.75" y2="414.80" stroke="#1a1a1a" stroke-width="0.8"/>
<text x="452.95" y="425.60" font-size="6.6" text-anchor="middle" fill="#222" stroke="#222" stroke-width="0.28">10<tspan font-size="4.0" dy="-2.51">2</tspan></text>
<line x1="471.00" y1="412.50" x2="471.00" y2="414.80" stroke="#1a1a1a" stroke-width="0.8"/>
<text x="470.20" y="425.60" font-size="6.6" text-anchor="middle" fill="#222" stroke="#222" stroke-width="0.28">10<tspan font-size="4.0" dy="-2.51">3</tspan></text>
<line x1="488.50" y1="412.50" x2="488.50" y2="414.80" stroke="#1a1a1a" stroke-width="0.8"/>
<text x="487.70" y="425.60" font-size="6.6" text-anchor="middle" fill="#222" stroke="#222" stroke-width="0.28">10<tspan font-size="4.0" dy="-2.51">4</tspan></text>
<line x1="505.50" y1="412.50" x2="505.50" y2="414.80" stroke="#1a1a1a" stroke-width="0.8"/>
<text x="504.70" y="425.60" font-size="6.6" text-anchor="middle" fill="#222" stroke="#222" stroke-width="0.28">10<tspan font-size="4.0" dy="-2.51">5</tspan></text>
<path fill="#b4b4b4" d="M438.8 402.3h.90v.90h-.90zM455.4 405.2h.90v.90h-.90zM458.4 351.9h.90v.90h-.90zM461.2 376.6h.90v.90h-.90zM449.1 348.2h.90v.90h-.90zM436.9 399.9h.90v.90h-.90zM463.2 397.5h.90v.90h-.90zM462.0 368.2h.90v.90h-.90zM444.6 401.2h.90v.90h-.90zM452.6 402.8h.90v.90h-.90zM451.6 401.9h.90v.90h-.90zM429.2 406.0h.90v.90h-.90zM448.8 347.8h.90v.90h-.90zM445.5 352.0h.90v.90h-.90zM454.7 406.7h.90v.90h-.90zM462.7 363.1h.90v.90h-.90zM452.4 405.0h.90v.90h-.90zM454.5 401.0h.90v.90h-.90zM443.5 358.5h.90v.90h-.90zM466.1 390.8h.90v.90h-.90zM459.2 403.7h.90v.90h-.90zM447.5 406.4h.90v.90h-.90zM466.0 364.6h.90v.90h-.90zM462.1 376.6h.90v.90h-.90zM463.6 380.1h.90v.90h-.90zM466.2 366.7h.90v.90h-.90zM460.3 376.9h.90v.90h-.90zM452.7 401.8h.90v.90h-.90zM439.9 370.4h.90v.90h-.90zM464.4 379.9h.90v.90h-.90zM433.2 385.5h.90v.90h-.90zM452.0 346.7h.90v.90h-.90zM442.7 364.2h.90v.90h-.90zM456.1 399.7h.90v.90h-.90zM436.3 375.9h.90v.90h-.90zM464.4 395.6h.90v.90h-.90zM462.9 379.1h.90v.90h-.90zM467.5 400.1h.90v.90h-.90zM457.4 347.0h.90v.90h-.90zM459.9 343.3h.90v.90h-.90zM449.9 351.0h.90v.90h-.90zM435.1 379.5h.90v.90h-.90zM456.6 344.7h.90v.90h-.90zM461.0 362.1h.90v.90h-.90zM444.5 366.5h.90v.90h-.90zM461.5 357.7h.90v.90h-.90zM459.2 403.2h.90v.90h-.90zM460.0 334.0h.90v.90h-.90zM464.2 394.1h.90v.90h-.90zM436.6 382.7h.90v.90h-.90zM465.8 401.7h.90v.90h-.90zM461.1 402.8h.90v.90h-.90zM458.7 405.4h.90v.90h-.90zM446.6 351.2h.90v.90h-.90zM464.1 365.8h.90v.90h-.90zM458.6 345.1h.90v.90h-.90zM444.8 365.8h.90v.90h-.90zM459.3 348.9h.90v.90h-.90zM443.5 364.8h.90v.90h-.90zM459.6 383.0h.90v.90h-.90zM441.1 372.4h.90v.90h-.90zM459.2 363.2h.90v.90h-.90zM466.4 372.9h.90v.90h-.90zM464.9 362.2h.90v.90h-.90zM436.5 386.5h.90v.90h-.90zM463.5 374.8h.90v.90h-.90zM457.5 347.0h.90v.90h-.90zM463.1 355.5h.90v.90h-.90zM460.7 359.2h.90v.90h-.90zM450.5 345.2h.90v.90h-.90zM466.9 356.6h.90v.90h-.90zM445.6 361.8h.90v.90h-.90zM438.6 380.2h.90v.90h-.90zM461.5 384.0h.90v.90h-.90zM464.0 355.3h.90v.90h-.90zM442.2 359.6h.90v.90h-.90zM445.2 400.2h.90v.90h-.90zM439.8 380.0h.90v.90h-.90zM463.9 383.2h.90v.90h-.90zM442.3 374.9h.90v.90h-.90zM453.1 398.8h.90v.90h-.90zM462.3 340.3h.90v.90h-.90zM465.5 367.0h.90v.90h-.90zM450.0 348.3h.90v.90h-.90zM440.9 399.6h.90v.90h-.90zM463.2 367.5h.90v.90h-.90zM466.8 380.1h.90v.90h-.90zM437.0 387.4h.90v.90h-.90zM466.3 375.0h.90v.90h-.90zM439.5 383.7h.90v.90h-.90zM440.7 401.8h.90v.90h-.90zM457.3 371.7h.90v.90h-.90zM458.2 341.3h.90v.90h-.90zM462.4 386.9h.90v.90h-.90zM435.5 379.5h.90v.90h-.90zM443.0 406.5h.90v.90h-.90zM432.2 400.1h.90v.90h-.90zM445.3 354.1h.90v.90h-.90zM454.4 403.6h.90v.90h-.90zM461.3 391.7h.90v.90h-.90zM435.0 385.5h.90v.90h-.90zM443.9 363.8h.90v.90h-.90zM441.1 361.1h.90v.90h-.90zM464.6 387.5h.90v.90h-.90zM438.0 377.8h.90v.90h-.90zM465.1 390.3h.90v.90h-.90zM466.2 398.0h.90v.90h-.90zM455.1 342.9h.90v.90h-.90zM436.1 375.3h.90v.90h-.90zM441.7 370.5h.90v.90h-.90zM464.9 388.3h.90v.90h-.90zM436.9 399.7h.90v.90h-.90zM436.1 380.4h.90v.90h-.90zM429.7 399.2h.90v.90h-.90zM432.0 403.0h.90v.90h-.90zM464.3 408.0h.90v.90h-.90zM431.2 398.8h.90v.90h-.90zM438.0 374.3h.90v.90h-.90zM447.5 405.2h.90v.90h-.90zM461.1 399.0h.90v.90h-.90zM447.7 400.4h.90v.90h-.90zM458.7 356.3h.90v.90h-.90zM442.4 404.0h.90v.90h-.90zM463.1 407.0h.90v.90h-.90zM459.6 368.7h.90v.90h-.90zM457.5 400.0h.90v.90h-.90zM457.6 403.8h.90v.90h-.90zM458.8 363.0h.90v.90h-.90zM466.0 387.1h.90v.90h-.90zM466.9 389.7h.90v.90h-.90zM439.6 365.2h.90v.90h-.90zM440.3 403.5h.90v.90h-.90zM459.2 400.5h.90v.90h-.90zM461.4 405.0h.90v.90h-.90zM463.3 395.7h.90v.90h-.90zM466.1 375.0h.90v.90h-.90zM435.2 397.1h.90v.90h-.90zM463.9 397.8h.90v.90h-.90zM434.4 401.9h.90v.90h-.90zM440.2 369.0h.90v.90h-.90zM462.8 353.3h.90v.90h-.90zM464.8 392.5h.90v.90h-.90zM460.5 354.0h.90v.90h-.90zM429.9 404.5h.90v.90h-.90zM436.2 380.4h.90v.90h-.90zM456.1 404.8h.90v.90h-.90zM437.2 406.8h.90v.90h-.90zM465.9 389.7h.90v.90h-.90zM435.8 385.8h.90v.90h-.90zM452.2 398.5h.90v.90h-.90zM443.7 363.5h.90v.90h-.90zM444.7 370.9h.90v.90h-.90zM437.5 399.7h.90v.90h-.90zM446.2 363.5h.90v.90h-.90zM428.7 399.3h.90v.90h-.90zM465.1 385.8h.90v.90h-.90zM433.0 397.5h.90v.90h-.90zM441.9 373.3h.90v.90h-.90zM460.8 367.9h.90v.90h-.90zM435.3 380.3h.90v.90h-.90zM465.9 387.0h.90v.90h-.90zM434.2 395.8h.90v.90h-.90zM432.8 393.3h.90v.90h-.90zM447.6 352.6h.90v.90h-.90zM467.2 359.3h.90v.90h-.90zM438.0 401.2h.90v.90h-.90zM459.6 344.0h.90v.90h-.90zM465.0 370.9h.90v.90h-.90zM458.3 400.6h.90v.90h-.90zM432.1 403.2h.90v.90h-.90zM466.1 382.8h.90v.90h-.90zM438.9 383.4h.90v.90h-.90zM457.8 403.6h.90v.90h-.90zM464.3 365.6h.90v.90h-.90zM439.8 369.6h.90v.90h-.90zM442.9 361.6h.90v.90h-.90zM465.0 390.5h.90v.90h-.90zM442.7 370.2h.90v.90h-.90zM458.2 346.8h.90v.90h-.90zM437.9 405.1h.90v.90h-.90zM460.9 382.0h.90v.90h-.90zM460.6 363.8h.90v.90h-.90zM442.4 404.8h.90v.90h-.90zM442.1 363.3h.90v.90h-.90zM451.2 354.8h.90v.90h-.90zM437.3 374.4h.90v.90h-.90zM433.9 389.1h.90v.90h-.90zM436.1 399.0h.90v.90h-.90zM436.9 403.2h.90v.90h-.90zM462.6 368.9h.90v.90h-.90zM433.1 376.8h.90v.90h-.90zM465.0 365.8h.90v.90h-.90zM432.1 400.0h.90v.90h-.90zM465.7 358.5h.90v.90h-.90zM466.5 395.4h.90v.90h-.90zM463.6 400.7h.90v.90h-.90zM463.6 360.5h.90v.90h-.90zM455.5 404.9h.90v.90h-.90zM456.1 383.9h.90v.90h-.90zM436.2 407.8h.90v.90h-.90zM461.1 345.5h.90v.90h-.90zM433.4 394.7h.90v.90h-.90zM463.1 398.1h.90v.90h-.90zM458.4 340.1h.90v.90h-.90zM439.7 404.1h.90v.90h-.90zM460.4 368.0h.90v.90h-.90zM460.6 400.5h.90v.90h-.90zM455.0 403.2h.90v.90h-.90zM434.0 403.5h.90v.90h-.90zM450.6 351.0h.90v.90h-.90zM446.7 374.1h.90v.90h-.90zM448.5 351.9h.90v.90h-.90zM450.5 354.3h.90v.90h-.90zM462.7 380.5h.90v.90h-.90zM435.6 386.9h.90v.90h-.90zM462.8 384.6h.90v.90h-.90zM444.2 360.7h.90v.90h-.90zM452.7 403.7h.90v.90h-.90zM464.8 372.2h.90v.90h-.90zM441.0 401.9h.90v.90h-.90zM458.3 343.1h.90v.90h-.90zM439.4 402.8h.90v.90h-.90zM466.5 366.0h.90v.90h-.90zM463.6 372.8h.90v.90h-.90zM458.1 349.1h.90v.90h-.90zM463.9 370.5h.90v.90h-.90zM458.9 338.8h.90v.90h-.90zM431.6 402.8h.90v.90h-.90zM442.1 374.5h.90v.90h-.90zM453.4 404.5h.90v.90h-.90zM443.4 356.3h.90v.90h-.90zM428.0 388.8h.90v.90h-.90zM445.8 360.1h.90v.90h-.90zM443.2 406.0h.90v.90h-.90zM436.8 397.1h.90v.90h-.90zM464.6 376.1h.90v.90h-.90zM465.7 357.3h.90v.90h-.90zM429.5 394.8h.90v.90h-.90zM466.8 372.1h.90v.90h-.90zM466.2 383.3h.90v.90h-.90zM466.9 396.3h.90v.90h-.90zM466.9 374.3h.90v.90h-.90zM433.4 392.8h.90v.90h-.90zM458.0 377.1h.90v.90h-.90zM447.0 374.0h.90v.90h-.90zM451.6 348.1h.90v.90h-.90zM436.8 404.9h.90v.90h-.90zM447.5 403.0h.90v.90h-.90zM448.0 356.4h.90v.90h-.90zM453.4 399.3h.90v.90h-.90zM452.3 404.4h.90v.90h-.90zM433.4 379.7h.90v.90h-.90zM463.9 370.3h.90v.90h-.90zM448.5 344.4h.90v.90h-.90zM457.8 337.6h.90v.90h-.90zM459.6 339.0h.90v.90h-.90zM432.8 400.0h.90v.90h-.90zM437.5 379.0h.90v.90h-.90zM440.2 372.5h.90v.90h-.90zM442.6 366.1h.90v.90h-.90zM459.0 347.1h.90v.90h-.90zM457.2 399.2h.90v.90h-.90zM456.4 347.0h.90v.90h-.90zM448.3 348.5h.90v.90h-.90zM454.3 401.3h.90v.90h-.90zM461.9 383.4h.90v.90h-.90zM458.6 405.5h.90v.90h-.90zM458.1 401.9h.90v.90h-.90zM464.0 389.0h.90v.90h-.90zM432.9 397.1h.90v.90h-.90zM464.9 400.6h.90v.90h-.90zM444.4 366.8h.90v.90h-.90zM436.1 397.3h.90v.90h-.90zM445.3 358.6h.90v.90h-.90zM445.2 366.0h.90v.90h-.90zM461.6 345.2h.90v.90h-.90zM436.5 406.4h.90v.90h-.90zM447.4 356.5h.90v.90h-.90zM461.1 353.1h.90v.90h-.90zM460.2 403.1h.90v.90h-.90zM431.7 397.6h.90v.90h-.90zM461.9 400.0h.90v.90h-.90zM461.7 380.2h.90v.90h-.90zM459.8 379.2h.90v.90h-.90zM438.7 380.2h.90v.90h-.90zM458.4 356.7h.90v.90h-.90zM436.6 376.4h.90v.90h-.90zM454.0 348.6h.90v.90h-.90zM440.2 384.4h.90v.90h-.90zM438.7 374.8h.90v.90h-.90zM440.5 366.6h.90v.90h-.90zM439.0 368.5h.90v.90h-.90zM439.8 384.2h.90v.90h-.90zM438.1 378.5h.90v.90h-.90zM464.3 385.1h.90v.90h-.90zM462.2 360.5h.90v.90h-.90zM463.0 365.4h.90v.90h-.90zM430.4 403.7h.90v.90h-.90zM436.5 390.4h.90v.90h-.90zM444.7 403.3h.90v.90h-.90zM460.4 353.0h.90v.90h-.90zM447.5 406.3h.90v.90h-.90zM446.4 361.8h.90v.90h-.90zM437.8 377.7h.90v.90h-.90zM446.9 350.7h.90v.90h-.90zM457.4 335.2h.90v.90h-.90zM436.8 400.3h.90v.90h-.90zM439.5 368.5h.90v.90h-.90zM447.5 367.4h.90v.90h-.90zM447.1 357.8h.90v.90h-.90zM447.4 362.0h.90v.90h-.90zM465.9 372.2h.90v.90h-.90zM463.8 399.2h.90v.90h-.90zM455.4 343.0h.90v.90h-.90zM437.0 385.9h.90v.90h-.90zM463.8 374.2h.90v.90h-.90zM443.5 368.5h.90v.90h-.90zM438.9 383.5h.90v.90h-.90zM453.9 338.8h.90v.90h-.90zM457.2 404.4h.90v.90h-.90zM461.9 351.8h.90v.90h-.90zM439.1 375.4h.90v.90h-.90zM434.6 392.8h.90v.90h-.90zM461.6 396.6h.90v.90h-.90zM455.8 355.3h.90v.90h-.90zM463.0 401.7h.90v.90h-.90zM462.5 372.0h.90v.90h-.90zM435.1 386.0h.90v.90h-.90zM438.1 381.7h.90v.90h-.90zM448.5 360.3h.90v.90h-.90zM461.0 362.3h.90v.90h-.90zM462.3 400.0h.90v.90h-.90zM442.9 363.7h.90v.90h-.90zM438.1 380.8h.90v.90h-.90zM448.7 351.0h.90v.90h-.90zM441.4 372.7h.90v.90h-.90zM437.0 387.0h.90v.90h-.90zM438.4 392.4h.90v.90h-.90zM455.0 341.9h.90v.90h-.90zM452.3 345.0h.90v.90h-.90zM461.4 346.4h.90v.90h-.90zM439.4 402.5h.90v.90h-.90zM463.3 354.4h.90v.90h-.90zM463.7 392.5h.90v.90h-.90zM462.3 388.3h.90v.90h-.90zM463.9 379.5h.90v.90h-.90zM434.3 400.6h.90v.90h-.90zM462.2 388.1h.90v.90h-.90zM439.9 367.7h.90v.90h-.90zM461.0 406.3h.90v.90h-.90zM457.8 404.3h.90v.90h-.90zM436.7 389.4h.90v.90h-.90zM460.6 395.2h.90v.90h-.90zM464.6 398.3h.90v.90h-.90zM461.9 383.4h.90v.90h-.90zM458.9 370.6h.90v.90h-.90zM453.8 348.7h.90v.90h-.90zM443.2 404.9h.90v.90h-.90zM454.7 403.7h.90v.90h-.90zM448.0 396.0h.90v.90h-.90zM432.1 390.0h.90v.90h-.90zM432.9 401.4h.90v.90h-.90zM447.0 357.8h.90v.90h-.90zM449.9 343.6h.90v.90h-.90zM444.6 402.3h.90v.90h-.90zM455.2 341.8h.90v.90h-.90zM436.5 395.9h.90v.90h-.90zM453.1 401.0h.90v.90h-.90zM440.8 372.7h.90v.90h-.90zM446.6 365.2h.90v.90h-.90zM457.9 402.7h.90v.90h-.90zM434.9 386.7h.90v.90h-.90zM433.2 386.2h.90v.90h-.90zM453.4 349.7h.90v.90h-.90zM460.3 343.2h.90v.90h-.90zM460.1 340.2h.90v.90h-.90zM432.8 402.3h.90v.90h-.90zM462.9 352.1h.90v.90h-.90zM439.2 390.6h.90v.90h-.90zM444.3 403.5h.90v.90h-.90zM459.6 368.8h.90v.90h-.90zM427.7 398.8h.90v.90h-.90zM461.1 354.2h.90v.90h-.90zM460.7 378.9h.90v.90h-.90zM447.9 361.3h.90v.90h-.90zM462.6 347.3h.90v.90h-.90zM446.1 361.9h.90v.90h-.90zM459.1 344.1h.90v.90h-.90zM462.5 360.4h.90v.90h-.90zM436.8 385.1h.90v.90h-.90zM455.5 348.4h.90v.90h-.90zM462.4 381.8h.90v.90h-.90zM459.0 370.9h.90v.90h-.90zM435.1 397.9h.90v.90h-.90zM435.8 400.0h.90v.90h-.90zM460.1 394.2h.90v.90h-.90zM458.7 400.7h.90v.90h-.90zM434.3 394.0h.90v.90h-.90zM463.5 373.6h.90v.90h-.90zM452.5 342.0h.90v.90h-.90zM461.6 344.7h.90v.90h-.90zM440.8 369.9h.90v.90h-.90zM465.3 353.5h.90v.90h-.90zM438.6 403.6h.90v.90h-.90zM460.9 367.2h.90v.90h-.90zM432.0 385.6h.90v.90h-.90zM466.5 397.4h.90v.90h-.90zM463.2 361.2h.90v.90h-.90zM433.2 398.3h.90v.90h-.90zM435.1 386.7h.90v.90h-.90zM463.0 382.8h.90v.90h-.90zM460.2 391.4h.90v.90h-.90zM467.0 358.8h.90v.90h-.90zM462.8 368.2h.90v.90h-.90zM447.5 401.7h.90v.90h-.90zM461.5 402.7h.90v.90h-.90zM465.1 356.4h.90v.90h-.90zM447.7 358.4h.90v.90h-.90zM462.1 353.0h.90v.90h-.90zM459.5 381.6h.90v.90h-.90zM437.1 374.5h.90v.90h-.90zM463.9 365.4h.90v.90h-.90zM430.5 400.3h.90v.90h-.90zM446.0 403.2h.90v.90h-.90zM464.4 386.1h.90v.90h-.90zM462.4 366.4h.90v.90h-.90zM460.5 361.0h.90v.90h-.90zM435.5 390.4h.90v.90h-.90zM431.8 399.0h.90v.90h-.90zM434.6 384.1h.90v.90h-.90zM437.4 381.2h.90v.90h-.90zM448.5 352.3h.90v.90h-.90zM433.2 400.3h.90v.90h-.90zM456.6 399.7h.90v.90h-.90zM441.8 390.7h.90v.90h-.90zM460.9 378.8h.90v.90h-.90zM461.9 358.9h.90v.90h-.90zM464.9 363.6h.90v.90h-.90zM454.7 346.9h.90v.90h-.90zM461.3 358.4h.90v.90h-.90zM447.2 357.6h.90v.90h-.90zM458.6 386.5h.90v.90h-.90zM463.6 364.5h.90v.90h-.90zM432.0 404.8h.90v.90h-.90zM436.9 381.3h.90v.90h-.90zM431.2 392.5h.90v.90h-.90zM436.2 395.5h.90v.90h-.90zM451.8 350.1h.90v.90h-.90zM458.8 342.9h.90v.90h-.90zM454.1 345.3h.90v.90h-.90zM434.3 399.2h.90v.90h-.90zM458.9 366.1h.90v.90h-.90zM466.5 400.1h.90v.90h-.90zM458.1 342.7h.90v.90h-.90zM456.1 349.4h.90v.90h-.90zM447.6 350.7h.90v.90h-.90zM460.8 400.8h.90v.90h-.90zM452.0 407.3h.90v.90h-.90zM444.2 366.5h.90v.90h-.90zM438.6 370.3h.90v.90h-.90zM456.6 354.7h.90v.90h-.90zM439.2 376.1h.90v.90h-.90zM465.1 394.1h.90v.90h-.90zM458.5 392.5h.90v.90h-.90zM444.0 405.2h.90v.90h-.90zM467.5 379.4h.90v.90h-.90zM449.1 400.7h.90v.90h-.90zM460.8 363.0h.90v.90h-.90zM454.4 345.6h.90v.90h-.90zM464.1 364.4h.90v.90h-.90zM461.0 368.6h.90v.90h-.90zM445.3 350.7h.90v.90h-.90zM441.4 369.5h.90v.90h-.90zM464.9 376.7h.90v.90h-.90zM464.4 357.9h.90v.90h-.90zM458.5 402.3h.90v.90h-.90zM448.0 402.8h.90v.90h-.90zM436.3 372.3h.90v.90h-.90zM443.5 374.6h.90v.90h-.90zM451.3 399.5h.90v.90h-.90zM461.5 366.2h.90v.90h-.90zM457.5 341.4h.90v.90h-.90zM435.7 377.0h.90v.90h-.90zM458.5 392.9h.90v.90h-.90zM435.1 400.0h.90v.90h-.90zM440.9 369.8h.90v.90h-.90zM464.6 396.6h.90v.90h-.90zM452.5 403.8h.90v.90h-.90zM442.3 367.5h.90v.90h-.90zM464.9 375.3h.90v.90h-.90zM447.2 403.6h.90v.90h-.90zM443.2 375.3h.90v.90h-.90zM445.8 352.0h.90v.90h-.90zM436.2 401.0h.90v.90h-.90zM430.9 394.8h.90v.90h-.90zM447.3 358.4h.90v.90h-.90zM439.5 368.7h.90v.90h-.90zM463.4 398.9h.90v.90h-.90zM453.5 351.2h.90v.90h-.90zM433.0 394.9h.90v.90h-.90zM461.8 386.6h.90v.90h-.90zM433.6 403.3h.90v.90h-.90zM461.6 363.2h.90v.90h-.90zM466.0 359.3h.90v.90h-.90zM460.5 369.2h.90v.90h-.90zM449.1 356.3h.90v.90h-.90zM452.5 344.2h.90v.90h-.90zM451.2 354.3h.90v.90h-.90zM462.9 399.1h.90v.90h-.90zM454.5 337.8h.90v.90h-.90zM432.2 394.7h.90v.90h-.90zM456.2 342.6h.90v.90h-.90zM453.0 345.2h.90v.90h-.90zM458.6 402.6h.90v.90h-.90zM437.8 366.6h.90v.90h-.90zM434.7 401.3h.90v.90h-.90zM462.2 380.1h.90v.90h-.90zM467.4 391.7h.90v.90h-.90zM451.3 352.5h.90v.90h-.90zM464.3 393.2h.90v.90h-.90zM467.1 393.5h.90v.90h-.90zM464.6 397.3h.90v.90h-.90zM461.5 352.5h.90v.90h-.90zM439.8 398.8h.90v.90h-.90zM439.1 379.8h.90v.90h-.90zM464.3 393.8h.90v.90h-.90zM465.5 391.4h.90v.90h-.90zM435.8 386.9h.90v.90h-.90zM444.6 363.5h.90v.90h-.90zM446.2 400.9h.90v.90h-.90zM459.4 351.4h.90v.90h-.90zM461.0 356.0h.90v.90h-.90zM443.2 367.7h.90v.90h-.90zM436.3 381.2h.90v.90h-.90zM436.7 376.5h.90v.90h-.90zM434.6 393.4h.90v.90h-.90zM453.3 405.3h.90v.90h-.90zM447.4 361.2h.90v.90h-.90zM443.3 408.3h.90v.90h-.90zM431.8 392.1h.90v.90h-.90zM431.5 401.8h.90v.90h-.90zM457.2 402.6h.90v.90h-.90zM435.1 381.0h.90v.90h-.90zM438.7 375.9h.90v.90h-.90zM434.4 399.4h.90v.90h-.90zM439.3 380.2h.90v.90h-.90zM462.5 392.4h.90v.90h-.90zM440.0 398.7h.90v.90h-.90zM462.5 389.5h.90v.90h-.90zM452.5 345.9h.90v.90h-.90zM463.1 384.0h.90v.90h-.90zM451.0 346.0h.90v.90h-.90zM439.2 376.4h.90v.90h-.90zM467.4 389.8h.90v.90h-.90zM452.7 343.0h.90v.90h-.90zM445.2 365.2h.90v.90h-.90zM458.4 363.1h.90v.90h-.90zM444.8 367.1h.90v.90h-.90zM443.1 357.7h.90v.90h-.90zM464.2 403.3h.90v.90h-.90zM448.3 356.9h.90v.90h-.90zM450.4 351.1h.90v.90h-.90zM461.3 377.2h.90v.90h-.90zM461.5 339.4h.90v.90h-.90zM466.8 384.3h.90v.90h-.90zM459.1 357.8h.90v.90h-.90zM460.6 372.5h.90v.90h-.90zM436.2 405.7h.90v.90h-.90zM438.2 383.2h.90v.90h-.90zM438.2 377.0h.90v.90h-.90zM458.0 384.0h.90v.90h-.90zM436.3 401.3h.90v.90h-.90zM439.2 367.1h.90v.90h-.90zM434.2 402.8h.90v.90h-.90zM461.2 366.6h.90v.90h-.90zM461.8 344.6h.90v.90h-.90zM450.4 403.4h.90v.90h-.90zM452.9 405.0h.90v.90h-.90zM461.4 353.4h.90v.90h-.90zM457.5 366.5h.90v.90h-.90zM460.5 341.1h.90v.90h-.90zM435.0 395.0h.90v.90h-.90zM460.8 398.1h.90v.90h-.90zM428.1 403.2h.90v.90h-.90zM438.7 399.8h.90v.90h-.90zM460.6 374.0h.90v.90h-.90zM446.3 343.0h.90v.90h-.90zM458.6 397.8h.90v.90h-.90zM439.9 380.8h.90v.90h-.90zM451.0 404.6h.90v.90h-.90zM449.6 342.7h.90v.90h-.90zM463.3 353.9h.90v.90h-.90zM459.2 342.9h.90v.90h-.90zM464.6 404.1h.90v.90h-.90zM441.7 364.1h.90v.90h-.90zM438.1 378.5h.90v.90h-.90zM439.6 373.3h.90v.90h-.90zM455.5 401.1h.90v.90h-.90zM460.9 348.5h.90v.90h-.90zM458.9 338.7h.90v.90h-.90zM448.7 361.4h.90v.90h-.90zM452.6 343.6h.90v.90h-.90zM437.0 385.8h.90v.90h-.90zM434.5 394.9h.90v.90h-.90zM449.9 356.7h.90v.90h-.90zM459.9 368.8h.90v.90h-.90zM463.2 354.2h.90v.90h-.90zM455.3 334.0h.90v.90h-.90zM462.7 389.9h.90v.90h-.90zM451.8 347.0h.90v.90h-.90zM438.2 372.0h.90v.90h-.90zM443.9 403.7h.90v.90h-.90zM434.2 377.0h.90v.90h-.90zM460.2 401.2h.90v.90h-.90zM440.0 372.4h.90v.90h-.90zM431.7 391.4h.90v.90h-.90zM430.6 395.5h.90v.90h-.90zM462.5 397.5h.90v.90h-.90zM437.0 402.5h.90v.90h-.90zM447.4 368.5h.90v.90h-.90zM437.1 375.2h.90v.90h-.90zM459.7 358.4h.90v.90h-.90zM464.1 402.1h.90v.90h-.90zM459.5 390.0h.90v.90h-.90zM433.0 379.0h.90v.90h-.90zM443.2 379.8h.90v.90h-.90zM448.0 356.3h.90v.90h-.90zM461.8 368.9h.90v.90h-.90zM444.8 360.3h.90v.90h-.90zM457.3 341.8h.90v.90h-.90zM455.2 345.5h.90v.90h-.90zM456.0 378.8h.90v.90h-.90zM462.8 368.1h.90v.90h-.90zM462.9 375.8h.90v.90h-.90zM459.9 375.8h.90v.90h-.90zM460.8 345.1h.90v.90h-.90zM460.7 347.7h.90v.90h-.90zM458.6 384.5h.90v.90h-.90zM438.2 378.8h.90v.90h-.90zM436.4 378.9h.90v.90h-.90zM463.8 398.4h.90v.90h-.90zM449.7 400.4h.90v.90h-.90zM459.5 369.9h.90v.90h-.90zM444.1 369.8h.90v.90h-.90zM459.6 368.7h.90v.90h-.90zM440.5 400.6h.90v.90h-.90zM465.2 368.6h.90v.90h-.90zM462.0 390.2h.90v.90h-.90zM448.5 362.0h.90v.90h-.90zM448.7 351.1h.90v.90h-.90zM443.8 400.2h.90v.90h-.90zM460.7 354.9h.90v.90h-.90zM435.7 391.2h.90v.90h-.90zM458.8 346.7h.90v.90h-.90zM441.1 379.4h.90v.90h-.90zM467.1 393.7h.90v.90h-.90zM458.9 405.5h.90v.90h-.90zM459.8 403.2h.90v.90h-.90zM447.5 362.9h.90v.90h-.90zM432.3 400.5h.90v.90h-.90zM462.0 371.3h.90v.90h-.90zM433.3 401.6h.90v.90h-.90zM449.5 402.2h.90v.90h-.90zM433.2 393.0h.90v.90h-.90zM430.8 397.8h.90v.90h-.90zM447.2 407.1h.90v.90h-.90zM465.1 398.6h.90v.90h-.90zM431.0 391.0h.90v.90h-.90zM447.8 353.8h.90v.90h-.90zM442.6 369.5h.90v.90h-.90zM437.0 383.4h.90v.90h-.90zM443.4 361.1h.90v.90h-.90zM442.5 406.0h.90v.90h-.90zM465.4 406.0h.90v.90h-.90zM429.4 392.3h.90v.90h-.90zM443.8 379.7h.90v.90h-.90zM460.9 376.9h.90v.90h-.90zM460.7 350.7h.90v.90h-.90zM460.5 381.7h.90v.90h-.90zM463.9 385.1h.90v.90h-.90zM458.6 402.0h.90v.90h-.90zM464.4 360.1h.90v.90h-.90zM463.9 397.9h.90v.90h-.90zM460.5 368.5h.90v.90h-.90zM462.5 388.6h.90v.90h-.90zM452.9 401.6h.90v.90h-.90zM432.1 399.0h.90v.90h-.90zM462.5 367.5h.90v.90h-.90zM440.9 402.6h.90v.90h-.90zM462.5 369.6h.90v.90h-.90zM433.3 401.9h.90v.90h-.90zM438.7 402.3h.90v.90h-.90zM450.0 355.4h.90v.90h-.90zM431.4 393.3h.90v.90h-.90zM445.7 402.7h.90v.90h-.90zM443.5 361.7h.90v.90h-.90zM462.5 400.0h.90v.90h-.90zM456.2 347.5h.90v.90h-.90zM444.3 397.6h.90v.90h-.90zM441.4 372.7h.90v.90h-.90zM457.5 350.3h.90v.90h-.90zM444.1 372.6h.90v.90h-.90zM467.1 360.9h.90v.90h-.90zM453.8 353.1h.90v.90h-.90zM453.0 403.8h.90v.90h-.90zM464.9 361.6h.90v.90h-.90zM446.2 355.4h.90v.90h-.90zM444.2 375.1h.90v.90h-.90zM462.7 398.2h.90v.90h-.90zM464.5 374.5h.90v.90h-.90zM461.1 369.5h.90v.90h-.90zM433.5 388.2h.90v.90h-.90zM462.0 345.9h.90v.90h-.90zM437.7 365.0h.90v.90h-.90zM459.9 350.4h.90v.90h-.90zM457.3 341.2h.90v.90h-.90zM455.5 404.0h.90v.90h-.90zM430.9 396.0h.90v.90h-.90zM450.6 358.7h.90v.90h-.90zM449.2 407.6h.90v.90h-.90zM458.6 351.9h.90v.90h-.90zM439.2 400.3h.90v.90h-.90zM466.5 376.4h.90v.90h-.90zM464.0 388.1h.90v.90h-.90zM463.4 360.1h.90v.90h-.90zM462.4 360.9h.90v.90h-.90zM455.2 400.6h.90v.90h-.90zM434.6 389.2h.90v.90h-.90zM445.7 359.9h.90v.90h-.90zM440.7 395.3h.90v.90h-.90zM448.1 366.3h.90v.90h-.90zM449.0 343.4h.90v.90h-.90zM451.1 354.5h.90v.90h-.90zM437.5 402.7h.90v.90h-.90zM462.5 394.1h.90v.90h-.90zM458.8 344.3h.90v.90h-.90zM446.5 366.9h.90v.90h-.90zM445.7 404.8h.90v.90h-.90zM450.3 355.0h.90v.90h-.90zM451.2 405.2h.90v.90h-.90zM460.6 377.4h.90v.90h-.90zM454.0 347.6h.90v.90h-.90zM435.0 386.1h.90v.90h-.90zM463.3 363.2h.90v.90h-.90zM461.3 363.5h.90v.90h-.90zM443.7 353.1h.90v.90h-.90zM452.8 400.9h.90v.90h-.90zM440.7 374.8h.90v.90h-.90zM456.2 398.5h.90v.90h-.90zM447.3 358.3h.90v.90h-.90zM460.7 386.2h.90v.90h-.90zM430.5 400.4h.90v.90h-.90zM439.6 383.2h.90v.90h-.90zM458.2 400.9h.90v.90h-.90zM453.9 401.5h.90v.90h-.90zM436.8 397.3h.90v.90h-.90zM434.1 387.3h.90v.90h-.90zM454.6 340.0h.90v.90h-.90zM453.3 408.1h.90v.90h-.90zM462.1 363.8h.90v.90h-.90zM439.4 398.2h.90v.90h-.90zM428.9 400.9h.90v.90h-.90zM440.2 403.4h.90v.90h-.90zM465.7 394.2h.90v.90h-.90zM459.1 339.9h.90v.90h-.90zM431.6 395.0h.90v.90h-.90zM451.6 346.9h.90v.90h-.90zM442.7 353.6h.90v.90h-.90zM456.8 346.4h.90v.90h-.90zM462.5 380.0h.90v.90h-.90zM457.9 399.6h.90v.90h-.90zM437.9 380.1h.90v.90h-.90zM443.8 408.9h.90v.90h-.90zM461.8 393.1h.90v.90h-.90zM456.9 347.4h.90v.90h-.90zM446.3 356.3h.90v.90h-.90zM466.6 373.7h.90v.90h-.90zM458.9 352.9h.90v.90h-.90zM461.6 374.8h.90v.90h-.90zM441.3 401.0h.90v.90h-.90zM463.1 364.1h.90v.90h-.90zM443.0 403.2h.90v.90h-.90zM458.8 377.0h.90v.90h-.90zM447.4 348.4h.90v.90h-.90zM459.0 349.9h.90v.90h-.90zM437.3 372.2h.90v.90h-.90zM461.6 363.0h.90v.90h-.90zM464.5 375.3h.90v.90h-.90zM440.6 371.9h.90v.90h-.90zM448.6 401.4h.90v.90h-.90zM461.4 397.3h.90v.90h-.90zM454.1 342.9h.90v.90h-.90zM455.3 341.5h.90v.90h-.90zM431.1 392.1h.90v.90h-.90zM446.7 360.7h.90v.90h-.90zM447.8 410.8h.90v.90h-.90zM459.6 343.3h.90v.90h-.90zM446.6 370.1h.90v.90h-.90zM462.7 369.2h.90v.90h-.90zM450.2 362.9h.90v.90h-.90zM464.4 376.0h.90v.90h-.90zM457.9 349.0h.90v.90h-.90zM462.1 406.1h.90v.90h-.90zM430.1 391.6h.90v.90h-.90zM436.6 400.6h.90v.90h-.90zM456.7 342.1h.90v.90h-.90zM447.3 350.6h.90v.90h-.90zM464.3 369.7h.90v.90h-.90zM438.6 384.5h.90v.90h-.90zM440.6 376.2h.90v.90h-.90zM433.7 382.9h.90v.90h-.90zM438.9 368.7h.90v.90h-.90zM453.8 400.6h.90v.90h-.90zM460.4 376.2h.90v.90h-.90zM444.4 374.5h.90v.90h-.90zM462.7 362.0h.90v.90h-.90zM462.3 363.6h.90v.90h-.90zM442.9 366.6h.90v.90h-.90zM462.5 364.4h.90v.90h-.90zM454.5 403.7h.90v.90h-.90zM444.6 402.1h.90v.90h-.90zM465.9 369.6h.90v.90h-.90zM432.3 404.4h.90v.90h-.90zM462.3 369.7h.90v.90h-.90zM458.1 404.0h.90v.90h-.90zM455.4 338.4h.90v.90h-.90zM465.5 360.3h.90v.90h-.90zM445.3 404.6h.90v.90h-.90zM439.8 372.1h.90v.90h-.90zM450.0 361.1h.90v.90h-.90zM459.4 400.0h.90v.90h-.90zM461.2 371.8h.90v.90h-.90zM438.1 382.7h.90v.90h-.90zM465.5 358.5h.90v.90h-.90zM451.0 403.5h.90v.90h-.90zM443.9 358.2h.90v.90h-.90zM436.1 385.9h.90v.90h-.90zM444.9 353.0h.90v.90h-.90zM444.3 402.2h.90v.90h-.90zM442.8 405.8h.90v.90h-.90zM449.6 354.2h.90v.90h-.90zM456.8 405.8h.90v.90h-.90zM450.2 356.2h.90v.90h-.90zM432.3 397.8h.90v.90h-.90zM439.4 392.2h.90v.90h-.90zM460.2 376.9h.90v.90h-.90zM462.5 364.5h.90v.90h-.90zM463.3 363.6h.90v.90h-.90zM438.8 402.1h.90v.90h-.90zM442.4 366.7h.90v.90h-.90zM461.8 396.1h.90v.90h-.90zM460.9 395.5h.90v.90h-.90zM461.0 403.7h.90v.90h-.90zM459.9 405.5h.90v.90h-.90zM439.8 384.5h.90v.90h-.90zM462.4 401.0h.90v.90h-.90zM439.4 373.3h.90v.90h-.90zM464.4 386.3h.90v.90h-.90zM446.4 368.7h.90v.90h-.90zM437.4 395.6h.90v.90h-.90zM463.8 376.5h.90v.90h-.90zM462.6 369.4h.90v.90h-.90zM458.2 344.3h.90v.90h-.90zM439.8 400.6h.90v.90h-.90zM460.3 344.5h.90v.90h-.90zM431.8 404.7h.90v.90h-.90zM434.4 384.1h.90v.90h-.90zM463.7 354.3h.90v.90h-.90zM454.7 349.5h.90v.90h-.90zM461.9 350.8h.90v.90h-.90zM441.6 372.5h.90v.90h-.90zM434.1 400.4h.90v.90h-.90zM462.7 393.1h.90v.90h-.90zM457.1 348.0h.90v.90h-.90zM437.2 386.6h.90v.90h-.90zM461.0 355.8h.90v.90h-.90zM467.0 396.3h.90v.90h-.90zM429.0 397.6h.90v.90h-.90zM462.6 359.3h.90v.90h-.90zM439.0 374.5h.90v.90h-.90zM467.1 374.3h.90v.90h-.90zM441.4 369.6h.90v.90h-.90zM432.8 383.2h.90v.90h-.90zM450.7 402.3h.90v.90h-.90zM441.2 362.2h.90v.90h-.90zM464.5 348.9h.90v.90h-.90zM455.4 406.5h.90v.90h-.90zM456.9 402.4h.90v.90h-.90zM450.5 402.8h.90v.90h-.90zM433.5 401.5h.90v.90h-.90zM434.7 391.6h.90v.90h-.90zM449.8 348.0h.90v.90h-.90zM462.3 350.3h.90v.90h-.90zM445.7 374.7h.90v.90h-.90zM453.2 401.4h.90v.90h-.90zM459.9 365.6h.90v.90h-.90zM452.4 399.5h.90v.90h-.90zM463.2 348.6h.90v.90h-.90zM462.0 374.8h.90v.90h-.90zM462.8 364.3h.90v.90h-.90zM435.3 390.1h.90v.90h-.90zM462.8 357.8h.90v.90h-.90zM465.1 384.6h.90v.90h-.90zM458.2 404.1h.90v.90h-.90zM450.3 352.7h.90v.90h-.90zM450.9 400.2h.90v.90h-.90zM454.2 349.2h.90v.90h-.90zM460.4 354.7h.90v.90h-.90zM464.8 398.0h.90v.90h-.90zM465.2 359.7h.90v.90h-.90zM444.6 365.4h.90v.90h-.90zM440.6 371.4h.90v.90h-.90zM450.4 406.0h.90v.90h-.90zM463.7 402.2h.90v.90h-.90zM437.7 381.0h.90v.90h-.90zM436.4 394.0h.90v.90h-.90zM436.8 401.0h.90v.90h-.90zM438.5 379.8h.90v.90h-.90zM465.1 404.3h.90v.90h-.90zM445.3 353.2h.90v.90h-.90zM433.9 392.6h.90v.90h-.90zM459.4 398.6h.90v.90h-.90zM449.1 404.7h.90v.90h-.90zM455.4 344.4h.90v.90h-.90zM460.0 403.5h.90v.90h-.90zM457.1 400.5h.90v.90h-.90zM447.9 346.8h.90v.90h-.90zM465.2 378.2h.90v.90h-.90zM438.2 375.6h.90v.90h-.90zM446.4 402.7h.90v.90h-.90zM460.7 382.3h.90v.90h-.90zM460.1 367.4h.90v.90h-.90zM437.5 386.0h.90v.90h-.90zM460.6 344.7h.90v.90h-.90zM432.8 381.6h.90v.90h-.90zM449.3 359.1h.90v.90h-.90zM457.7 378.0h.90v.90h-.90zM436.0 402.6h.90v.90h-.90zM441.8 398.9h.90v.90h-.90zM438.1 385.3h.90v.90h-.90zM435.2 377.0h.90v.90h-.90zM432.0 395.3h.90v.90h-.90zM449.1 351.3h.90v.90h-.90zM442.3 369.3h.90v.90h-.90zM435.1 380.3h.90v.90h-.90zM463.6 348.3h.90v.90h-.90zM462.4 359.2h.90v.90h-.90zM437.5 388.7h.90v.90h-.90zM441.8 407.2h.90v.90h-.90zM436.1 397.9h.90v.90h-.90zM461.9 344.2h.90v.90h-.90zM459.7 403.6h.90v.90h-.90zM466.9 406.8h.90v.90h-.90zM438.6 390.3h.90v.90h-.90zM432.6 387.5h.90v.90h-.90zM460.2 343.0h.90v.90h-.90zM441.6 363.1h.90v.90h-.90zM435.3 395.4h.90v.90h-.90zM434.9 398.1h.90v.90h-.90zM437.5 387.9h.90v.90h-.90zM463.3 348.2h.90v.90h-.90zM465.5 387.1h.90v.90h-.90zM438.2 383.8h.90v.90h-.90zM440.2 372.6h.90v.90h-.90zM450.8 347.3h.90v.90h-.90zM458.7 401.0h.90v.90h-.90zM463.5 387.4h.90v.90h-.90zM446.7 364.5h.90v.90h-.90zM445.5 358.7h.90v.90h-.90zM436.3 401.1h.90v.90h-.90zM462.3 341.2h.90v.90h-.90zM454.2 401.0h.90v.90h-.90zM430.8 398.8h.90v.90h-.90zM449.0 404.0h.90v.90h-.90zM434.1 394.1h.90v.90h-.90zM442.3 405.7h.90v.90h-.90zM427.4 397.7h.90v.90h-.90zM461.1 359.8h.90v.90h-.90zM432.5 390.3h.90v.90h-.90zM447.4 404.2h.90v.90h-.90zM435.1 380.5h.90v.90h-.90zM437.0 385.4h.90v.90h-.90zM438.6 377.0h.90v.90h-.90zM444.7 354.0h.90v.90h-.90zM461.5 386.0h.90v.90h-.90zM431.8 390.4h.90v.90h-.90zM456.5 345.8h.90v.90h-.90zM433.6 398.3h.90v.90h-.90zM442.4 352.6h.90v.90h-.90zM427.4 401.0h.90v.90h-.90zM456.3 340.7h.90v.90h-.90zM430.6 398.1h.90v.90h-.90zM459.3 341.9h.90v.90h-.90zM458.8 382.2h.90v.90h-.90zM436.1 402.8h.90v.90h-.90zM446.6 404.6h.90v.90h-.90zM428.9 393.6h.90v.90h-.90zM446.7 352.4h.90v.90h-.90zM446.3 362.4h.90v.90h-.90zM466.6 400.1h.90v.90h-.90zM459.0 391.8h.90v.90h-.90zM461.9 397.6h.90v.90h-.90zM447.5 360.1h.90v.90h-.90zM437.3 388.3h.90v.90h-.90zM444.2 363.0h.90v.90h-.90zM445.1 360.9h.90v.90h-.90zM451.5 359.4h.90v.90h-.90zM461.5 378.1h.90v.90h-.90zM438.9 396.9h.90v.90h-.90zM461.9 342.5h.90v.90h-.90zM450.3 344.3h.90v.90h-.90zM463.4 364.0h.90v.90h-.90zM460.0 387.0h.90v.90h-.90zM436.9 377.8h.90v.90h-.90zM438.3 368.6h.90v.90h-.90zM463.8 394.9h.90v.90h-.90zM463.2 376.0h.90v.90h-.90zM441.4 371.3h.90v.90h-.90zM460.9 366.5h.90v.90h-.90zM461.7 401.2h.90v.90h-.90zM466.2 360.3h.90v.90h-.90zM453.8 399.8h.90v.90h-.90zM437.8 374.1h.90v.90h-.90zM454.7 346.4h.90v.90h-.90zM467.2 403.5h.90v.90h-.90zM433.7 387.9h.90v.90h-.90zM460.5 362.3h.90v.90h-.90zM462.7 366.9h.90v.90h-.90zM432.1 390.1h.90v.90h-.90zM437.0 389.2h.90v.90h-.90zM429.4 396.3h.90v.90h-.90zM461.7 354.7h.90v.90h-.90zM459.3 347.4h.90v.90h-.90zM461.2 397.3h.90v.90h-.90zM462.7 386.9h.90v.90h-.90zM466.4 399.3h.90v.90h-.90zM434.5 402.1h.90v.90h-.90zM436.6 404.4h.90v.90h-.90zM463.3 341.8h.90v.90h-.90zM436.4 404.9h.90v.90h-.90zM446.5 347.8h.90v.90h-.90zM439.0 384.3h.90v.90h-.90zM462.5 377.1h.90v.90h-.90zM461.2 350.6h.90v.90h-.90zM465.9 360.8h.90v.90h-.90zM461.5 353.2h.90v.90h-.90zM461.8 386.3h.90v.90h-.90zM441.9 371.9h.90v.90h-.90zM464.4 401.5h.90v.90h-.90zM437.4 404.1h.90v.90h-.90zM459.2 346.9h.90v.90h-.90zM454.0 339.6h.90v.90h-.90zM442.8 369.7h.90v.90h-.90zM465.7 403.9h.90v.90h-.90zM466.1 396.2h.90v.90h-.90zM452.5 406.9h.90v.90h-.90zM448.7 347.7h.90v.90h-.90zM452.1 344.1h.90v.90h-.90zM457.3 402.7h.90v.90h-.90zM455.6 345.5h.90v.90h-.90zM460.0 364.7h.90v.90h-.90zM461.2 377.5h.90v.90h-.90zM465.8 387.7h.90v.90h-.90zM441.6 363.8h.90v.90h-.90zM455.5 404.6h.90v.90h-.90zM435.1 393.3h.90v.90h-.90zM451.1 347.7h.90v.90h-.90zM436.2 385.1h.90v.90h-.90zM465.2 364.1h.90v.90h-.90zM430.3 397.6h.90v.90h-.90zM439.0 374.4h.90v.90h-.90zM451.3 353.0h.90v.90h-.90zM433.4 385.0h.90v.90h-.90zM448.3 364.1h.90v.90h-.90zM445.5 368.5h.90v.90h-.90zM451.3 401.7h.90v.90h-.90zM428.8 399.3h.90v.90h-.90zM462.8 342.5h.90v.90h-.90zM458.1 347.4h.90v.90h-.90zM430.6 403.0h.90v.90h-.90zM441.9 383.3h.90v.90h-.90zM465.2 362.1h.90v.90h-.90zM436.4 388.4h.90v.90h-.90zM454.8 338.2h.90v.90h-.90zM450.7 403.4h.90v.90h-.90zM452.3 344.6h.90v.90h-.90zM462.4 381.8h.90v.90h-.90zM450.2 402.8h.90v.90h-.90zM449.4 352.2h.90v.90h-.90zM446.0 350.2h.90v.90h-.90zM430.7 393.3h.90v.90h-.90zM438.5 378.1h.90v.90h-.90zM435.2 397.0h.90v.90h-.90zM430.0 397.4h.90v.90h-.90zM436.0 382.3h.90v.90h-.90zM449.7 347.8h.90v.90h-.90zM441.4 369.9h.90v.90h-.90zM439.2 373.5h.90v.90h-.90zM457.5 368.8h.90v.90h-.90zM435.5 398.8h.90v.90h-.90zM432.7 398.9h.90v.90h-.90zM454.7 343.4h.90v.90h-.90zM447.0 402.2h.90v.90h-.90zM436.5 396.1h.90v.90h-.90zM459.3 403.4h.90v.90h-.90zM462.3 378.3h.90v.90h-.90zM466.7 388.6h.90v.90h-.90zM446.3 363.6h.90v.90h-.90zM430.0 393.4h.90v.90h-.90zM440.8 377.9h.90v.90h-.90zM432.5 397.9h.90v.90h-.90zM456.3 343.2h.90v.90h-.90zM460.0 340.2h.90v.90h-.90zM464.6 359.3h.90v.90h-.90zM432.0 407.0h.90v.90h-.90zM429.2 398.2h.90v.90h-.90zM437.5 405.2h.90v.90h-.90zM445.0 355.1h.90v.90h-.90zM450.7 358.4h.90v.90h-.90zM446.0 356.2h.90v.90h-.90zM429.6 397.7h.90v.90h-.90zM461.2 380.6h.90v.90h-.90zM450.2 347.9h.90v.90h-.90zM450.4 350.1h.90v.90h-.90zM433.2 402.0h.90v.90h-.90zM442.1 401.0h.90v.90h-.90zM464.7 401.3h.90v.90h-.90zM450.3 405.0h.90v.90h-.90zM462.5 356.9h.90v.90h-.90zM461.0 348.3h.90v.90h-.90zM462.3 360.3h.90v.90h-.90zM447.1 361.1h.90v.90h-.90zM463.5 404.2h.90v.90h-.90zM455.9 351.1h.90v.90h-.90zM435.1 387.2h.90v.90h-.90zM454.9 347.7h.90v.90h-.90zM435.4 396.6h.90v.90h-.90zM443.7 359.5h.90v.90h-.90zM435.6 389.5h.90v.90h-.90zM433.6 392.4h.90v.90h-.90zM441.5 401.2h.90v.90h-.90zM466.2 391.6h.90v.90h-.90zM438.0 399.3h.90v.90h-.90zM466.9 364.5h.90v.90h-.90zM430.8 400.4h.90v.90h-.90zM458.8 402.8h.90v.90h-.90zM433.8 381.5h.90v.90h-.90zM458.5 348.9h.90v.90h-.90zM462.8 381.0h.90v.90h-.90zM444.1 365.8h.90v.90h-.90zM448.5 402.6h.90v.90h-.90zM442.8 408.7h.90v.90h-.90zM464.4 347.5h.90v.90h-.90zM459.9 353.6h.90v.90h-.90zM437.3 402.0h.90v.90h-.90zM430.8 397.1h.90v.90h-.90zM457.3 400.7h.90v.90h-.90zM443.5 377.5h.90v.90h-.90zM458.5 405.1h.90v.90h-.90zM454.9 401.8h.90v.90h-.90zM432.9 401.3h.90v.90h-.90zM464.7 372.4h.90v.90h-.90zM458.5 363.9h.90v.90h-.90zM439.1 376.6h.90v.90h-.90zM439.5 372.8h.90v.90h-.90zM464.4 374.5h.90v.90h-.90zM433.9 380.3h.90v.90h-.90zM458.5 403.5h.90v.90h-.90zM439.0 379.4h.90v.90h-.90zM445.5 408.0h.90v.90h-.90zM430.6 394.9h.90v.90h-.90zM442.9 403.2h.90v.90h-.90zM461.8 385.9h.90v.90h-.90zM465.2 372.7h.90v.90h-.90zM462.8 363.9h.90v.90h-.90zM430.5 400.0h.90v.90h-.90zM455.3 403.6h.90v.90h-.90zM460.1 362.8h.90v.90h-.90zM433.9 380.1h.90v.90h-.90zM464.3 356.5h.90v.90h-.90zM444.3 373.5h.90v.90h-.90zM440.4 403.8h.90v.90h-.90zM462.4 365.8h.90v.90h-.90zM428.4 400.3h.90v.90h-.90zM453.3 345.2h.90v.90h-.90zM455.2 338.4h.90v.90h-.90zM434.7 386.4h.90v.90h-.90zM448.9 397.9h.90v.90h-.90zM439.0 372.2h.90v.90h-.90zM459.2 337.7h.90v.90h-.90zM460.7 377.7h.90v.90h-.90zM458.6 343.0h.90v.90h-.90zM463.5 382.4h.90v.90h-.90zM459.9 370.6h.90v.90h-.90zM441.2 368.8h.90v.90h-.90zM453.3 345.2h.90v.90h-.90zM455.3 339.9h.90v.90h-.90zM444.3 361.8h.90v.90h-.90zM455.1 343.8h.90v.90h-.90zM460.0 383.4h.90v.90h-.90zM459.6 392.4h.90v.90h-.90zM457.8 341.0h.90v.90h-.90zM454.7 347.1h.90v.90h-.90zM448.4 364.4h.90v.90h-.90zM436.7 400.6h.90v.90h-.90zM438.8 373.5h.90v.90h-.90zM450.7 406.0h.90v.90h-.90zM445.6 368.5h.90v.90h-.90zM443.6 374.7h.90v.90h-.90zM460.7 365.4h.90v.90h-.90zM446.2 354.0h.90v.90h-.90zM459.9 340.6h.90v.90h-.90zM462.3 383.8h.90v.90h-.90zM463.0 378.8h.90v.90h-.90zM464.7 398.6h.90v.90h-.90zM450.4 405.6h.90v.90h-.90zM436.7 381.1h.90v.90h-.90zM432.9 401.6h.90v.90h-.90zM453.8 354.4h.90v.90h-.90zM431.3 391.6h.90v.90h-.90zM430.2 399.7h.90v.90h-.90zM452.9 404.3h.90v.90h-.90zM434.3 398.0h.90v.90h-.90zM445.7 405.1h.90v.90h-.90zM448.7 352.7h.90v.90h-.90zM447.2 403.6h.90v.90h-.90zM465.0 382.4h.90v.90h-.90zM435.4 390.4h.90v.90h-.90zM444.3 403.7h.90v.90h-.90zM465.5 376.5h.90v.90h-.90zM461.4 380.3h.90v.90h-.90zM447.4 404.6h.90v.90h-.90zM436.1 407.3h.90v.90h-.90zM458.1 341.1h.90v.90h-.90zM433.6 399.9h.90v.90h-.90zM462.2 369.2h.90v.90h-.90zM431.9 398.0h.90v.90h-.90zM438.6 405.3h.90v.90h-.90zM461.5 373.6h.90v.90h-.90zM461.1 384.9h.90v.90h-.90zM466.2 383.0h.90v.90h-.90zM432.8 401.2h.90v.90h-.90zM452.0 353.9h.90v.90h-.90zM428.1 401.1h.90v.90h-.90zM454.7 339.3h.90v.90h-.90zM454.2 403.4h.90v.90h-.90zM436.4 402.2h.90v.90h-.90zM439.2 380.2h.90v.90h-.90zM438.3 398.4h.90v.90h-.90zM435.7 387.7h.90v.90h-.90zM430.3 387.9h.90v.90h-.90zM437.2 398.3h.90v.90h-.90zM453.9 352.6h.90v.90h-.90zM442.0 404.9h.90v.90h-.90zM438.6 377.9h.90v.90h-.90zM450.0 400.1h.90v.90h-.90zM442.6 400.9h.90v.90h-.90zM457.6 392.0h.90v.90h-.90zM437.9 402.3h.90v.90h-.90zM433.2 398.3h.90v.90h-.90zM441.5 406.5h.90v.90h-.90zM461.0 362.9h.90v.90h-.90zM465.1 401.9h.90v.90h-.90zM445.7 362.6h.90v.90h-.90zM453.2 408.2h.90v.90h-.90zM437.1 381.7h.90v.90h-.90zM464.1 361.5h.90v.90h-.90zM434.0 402.5h.90v.90h-.90zM446.1 366.2h.90v.90h-.90zM437.0 395.9h.90v.90h-.90zM450.8 351.4h.90v.90h-.90zM441.1 373.9h.90v.90h-.90zM462.9 356.3h.90v.90h-.90zM436.6 379.9h.90v.90h-.90zM466.5 387.1h.90v.90h-.90zM445.0 353.3h.90v.90h-.90zM464.1 389.8h.90v.90h-.90zM452.3 403.4h.90v.90h-.90zM462.3 381.5h.90v.90h-.90zM458.4 338.4h.90v.90h-.90zM435.4 396.5h.90v.90h-.90zM443.0 377.0h.90v.90h-.90zM458.4 402.0h.90v.90h-.90zM434.5 392.8h.90v.90h-.90zM447.7 404.4h.90v.90h-.90zM432.2 403.8h.90v.90h-.90zM433.3 395.3h.90v.90h-.90zM461.2 400.4h.90v.90h-.90zM457.1 347.0h.90v.90h-.90zM451.7 357.4h.90v.90h-.90zM444.6 367.6h.90v.90h-.90zM463.8 385.0h.90v.90h-.90zM447.6 358.3h.90v.90h-.90zM453.7 339.0h.90v.90h-.90zM428.2 395.1h.90v.90h-.90zM432.7 392.8h.90v.90h-.90zM438.8 399.2h.90v.90h-.90zM456.5 403.9h.90v.90h-.90zM457.4 342.4h.90v.90h-.90zM434.0 406.1h.90v.90h-.90zM446.1 360.8h.90v.90h-.90zM437.7 387.2h.90v.90h-.90zM438.3 388.1h.90v.90h-.90zM458.0 356.5h.90v.90h-.90zM438.2 361.0h.90v.90h-.90zM461.6 353.8h.90v.90h-.90zM457.2 345.9h.90v.90h-.90zM464.5 391.9h.90v.90h-.90zM461.2 350.2h.90v.90h-.90zM443.8 374.2h.90v.90h-.90zM467.5 375.4h.90v.90h-.90zM451.8 402.7h.90v.90h-.90zM450.3 351.1h.90v.90h-.90zM460.1 370.6h.90v.90h-.90zM430.0 401.4h.90v.90h-.90zM451.8 400.7h.90v.90h-.90zM456.9 341.3h.90v.90h-.90zM453.4 401.9h.90v.90h-.90zM450.6 405.5h.90v.90h-.90zM457.8 340.1h.90v.90h-.90zM466.6 367.0h.90v.90h-.90zM434.0 390.8h.90v.90h-.90zM456.2 342.0h.90v.90h-.90zM460.2 359.1h.90v.90h-.90zM440.9 383.1h.90v.90h-.90zM464.0 368.1h.90v.90h-.90zM459.3 343.5h.90v.90h-.90zM439.5 382.6h.90v.90h-.90zM437.2 382.9h.90v.90h-.90zM434.1 385.9h.90v.90h-.90zM462.1 354.0h.90v.90h-.90zM461.1 361.3h.90v.90h-.90zM435.9 391.5h.90v.90h-.90zM435.4 403.3h.90v.90h-.90zM462.3 365.3h.90v.90h-.90zM442.7 369.9h.90v.90h-.90zM463.4 390.9h.90v.90h-.90zM427.2 401.0h.90v.90h-.90zM462.6 402.2h.90v.90h-.90zM430.8 402.4h.90v.90h-.90zM459.9 352.9h.90v.90h-.90zM436.6 403.6h.90v.90h-.90zM462.0 363.2h.90v.90h-.90zM454.0 398.2h.90v.90h-.90zM439.0 369.7h.90v.90h-.90zM438.6 400.4h.90v.90h-.90zM440.8 377.9h.90v.90h-.90zM435.7 383.8h.90v.90h-.90zM433.9 405.2h.90v.90h-.90zM432.5 393.9h.90v.90h-.90zM434.7 403.2h.90v.90h-.90zM443.3 403.7h.90v.90h-.90zM432.7 397.9h.90v.90h-.90zM449.4 400.4h.90v.90h-.90zM440.6 375.6h.90v.90h-.90zM435.1 401.8h.90v.90h-.90zM461.6 386.9h.90v.90h-.90zM436.4 384.9h.90v.90h-.90zM443.8 361.6h.90v.90h-.90zM453.6 403.5h.90v.90h-.90zM449.5 355.8h.90v.90h-.90zM462.4 371.3h.90v.90h-.90zM437.7 407.4h.90v.90h-.90zM462.1 359.5h.90v.90h-.90zM465.3 353.4h.90v.90h-.90zM463.7 372.9h.90v.90h-.90zM455.0 402.5h.90v.90h-.90zM460.7 402.9h.90v.90h-.90zM463.7 380.3h.90v.90h-.90zM466.3 389.2h.90v.90h-.90zM460.8 361.2h.90v.90h-.90zM440.1 404.3h.90v.90h-.90zM460.7 357.2h.90v.90h-.90zM463.7 367.9h.90v.90h-.90zM435.8 401.9h.90v.90h-.90zM433.3 393.9h.90v.90h-.90zM463.4 390.8h.90v.90h-.90zM450.5 357.0h.90v.90h-.90zM433.4 395.2h.90v.90h-.90zM466.7 371.2h.90v.90h-.90zM444.2 360.0h.90v.90h-.90zM465.8 384.4h.90v.90h-.90zM440.8 376.6h.90v.90h-.90zM447.6 400.4h.90v.90h-.90zM464.4 404.8h.90v.90h-.90zM441.3 377.4h.90v.90h-.90zM432.8 399.5h.90v.90h-.90zM454.7 346.2h.90v.90h-.90zM441.8 377.4h.90v.90h-.90zM443.1 369.8h.90v.90h-.90zM435.0 389.3h.90v.90h-.90zM466.2 390.6h.90v.90h-.90zM434.1 401.3h.90v.90h-.90zM455.6 343.7h.90v.90h-.90zM454.5 342.5h.90v.90h-.90zM437.4 368.9h.90v.90h-.90zM460.3 386.6h.90v.90h-.90zM462.1 350.8h.90v.90h-.90zM431.9 402.9h.90v.90h-.90zM450.6 358.5h.90v.90h-.90zM460.0 377.4h.90v.90h-.90zM463.0 390.0h.90v.90h-.90zM439.8 379.6h.90v.90h-.90zM445.9 366.0h.90v.90h-.90zM461.7 359.1h.90v.90h-.90zM459.3 368.6h.90v.90h-.90zM456.9 341.5h.90v.90h-.90zM464.1 396.6h.90v.90h-.90zM450.4 359.5h.90v.90h-.90zM447.7 357.0h.90v.90h-.90zM430.8 391.0h.90v.90h-.90zM452.6 399.8h.90v.90h-.90zM445.8 360.1h.90v.90h-.90zM435.0 395.4h.90v.90h-.90zM438.7 378.9h.90v.90h-.90zM464.3 349.2h.90v.90h-.90zM436.5 372.3h.90v.90h-.90zM463.1 367.8h.90v.90h-.90zM432.3 398.0h.90v.90h-.90zM464.1 384.6h.90v.90h-.90zM432.8 391.9h.90v.90h-.90zM434.2 398.5h.90v.90h-.90zM447.3 402.6h.90v.90h-.90zM429.6 405.5h.90v.90h-.90zM463.8 384.6h.90v.90h-.90zM453.9 339.7h.90v.90h-.90zM464.6 379.4h.90v.90h-.90zM446.9 360.6h.90v.90h-.90zM463.5 396.6h.90v.90h-.90zM458.8 340.6h.90v.90h-.90zM447.4 399.2h.90v.90h-.90zM463.7 381.4h.90v.90h-.90zM433.2 396.5h.90v.90h-.90zM447.4 357.5h.90v.90h-.90zM466.9 369.8h.90v.90h-.90zM461.9 364.0h.90v.90h-.90zM461.5 359.3h.90v.90h-.90zM451.0 342.3h.90v.90h-.90zM458.3 347.5h.90v.90h-.90zM449.4 349.1h.90v.90h-.90zM462.1 355.8h.90v.90h-.90zM441.3 375.9h.90v.90h-.90zM459.4 357.3h.90v.90h-.90zM457.0 398.8h.90v.90h-.90zM460.8 351.2h.90v.90h-.90zM446.2 358.8h.90v.90h-.90zM465.6 398.4h.90v.90h-.90zM433.2 397.2h.90v.90h-.90zM433.1 386.0h.90v.90h-.90zM464.1 375.4h.90v.90h-.90zM461.4 403.1h.90v.90h-.90zM464.3 393.9h.90v.90h-.90zM464.5 373.8h.90v.90h-.90zM463.7 379.5h.90v.90h-.90zM465.2 397.4h.90v.90h-.90zM454.3 340.2h.90v.90h-.90zM451.8 343.4h.90v.90h-.90zM462.0 382.8h.90v.90h-.90zM456.4 353.6h.90v.90h-.90zM433.2 392.4h.90v.90h-.90zM462.1 364.2h.90v.90h-.90zM446.0 402.3h.90v.90h-.90zM462.7 380.6h.90v.90h-.90zM451.2 357.5h.90v.90h-.90zM448.2 345.4h.90v.90h-.90zM438.3 385.2h.90v.90h-.90zM462.5 396.3h.90v.90h-.90zM459.4 397.8h.90v.90h-.90zM465.0 397.8h.90v.90h-.90zM447.8 356.9h.90v.90h-.90zM456.1 343.4h.90v.90h-.90zM443.3 376.1h.90v.90h-.90zM462.3 361.5h.90v.90h-.90zM464.9 387.6h.90v.90h-.90zM436.6 378.8h.90v.90h-.90z"/>
<path d="M438,396 L446,374 L454,356 L459,372 L461,396 L438,396Z" fill="none" stroke="#aaa" stroke-width="0.5"/>
<defs><clipPath id="cH"><rect x="466" y="331" width="46" height="79.5"/></clipPath></defs>
<g fill="none" stroke="#666" stroke-width="0.4" stroke-opacity="0.75" stroke-linejoin="round" clip-path="url(#cH)"><path d="M488.2,403.3 487.2,403.4 485.0,403.1 482.4,403.2 481.2,403.1 479.6,402.5 477.4,401.4 473.6,399.8 472.6,399.6 470.4,399.5 469.6,399.3 468.6,398.9 467.6,398.2 466.6,397.1 465.7,395.2 465.1,392.2 464.0,389.0 463.3,385.2 462.7,382.4 462.5,380.8 462.3,376.8 462.4,373.4 463.0,369.0 463.8,365.3 464.1,362.6 464.7,360.0 465.1,357.0 465.4,355.2 466.6,351.8 467.1,348.6 467.5,347.2 468.7,343.4 470.8,338.2 471.4,337.0 472.2,336.0 473.4,335.0 474.4,334.6 474.8,334.6 475.2,334.7 475.7,335.2 477.0,337.8 478.1,339.6 478.5,340.8 480.0,346.4 480.6,347.5 481.2,348.2 482.3,348.8 483.8,349.0 484.8,348.9 486.6,348.1 487.2,348.0 487.8,348.1 488.4,348.4 490.0,349.8 490.8,350.1 492.4,350.4 493.2,350.7 497.4,353.5 499.6,354.4 500.5,355.0 503.4,358.8 505.3,360.6 505.9,361.4 507.7,366.0 508.1,368.4 508.9,370.8 509.1,372.0 509.1,373.0 508.5,376.0 508.5,377.0 509.0,380.8 509.1,382.0 508.9,383.0 508.6,384.2 508.1,385.2 507.6,386.1 506.1,388.0 504.4,391.6 503.8,392.4 502.2,394.0 500.8,395.8 499.0,397.6 497.8,399.6 497.2,400.2 496.6,400.5 495.0,401.2 493.2,402.2 492.4,402.3 490.4,402.3 488.2,403.3Z"/><path d="M486.8,400.4 486.2,400.4 484.0,400.0 481.0,400.1 480.0,400.0 477.0,398.7 474.8,397.3 474.0,397.2 471.8,397.3 471.2,397.2 470.4,396.8 468.2,395.0 467.4,394.0 465.6,389.6 464.9,387.0 464.5,383.2 464.1,380.6 463.8,376.2 463.7,374.8 464.1,370.2 465.1,365.4 465.3,362.4 465.7,360.0 466.1,356.6 466.5,355.0 467.6,351.8 468.2,348.0 469.3,344.6 471.8,339.4 472.6,338.3 473.0,338.0 473.4,337.8 474.0,337.9 474.8,338.4 476.1,339.8 476.8,340.8 478.2,344.4 478.8,347.3 479.4,349.4 479.8,350.4 480.2,350.9 481.0,351.4 481.8,351.6 485.4,351.8 487.4,351.7 488.2,351.8 492.0,353.1 493.4,353.7 494.2,354.1 496.6,356.2 498.8,357.4 501.0,359.7 502.9,362.4 503.1,363.0 503.3,364.8 503.5,365.4 504.8,366.7 505.2,367.6 505.5,369.8 506.5,373.8 506.5,374.8 506.2,377.2 506.3,380.6 506.1,381.8 505.5,383.6 504.3,386.2 503.4,389.0 502.8,389.8 500.7,391.8 499.1,394.2 495.5,397.6 492.0,399.5 491.2,399.6 489.2,399.5 486.8,400.4Z"/><path d="M490.8,397.6 489.0,397.6 486.2,397.7 485.2,397.5 483.0,396.6 481.8,396.4 480.8,396.4 479.0,396.6 478.2,396.6 477.4,396.3 476.6,395.8 474.8,393.9 474.4,393.6 474.0,393.6 473.6,393.6 472.2,394.3 471.4,394.1 469.2,392.7 468.2,391.7 467.2,390.0 465.9,386.8 465.7,385.4 465.6,382.8 465.2,380.2 464.7,375.6 464.7,374.4 464.9,370.6 465.9,365.4 466.1,362.0 466.7,357.2 467.1,355.4 468.5,351.4 469.0,348.0 469.9,345.4 470.5,344.2 472.2,341.6 472.8,341.0 473.2,340.7 474.0,340.7 474.8,341.2 475.6,342.1 476.5,343.6 477.2,345.2 478.2,349.6 478.6,350.8 479.4,352.4 480.4,353.6 481.2,354.1 482.0,354.2 486.0,353.8 488.0,353.9 491.4,354.8 492.8,355.4 495.8,358.2 497.7,360.4 499.8,361.9 500.5,362.6 500.8,363.2 500.9,363.8 500.8,366.0 501.0,367.0 501.6,367.8 502.9,368.8 503.4,369.8 503.8,372.6 504.6,375.0 504.7,376.6 504.1,379.4 503.9,381.8 502.7,384.8 501.9,387.6 501.4,388.4 500.3,389.8 498.2,392.0 495.6,394.0 493.7,395.2 491.9,397.2 491.4,397.5 490.8,397.6Z"/><path d="M489.2,395.6 485.8,395.3 483.0,394.4 482.0,394.2 480.8,394.3 479.0,394.8 478.4,394.8 478.0,394.7 477.5,394.4 477.2,393.8 477.1,393.2 477.2,391.8 477.2,391.6 476.8,391.3 476.2,391.2 472.8,390.9 470.2,391.0 469.6,390.8 469.2,390.6 468.8,390.2 468.4,389.5 466.7,385.8 466.6,384.8 466.5,382.6 465.9,380.0 465.8,377.6 465.5,375.4 465.4,374.2 465.7,370.2 466.6,365.2 466.8,361.6 467.0,359.2 467.7,355.6 469.5,350.8 469.8,348.2 470.4,346.4 470.8,345.4 471.4,344.6 472.4,343.6 473.2,343.1 473.8,343.1 474.4,343.3 475.0,343.9 475.6,344.8 476.0,345.8 477.6,350.6 479.6,355.4 480.0,356.1 480.6,356.2 482.0,356.0 483.0,355.9 486.4,356.3 489.0,356.2 490.2,356.3 491.2,356.7 492.6,357.9 494.2,358.8 495.0,359.4 496.6,361.6 498.4,363.2 499.0,364.0 499.3,365.0 499.2,367.4 499.4,368.4 499.8,369.1 501.1,370.2 501.5,370.8 501.7,371.4 501.9,373.6 503.0,375.6 503.1,376.2 503.0,376.8 502.2,379.2 502.2,381.0 502.1,381.8 501.7,382.6 500.4,384.6 499.8,387.6 499.2,389.0 498.6,389.6 498.0,390.1 495.8,390.9 494.2,392.7 492.2,394.0 490.8,395.1 490.0,395.5 489.2,395.6Z"/><path d="M489.8,393.8 489.0,394.0 488.2,393.9 484.4,392.9 480.8,391.5 478.6,389.9 477.4,389.3 476.6,389.2 474.8,389.1 473.2,388.9 471.0,388.8 470.2,388.7 469.6,388.4 469.1,387.8 468.3,386.6 467.8,385.4 467.6,384.6 467.3,382.4 466.6,380.0 466.5,377.2 466.0,374.0 466.3,370.0 467.2,364.8 467.4,360.2 467.9,357.6 468.7,354.6 469.2,353.2 470.5,350.6 470.8,348.2 471.0,347.3 471.6,346.0 472.0,345.6 472.6,345.3 473.4,345.2 473.8,345.5 474.2,345.9 477.1,351.4 477.7,353.0 478.1,354.4 478.4,357.7 478.6,358.3 479.0,358.8 479.6,359.2 480.4,359.2 481.0,358.9 482.0,358.0 482.8,357.7 483.4,357.9 484.4,358.7 485.0,358.9 485.8,358.8 487.8,358.3 488.8,358.3 489.6,358.5 491.4,359.6 493.6,360.4 494.4,361.2 497.2,365.3 497.5,366.0 497.8,368.0 498.0,368.9 498.4,369.6 499.5,371.0 499.8,371.6 500.1,374.2 500.9,377.2 500.8,380.2 500.6,381.0 500.4,381.6 499.2,383.1 498.7,384.0 497.9,387.6 497.6,388.0 497.2,388.3 495.4,388.5 494.6,388.8 494.0,389.5 493.5,391.0 493.0,391.7 490.8,393.3 489.8,393.8Z"/><path d="M490.0,392.0 489.4,392.1 489.0,392.1 487.2,391.2 484.8,391.3 483.4,390.9 479.0,388.9 477.3,388.0 475.8,386.9 475.4,386.7 474.6,386.8 472.0,387.5 471.2,387.6 470.6,387.5 470.0,387.1 469.6,386.7 469.1,386.0 468.6,385.0 467.2,379.6 467.0,377.0 466.5,374.0 466.7,370.8 467.0,368.6 467.6,365.2 467.8,363.2 467.8,360.6 468.1,359.0 469.5,354.0 470.0,352.9 471.5,350.6 471.7,349.8 472.0,348.1 472.2,347.7 472.6,347.4 473.0,347.4 473.6,347.9 475.6,350.4 476.6,352.0 476.9,352.8 477.2,354.0 477.5,357.4 477.7,358.4 478.2,359.5 478.8,360.3 479.4,360.7 480.2,360.9 482.2,360.9 484.0,361.1 484.8,361.0 487.0,360.2 488.4,360.0 489.0,360.2 490.4,361.1 492.6,361.8 493.2,362.3 493.7,363.0 495.0,366.0 498.3,371.6 498.5,372.4 498.8,374.7 499.7,378.4 499.8,379.4 499.6,380.4 499.2,381.0 498.2,382.4 497.0,384.7 496.2,385.8 495.4,386.6 493.2,388.2 492.5,389.0 491.7,390.8 490.8,391.6 490.0,392.0Z"/><path d="M485.0,389.7 484.2,389.7 483.2,389.6 480.0,388.4 478.8,387.9 477.7,387.0 477.3,386.4 476.6,384.9 476.4,384.7 476.0,384.5 475.4,384.6 473.6,385.8 472.4,386.3 471.4,386.5 470.6,386.2 469.9,385.6 469.3,384.4 467.9,380.2 467.7,379.2 467.5,376.8 467.0,374.4 466.9,373.0 467.3,368.8 467.9,366.0 468.2,364.2 468.3,363.0 468.2,361.0 468.3,360.0 469.2,357.0 469.8,354.6 470.2,353.6 470.8,352.7 472.4,351.0 473.0,350.5 473.4,350.3 474.0,350.3 474.8,350.8 475.6,351.6 476.1,352.4 476.6,353.8 477.0,357.8 477.3,359.2 478.2,361.1 479.2,362.4 479.8,362.7 480.4,362.8 482.4,362.6 484.6,362.7 486.6,362.4 487.4,362.6 488.6,363.5 489.2,363.7 490.0,363.8 491.4,363.5 492.2,363.7 492.8,364.2 493.2,364.8 494.4,367.3 496.6,370.8 497.1,371.8 497.7,377.2 498.3,378.8 498.3,379.4 498.1,380.2 496.2,384.0 494.8,385.6 494.0,386.2 493.0,386.8 489.6,388.2 487.2,388.7 485.0,389.7Z"/><path d="M482.6,387.4 481.4,387.6 480.4,387.5 479.6,387.3 478.8,386.8 478.4,386.4 478.1,385.8 477.4,383.3 477.2,383.0 476.8,382.7 476.0,382.8 475.2,383.1 473.4,384.7 472.6,385.1 471.8,385.3 471.0,385.1 470.2,384.4 469.6,383.4 468.3,379.6 468.0,376.6 467.5,374.2 467.4,372.8 467.7,368.8 468.3,366.2 468.6,364.2 468.7,360.2 469.7,357.4 470.3,354.8 470.6,354.0 471.2,353.2 472.0,352.4 472.8,351.8 473.4,351.5 474.0,351.5 474.6,351.7 475.2,352.2 475.7,353.0 476.0,354.2 476.5,358.0 476.8,359.6 477.9,363.0 478.4,364.0 479.0,364.8 479.6,365.1 480.4,365.2 484.8,364.1 486.0,364.0 486.8,364.1 488.2,364.8 488.8,364.9 491.2,365.0 491.8,365.2 492.2,365.4 492.6,366.0 494.3,369.2 495.4,371.0 495.7,371.8 496.1,375.4 495.6,378.2 495.7,379.0 496.2,380.2 496.3,381.0 496.2,381.8 495.9,382.6 495.0,384.0 494.0,385.0 493.0,385.4 492.4,385.5 490.2,385.5 489.4,385.8 487.8,386.7 486.8,387.0 485.0,387.3 482.6,387.4Z"/><path d="M480.8,386.3 480.2,386.4 479.6,386.3 479.0,385.8 478.8,385.2 478.7,384.6 478.8,384.0 479.6,382.4 479.7,381.8 479.5,381.2 478.8,379.8 478.3,377.0 478.1,376.4 477.8,376.1 477.4,375.9 476.8,376.0 476.2,376.3 475.8,376.8 475.2,378.2 474.6,381.2 474.4,381.8 473.2,383.4 472.7,383.8 472.2,384.0 471.6,384.1 471.2,383.9 470.6,383.5 470.2,383.0 469.9,382.4 468.7,379.0 468.5,376.4 467.9,374.2 467.7,372.8 468.1,368.8 468.8,366.2 469.0,364.2 469.1,360.4 470.1,357.8 470.7,355.2 471.0,354.4 471.4,353.8 472.0,353.2 472.8,352.6 473.4,352.4 474.0,352.4 474.6,352.6 475.0,353.0 475.3,353.6 475.6,354.8 476.1,358.6 477.0,363.3 478.2,366.0 478.8,366.8 479.9,367.6 480.4,368.9 480.8,369.1 481.4,369.2 482.0,369.0 482.6,368.7 483.2,368.0 484.0,366.2 484.6,365.6 485.2,365.3 486.0,365.2 488.0,365.7 490.8,365.9 491.6,366.3 492.2,367.0 494.3,371.4 494.6,372.2 494.7,375.2 494.6,375.8 494.1,377.0 494.0,377.6 494.3,378.6 495.1,380.6 495.2,381.4 494.9,382.6 494.2,383.7 493.4,384.2 492.6,384.4 491.8,384.3 489.8,383.9 489.0,384.0 487.2,384.6 486.6,384.6 485.4,384.3 484.8,384.4 482.6,385.2 480.8,386.3Z"/><path d="M493.0,383.2 492.6,383.3 492.0,383.2 490.2,382.3 489.2,382.0 487.0,382.4 484.8,382.4 482.6,383.1 482.0,383.1 481.7,383.0 481.4,382.6 480.7,381.0 479.9,379.6 479.6,378.9 479.4,377.2 479.4,375.0 479.2,374.2 478.8,373.6 478.4,373.3 478.0,373.2 477.4,373.3 476.4,373.9 475.8,374.3 475.2,375.1 474.7,376.2 473.9,379.2 472.8,381.5 472.4,382.2 472.0,382.5 471.6,382.7 471.2,382.6 470.8,382.2 469.2,378.8 468.9,376.4 468.2,373.8 468.1,372.2 468.4,368.8 469.2,366.2 469.4,364.4 469.5,363.2 469.5,361.2 469.6,360.4 470.5,358.2 471.3,355.0 471.8,354.2 472.6,353.5 473.4,353.2 474.2,353.3 474.8,353.9 475.2,355.1 476.0,360.4 476.0,363.2 476.8,365.2 477.0,366.0 476.9,367.0 476.1,368.6 475.9,369.6 475.9,370.6 476.1,371.0 476.4,371.3 476.8,371.5 477.4,371.5 479.2,370.9 481.5,370.4 482.6,370.0 484.2,369.0 486.0,367.2 487.0,366.8 488.6,366.5 490.0,366.6 490.8,366.9 491.3,367.4 493.0,371.4 493.3,372.4 493.3,373.2 493.0,374.0 492.6,374.5 491.4,375.6 491.2,376.0 491.0,376.6 491.2,377.2 491.4,377.6 493.2,379.2 493.7,380.0 494.0,380.8 494.1,381.6 494.0,382.2 493.6,382.8 493.0,383.2Z"/><path d="M471.6,380.2 471.2,380.2 470.6,379.8 470.1,379.2 469.8,378.4 469.5,376.4 468.8,374.4 468.5,373.4 468.5,372.4 468.7,369.4 468.9,368.4 469.6,366.4 469.9,364.6 470.0,363.2 469.9,361.4 470.1,360.6 471.0,358.6 471.5,356.2 471.9,355.2 472.4,354.6 472.8,354.3 473.6,354.0 474.0,354.1 474.4,354.5 474.8,355.8 475.4,360.4 475.0,363.2 475.2,364.0 475.8,365.4 475.9,366.2 475.8,366.8 475.0,369.0 474.3,373.2 473.5,376.0 473.1,378.4 472.4,379.7 472.0,380.0 471.6,380.2Z"/><path d="M483.4,381.4 482.8,381.4 482.2,381.0 481.5,379.4 480.6,378.0 480.4,377.0 480.5,374.6 480.1,372.8 480.2,372.2 481.0,371.6 483.4,370.7 485.0,370.0 485.6,369.6 487.0,368.2 487.8,367.7 488.8,367.5 489.8,367.6 490.1,367.8 490.4,368.3 491.7,371.0 491.9,371.8 491.9,372.6 491.6,373.4 491.0,373.9 490.0,374.4 489.9,374.8 490.0,376.6 490.2,377.6 490.7,378.4 491.9,379.8 492.2,380.4 492.2,380.8 492.0,381.1 491.6,381.2 488.8,380.8 486.6,381.3 484.6,381.3 483.4,381.4Z"/><path d="M471.4,378.3 471.0,378.2 470.9,378.0 470.5,376.6 469.5,374.8 469.1,373.8 469.0,372.6 469.2,369.6 469.3,368.6 470.1,366.6 470.7,364.0 470.8,363.2 470.6,361.6 470.7,361.0 471.0,360.4 471.9,359.0 472.1,356.8 472.4,356.0 472.8,355.4 473.4,355.1 473.8,355.3 474.0,355.5 474.2,356.0 474.4,356.9 474.6,360.2 474.4,361.1 473.8,362.4 473.8,363.0 474.7,365.4 474.8,366.2 474.2,368.2 473.9,370.4 473.2,373.8 472.8,374.8 471.8,376.6 471.6,378.0 471.4,378.3Z"/><path d="M487.0,379.8 486.0,380.0 485.4,379.8 484.9,379.6 484.5,379.2 483.6,377.8 481.9,376.4 481.5,375.4 481.4,374.0 481.6,373.0 482.0,372.5 483.0,372.1 484.4,371.9 485.6,371.9 486.0,372.0 486.2,372.2 486.6,373.6 486.9,374.2 487.4,374.8 488.4,375.7 488.8,376.2 489.0,376.8 489.2,378.2 489.2,378.8 489.0,379.1 487.0,379.8Z"/><path d="M471.2,375.2 470.8,375.2 470.4,375.0 470.0,374.6 469.6,373.8 469.4,372.6 469.6,369.8 469.8,368.8 470.4,367.2 471.1,365.0 471.6,364.1 471.8,363.9 472.2,363.7 472.8,364.0 473.4,364.6 473.6,365.2 473.7,366.0 473.3,368.0 473.2,370.4 472.6,373.2 472.0,374.6 471.6,375.0 471.2,375.2Z"/><path d="M486.6,378.2 486.0,378.2 485.4,377.8 482.7,375.6 482.4,375.0 482.3,374.4 482.5,373.8 482.8,373.5 483.6,373.2 484.2,373.3 484.6,373.5 487.4,376.2 487.8,376.8 487.8,377.4 487.4,377.9 486.6,378.2Z"/><path d="M471.2,374.3 470.8,374.4 470.5,374.2 470.2,373.9 470.0,373.4 469.9,372.4 470.0,370.2 470.2,369.2 470.9,367.6 471.4,366.0 471.8,365.3 472.2,365.1 472.6,365.2 472.8,365.8 472.4,368.0 472.6,369.8 472.6,370.6 472.0,373.2 471.6,374.0 471.2,374.3Z"/></g>
<path fill="#1e1e1e" d="M481.6 340.5h1.00v1.00h-1.00zM481.1 342.3h1.00v1.00h-1.00zM492.2 348.7h1.00v1.00h-1.00zM475.5 337.0h1.00v1.00h-1.00zM487.5 348.2h1.00v1.00h-1.00zM484.3 344.4h1.00v1.00h-1.00zM479.6 346.0h1.00v1.00h-1.00zM474.4 339.3h1.00v1.00h-1.00zM497.4 347.4h1.00v1.00h-1.00zM489.5 348.8h1.00v1.00h-1.00zM483.3 339.7h1.00v1.00h-1.00zM476.4 343.8h1.00v1.00h-1.00zM480.3 341.5h1.00v1.00h-1.00zM490.1 342.6h1.00v1.00h-1.00zM494.4 341.1h1.00v1.00h-1.00zM492.3 342.0h1.00v1.00h-1.00zM477.8 346.1h1.00v1.00h-1.00zM478.5 339.3h1.00v1.00h-1.00zM489.4 341.5h1.00v1.00h-1.00zM486.9 344.6h1.00v1.00h-1.00zM478.2 340.9h1.00v1.00h-1.00zM477.9 347.6h1.00v1.00h-1.00zM480.5 338.9h1.00v1.00h-1.00zM492.5 348.3h1.00v1.00h-1.00zM469.8 334.2h1.00v1.00h-1.00zM473.6 339.6h1.00v1.00h-1.00zM498.2 345.9h1.00v1.00h-1.00zM479.5 347.6h1.00v1.00h-1.00zM470.6 342.5h1.00v1.00h-1.00zM473.1 346.3h1.00v1.00h-1.00zM469.0 339.9h1.00v1.00h-1.00zM487.0 346.3h1.00v1.00h-1.00zM497.4 352.6h1.00v1.00h-1.00zM497.3 352.6h1.00v1.00h-1.00zM472.2 349.2h1.00v1.00h-1.00zM496.0 347.9h1.00v1.00h-1.00zM485.8 342.8h1.00v1.00h-1.00zM492.6 350.5h1.00v1.00h-1.00zM486.9 347.2h1.00v1.00h-1.00zM469.6 339.9h1.00v1.00h-1.00zM484.8 344.6h1.00v1.00h-1.00zM486.8 337.8h1.00v1.00h-1.00zM476.6 345.2h1.00v1.00h-1.00zM485.0 346.0h1.00v1.00h-1.00zM465.7 341.2h1.00v1.00h-1.00zM496.8 348.3h1.00v1.00h-1.00zM477.3 340.0h1.00v1.00h-1.00zM489.3 343.7h1.00v1.00h-1.00zM469.0 343.3h1.00v1.00h-1.00zM479.4 338.1h1.00v1.00h-1.00zM472.9 343.7h1.00v1.00h-1.00zM487.3 343.7h1.00v1.00h-1.00zM482.2 339.5h1.00v1.00h-1.00zM495.8 345.9h1.00v1.00h-1.00zM474.8 344.0h1.00v1.00h-1.00zM486.3 339.5h1.00v1.00h-1.00zM487.6 344.6h1.00v1.00h-1.00zM477.3 341.4h1.00v1.00h-1.00zM471.9 344.5h1.00v1.00h-1.00zM487.5 341.6h1.00v1.00h-1.00zM482.8 338.6h1.00v1.00h-1.00zM467.5 342.4h1.00v1.00h-1.00zM465.9 346.2h1.00v1.00h-1.00zM465.1 348.2h1.00v1.00h-1.00zM476.9 348.6h1.00v1.00h-1.00zM495.2 346.1h1.00v1.00h-1.00zM495.0 352.7h1.00v1.00h-1.00zM489.2 344.0h1.00v1.00h-1.00zM470.5 337.3h1.00v1.00h-1.00zM472.4 343.5h1.00v1.00h-1.00zM473.5 341.5h1.00v1.00h-1.00zM474.6 340.5h1.00v1.00h-1.00zM494.4 355.3h1.00v1.00h-1.00zM494.2 346.4h1.00v1.00h-1.00zM476.5 342.2h1.00v1.00h-1.00zM495.9 350.0h1.00v1.00h-1.00zM498.5 344.4h1.00v1.00h-1.00zM476.9 336.7h1.00v1.00h-1.00zM477.3 345.8h1.00v1.00h-1.00zM475.4 342.7h1.00v1.00h-1.00zM489.6 342.0h1.00v1.00h-1.00zM486.4 341.0h1.00v1.00h-1.00zM472.3 341.3h1.00v1.00h-1.00zM497.2 343.8h1.00v1.00h-1.00zM470.5 338.1h1.00v1.00h-1.00zM476.8 341.8h1.00v1.00h-1.00zM475.1 333.5h1.00v1.00h-1.00zM477.6 344.1h1.00v1.00h-1.00zM486.5 339.9h1.00v1.00h-1.00zM489.4 345.7h1.00v1.00h-1.00zM495.6 353.2h1.00v1.00h-1.00zM466.3 345.3h1.00v1.00h-1.00zM494.3 341.8h1.00v1.00h-1.00zM470.3 340.5h1.00v1.00h-1.00zM475.4 337.0h1.00v1.00h-1.00zM498.1 350.9h1.00v1.00h-1.00zM494.9 344.5h1.00v1.00h-1.00zM487.6 339.0h1.00v1.00h-1.00zM494.8 342.0h1.00v1.00h-1.00zM470.6 340.0h1.00v1.00h-1.00zM472.4 343.0h1.00v1.00h-1.00zM474.4 346.3h1.00v1.00h-1.00zM467.2 345.6h1.00v1.00h-1.00zM491.5 343.2h1.00v1.00h-1.00zM486.4 344.0h1.00v1.00h-1.00zM473.2 342.0h1.00v1.00h-1.00zM467.7 339.3h1.00v1.00h-1.00zM472.9 340.8h1.00v1.00h-1.00zM474.0 342.1h1.00v1.00h-1.00zM495.7 347.8h1.00v1.00h-1.00zM493.4 346.7h1.00v1.00h-1.00zM469.2 339.8h1.00v1.00h-1.00zM481.4 343.3h1.00v1.00h-1.00zM498.1 345.8h1.00v1.00h-1.00zM491.7 343.5h1.00v1.00h-1.00zM480.6 344.0h1.00v1.00h-1.00zM479.8 347.6h1.00v1.00h-1.00zM487.8 339.8h1.00v1.00h-1.00zM488.6 337.7h1.00v1.00h-1.00zM475.6 338.3h1.00v1.00h-1.00zM484.2 341.6h1.00v1.00h-1.00zM492.2 341.5h1.00v1.00h-1.00zM477.2 340.2h1.00v1.00h-1.00zM483.5 337.9h1.00v1.00h-1.00zM489.4 342.0h1.00v1.00h-1.00zM494.8 346.8h1.00v1.00h-1.00zM485.3 342.3h1.00v1.00h-1.00zM493.6 347.1h1.00v1.00h-1.00zM485.7 342.3h1.00v1.00h-1.00zM490.0 342.2h1.00v1.00h-1.00zM489.4 343.2h1.00v1.00h-1.00zM500.4 348.9h1.00v1.00h-1.00zM476.8 345.4h1.00v1.00h-1.00zM473.0 346.3h1.00v1.00h-1.00zM474.5 339.0h1.00v1.00h-1.00zM487.5 345.8h1.00v1.00h-1.00zM487.6 343.1h1.00v1.00h-1.00zM478.4 343.4h1.00v1.00h-1.00zM473.2 339.5h1.00v1.00h-1.00zM481.4 341.6h1.00v1.00h-1.00zM477.5 344.3h1.00v1.00h-1.00zM474.1 337.8h1.00v1.00h-1.00zM467.7 341.2h1.00v1.00h-1.00zM472.2 337.2h1.00v1.00h-1.00zM470.7 345.1h1.00v1.00h-1.00zM494.9 354.0h1.00v1.00h-1.00zM495.7 350.3h1.00v1.00h-1.00zM496.7 347.3h1.00v1.00h-1.00zM497.4 348.0h1.00v1.00h-1.00zM474.1 341.9h1.00v1.00h-1.00zM470.1 338.0h1.00v1.00h-1.00zM488.3 351.6h1.00v1.00h-1.00zM471.6 340.0h1.00v1.00h-1.00zM470.8 345.1h1.00v1.00h-1.00zM483.0 348.3h1.00v1.00h-1.00zM489.4 351.2h1.00v1.00h-1.00zM477.3 331.6h1.00v1.00h-1.00zM470.3 342.2h1.00v1.00h-1.00zM470.2 341.7h1.00v1.00h-1.00zM491.5 347.1h1.00v1.00h-1.00zM464.8 336.6h1.00v1.00h-1.00zM469.5 342.3h1.00v1.00h-1.00zM496.8 344.8h1.00v1.00h-1.00zM478.8 341.0h1.00v1.00h-1.00zM475.7 342.0h1.00v1.00h-1.00zM482.8 341.8h1.00v1.00h-1.00zM468.0 341.2h1.00v1.00h-1.00zM473.6 344.6h1.00v1.00h-1.00zM467.4 344.8h1.00v1.00h-1.00zM470.6 339.5h1.00v1.00h-1.00zM480.9 339.7h1.00v1.00h-1.00zM468.8 343.4h1.00v1.00h-1.00zM474.9 339.0h1.00v1.00h-1.00zM486.9 344.1h1.00v1.00h-1.00zM491.4 344.0h1.00v1.00h-1.00zM494.9 350.5h1.00v1.00h-1.00zM483.5 339.9h1.00v1.00h-1.00zM471.4 339.0h1.00v1.00h-1.00zM478.3 345.1h1.00v1.00h-1.00zM500.1 350.3h1.00v1.00h-1.00zM474.3 336.0h1.00v1.00h-1.00zM479.6 349.2h1.00v1.00h-1.00zM470.7 344.2h1.00v1.00h-1.00zM493.9 343.2h1.00v1.00h-1.00zM470.3 339.6h1.00v1.00h-1.00zM488.5 343.0h1.00v1.00h-1.00zM471.8 339.9h1.00v1.00h-1.00zM474.2 341.1h1.00v1.00h-1.00zM493.7 345.7h1.00v1.00h-1.00zM499.7 350.4h1.00v1.00h-1.00zM492.3 342.9h1.00v1.00h-1.00zM497.7 346.2h1.00v1.00h-1.00zM499.8 344.8h1.00v1.00h-1.00zM470.0 338.3h1.00v1.00h-1.00zM463.2 343.3h1.00v1.00h-1.00zM478.2 337.3h1.00v1.00h-1.00zM473.4 339.1h1.00v1.00h-1.00zM479.3 347.2h1.00v1.00h-1.00zM473.1 340.7h1.00v1.00h-1.00zM473.6 343.8h1.00v1.00h-1.00zM494.1 341.9h1.00v1.00h-1.00zM473.7 346.2h1.00v1.00h-1.00zM484.6 339.3h1.00v1.00h-1.00zM473.9 339.0h1.00v1.00h-1.00zM474.0 342.6h1.00v1.00h-1.00zM466.9 345.5h1.00v1.00h-1.00zM491.3 342.8h1.00v1.00h-1.00zM486.8 338.9h1.00v1.00h-1.00zM491.6 346.0h1.00v1.00h-1.00zM481.0 346.0h1.00v1.00h-1.00zM494.4 348.2h1.00v1.00h-1.00zM492.6 351.8h1.00v1.00h-1.00zM475.4 342.0h1.00v1.00h-1.00zM470.3 347.7h1.00v1.00h-1.00zM466.3 341.6h1.00v1.00h-1.00zM468.8 340.3h1.00v1.00h-1.00zM471.2 338.7h1.00v1.00h-1.00zM478.9 340.1h1.00v1.00h-1.00zM468.0 341.3h1.00v1.00h-1.00zM492.9 348.8h1.00v1.00h-1.00zM490.0 345.1h1.00v1.00h-1.00zM494.8 347.8h1.00v1.00h-1.00zM477.8 343.9h1.00v1.00h-1.00zM475.3 346.2h1.00v1.00h-1.00zM496.0 345.6h1.00v1.00h-1.00zM495.0 352.8h1.00v1.00h-1.00zM477.2 341.6h1.00v1.00h-1.00zM491.4 341.1h1.00v1.00h-1.00zM480.1 338.8h1.00v1.00h-1.00zM489.7 342.1h1.00v1.00h-1.00zM466.2 342.2h1.00v1.00h-1.00zM476.2 345.9h1.00v1.00h-1.00zM498.9 343.7h1.00v1.00h-1.00zM488.3 340.4h1.00v1.00h-1.00zM494.0 350.9h1.00v1.00h-1.00zM485.9 340.4h1.00v1.00h-1.00zM481.0 341.4h1.00v1.00h-1.00zM466.1 346.0h1.00v1.00h-1.00zM471.7 342.5h1.00v1.00h-1.00zM484.6 341.5h1.00v1.00h-1.00zM486.3 351.5h1.00v1.00h-1.00zM482.7 339.6h1.00v1.00h-1.00zM486.0 346.8h1.00v1.00h-1.00zM482.2 340.3h1.00v1.00h-1.00zM474.9 343.9h1.00v1.00h-1.00zM478.6 347.4h1.00v1.00h-1.00zM480.2 340.5h1.00v1.00h-1.00zM496.6 343.7h1.00v1.00h-1.00zM495.4 350.7h1.00v1.00h-1.00zM485.2 345.9h1.00v1.00h-1.00zM471.6 346.6h1.00v1.00h-1.00zM492.7 348.9h1.00v1.00h-1.00zM469.8 347.2h1.00v1.00h-1.00zM467.7 348.7h1.00v1.00h-1.00zM492.0 347.0h1.00v1.00h-1.00zM473.7 341.9h1.00v1.00h-1.00zM482.5 349.5h1.00v1.00h-1.00zM500.9 344.7h1.00v1.00h-1.00zM473.2 340.5h1.00v1.00h-1.00zM480.9 339.3h1.00v1.00h-1.00zM480.5 340.8h1.00v1.00h-1.00zM486.6 345.3h1.00v1.00h-1.00zM475.3 340.3h1.00v1.00h-1.00zM472.6 347.4h1.00v1.00h-1.00zM490.9 341.7h1.00v1.00h-1.00zM481.6 343.2h1.00v1.00h-1.00zM491.6 353.3h1.00v1.00h-1.00zM470.3 343.0h1.00v1.00h-1.00zM481.6 340.8h1.00v1.00h-1.00zM479.3 337.9h1.00v1.00h-1.00zM472.8 344.1h1.00v1.00h-1.00zM473.1 348.4h1.00v1.00h-1.00zM493.6 347.5h1.00v1.00h-1.00zM488.6 344.6h1.00v1.00h-1.00zM483.2 346.6h1.00v1.00h-1.00zM475.9 338.2h1.00v1.00h-1.00zM468.8 341.3h1.00v1.00h-1.00zM481.2 338.9h1.00v1.00h-1.00zM475.3 339.1h1.00v1.00h-1.00zM466.5 342.1h1.00v1.00h-1.00zM473.2 347.9h1.00v1.00h-1.00zM481.3 344.4h1.00v1.00h-1.00zM477.2 346.8h1.00v1.00h-1.00zM474.4 344.0h1.00v1.00h-1.00zM480.0 339.0h1.00v1.00h-1.00zM493.9 350.1h1.00v1.00h-1.00zM497.4 345.0h1.00v1.00h-1.00zM495.1 340.2h1.00v1.00h-1.00zM492.3 354.2h1.00v1.00h-1.00zM495.5 346.3h1.00v1.00h-1.00zM483.3 345.9h1.00v1.00h-1.00zM488.0 343.0h1.00v1.00h-1.00zM473.5 340.5h1.00v1.00h-1.00zM487.9 341.5h1.00v1.00h-1.00zM464.8 342.0h1.00v1.00h-1.00zM473.2 338.2h1.00v1.00h-1.00zM476.0 349.3h1.00v1.00h-1.00zM480.6 342.2h1.00v1.00h-1.00zM488.3 345.3h1.00v1.00h-1.00zM488.8 346.4h1.00v1.00h-1.00zM484.3 338.5h1.00v1.00h-1.00zM474.1 340.8h1.00v1.00h-1.00zM476.2 345.9h1.00v1.00h-1.00zM471.2 337.0h1.00v1.00h-1.00zM478.1 337.0h1.00v1.00h-1.00zM472.4 342.4h1.00v1.00h-1.00zM492.6 349.7h1.00v1.00h-1.00zM476.9 346.6h1.00v1.00h-1.00zM493.6 347.6h1.00v1.00h-1.00zM487.0 341.9h1.00v1.00h-1.00zM471.3 345.6h1.00v1.00h-1.00zM484.1 338.2h1.00v1.00h-1.00zM484.0 339.9h1.00v1.00h-1.00zM490.0 341.3h1.00v1.00h-1.00zM474.1 342.8h1.00v1.00h-1.00zM473.3 339.4h1.00v1.00h-1.00zM472.2 347.5h1.00v1.00h-1.00zM488.8 346.7h1.00v1.00h-1.00zM482.7 339.7h1.00v1.00h-1.00zM472.7 342.8h1.00v1.00h-1.00zM493.6 350.3h1.00v1.00h-1.00zM498.3 349.9h1.00v1.00h-1.00zM465.9 343.5h1.00v1.00h-1.00zM493.4 351.0h1.00v1.00h-1.00zM475.2 340.2h1.00v1.00h-1.00zM488.9 337.7h1.00v1.00h-1.00zM468.4 346.3h1.00v1.00h-1.00zM490.8 344.2h1.00v1.00h-1.00zM475.0 338.0h1.00v1.00h-1.00zM487.7 345.3h1.00v1.00h-1.00zM481.5 342.2h1.00v1.00h-1.00zM484.7 338.7h1.00v1.00h-1.00zM496.1 344.4h1.00v1.00h-1.00zM499.6 350.3h1.00v1.00h-1.00zM493.7 351.5h1.00v1.00h-1.00zM496.5 342.0h1.00v1.00h-1.00zM479.1 338.3h1.00v1.00h-1.00zM495.3 348.0h1.00v1.00h-1.00zM485.6 348.4h1.00v1.00h-1.00zM481.5 345.8h1.00v1.00h-1.00zM490.0 338.4h1.00v1.00h-1.00zM485.0 340.8h1.00v1.00h-1.00zM495.0 346.6h1.00v1.00h-1.00zM491.4 351.9h1.00v1.00h-1.00zM477.1 344.5h1.00v1.00h-1.00zM470.8 348.7h1.00v1.00h-1.00zM470.6 346.8h1.00v1.00h-1.00zM490.5 350.5h1.00v1.00h-1.00zM472.2 342.7h1.00v1.00h-1.00zM490.3 345.9h1.00v1.00h-1.00zM484.9 343.6h1.00v1.00h-1.00zM491.5 341.5h1.00v1.00h-1.00zM495.8 345.9h1.00v1.00h-1.00zM464.7 343.2h1.00v1.00h-1.00zM493.8 343.6h1.00v1.00h-1.00zM482.1 340.1h1.00v1.00h-1.00zM482.4 344.7h1.00v1.00h-1.00zM467.8 349.6h1.00v1.00h-1.00zM470.3 343.7h1.00v1.00h-1.00zM491.5 351.9h1.00v1.00h-1.00zM488.0 343.8h1.00v1.00h-1.00zM472.2 346.4h1.00v1.00h-1.00zM489.1 343.9h1.00v1.00h-1.00zM483.2 347.3h1.00v1.00h-1.00zM472.5 348.1h1.00v1.00h-1.00zM481.1 344.3h1.00v1.00h-1.00zM495.6 344.2h1.00v1.00h-1.00zM493.3 344.5h1.00v1.00h-1.00zM488.7 342.1h1.00v1.00h-1.00zM502.7 347.3h1.00v1.00h-1.00zM479.6 345.9h1.00v1.00h-1.00zM484.3 343.1h1.00v1.00h-1.00zM471.6 343.0h1.00v1.00h-1.00zM474.9 340.7h1.00v1.00h-1.00zM469.9 336.1h1.00v1.00h-1.00zM475.9 347.1h1.00v1.00h-1.00zM467.9 343.2h1.00v1.00h-1.00zM483.5 340.5h1.00v1.00h-1.00zM483.5 343.7h1.00v1.00h-1.00zM487.8 348.0h1.00v1.00h-1.00zM494.4 345.1h1.00v1.00h-1.00zM496.2 347.8h1.00v1.00h-1.00zM478.6 341.1h1.00v1.00h-1.00zM489.6 337.3h1.00v1.00h-1.00zM472.3 339.5h1.00v1.00h-1.00zM486.5 341.5h1.00v1.00h-1.00zM493.9 342.0h1.00v1.00h-1.00zM486.9 346.0h1.00v1.00h-1.00zM480.1 341.2h1.00v1.00h-1.00zM470.9 344.6h1.00v1.00h-1.00zM481.7 341.1h1.00v1.00h-1.00zM484.1 339.2h1.00v1.00h-1.00zM481.6 339.9h1.00v1.00h-1.00zM482.4 342.9h1.00v1.00h-1.00zM480.6 345.1h1.00v1.00h-1.00zM490.1 344.0h1.00v1.00h-1.00zM480.5 338.0h1.00v1.00h-1.00zM481.6 341.7h1.00v1.00h-1.00zM487.0 345.7h1.00v1.00h-1.00zM486.9 341.2h1.00v1.00h-1.00zM508.2 385.1h1.00v1.00h-1.00zM509.4 378.8h1.00v1.00h-1.00zM501.0 364.3h1.00v1.00h-1.00zM504.3 356.3h1.00v1.00h-1.00zM504.1 379.9h1.00v1.00h-1.00zM507.6 378.1h1.00v1.00h-1.00zM499.4 384.4h1.00v1.00h-1.00zM504.0 382.2h1.00v1.00h-1.00zM502.6 361.4h1.00v1.00h-1.00zM499.9 357.5h1.00v1.00h-1.00zM505.1 367.2h1.00v1.00h-1.00zM503.0 394.1h1.00v1.00h-1.00zM502.3 375.8h1.00v1.00h-1.00zM504.5 360.0h1.00v1.00h-1.00zM499.7 353.7h1.00v1.00h-1.00zM499.5 350.2h1.00v1.00h-1.00zM498.2 349.3h1.00v1.00h-1.00zM504.6 368.5h1.00v1.00h-1.00zM505.3 357.5h1.00v1.00h-1.00zM499.7 368.8h1.00v1.00h-1.00zM499.1 360.0h1.00v1.00h-1.00zM500.7 369.3h1.00v1.00h-1.00zM502.5 360.5h1.00v1.00h-1.00zM507.7 363.6h1.00v1.00h-1.00zM509.7 382.6h1.00v1.00h-1.00zM503.1 354.0h1.00v1.00h-1.00zM504.1 392.2h1.00v1.00h-1.00zM500.9 345.5h1.00v1.00h-1.00zM503.9 361.2h1.00v1.00h-1.00zM500.6 375.7h1.00v1.00h-1.00zM509.0 366.2h1.00v1.00h-1.00zM503.5 365.0h1.00v1.00h-1.00zM503.9 386.2h1.00v1.00h-1.00zM504.5 352.9h1.00v1.00h-1.00zM506.4 380.4h1.00v1.00h-1.00zM506.1 353.0h1.00v1.00h-1.00zM505.5 361.9h1.00v1.00h-1.00zM502.0 354.0h1.00v1.00h-1.00zM496.9 352.8h1.00v1.00h-1.00zM498.1 360.7h1.00v1.00h-1.00zM502.9 376.2h1.00v1.00h-1.00zM506.1 349.3h1.00v1.00h-1.00zM502.0 385.2h1.00v1.00h-1.00zM500.0 368.8h1.00v1.00h-1.00zM504.9 387.6h1.00v1.00h-1.00zM509.0 383.9h1.00v1.00h-1.00zM505.4 387.8h1.00v1.00h-1.00zM500.5 351.4h1.00v1.00h-1.00zM508.0 367.9h1.00v1.00h-1.00zM506.1 387.5h1.00v1.00h-1.00zM509.2 375.5h1.00v1.00h-1.00zM501.4 366.1h1.00v1.00h-1.00zM511.2 373.0h1.00v1.00h-1.00zM508.6 364.9h1.00v1.00h-1.00zM509.0 380.3h1.00v1.00h-1.00zM503.6 366.4h1.00v1.00h-1.00zM496.2 350.3h1.00v1.00h-1.00zM499.3 355.9h1.00v1.00h-1.00zM505.1 383.2h1.00v1.00h-1.00zM504.2 359.9h1.00v1.00h-1.00zM505.9 356.8h1.00v1.00h-1.00zM502.4 377.8h1.00v1.00h-1.00zM509.7 362.2h1.00v1.00h-1.00zM504.7 374.5h1.00v1.00h-1.00zM505.6 357.5h1.00v1.00h-1.00zM511.1 383.5h1.00v1.00h-1.00zM504.7 369.2h1.00v1.00h-1.00zM495.7 349.3h1.00v1.00h-1.00zM505.1 372.2h1.00v1.00h-1.00zM496.4 367.3h1.00v1.00h-1.00zM500.8 360.9h1.00v1.00h-1.00zM506.1 373.4h1.00v1.00h-1.00zM505.0 383.7h1.00v1.00h-1.00zM502.2 365.4h1.00v1.00h-1.00zM504.0 354.9h1.00v1.00h-1.00zM502.9 361.7h1.00v1.00h-1.00zM506.4 364.4h1.00v1.00h-1.00zM503.1 359.7h1.00v1.00h-1.00zM509.5 367.4h1.00v1.00h-1.00zM498.7 349.3h1.00v1.00h-1.00zM508.7 385.6h1.00v1.00h-1.00zM502.8 379.0h1.00v1.00h-1.00zM502.5 348.1h1.00v1.00h-1.00zM504.3 368.0h1.00v1.00h-1.00zM500.2 386.3h1.00v1.00h-1.00zM504.8 380.4h1.00v1.00h-1.00zM502.0 367.2h1.00v1.00h-1.00zM501.9 383.3h1.00v1.00h-1.00zM501.7 355.0h1.00v1.00h-1.00zM501.4 357.3h1.00v1.00h-1.00zM509.9 365.5h1.00v1.00h-1.00zM500.7 353.6h1.00v1.00h-1.00zM506.2 386.0h1.00v1.00h-1.00zM505.2 367.9h1.00v1.00h-1.00zM497.5 357.2h1.00v1.00h-1.00zM505.3 391.2h1.00v1.00h-1.00zM502.4 370.9h1.00v1.00h-1.00zM503.2 370.5h1.00v1.00h-1.00zM503.6 368.4h1.00v1.00h-1.00zM508.4 371.0h1.00v1.00h-1.00zM503.7 370.7h1.00v1.00h-1.00zM502.3 353.1h1.00v1.00h-1.00zM499.9 355.8h1.00v1.00h-1.00zM505.2 376.3h1.00v1.00h-1.00zM502.5 365.0h1.00v1.00h-1.00zM504.4 379.3h1.00v1.00h-1.00zM503.1 387.3h1.00v1.00h-1.00zM504.4 380.7h1.00v1.00h-1.00zM506.4 361.2h1.00v1.00h-1.00zM504.3 373.5h1.00v1.00h-1.00zM506.2 363.9h1.00v1.00h-1.00zM505.8 377.9h1.00v1.00h-1.00zM500.8 345.2h1.00v1.00h-1.00zM500.0 363.9h1.00v1.00h-1.00zM501.4 372.7h1.00v1.00h-1.00zM505.7 368.2h1.00v1.00h-1.00zM508.2 366.1h1.00v1.00h-1.00zM506.1 386.6h1.00v1.00h-1.00zM508.8 374.8h1.00v1.00h-1.00zM506.3 379.3h1.00v1.00h-1.00zM502.0 391.1h1.00v1.00h-1.00zM500.4 353.3h1.00v1.00h-1.00zM503.6 376.1h1.00v1.00h-1.00zM505.0 361.7h1.00v1.00h-1.00zM505.0 387.5h1.00v1.00h-1.00zM508.4 372.7h1.00v1.00h-1.00zM511.6 371.1h1.00v1.00h-1.00zM500.3 363.7h1.00v1.00h-1.00zM506.1 365.8h1.00v1.00h-1.00zM499.9 352.6h1.00v1.00h-1.00zM503.9 363.8h1.00v1.00h-1.00zM506.3 371.9h1.00v1.00h-1.00zM504.5 358.2h1.00v1.00h-1.00zM500.3 353.1h1.00v1.00h-1.00zM504.8 367.4h1.00v1.00h-1.00zM499.3 367.1h1.00v1.00h-1.00zM508.4 368.2h1.00v1.00h-1.00zM504.4 387.0h1.00v1.00h-1.00zM502.8 387.8h1.00v1.00h-1.00zM506.2 363.5h1.00v1.00h-1.00zM499.1 359.4h1.00v1.00h-1.00zM503.4 377.4h1.00v1.00h-1.00zM507.0 373.4h1.00v1.00h-1.00zM498.0 352.0h1.00v1.00h-1.00zM505.6 386.5h1.00v1.00h-1.00zM503.1 382.1h1.00v1.00h-1.00zM506.6 365.6h1.00v1.00h-1.00zM509.2 362.3h1.00v1.00h-1.00zM504.9 349.5h1.00v1.00h-1.00zM505.6 393.8h1.00v1.00h-1.00zM505.8 391.1h1.00v1.00h-1.00zM505.8 356.0h1.00v1.00h-1.00zM504.1 389.5h1.00v1.00h-1.00zM507.9 382.5h1.00v1.00h-1.00zM500.9 351.1h1.00v1.00h-1.00zM504.8 363.9h1.00v1.00h-1.00zM505.3 371.9h1.00v1.00h-1.00zM505.6 392.9h1.00v1.00h-1.00zM502.5 371.8h1.00v1.00h-1.00zM500.5 345.8h1.00v1.00h-1.00zM505.3 349.3h1.00v1.00h-1.00zM496.2 355.9h1.00v1.00h-1.00zM505.8 378.8h1.00v1.00h-1.00zM496.8 354.3h1.00v1.00h-1.00zM503.4 361.8h1.00v1.00h-1.00zM508.0 376.3h1.00v1.00h-1.00zM501.6 368.8h1.00v1.00h-1.00zM511.5 369.7h1.00v1.00h-1.00zM502.6 355.6h1.00v1.00h-1.00zM506.4 370.5h1.00v1.00h-1.00zM503.0 375.3h1.00v1.00h-1.00zM504.9 382.5h1.00v1.00h-1.00zM497.7 395.9h1.00v1.00h-1.00zM501.0 364.4h1.00v1.00h-1.00zM508.7 379.5h1.00v1.00h-1.00zM509.5 380.7h1.00v1.00h-1.00zM505.5 380.7h1.00v1.00h-1.00zM502.0 380.2h1.00v1.00h-1.00zM496.7 347.1h1.00v1.00h-1.00zM503.9 354.4h1.00v1.00h-1.00zM506.3 363.9h1.00v1.00h-1.00zM504.9 355.4h1.00v1.00h-1.00zM501.5 359.7h1.00v1.00h-1.00zM509.3 371.5h1.00v1.00h-1.00zM502.9 357.4h1.00v1.00h-1.00zM507.6 388.3h1.00v1.00h-1.00zM503.8 391.4h1.00v1.00h-1.00zM498.6 351.0h1.00v1.00h-1.00zM500.7 385.7h1.00v1.00h-1.00zM495.9 353.4h1.00v1.00h-1.00zM481.1 400.7h1.00v1.00h-1.00zM489.0 401.0h1.00v1.00h-1.00zM505.4 392.2h1.00v1.00h-1.00zM480.0 399.5h1.00v1.00h-1.00zM487.6 401.1h1.00v1.00h-1.00zM502.3 392.4h1.00v1.00h-1.00zM492.2 400.9h1.00v1.00h-1.00zM492.9 390.4h1.00v1.00h-1.00zM487.9 399.8h1.00v1.00h-1.00zM474.4 397.7h1.00v1.00h-1.00zM461.2 396.5h1.00v1.00h-1.00zM462.0 397.0h1.00v1.00h-1.00zM465.0 404.7h1.00v1.00h-1.00zM477.9 400.5h1.00v1.00h-1.00zM473.5 399.4h1.00v1.00h-1.00zM501.4 393.5h1.00v1.00h-1.00zM482.7 396.4h1.00v1.00h-1.00zM476.0 401.9h1.00v1.00h-1.00zM460.0 396.8h1.00v1.00h-1.00zM489.7 396.9h1.00v1.00h-1.00zM479.0 397.2h1.00v1.00h-1.00zM489.1 400.4h1.00v1.00h-1.00zM471.9 400.4h1.00v1.00h-1.00zM476.2 399.4h1.00v1.00h-1.00zM459.5 397.8h1.00v1.00h-1.00zM459.6 396.0h1.00v1.00h-1.00zM469.9 400.8h1.00v1.00h-1.00zM466.8 402.5h1.00v1.00h-1.00zM484.3 399.6h1.00v1.00h-1.00zM477.0 396.8h1.00v1.00h-1.00zM458.6 399.2h1.00v1.00h-1.00zM499.0 399.0h1.00v1.00h-1.00zM480.4 402.5h1.00v1.00h-1.00zM487.5 399.2h1.00v1.00h-1.00zM460.0 397.9h1.00v1.00h-1.00zM478.1 397.9h1.00v1.00h-1.00zM490.7 397.5h1.00v1.00h-1.00zM504.2 397.2h1.00v1.00h-1.00zM488.3 398.8h1.00v1.00h-1.00zM462.9 402.5h1.00v1.00h-1.00zM503.0 395.2h1.00v1.00h-1.00zM490.0 398.6h1.00v1.00h-1.00zM499.4 398.2h1.00v1.00h-1.00zM462.3 402.5h1.00v1.00h-1.00zM484.2 398.7h1.00v1.00h-1.00zM478.6 399.9h1.00v1.00h-1.00zM458.3 402.4h1.00v1.00h-1.00zM487.9 396.7h1.00v1.00h-1.00zM496.9 397.5h1.00v1.00h-1.00zM489.8 398.4h1.00v1.00h-1.00zM500.5 395.5h1.00v1.00h-1.00zM481.8 401.5h1.00v1.00h-1.00zM474.4 401.3h1.00v1.00h-1.00zM468.4 400.8h1.00v1.00h-1.00zM472.9 402.7h1.00v1.00h-1.00zM477.8 401.6h1.00v1.00h-1.00zM470.6 398.6h1.00v1.00h-1.00zM473.9 400.0h1.00v1.00h-1.00zM492.6 402.8h1.00v1.00h-1.00zM463.9 397.2h1.00v1.00h-1.00zM498.0 397.0h1.00v1.00h-1.00zM482.3 397.7h1.00v1.00h-1.00zM475.1 394.1h1.00v1.00h-1.00zM495.7 396.9h1.00v1.00h-1.00zM487.9 398.9h1.00v1.00h-1.00zM477.4 395.2h1.00v1.00h-1.00zM498.1 398.5h1.00v1.00h-1.00zM497.7 393.5h1.00v1.00h-1.00zM481.2 400.3h1.00v1.00h-1.00zM502.9 391.6h1.00v1.00h-1.00zM473.0 399.3h1.00v1.00h-1.00zM465.3 396.7h1.00v1.00h-1.00zM487.2 397.4h1.00v1.00h-1.00zM500.9 395.2h1.00v1.00h-1.00zM461.2 398.5h1.00v1.00h-1.00zM484.6 398.0h1.00v1.00h-1.00zM493.8 403.3h1.00v1.00h-1.00zM481.4 402.0h1.00v1.00h-1.00zM499.7 397.6h1.00v1.00h-1.00zM500.8 393.2h1.00v1.00h-1.00zM454.9 399.8h1.00v1.00h-1.00zM485.5 396.9h1.00v1.00h-1.00zM502.7 397.1h1.00v1.00h-1.00zM471.3 401.1h1.00v1.00h-1.00zM481.0 400.7h1.00v1.00h-1.00zM499.6 395.3h1.00v1.00h-1.00zM476.6 400.1h1.00v1.00h-1.00zM483.0 395.1h1.00v1.00h-1.00zM463.2 403.1h1.00v1.00h-1.00zM467.3 395.3h1.00v1.00h-1.00zM485.4 400.5h1.00v1.00h-1.00zM483.6 402.1h1.00v1.00h-1.00zM464.9 399.4h1.00v1.00h-1.00zM479.0 397.0h1.00v1.00h-1.00zM474.8 399.9h1.00v1.00h-1.00zM484.8 398.6h1.00v1.00h-1.00zM495.7 393.3h1.00v1.00h-1.00zM466.5 395.8h1.00v1.00h-1.00zM477.8 399.6h1.00v1.00h-1.00zM460.3 398.8h1.00v1.00h-1.00zM484.4 401.1h1.00v1.00h-1.00zM495.7 394.9h1.00v1.00h-1.00zM494.5 397.2h1.00v1.00h-1.00zM503.3 391.8h1.00v1.00h-1.00zM493.3 395.0h1.00v1.00h-1.00zM502.6 390.2h1.00v1.00h-1.00zM501.5 396.4h1.00v1.00h-1.00zM485.9 397.9h1.00v1.00h-1.00zM503.9 393.4h1.00v1.00h-1.00zM496.6 397.8h1.00v1.00h-1.00zM470.9 401.9h1.00v1.00h-1.00zM470.1 394.8h1.00v1.00h-1.00zM460.7 397.6h1.00v1.00h-1.00zM476.5 398.9h1.00v1.00h-1.00zM487.9 400.2h1.00v1.00h-1.00zM497.8 396.9h1.00v1.00h-1.00zM463.0 399.4h1.00v1.00h-1.00zM495.8 399.3h1.00v1.00h-1.00zM505.6 390.8h1.00v1.00h-1.00zM496.9 393.5h1.00v1.00h-1.00zM470.0 400.2h1.00v1.00h-1.00zM485.4 397.8h1.00v1.00h-1.00zM505.0 391.9h1.00v1.00h-1.00zM462.6 403.8h1.00v1.00h-1.00zM462.5 399.6h1.00v1.00h-1.00zM497.8 394.8h1.00v1.00h-1.00zM500.9 398.1h1.00v1.00h-1.00zM500.8 393.3h1.00v1.00h-1.00zM464.2 397.1h1.00v1.00h-1.00zM498.1 399.5h1.00v1.00h-1.00zM485.6 403.0h1.00v1.00h-1.00zM472.7 402.0h1.00v1.00h-1.00zM478.6 401.2h1.00v1.00h-1.00zM499.5 391.6h1.00v1.00h-1.00zM496.0 394.9h1.00v1.00h-1.00zM474.0 396.8h1.00v1.00h-1.00zM480.7 397.1h1.00v1.00h-1.00zM499.5 394.1h1.00v1.00h-1.00zM504.7 393.0h1.00v1.00h-1.00zM487.5 396.1h1.00v1.00h-1.00zM494.7 401.7h1.00v1.00h-1.00zM506.7 393.6h1.00v1.00h-1.00zM468.4 400.5h1.00v1.00h-1.00zM495.3 394.6h1.00v1.00h-1.00zM501.6 391.9h1.00v1.00h-1.00zM482.1 401.7h1.00v1.00h-1.00zM490.8 398.8h1.00v1.00h-1.00zM498.2 395.4h1.00v1.00h-1.00zM480.1 400.3h1.00v1.00h-1.00zM466.7 397.5h1.00v1.00h-1.00zM470.3 397.5h1.00v1.00h-1.00zM483.5 401.3h1.00v1.00h-1.00zM473.8 394.1h1.00v1.00h-1.00zM469.6 399.0h1.00v1.00h-1.00zM470.0 398.6h1.00v1.00h-1.00zM462.1 402.0h1.00v1.00h-1.00zM494.6 397.5h1.00v1.00h-1.00zM476.1 397.8h1.00v1.00h-1.00zM508.6 394.4h1.00v1.00h-1.00zM478.2 399.3h1.00v1.00h-1.00zM491.1 395.7h1.00v1.00h-1.00zM484.8 399.7h1.00v1.00h-1.00zM477.4 399.6h1.00v1.00h-1.00zM481.3 400.4h1.00v1.00h-1.00zM457.8 395.0h1.00v1.00h-1.00zM471.6 397.4h1.00v1.00h-1.00zM498.3 396.4h1.00v1.00h-1.00zM505.4 392.6h1.00v1.00h-1.00zM482.1 401.0h1.00v1.00h-1.00zM469.1 398.4h1.00v1.00h-1.00zM491.1 394.0h1.00v1.00h-1.00zM488.2 398.3h1.00v1.00h-1.00zM499.8 396.9h1.00v1.00h-1.00zM463.5 397.5h1.00v1.00h-1.00zM477.9 397.5h1.00v1.00h-1.00zM459.1 399.5h1.00v1.00h-1.00zM461.1 396.9h1.00v1.00h-1.00zM490.9 395.0h1.00v1.00h-1.00zM505.2 391.8h1.00v1.00h-1.00zM459.4 393.6h1.00v1.00h-1.00zM464.9 398.3h1.00v1.00h-1.00zM500.1 398.1h1.00v1.00h-1.00zM469.4 403.9h1.00v1.00h-1.00zM492.8 396.3h1.00v1.00h-1.00zM498.1 397.6h1.00v1.00h-1.00zM496.3 397.2h1.00v1.00h-1.00zM474.2 399.2h1.00v1.00h-1.00zM494.1 397.2h1.00v1.00h-1.00zM502.0 396.0h1.00v1.00h-1.00zM480.9 400.2h1.00v1.00h-1.00zM498.9 396.1h1.00v1.00h-1.00zM484.5 401.8h1.00v1.00h-1.00zM460.7 397.3h1.00v1.00h-1.00zM501.8 397.0h1.00v1.00h-1.00zM499.1 394.2h1.00v1.00h-1.00zM470.8 398.5h1.00v1.00h-1.00zM477.0 399.4h1.00v1.00h-1.00zM489.3 400.2h1.00v1.00h-1.00zM470.3 395.5h1.00v1.00h-1.00zM495.1 400.5h1.00v1.00h-1.00zM449.4 383.0h1.00v1.00h-1.00zM453.9 365.3h1.00v1.00h-1.00zM454.3 369.8h1.00v1.00h-1.00zM460.8 352.2h1.00v1.00h-1.00zM459.3 354.6h1.00v1.00h-1.00zM465.9 347.2h1.00v1.00h-1.00zM450.5 376.3h1.00v1.00h-1.00zM452.8 366.1h1.00v1.00h-1.00zM451.7 379.1h1.00v1.00h-1.00zM445.8 386.0h1.00v1.00h-1.00zM449.8 383.9h1.00v1.00h-1.00zM453.3 378.0h1.00v1.00h-1.00zM461.5 347.1h1.00v1.00h-1.00zM450.5 370.2h1.00v1.00h-1.00zM457.9 356.4h1.00v1.00h-1.00zM452.0 374.1h1.00v1.00h-1.00zM457.5 357.0h1.00v1.00h-1.00zM449.2 387.4h1.00v1.00h-1.00zM461.9 348.2h1.00v1.00h-1.00zM451.6 367.2h1.00v1.00h-1.00zM454.3 359.8h1.00v1.00h-1.00zM459.4 373.0h1.00v1.00h-1.00zM444.0 387.0h1.00v1.00h-1.00zM458.0 349.1h1.00v1.00h-1.00zM463.6 350.6h1.00v1.00h-1.00zM451.4 375.7h1.00v1.00h-1.00zM452.1 370.1h1.00v1.00h-1.00zM451.5 380.6h1.00v1.00h-1.00zM458.4 363.2h1.00v1.00h-1.00zM466.4 350.9h1.00v1.00h-1.00zM456.6 361.3h1.00v1.00h-1.00zM455.3 367.5h1.00v1.00h-1.00zM454.7 373.2h1.00v1.00h-1.00zM462.0 355.3h1.00v1.00h-1.00zM449.4 382.2h1.00v1.00h-1.00zM462.6 350.0h1.00v1.00h-1.00zM450.7 374.5h1.00v1.00h-1.00zM458.0 363.8h1.00v1.00h-1.00zM452.8 374.2h1.00v1.00h-1.00zM447.6 377.5h1.00v1.00h-1.00zM461.0 353.7h1.00v1.00h-1.00zM449.9 375.7h1.00v1.00h-1.00zM462.5 345.8h1.00v1.00h-1.00zM466.0 351.0h1.00v1.00h-1.00zM463.7 353.4h1.00v1.00h-1.00zM450.3 382.1h1.00v1.00h-1.00zM450.9 381.9h1.00v1.00h-1.00zM448.1 382.9h1.00v1.00h-1.00zM453.5 369.8h1.00v1.00h-1.00zM454.3 374.4h1.00v1.00h-1.00zM461.1 350.7h1.00v1.00h-1.00zM457.0 348.0h1.00v1.00h-1.00zM459.4 359.6h1.00v1.00h-1.00zM446.2 384.5h1.00v1.00h-1.00zM454.4 367.0h1.00v1.00h-1.00zM462.2 346.6h1.00v1.00h-1.00zM457.8 357.2h1.00v1.00h-1.00zM457.9 365.0h1.00v1.00h-1.00zM455.4 365.4h1.00v1.00h-1.00zM462.5 348.8h1.00v1.00h-1.00zM459.6 350.7h1.00v1.00h-1.00zM455.4 365.8h1.00v1.00h-1.00zM454.0 381.3h1.00v1.00h-1.00zM459.6 358.4h1.00v1.00h-1.00zM456.9 364.5h1.00v1.00h-1.00zM446.7 386.6h1.00v1.00h-1.00zM449.7 378.9h1.00v1.00h-1.00zM446.4 389.2h1.00v1.00h-1.00zM466.8 346.9h1.00v1.00h-1.00zM453.2 368.4h1.00v1.00h-1.00zM445.0 394.8h1.00v1.00h-1.00zM457.1 367.4h1.00v1.00h-1.00zM451.1 380.9h1.00v1.00h-1.00zM460.3 353.4h1.00v1.00h-1.00zM460.8 357.1h1.00v1.00h-1.00zM464.1 351.0h1.00v1.00h-1.00zM451.4 377.8h1.00v1.00h-1.00zM443.3 387.0h1.00v1.00h-1.00zM465.9 355.2h1.00v1.00h-1.00zM451.0 376.5h1.00v1.00h-1.00zM456.1 365.3h1.00v1.00h-1.00zM463.0 349.3h1.00v1.00h-1.00zM466.3 355.7h1.00v1.00h-1.00zM451.1 372.9h1.00v1.00h-1.00zM462.8 355.6h1.00v1.00h-1.00zM461.0 356.1h1.00v1.00h-1.00zM456.4 364.4h1.00v1.00h-1.00zM459.3 350.7h1.00v1.00h-1.00zM456.7 358.2h1.00v1.00h-1.00zM456.2 362.2h1.00v1.00h-1.00zM459.5 366.7h1.00v1.00h-1.00zM448.1 388.1h1.00v1.00h-1.00zM457.6 370.5h1.00v1.00h-1.00zM460.7 349.9h1.00v1.00h-1.00zM454.3 369.8h1.00v1.00h-1.00zM449.4 382.2h1.00v1.00h-1.00zM465.5 352.5h1.00v1.00h-1.00zM454.4 365.5h1.00v1.00h-1.00zM458.7 360.6h1.00v1.00h-1.00zM466.1 346.1h1.00v1.00h-1.00zM445.1 381.6h1.00v1.00h-1.00zM460.1 361.0h1.00v1.00h-1.00zM463.9 354.0h1.00v1.00h-1.00zM454.9 370.4h1.00v1.00h-1.00zM449.3 382.5h1.00v1.00h-1.00zM448.3 383.0h1.00v1.00h-1.00zM446.8 388.3h1.00v1.00h-1.00zM449.4 382.2h1.00v1.00h-1.00zM452.4 365.1h1.00v1.00h-1.00zM453.2 360.8h1.00v1.00h-1.00zM463.0 356.4h1.00v1.00h-1.00zM457.0 357.2h1.00v1.00h-1.00zM450.0 381.2h1.00v1.00h-1.00zM459.1 352.2h1.00v1.00h-1.00zM457.2 363.8h1.00v1.00h-1.00zM444.9 387.4h1.00v1.00h-1.00zM460.9 352.3h1.00v1.00h-1.00zM446.1 389.9h1.00v1.00h-1.00zM447.9 385.4h1.00v1.00h-1.00zM441.2 391.2h1.00v1.00h-1.00zM446.7 384.7h1.00v1.00h-1.00zM444.8 385.2h1.00v1.00h-1.00zM449.9 383.8h1.00v1.00h-1.00zM457.2 362.0h1.00v1.00h-1.00zM454.0 371.9h1.00v1.00h-1.00zM455.8 357.5h1.00v1.00h-1.00zM463.4 346.5h1.00v1.00h-1.00zM456.5 368.5h1.00v1.00h-1.00zM450.5 370.5h1.00v1.00h-1.00zM452.3 386.9h1.00v1.00h-1.00zM455.3 368.9h1.00v1.00h-1.00zM447.8 388.7h1.00v1.00h-1.00zM446.9 373.9h1.00v1.00h-1.00zM448.2 388.8h1.00v1.00h-1.00zM442.9 365.0h1.00v1.00h-1.00zM457.1 378.2h1.00v1.00h-1.00zM462.6 387.6h1.00v1.00h-1.00zM456.3 397.8h1.00v1.00h-1.00zM463.5 376.2h1.00v1.00h-1.00zM441.3 394.3h1.00v1.00h-1.00zM441.2 374.7h1.00v1.00h-1.00zM442.9 400.6h1.00v1.00h-1.00zM447.2 391.6h1.00v1.00h-1.00zM461.8 401.7h1.00v1.00h-1.00zM446.8 374.4h1.00v1.00h-1.00zM448.8 392.9h1.00v1.00h-1.00zM443.6 386.8h1.00v1.00h-1.00zM456.1 373.0h1.00v1.00h-1.00zM463.7 385.0h1.00v1.00h-1.00zM448.1 377.7h1.00v1.00h-1.00zM452.6 390.0h1.00v1.00h-1.00zM444.6 379.6h1.00v1.00h-1.00zM452.9 379.2h1.00v1.00h-1.00zM461.1 381.1h1.00v1.00h-1.00zM447.0 395.3h1.00v1.00h-1.00zM441.1 368.5h1.00v1.00h-1.00zM440.9 396.3h1.00v1.00h-1.00zM450.9 402.1h1.00v1.00h-1.00zM450.6 386.5h1.00v1.00h-1.00zM452.2 374.8h1.00v1.00h-1.00zM442.7 400.9h1.00v1.00h-1.00zM451.2 392.7h1.00v1.00h-1.00zM440.4 378.3h1.00v1.00h-1.00zM461.3 391.8h1.00v1.00h-1.00zM442.4 385.6h1.00v1.00h-1.00zM448.1 391.9h1.00v1.00h-1.00zM461.8 399.9h1.00v1.00h-1.00zM456.0 389.2h1.00v1.00h-1.00zM451.9 386.6h1.00v1.00h-1.00zM462.8 373.8h1.00v1.00h-1.00z"/>
<rect x="465.50" y="331.50" width="46.70" height="79.10" stroke="#555" stroke-width="0.8" fill="none"/>
<text x="442.50" y="335.40" font-size="5.0" text-anchor="middle" fill="#333" stroke="#333" stroke-width="0.12">Total Areg+</text>
<text x="442.00" y="340.60" font-size="5.0" text-anchor="middle" fill="#333" stroke="#333" stroke-width="0.12">92.0</text>
</g>
<rect x="0.50" y="0.50" width="519.00" height="445.00" stroke="#3c3c3c" stroke-width="1" fill="none"/>
</svg></body></html>
